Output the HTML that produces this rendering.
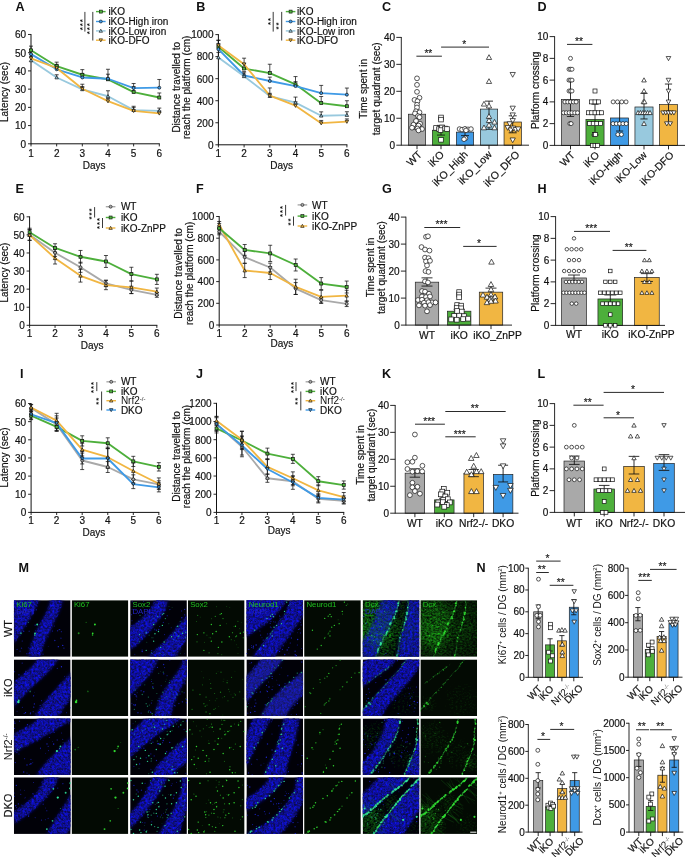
<!DOCTYPE html>
<html><head><meta charset="utf-8"><title>Figure</title>
<style>html,body{margin:0;padding:0;background:#fff;}body{width:685px;height:857px;overflow:hidden;font-family:"Liberation Sans",sans-serif;}svg{display:block;will-change:transform;opacity:0.999;}</style></head>
<body>
<svg width="685" height="857" viewBox="0 0 685 857" font-family="'Liberation Sans', sans-serif">
<rect width="685" height="857" fill="#fff"/>
<defs><filter id="sp0" x="-10%" y="-10%" width="120%" height="120%" color-interpolation-filters="sRGB"><feGaussianBlur in="SourceGraphic" stdDeviation="2.3" result="b"/><feTurbulence type="fractalNoise" baseFrequency="0.44" numOctaves="2" seed="11" result="t"/><feColorMatrix in="t" type="matrix" values="0 0 0 0 0.055  0 0 0 0 0.06  0 1.0 0 0 0.16  1 0 0 0 0" result="n"/><feComposite in="b" in2="n" operator="arithmetic" k1="1" k2="0" k3="0" k4="0" result="p"/><feColorMatrix in="p" type="matrix" values="1 0 0 0 0  0 1 0 0 0  0 0 1 0 0  0 0 0 4.2 -1.1"/></filter><filter id="gn0" x="-40%" y="-40%" width="180%" height="180%" color-interpolation-filters="sRGB"><feGaussianBlur in="SourceGraphic" stdDeviation="4.5" result="b"/><feTurbulence type="fractalNoise" baseFrequency="0.45 0.6" numOctaves="2" seed="14" result="t"/><feColorMatrix in="t" type="matrix" values="0 0 0 0 0.10  0 0.7 0 0 0.28  0 0 0 0 0.08  1 0 0 0 0" result="n"/><feComposite in="b" in2="n" operator="arithmetic" k1="1" k2="0" k3="0" k4="0" result="p"/><feColorMatrix in="p" type="matrix" values="1 0 0 0 0  0 1 0 0 0  0 0 1 0 0  0 0 0 2.0 -0.2"/></filter><filter id="sp1" x="-10%" y="-10%" width="120%" height="120%" color-interpolation-filters="sRGB"><feGaussianBlur in="SourceGraphic" stdDeviation="2.3" result="b"/><feTurbulence type="fractalNoise" baseFrequency="0.44" numOctaves="2" seed="23" result="t"/><feColorMatrix in="t" type="matrix" values="0 0 0 0 0.055  0 0 0 0 0.06  0 1.0 0 0 0.16  1 0 0 0 0" result="n"/><feComposite in="b" in2="n" operator="arithmetic" k1="1" k2="0" k3="0" k4="0" result="p"/><feColorMatrix in="p" type="matrix" values="1 0 0 0 0  0 1 0 0 0  0 0 1 0 0  0 0 0 4.2 -1.1"/></filter><filter id="gn1" x="-40%" y="-40%" width="180%" height="180%" color-interpolation-filters="sRGB"><feGaussianBlur in="SourceGraphic" stdDeviation="4.5" result="b"/><feTurbulence type="fractalNoise" baseFrequency="0.45 0.6" numOctaves="2" seed="26" result="t"/><feColorMatrix in="t" type="matrix" values="0 0 0 0 0.10  0 0.7 0 0 0.28  0 0 0 0 0.08  1 0 0 0 0" result="n"/><feComposite in="b" in2="n" operator="arithmetic" k1="1" k2="0" k3="0" k4="0" result="p"/><feColorMatrix in="p" type="matrix" values="1 0 0 0 0  0 1 0 0 0  0 0 1 0 0  0 0 0 2.0 -0.2"/></filter><filter id="sp2" x="-10%" y="-10%" width="120%" height="120%" color-interpolation-filters="sRGB"><feGaussianBlur in="SourceGraphic" stdDeviation="2.3" result="b"/><feTurbulence type="fractalNoise" baseFrequency="0.44" numOctaves="2" seed="37" result="t"/><feColorMatrix in="t" type="matrix" values="0 0 0 0 0.055  0 0 0 0 0.06  0 1.0 0 0 0.16  1 0 0 0 0" result="n"/><feComposite in="b" in2="n" operator="arithmetic" k1="1" k2="0" k3="0" k4="0" result="p"/><feColorMatrix in="p" type="matrix" values="1 0 0 0 0  0 1 0 0 0  0 0 1 0 0  0 0 0 4.2 -1.1"/></filter><filter id="gn2" x="-40%" y="-40%" width="180%" height="180%" color-interpolation-filters="sRGB"><feGaussianBlur in="SourceGraphic" stdDeviation="4.5" result="b"/><feTurbulence type="fractalNoise" baseFrequency="0.45 0.6" numOctaves="2" seed="40" result="t"/><feColorMatrix in="t" type="matrix" values="0 0 0 0 0.10  0 0.7 0 0 0.28  0 0 0 0 0.08  1 0 0 0 0" result="n"/><feComposite in="b" in2="n" operator="arithmetic" k1="1" k2="0" k3="0" k4="0" result="p"/><feColorMatrix in="p" type="matrix" values="1 0 0 0 0  0 1 0 0 0  0 0 1 0 0  0 0 0 2.0 -0.2"/></filter><filter id="sp3" x="-10%" y="-10%" width="120%" height="120%" color-interpolation-filters="sRGB"><feGaussianBlur in="SourceGraphic" stdDeviation="2.3" result="b"/><feTurbulence type="fractalNoise" baseFrequency="0.44" numOctaves="2" seed="5" result="t"/><feColorMatrix in="t" type="matrix" values="0 0 0 0 0.055  0 0 0 0 0.06  0 1.0 0 0 0.16  1 0 0 0 0" result="n"/><feComposite in="b" in2="n" operator="arithmetic" k1="1" k2="0" k3="0" k4="0" result="p"/><feColorMatrix in="p" type="matrix" values="1 0 0 0 0  0 1 0 0 0  0 0 1 0 0  0 0 0 4.2 -1.1"/></filter><filter id="gn3" x="-40%" y="-40%" width="180%" height="180%" color-interpolation-filters="sRGB"><feGaussianBlur in="SourceGraphic" stdDeviation="4.5" result="b"/><feTurbulence type="fractalNoise" baseFrequency="0.45 0.6" numOctaves="2" seed="8" result="t"/><feColorMatrix in="t" type="matrix" values="0 0 0 0 0.10  0 0.7 0 0 0.28  0 0 0 0 0.08  1 0 0 0 0" result="n"/><feComposite in="b" in2="n" operator="arithmetic" k1="1" k2="0" k3="0" k4="0" result="p"/><feColorMatrix in="p" type="matrix" values="1 0 0 0 0  0 1 0 0 0  0 0 1 0 0  0 0 0 2.0 -0.2"/></filter><filter id="bb" x="-10%" y="-10%" width="120%" height="120%"><feGaussianBlur stdDeviation="1.6"/></filter><filter id="gb" x="-50%" y="-50%" width="200%" height="200%"><feGaussianBlur stdDeviation="0.3"/></filter><clipPath id="c1"><rect x="0" y="0" width="56.7" height="56.6"/></clipPath><clipPath id="c2"><rect x="0" y="0" width="56.7" height="56.6"/></clipPath><clipPath id="c3"><rect x="0" y="0" width="56.7" height="56.6"/></clipPath><clipPath id="c4"><rect x="0" y="0" width="56.7" height="56.6"/></clipPath><clipPath id="c5"><rect x="0" y="0" width="56.7" height="56.6"/></clipPath><clipPath id="c6"><rect x="0" y="0" width="56.7" height="56.6"/></clipPath><clipPath id="c7"><rect x="0" y="0" width="56.7" height="56.6"/></clipPath><clipPath id="c8"><rect x="0" y="0" width="56.7" height="56.6"/></clipPath><clipPath id="c9"><rect x="0" y="0" width="56.7" height="56.6"/></clipPath><clipPath id="c10"><rect x="0" y="0" width="56.7" height="56.6"/></clipPath><clipPath id="c11"><rect x="0" y="0" width="56.7" height="56.6"/></clipPath><clipPath id="c12"><rect x="0" y="0" width="56.7" height="56.6"/></clipPath><clipPath id="c13"><rect x="0" y="0" width="56.7" height="56.6"/></clipPath><clipPath id="c14"><rect x="0" y="0" width="56.7" height="56.6"/></clipPath><clipPath id="c15"><rect x="0" y="0" width="56.7" height="56.6"/></clipPath><clipPath id="c16"><rect x="0" y="0" width="56.7" height="56.6"/></clipPath></defs>
<text x="15.5" y="10.7" font-size="12.6" text-anchor="start" font-weight="bold" fill="#111">A</text>
<line x1="31" y1="34.03" x2="31" y2="144.25" stroke="#111" stroke-width="1"/>
<line x1="31" y1="143.8" x2="159.8" y2="143.8" stroke="#111" stroke-width="1"/>
<line x1="28" y1="143.8" x2="31" y2="143.8" stroke="#111" stroke-width="0.9"/>
<text x="26.1" y="147.65" font-size="10" text-anchor="end" fill="#111" stroke="#111" stroke-width="0.18">0</text>
<line x1="28" y1="125.58" x2="31" y2="125.58" stroke="#111" stroke-width="0.9"/>
<text x="26.1" y="129.43" font-size="10" text-anchor="end" fill="#111" stroke="#111" stroke-width="0.18">10</text>
<line x1="28" y1="107.36" x2="31" y2="107.36" stroke="#111" stroke-width="0.9"/>
<text x="26.1" y="111.21" font-size="10" text-anchor="end" fill="#111" stroke="#111" stroke-width="0.18">20</text>
<line x1="28" y1="89.14" x2="31" y2="89.14" stroke="#111" stroke-width="0.9"/>
<text x="26.1" y="92.99" font-size="10" text-anchor="end" fill="#111" stroke="#111" stroke-width="0.18">30</text>
<line x1="28" y1="70.92" x2="31" y2="70.92" stroke="#111" stroke-width="0.9"/>
<text x="26.1" y="74.77" font-size="10" text-anchor="end" fill="#111" stroke="#111" stroke-width="0.18">40</text>
<line x1="28" y1="52.7" x2="31" y2="52.7" stroke="#111" stroke-width="0.9"/>
<text x="26.1" y="56.55" font-size="10" text-anchor="end" fill="#111" stroke="#111" stroke-width="0.18">50</text>
<line x1="28" y1="34.48" x2="31" y2="34.48" stroke="#111" stroke-width="0.9"/>
<text x="26.1" y="38.33" font-size="10" text-anchor="end" fill="#111" stroke="#111" stroke-width="0.18">60</text>
<line x1="31" y1="143.8" x2="31" y2="146.4" stroke="#111" stroke-width="0.9"/>
<text x="31" y="156.6" font-size="10" text-anchor="middle" fill="#111" stroke="#111" stroke-width="0.18">1</text>
<line x1="56.66" y1="143.8" x2="56.66" y2="146.4" stroke="#111" stroke-width="0.9"/>
<text x="56.66" y="156.6" font-size="10" text-anchor="middle" fill="#111" stroke="#111" stroke-width="0.18">2</text>
<line x1="82.32" y1="143.8" x2="82.32" y2="146.4" stroke="#111" stroke-width="0.9"/>
<text x="82.32" y="156.6" font-size="10" text-anchor="middle" fill="#111" stroke="#111" stroke-width="0.18">3</text>
<line x1="107.98" y1="143.8" x2="107.98" y2="146.4" stroke="#111" stroke-width="0.9"/>
<text x="107.98" y="156.6" font-size="10" text-anchor="middle" fill="#111" stroke="#111" stroke-width="0.18">4</text>
<line x1="133.64" y1="143.8" x2="133.64" y2="146.4" stroke="#111" stroke-width="0.9"/>
<text x="133.64" y="156.6" font-size="10" text-anchor="middle" fill="#111" stroke="#111" stroke-width="0.18">5</text>
<line x1="159.3" y1="143.8" x2="159.3" y2="146.4" stroke="#111" stroke-width="0.9"/>
<text x="159.3" y="156.6" font-size="10" text-anchor="middle" fill="#111" stroke="#111" stroke-width="0.18">6</text>
<text x="94.15" y="168.8" font-size="10" text-anchor="middle" fill="#111" stroke="#111" stroke-width="0.18">Days</text>
<text x="8.2" y="92" font-size="10" text-anchor="middle" transform="rotate(-90 8.2 92)" fill="#111" stroke="#111" stroke-width="0.18">Latency (sec)</text>
<polyline points="31,50.33 56.66,66.18 82.32,74.75 107.98,79.3 133.64,92.06 159.3,97.52" fill="none" stroke="#4DAF3B" stroke-width="1.85" stroke-linejoin="round"/>
<polyline points="31,54.16 56.66,69.28 82.32,77.48 107.98,78.75 133.64,88.05 159.3,87.68" fill="none" stroke="#3F9AE6" stroke-width="1.85" stroke-linejoin="round"/>
<polyline points="31,60.35 56.66,77.48 82.32,89.32 107.98,96.25 133.64,110.09 159.3,110.82" fill="none" stroke="#98C9DE" stroke-width="1.85" stroke-linejoin="round"/>
<polyline points="31,58.35 56.66,68 82.32,88.78 107.98,101.17 133.64,110.82 159.3,113.37" fill="none" stroke="#F1B642" stroke-width="1.85" stroke-linejoin="round"/>
<line x1="31" y1="50.33" x2="31" y2="46.14" stroke="#111" stroke-width="0.75"/>
<line x1="29" y1="46.14" x2="33" y2="46.14" stroke="#111" stroke-width="0.75"/>
<line x1="56.66" y1="66.18" x2="56.66" y2="62.17" stroke="#111" stroke-width="0.75"/>
<line x1="54.66" y1="62.17" x2="58.66" y2="62.17" stroke="#111" stroke-width="0.75"/>
<line x1="82.32" y1="74.75" x2="82.32" y2="69.64" stroke="#111" stroke-width="0.75"/>
<line x1="80.32" y1="69.64" x2="84.32" y2="69.64" stroke="#111" stroke-width="0.75"/>
<line x1="107.98" y1="79.3" x2="107.98" y2="69.28" stroke="#111" stroke-width="0.75"/>
<line x1="105.98" y1="69.28" x2="109.98" y2="69.28" stroke="#111" stroke-width="0.75"/>
<line x1="133.64" y1="92.06" x2="133.64" y2="86.59" stroke="#111" stroke-width="0.75"/>
<line x1="131.64" y1="86.59" x2="135.64" y2="86.59" stroke="#111" stroke-width="0.75"/>
<line x1="159.3" y1="97.52" x2="159.3" y2="92.97" stroke="#111" stroke-width="0.75"/>
<line x1="157.3" y1="92.97" x2="161.3" y2="92.97" stroke="#111" stroke-width="0.75"/>
<line x1="31" y1="54.16" x2="31" y2="49.6" stroke="#111" stroke-width="0.75"/>
<line x1="29" y1="49.6" x2="33" y2="49.6" stroke="#111" stroke-width="0.75"/>
<line x1="56.66" y1="69.28" x2="56.66" y2="65.64" stroke="#111" stroke-width="0.75"/>
<line x1="54.66" y1="65.64" x2="58.66" y2="65.64" stroke="#111" stroke-width="0.75"/>
<line x1="82.32" y1="77.48" x2="82.32" y2="73.84" stroke="#111" stroke-width="0.75"/>
<line x1="80.32" y1="73.84" x2="84.32" y2="73.84" stroke="#111" stroke-width="0.75"/>
<line x1="107.98" y1="78.75" x2="107.98" y2="74.2" stroke="#111" stroke-width="0.75"/>
<line x1="105.98" y1="74.2" x2="109.98" y2="74.2" stroke="#111" stroke-width="0.75"/>
<line x1="133.64" y1="88.05" x2="133.64" y2="83.49" stroke="#111" stroke-width="0.75"/>
<line x1="131.64" y1="83.49" x2="135.64" y2="83.49" stroke="#111" stroke-width="0.75"/>
<line x1="159.3" y1="87.68" x2="159.3" y2="79.48" stroke="#111" stroke-width="0.75"/>
<line x1="157.3" y1="79.48" x2="161.3" y2="79.48" stroke="#111" stroke-width="0.75"/>
<line x1="31" y1="60.35" x2="31" y2="56.71" stroke="#111" stroke-width="0.75"/>
<line x1="29" y1="56.71" x2="33" y2="56.71" stroke="#111" stroke-width="0.75"/>
<line x1="56.66" y1="77.48" x2="56.66" y2="74.75" stroke="#111" stroke-width="0.75"/>
<line x1="54.66" y1="74.75" x2="58.66" y2="74.75" stroke="#111" stroke-width="0.75"/>
<line x1="82.32" y1="89.32" x2="82.32" y2="86.59" stroke="#111" stroke-width="0.75"/>
<line x1="80.32" y1="86.59" x2="84.32" y2="86.59" stroke="#111" stroke-width="0.75"/>
<line x1="107.98" y1="96.25" x2="107.98" y2="90.78" stroke="#111" stroke-width="0.75"/>
<line x1="105.98" y1="90.78" x2="109.98" y2="90.78" stroke="#111" stroke-width="0.75"/>
<line x1="133.64" y1="110.09" x2="133.64" y2="107.36" stroke="#111" stroke-width="0.75"/>
<line x1="131.64" y1="107.36" x2="135.64" y2="107.36" stroke="#111" stroke-width="0.75"/>
<line x1="159.3" y1="110.82" x2="159.3" y2="108.09" stroke="#111" stroke-width="0.75"/>
<line x1="157.3" y1="108.09" x2="161.3" y2="108.09" stroke="#111" stroke-width="0.75"/>
<line x1="31" y1="58.35" x2="31" y2="54.7" stroke="#111" stroke-width="0.75"/>
<line x1="29" y1="54.7" x2="33" y2="54.7" stroke="#111" stroke-width="0.75"/>
<line x1="56.66" y1="68" x2="56.66" y2="64.36" stroke="#111" stroke-width="0.75"/>
<line x1="54.66" y1="64.36" x2="58.66" y2="64.36" stroke="#111" stroke-width="0.75"/>
<line x1="82.32" y1="88.78" x2="82.32" y2="84.22" stroke="#111" stroke-width="0.75"/>
<line x1="80.32" y1="84.22" x2="84.32" y2="84.22" stroke="#111" stroke-width="0.75"/>
<line x1="107.98" y1="101.17" x2="107.98" y2="98.43" stroke="#111" stroke-width="0.75"/>
<line x1="105.98" y1="98.43" x2="109.98" y2="98.43" stroke="#111" stroke-width="0.75"/>
<line x1="133.64" y1="110.82" x2="133.64" y2="106.27" stroke="#111" stroke-width="0.75"/>
<line x1="131.64" y1="106.27" x2="135.64" y2="106.27" stroke="#111" stroke-width="0.75"/>
<line x1="159.3" y1="113.37" x2="159.3" y2="111" stroke="#111" stroke-width="0.75"/>
<line x1="157.3" y1="111" x2="161.3" y2="111" stroke="#111" stroke-width="0.75"/>
<rect x="29.5" y="48.83" width="3" height="3" fill="#4DAF3B" stroke="#111" stroke-width="0.7"/>
<rect x="55.16" y="64.68" width="3" height="3" fill="#4DAF3B" stroke="#111" stroke-width="0.7"/>
<rect x="80.82" y="73.25" width="3" height="3" fill="#4DAF3B" stroke="#111" stroke-width="0.7"/>
<rect x="106.48" y="77.8" width="3" height="3" fill="#4DAF3B" stroke="#111" stroke-width="0.7"/>
<rect x="132.14" y="90.56" width="3" height="3" fill="#4DAF3B" stroke="#111" stroke-width="0.7"/>
<rect x="157.8" y="96.02" width="3" height="3" fill="#4DAF3B" stroke="#111" stroke-width="0.7"/>
<circle cx="31" cy="54.16" r="1.5" fill="#3F9AE6" stroke="#111" stroke-width="0.7"/>
<circle cx="56.66" cy="69.28" r="1.5" fill="#3F9AE6" stroke="#111" stroke-width="0.7"/>
<circle cx="82.32" cy="77.48" r="1.5" fill="#3F9AE6" stroke="#111" stroke-width="0.7"/>
<circle cx="107.98" cy="78.75" r="1.5" fill="#3F9AE6" stroke="#111" stroke-width="0.7"/>
<circle cx="133.64" cy="88.05" r="1.5" fill="#3F9AE6" stroke="#111" stroke-width="0.7"/>
<circle cx="159.3" cy="87.68" r="1.5" fill="#3F9AE6" stroke="#111" stroke-width="0.7"/>
<path d="M31 58.63 L32.73 61.73 L29.27 61.73 Z" fill="#98C9DE" stroke="#111" stroke-width="0.7"/>
<path d="M56.66 75.75 L58.38 78.86 L54.93 78.86 Z" fill="#98C9DE" stroke="#111" stroke-width="0.7"/>
<path d="M82.32 87.6 L84.04 90.7 L80.59 90.7 Z" fill="#98C9DE" stroke="#111" stroke-width="0.7"/>
<path d="M107.98 94.52 L109.7 97.63 L106.26 97.63 Z" fill="#98C9DE" stroke="#111" stroke-width="0.7"/>
<path d="M133.64 108.37 L135.36 111.47 L131.91 111.47 Z" fill="#98C9DE" stroke="#111" stroke-width="0.7"/>
<path d="M159.3 109.1 L161.03 112.2 L157.58 112.2 Z" fill="#98C9DE" stroke="#111" stroke-width="0.7"/>
<path d="M31 60.07 L32.73 56.97 L29.27 56.97 Z" fill="#F1B642" stroke="#111" stroke-width="0.7"/>
<path d="M56.66 69.73 L58.38 66.62 L54.93 66.62 Z" fill="#F1B642" stroke="#111" stroke-width="0.7"/>
<path d="M82.32 90.5 L84.04 87.4 L80.59 87.4 Z" fill="#F1B642" stroke="#111" stroke-width="0.7"/>
<path d="M107.98 102.89 L109.7 99.79 L106.26 99.79 Z" fill="#F1B642" stroke="#111" stroke-width="0.7"/>
<path d="M133.64 112.55 L135.36 109.44 L131.91 109.44 Z" fill="#F1B642" stroke="#111" stroke-width="0.7"/>
<path d="M159.3 115.1 L161.03 111.99 L157.58 111.99 Z" fill="#F1B642" stroke="#111" stroke-width="0.7"/>
<line x1="96" y1="11.6" x2="105.6" y2="11.6" stroke="#4DAF3B" stroke-width="1.4"/>
<rect x="99.3" y="10.1" width="3" height="3" fill="#4DAF3B" stroke="#111" stroke-width="0.6"/>
<text x="108.4" y="15.2" font-size="10" text-anchor="start" fill="#111" stroke="#111" stroke-width="0.18">iKO</text>
<line x1="96" y1="21.5" x2="105.6" y2="21.5" stroke="#3F9AE6" stroke-width="1.4"/>
<circle cx="100.8" cy="21.5" r="1.5" fill="#3F9AE6" stroke="#111" stroke-width="0.6"/>
<text x="108.4" y="25.1" font-size="10" text-anchor="start" fill="#111" stroke="#111" stroke-width="0.18">iKO-High iron</text>
<line x1="96" y1="30.9" x2="105.6" y2="30.9" stroke="#98C9DE" stroke-width="1.4"/>
<path d="M100.8 29.17 L102.52 32.28 L99.08 32.28 Z" fill="#98C9DE" stroke="#111" stroke-width="0.6"/>
<text x="108.4" y="34.5" font-size="10" text-anchor="start" fill="#111" stroke="#111" stroke-width="0.18">iKO-Low iron</text>
<line x1="96" y1="40.2" x2="105.6" y2="40.2" stroke="#F1B642" stroke-width="1.4"/>
<path d="M100.8 41.93 L102.52 38.82 L99.08 38.82 Z" fill="#F1B642" stroke="#111" stroke-width="0.6"/>
<text x="108.4" y="43.8" font-size="10" text-anchor="start" fill="#111" stroke="#111" stroke-width="0.18">iKO-DFO</text>
<line x1="84.9" y1="11.9" x2="84.9" y2="31.6" stroke="#222" stroke-width="0.9"/>
<text x="84.5" y="24.25" font-size="8" text-anchor="middle" transform="rotate(-90 84.5 24.25)" font-weight="bold" fill="#111" letter-spacing="0.9">***</text>
<line x1="92.8" y1="11.9" x2="92.8" y2="40.5" stroke="#222" stroke-width="0.9"/>
<text x="92.4" y="28.15" font-size="8" text-anchor="middle" transform="rotate(-90 92.4 28.15)" font-weight="bold" fill="#111" letter-spacing="0.9">***</text>
<text x="196.3" y="10.7" font-size="12.6" text-anchor="start" font-weight="bold" fill="#111">B</text>
<line x1="218.4" y1="34.15" x2="218.4" y2="145.25" stroke="#111" stroke-width="1"/>
<line x1="218.4" y1="144.8" x2="347.4" y2="144.8" stroke="#111" stroke-width="1"/>
<line x1="215.4" y1="144.8" x2="218.4" y2="144.8" stroke="#111" stroke-width="0.9"/>
<text x="213.5" y="148.65" font-size="10" text-anchor="end" fill="#111" stroke="#111" stroke-width="0.18">0</text>
<line x1="215.4" y1="122.76" x2="218.4" y2="122.76" stroke="#111" stroke-width="0.9"/>
<text x="213.5" y="126.61" font-size="10" text-anchor="end" fill="#111" stroke="#111" stroke-width="0.18">200</text>
<line x1="215.4" y1="100.72" x2="218.4" y2="100.72" stroke="#111" stroke-width="0.9"/>
<text x="213.5" y="104.57" font-size="10" text-anchor="end" fill="#111" stroke="#111" stroke-width="0.18">400</text>
<line x1="215.4" y1="78.68" x2="218.4" y2="78.68" stroke="#111" stroke-width="0.9"/>
<text x="213.5" y="82.53" font-size="10" text-anchor="end" fill="#111" stroke="#111" stroke-width="0.18">600</text>
<line x1="215.4" y1="56.64" x2="218.4" y2="56.64" stroke="#111" stroke-width="0.9"/>
<text x="213.5" y="60.49" font-size="10" text-anchor="end" fill="#111" stroke="#111" stroke-width="0.18">800</text>
<line x1="215.4" y1="34.6" x2="218.4" y2="34.6" stroke="#111" stroke-width="0.9"/>
<text x="213.5" y="38.45" font-size="10" text-anchor="end" fill="#111" stroke="#111" stroke-width="0.18">1000</text>
<line x1="218.4" y1="144.8" x2="218.4" y2="147.4" stroke="#111" stroke-width="0.9"/>
<text x="218.4" y="157.1" font-size="10" text-anchor="middle" fill="#111" stroke="#111" stroke-width="0.18">1</text>
<line x1="244.1" y1="144.8" x2="244.1" y2="147.4" stroke="#111" stroke-width="0.9"/>
<text x="244.1" y="157.1" font-size="10" text-anchor="middle" fill="#111" stroke="#111" stroke-width="0.18">2</text>
<line x1="269.8" y1="144.8" x2="269.8" y2="147.4" stroke="#111" stroke-width="0.9"/>
<text x="269.8" y="157.1" font-size="10" text-anchor="middle" fill="#111" stroke="#111" stroke-width="0.18">3</text>
<line x1="295.5" y1="144.8" x2="295.5" y2="147.4" stroke="#111" stroke-width="0.9"/>
<text x="295.5" y="157.1" font-size="10" text-anchor="middle" fill="#111" stroke="#111" stroke-width="0.18">4</text>
<line x1="321.2" y1="144.8" x2="321.2" y2="147.4" stroke="#111" stroke-width="0.9"/>
<text x="321.2" y="157.1" font-size="10" text-anchor="middle" fill="#111" stroke="#111" stroke-width="0.18">5</text>
<line x1="346.9" y1="144.8" x2="346.9" y2="147.4" stroke="#111" stroke-width="0.9"/>
<text x="346.9" y="157.1" font-size="10" text-anchor="middle" fill="#111" stroke="#111" stroke-width="0.18">6</text>
<text x="281.65" y="168.8" font-size="10" text-anchor="middle" fill="#111" stroke="#111" stroke-width="0.18">Days</text>
<text x="179.7" y="87.3" font-size="10" text-anchor="middle" transform="rotate(-90 179.7 87.3)" fill="#111" stroke="#111" stroke-width="0.18">Distance travelled to</text>
<text x="190" y="87.3" font-size="10" text-anchor="middle" transform="rotate(-90 190 87.3)" fill="#111" stroke="#111" stroke-width="0.18">reach the platform (cm)</text>
<polyline points="218.4,46.72 244.1,68.54 269.8,73.06 295.5,84.3 321.2,103.14 346.9,106.23" fill="none" stroke="#4DAF3B" stroke-width="1.85" stroke-linejoin="round"/>
<polyline points="218.4,49.15 244.1,75.48 269.8,80.99 295.5,86.06 321.2,93.12 346.9,94.66" fill="none" stroke="#3F9AE6" stroke-width="1.85" stroke-linejoin="round"/>
<polyline points="218.4,57.41 244.1,76.26 269.8,96.09 295.5,102.59 321.2,115.71 346.9,115.05" fill="none" stroke="#98C9DE" stroke-width="1.85" stroke-linejoin="round"/>
<polyline points="218.4,45.4 244.1,64.24 269.8,95.65 295.5,105.68 321.2,123.2 346.9,121.66" fill="none" stroke="#F1B642" stroke-width="1.85" stroke-linejoin="round"/>
<line x1="218.4" y1="46.72" x2="218.4" y2="40.11" stroke="#111" stroke-width="0.75"/>
<line x1="216.4" y1="40.11" x2="220.4" y2="40.11" stroke="#111" stroke-width="0.75"/>
<line x1="244.1" y1="68.54" x2="244.1" y2="63.58" stroke="#111" stroke-width="0.75"/>
<line x1="242.1" y1="63.58" x2="246.1" y2="63.58" stroke="#111" stroke-width="0.75"/>
<line x1="269.8" y1="73.06" x2="269.8" y2="64.24" stroke="#111" stroke-width="0.75"/>
<line x1="267.8" y1="64.24" x2="271.8" y2="64.24" stroke="#111" stroke-width="0.75"/>
<line x1="295.5" y1="84.3" x2="295.5" y2="76.59" stroke="#111" stroke-width="0.75"/>
<line x1="293.5" y1="76.59" x2="297.5" y2="76.59" stroke="#111" stroke-width="0.75"/>
<line x1="321.2" y1="103.14" x2="321.2" y2="96.53" stroke="#111" stroke-width="0.75"/>
<line x1="319.2" y1="96.53" x2="323.2" y2="96.53" stroke="#111" stroke-width="0.75"/>
<line x1="346.9" y1="106.23" x2="346.9" y2="100.72" stroke="#111" stroke-width="0.75"/>
<line x1="344.9" y1="100.72" x2="348.9" y2="100.72" stroke="#111" stroke-width="0.75"/>
<line x1="218.4" y1="49.15" x2="218.4" y2="43.64" stroke="#111" stroke-width="0.75"/>
<line x1="216.4" y1="43.64" x2="220.4" y2="43.64" stroke="#111" stroke-width="0.75"/>
<line x1="244.1" y1="75.48" x2="244.1" y2="71.63" stroke="#111" stroke-width="0.75"/>
<line x1="242.1" y1="71.63" x2="246.1" y2="71.63" stroke="#111" stroke-width="0.75"/>
<line x1="269.8" y1="80.99" x2="269.8" y2="77.14" stroke="#111" stroke-width="0.75"/>
<line x1="267.8" y1="77.14" x2="271.8" y2="77.14" stroke="#111" stroke-width="0.75"/>
<line x1="295.5" y1="86.06" x2="295.5" y2="81.66" stroke="#111" stroke-width="0.75"/>
<line x1="293.5" y1="81.66" x2="297.5" y2="81.66" stroke="#111" stroke-width="0.75"/>
<line x1="321.2" y1="93.12" x2="321.2" y2="85.4" stroke="#111" stroke-width="0.75"/>
<line x1="319.2" y1="85.4" x2="323.2" y2="85.4" stroke="#111" stroke-width="0.75"/>
<line x1="346.9" y1="94.66" x2="346.9" y2="88.05" stroke="#111" stroke-width="0.75"/>
<line x1="344.9" y1="88.05" x2="348.9" y2="88.05" stroke="#111" stroke-width="0.75"/>
<line x1="218.4" y1="57.41" x2="218.4" y2="52.45" stroke="#111" stroke-width="0.75"/>
<line x1="216.4" y1="52.45" x2="220.4" y2="52.45" stroke="#111" stroke-width="0.75"/>
<line x1="244.1" y1="76.26" x2="244.1" y2="72.95" stroke="#111" stroke-width="0.75"/>
<line x1="242.1" y1="72.95" x2="246.1" y2="72.95" stroke="#111" stroke-width="0.75"/>
<line x1="269.8" y1="96.09" x2="269.8" y2="93.34" stroke="#111" stroke-width="0.75"/>
<line x1="267.8" y1="93.34" x2="271.8" y2="93.34" stroke="#111" stroke-width="0.75"/>
<line x1="295.5" y1="102.59" x2="295.5" y2="97.08" stroke="#111" stroke-width="0.75"/>
<line x1="293.5" y1="97.08" x2="297.5" y2="97.08" stroke="#111" stroke-width="0.75"/>
<line x1="321.2" y1="115.71" x2="321.2" y2="111.85" stroke="#111" stroke-width="0.75"/>
<line x1="319.2" y1="111.85" x2="323.2" y2="111.85" stroke="#111" stroke-width="0.75"/>
<line x1="346.9" y1="115.05" x2="346.9" y2="111.74" stroke="#111" stroke-width="0.75"/>
<line x1="344.9" y1="111.74" x2="348.9" y2="111.74" stroke="#111" stroke-width="0.75"/>
<line x1="218.4" y1="45.4" x2="218.4" y2="40.44" stroke="#111" stroke-width="0.75"/>
<line x1="216.4" y1="40.44" x2="220.4" y2="40.44" stroke="#111" stroke-width="0.75"/>
<line x1="244.1" y1="64.24" x2="244.1" y2="58.18" stroke="#111" stroke-width="0.75"/>
<line x1="242.1" y1="58.18" x2="246.1" y2="58.18" stroke="#111" stroke-width="0.75"/>
<line x1="269.8" y1="95.65" x2="269.8" y2="87.94" stroke="#111" stroke-width="0.75"/>
<line x1="267.8" y1="87.94" x2="271.8" y2="87.94" stroke="#111" stroke-width="0.75"/>
<line x1="295.5" y1="105.68" x2="295.5" y2="101.82" stroke="#111" stroke-width="0.75"/>
<line x1="293.5" y1="101.82" x2="297.5" y2="101.82" stroke="#111" stroke-width="0.75"/>
<line x1="321.2" y1="123.2" x2="321.2" y2="120.45" stroke="#111" stroke-width="0.75"/>
<line x1="319.2" y1="120.45" x2="323.2" y2="120.45" stroke="#111" stroke-width="0.75"/>
<line x1="346.9" y1="121.66" x2="346.9" y2="118.9" stroke="#111" stroke-width="0.75"/>
<line x1="344.9" y1="118.9" x2="348.9" y2="118.9" stroke="#111" stroke-width="0.75"/>
<rect x="216.9" y="45.22" width="3" height="3" fill="#4DAF3B" stroke="#111" stroke-width="0.7"/>
<rect x="242.6" y="67.04" width="3" height="3" fill="#4DAF3B" stroke="#111" stroke-width="0.7"/>
<rect x="268.3" y="71.56" width="3" height="3" fill="#4DAF3B" stroke="#111" stroke-width="0.7"/>
<rect x="294" y="82.8" width="3" height="3" fill="#4DAF3B" stroke="#111" stroke-width="0.7"/>
<rect x="319.7" y="101.64" width="3" height="3" fill="#4DAF3B" stroke="#111" stroke-width="0.7"/>
<rect x="345.4" y="104.73" width="3" height="3" fill="#4DAF3B" stroke="#111" stroke-width="0.7"/>
<circle cx="218.4" cy="49.15" r="1.5" fill="#3F9AE6" stroke="#111" stroke-width="0.7"/>
<circle cx="244.1" cy="75.48" r="1.5" fill="#3F9AE6" stroke="#111" stroke-width="0.7"/>
<circle cx="269.8" cy="80.99" r="1.5" fill="#3F9AE6" stroke="#111" stroke-width="0.7"/>
<circle cx="295.5" cy="86.06" r="1.5" fill="#3F9AE6" stroke="#111" stroke-width="0.7"/>
<circle cx="321.2" cy="93.12" r="1.5" fill="#3F9AE6" stroke="#111" stroke-width="0.7"/>
<circle cx="346.9" cy="94.66" r="1.5" fill="#3F9AE6" stroke="#111" stroke-width="0.7"/>
<path d="M218.4 55.69 L220.12 58.79 L216.68 58.79 Z" fill="#98C9DE" stroke="#111" stroke-width="0.7"/>
<path d="M244.1 74.53 L245.82 77.64 L242.38 77.64 Z" fill="#98C9DE" stroke="#111" stroke-width="0.7"/>
<path d="M269.8 94.37 L271.53 97.47 L268.07 97.47 Z" fill="#98C9DE" stroke="#111" stroke-width="0.7"/>
<path d="M295.5 100.87 L297.23 103.97 L293.77 103.97 Z" fill="#98C9DE" stroke="#111" stroke-width="0.7"/>
<path d="M321.2 113.98 L322.93 117.09 L319.47 117.09 Z" fill="#98C9DE" stroke="#111" stroke-width="0.7"/>
<path d="M346.9 113.32 L348.62 116.43 L345.17 116.43 Z" fill="#98C9DE" stroke="#111" stroke-width="0.7"/>
<path d="M218.4 47.12 L220.12 44.02 L216.68 44.02 Z" fill="#F1B642" stroke="#111" stroke-width="0.7"/>
<path d="M244.1 65.97 L245.82 62.86 L242.38 62.86 Z" fill="#F1B642" stroke="#111" stroke-width="0.7"/>
<path d="M269.8 97.38 L271.53 94.27 L268.07 94.27 Z" fill="#F1B642" stroke="#111" stroke-width="0.7"/>
<path d="M295.5 107.4 L297.23 104.3 L293.77 104.3 Z" fill="#F1B642" stroke="#111" stroke-width="0.7"/>
<path d="M321.2 124.93 L322.93 121.82 L319.47 121.82 Z" fill="#F1B642" stroke="#111" stroke-width="0.7"/>
<path d="M346.9 123.38 L348.62 120.28 L345.17 120.28 Z" fill="#F1B642" stroke="#111" stroke-width="0.7"/>
<line x1="285.8" y1="11.6" x2="295.4" y2="11.6" stroke="#4DAF3B" stroke-width="1.4"/>
<rect x="289.1" y="10.1" width="3" height="3" fill="#4DAF3B" stroke="#111" stroke-width="0.6"/>
<text x="296.9" y="15.2" font-size="10" text-anchor="start" fill="#111" stroke="#111" stroke-width="0.18">iKO</text>
<line x1="285.8" y1="21.5" x2="295.4" y2="21.5" stroke="#3F9AE6" stroke-width="1.4"/>
<circle cx="290.6" cy="21.5" r="1.5" fill="#3F9AE6" stroke="#111" stroke-width="0.6"/>
<text x="296.9" y="25.1" font-size="10" text-anchor="start" fill="#111" stroke="#111" stroke-width="0.18">iKO-High iron</text>
<line x1="285.8" y1="30.9" x2="295.4" y2="30.9" stroke="#98C9DE" stroke-width="1.4"/>
<path d="M290.6 29.17 L292.33 32.28 L288.88 32.28 Z" fill="#98C9DE" stroke="#111" stroke-width="0.6"/>
<text x="296.9" y="34.5" font-size="10" text-anchor="start" fill="#111" stroke="#111" stroke-width="0.18">iKO-Low iron</text>
<line x1="285.8" y1="40.2" x2="295.4" y2="40.2" stroke="#F1B642" stroke-width="1.4"/>
<path d="M290.6 41.93 L292.33 38.82 L288.88 38.82 Z" fill="#F1B642" stroke="#111" stroke-width="0.6"/>
<text x="296.9" y="43.8" font-size="10" text-anchor="start" fill="#111" stroke="#111" stroke-width="0.18">iKO-DFO</text>
<line x1="273.2" y1="11.9" x2="273.2" y2="31.6" stroke="#222" stroke-width="0.9"/>
<text x="273" y="20.95" font-size="8" text-anchor="middle" transform="rotate(-90 273 20.95)" font-weight="bold" fill="#111" letter-spacing="0.9">**</text>
<line x1="281.7" y1="11.9" x2="281.7" y2="40.5" stroke="#222" stroke-width="0.9"/>
<text x="281.5" y="25.55" font-size="8" text-anchor="middle" transform="rotate(-90 281.5 25.55)" font-weight="bold" fill="#111" letter-spacing="0.9">**</text>
<text x="15.5" y="193" font-size="12.6" text-anchor="start" font-weight="bold" fill="#111">E</text>
<line x1="29.6" y1="216.37" x2="29.6" y2="325.75" stroke="#111" stroke-width="1"/>
<line x1="29.6" y1="325.3" x2="157.35" y2="325.3" stroke="#111" stroke-width="1"/>
<line x1="26.6" y1="325.3" x2="29.6" y2="325.3" stroke="#111" stroke-width="0.9"/>
<text x="24.7" y="329.15" font-size="10" text-anchor="end" fill="#111" stroke="#111" stroke-width="0.18">0</text>
<line x1="26.6" y1="307.22" x2="29.6" y2="307.22" stroke="#111" stroke-width="0.9"/>
<text x="24.7" y="311.07" font-size="10" text-anchor="end" fill="#111" stroke="#111" stroke-width="0.18">10</text>
<line x1="26.6" y1="289.14" x2="29.6" y2="289.14" stroke="#111" stroke-width="0.9"/>
<text x="24.7" y="292.99" font-size="10" text-anchor="end" fill="#111" stroke="#111" stroke-width="0.18">20</text>
<line x1="26.6" y1="271.06" x2="29.6" y2="271.06" stroke="#111" stroke-width="0.9"/>
<text x="24.7" y="274.91" font-size="10" text-anchor="end" fill="#111" stroke="#111" stroke-width="0.18">30</text>
<line x1="26.6" y1="252.98" x2="29.6" y2="252.98" stroke="#111" stroke-width="0.9"/>
<text x="24.7" y="256.83" font-size="10" text-anchor="end" fill="#111" stroke="#111" stroke-width="0.18">40</text>
<line x1="26.6" y1="234.9" x2="29.6" y2="234.9" stroke="#111" stroke-width="0.9"/>
<text x="24.7" y="238.75" font-size="10" text-anchor="end" fill="#111" stroke="#111" stroke-width="0.18">50</text>
<line x1="26.6" y1="216.82" x2="29.6" y2="216.82" stroke="#111" stroke-width="0.9"/>
<text x="24.7" y="220.67" font-size="10" text-anchor="end" fill="#111" stroke="#111" stroke-width="0.18">60</text>
<line x1="29.6" y1="325.3" x2="29.6" y2="327.9" stroke="#111" stroke-width="0.9"/>
<text x="29.6" y="337.1" font-size="10" text-anchor="middle" fill="#111" stroke="#111" stroke-width="0.18">1</text>
<line x1="55.05" y1="325.3" x2="55.05" y2="327.9" stroke="#111" stroke-width="0.9"/>
<text x="55.05" y="337.1" font-size="10" text-anchor="middle" fill="#111" stroke="#111" stroke-width="0.18">2</text>
<line x1="80.5" y1="325.3" x2="80.5" y2="327.9" stroke="#111" stroke-width="0.9"/>
<text x="80.5" y="337.1" font-size="10" text-anchor="middle" fill="#111" stroke="#111" stroke-width="0.18">3</text>
<line x1="105.95" y1="325.3" x2="105.95" y2="327.9" stroke="#111" stroke-width="0.9"/>
<text x="105.95" y="337.1" font-size="10" text-anchor="middle" fill="#111" stroke="#111" stroke-width="0.18">4</text>
<line x1="131.4" y1="325.3" x2="131.4" y2="327.9" stroke="#111" stroke-width="0.9"/>
<text x="131.4" y="337.1" font-size="10" text-anchor="middle" fill="#111" stroke="#111" stroke-width="0.18">5</text>
<line x1="156.85" y1="325.3" x2="156.85" y2="327.9" stroke="#111" stroke-width="0.9"/>
<text x="156.85" y="337.1" font-size="10" text-anchor="middle" fill="#111" stroke="#111" stroke-width="0.18">6</text>
<text x="92.22" y="349" font-size="10" text-anchor="middle" fill="#111" stroke="#111" stroke-width="0.18">Days</text>
<text x="8.2" y="272.6" font-size="10" text-anchor="middle" transform="rotate(-90 8.2 272.6)" fill="#111" stroke="#111" stroke-width="0.18">Latency (sec)</text>
<polyline points="29.6,234.72 55.05,252.8 80.5,267.26 105.95,283.35 131.4,289.86 156.85,294.93" fill="none" stroke="#A9A9A9" stroke-width="1.85" stroke-linejoin="round"/>
<polyline points="29.6,235.08 55.05,258.22 80.5,275.76 105.95,285.16 131.4,287.33 156.85,291.67" fill="none" stroke="#F1B642" stroke-width="1.85" stroke-linejoin="round"/>
<polyline points="29.6,232.19 55.05,247.92 80.5,256.78 105.95,261.48 131.4,274.13 156.85,279.38" fill="none" stroke="#4DAF3B" stroke-width="1.85" stroke-linejoin="round"/>
<line x1="29.6" y1="240.14" x2="29.6" y2="229.3" stroke="#111" stroke-width="0.75"/>
<line x1="27.6" y1="240.14" x2="31.6" y2="240.14" stroke="#111" stroke-width="0.75"/>
<line x1="27.6" y1="229.3" x2="31.6" y2="229.3" stroke="#111" stroke-width="0.75"/>
<line x1="55.05" y1="256.42" x2="55.05" y2="249.18" stroke="#111" stroke-width="0.75"/>
<line x1="53.05" y1="256.42" x2="57.05" y2="256.42" stroke="#111" stroke-width="0.75"/>
<line x1="53.05" y1="249.18" x2="57.05" y2="249.18" stroke="#111" stroke-width="0.75"/>
<line x1="80.5" y1="272.33" x2="80.5" y2="262.2" stroke="#111" stroke-width="0.75"/>
<line x1="78.5" y1="272.33" x2="82.5" y2="272.33" stroke="#111" stroke-width="0.75"/>
<line x1="78.5" y1="262.2" x2="82.5" y2="262.2" stroke="#111" stroke-width="0.75"/>
<line x1="105.95" y1="286.61" x2="105.95" y2="280.1" stroke="#111" stroke-width="0.75"/>
<line x1="103.95" y1="286.61" x2="107.95" y2="286.61" stroke="#111" stroke-width="0.75"/>
<line x1="103.95" y1="280.1" x2="107.95" y2="280.1" stroke="#111" stroke-width="0.75"/>
<line x1="131.4" y1="293.48" x2="131.4" y2="286.25" stroke="#111" stroke-width="0.75"/>
<line x1="129.4" y1="293.48" x2="133.4" y2="293.48" stroke="#111" stroke-width="0.75"/>
<line x1="129.4" y1="286.25" x2="133.4" y2="286.25" stroke="#111" stroke-width="0.75"/>
<line x1="156.85" y1="297.28" x2="156.85" y2="292.58" stroke="#111" stroke-width="0.75"/>
<line x1="154.85" y1="297.28" x2="158.85" y2="297.28" stroke="#111" stroke-width="0.75"/>
<line x1="154.85" y1="292.58" x2="158.85" y2="292.58" stroke="#111" stroke-width="0.75"/>
<line x1="29.6" y1="240.5" x2="29.6" y2="229.66" stroke="#111" stroke-width="0.75"/>
<line x1="27.6" y1="240.5" x2="31.6" y2="240.5" stroke="#111" stroke-width="0.75"/>
<line x1="27.6" y1="229.66" x2="31.6" y2="229.66" stroke="#111" stroke-width="0.75"/>
<line x1="55.05" y1="264.01" x2="55.05" y2="252.44" stroke="#111" stroke-width="0.75"/>
<line x1="53.05" y1="264.01" x2="57.05" y2="264.01" stroke="#111" stroke-width="0.75"/>
<line x1="53.05" y1="252.44" x2="57.05" y2="252.44" stroke="#111" stroke-width="0.75"/>
<line x1="80.5" y1="282.09" x2="80.5" y2="269.43" stroke="#111" stroke-width="0.75"/>
<line x1="78.5" y1="282.09" x2="82.5" y2="282.09" stroke="#111" stroke-width="0.75"/>
<line x1="78.5" y1="269.43" x2="82.5" y2="269.43" stroke="#111" stroke-width="0.75"/>
<line x1="105.95" y1="289.68" x2="105.95" y2="280.64" stroke="#111" stroke-width="0.75"/>
<line x1="103.95" y1="289.68" x2="107.95" y2="289.68" stroke="#111" stroke-width="0.75"/>
<line x1="103.95" y1="280.64" x2="107.95" y2="280.64" stroke="#111" stroke-width="0.75"/>
<line x1="131.4" y1="293.66" x2="131.4" y2="281" stroke="#111" stroke-width="0.75"/>
<line x1="129.4" y1="293.66" x2="133.4" y2="293.66" stroke="#111" stroke-width="0.75"/>
<line x1="129.4" y1="281" x2="133.4" y2="281" stroke="#111" stroke-width="0.75"/>
<line x1="156.85" y1="295.29" x2="156.85" y2="288.06" stroke="#111" stroke-width="0.75"/>
<line x1="154.85" y1="295.29" x2="158.85" y2="295.29" stroke="#111" stroke-width="0.75"/>
<line x1="154.85" y1="288.06" x2="158.85" y2="288.06" stroke="#111" stroke-width="0.75"/>
<line x1="29.6" y1="236.17" x2="29.6" y2="228.21" stroke="#111" stroke-width="0.75"/>
<line x1="27.6" y1="236.17" x2="31.6" y2="236.17" stroke="#111" stroke-width="0.75"/>
<line x1="27.6" y1="228.21" x2="31.6" y2="228.21" stroke="#111" stroke-width="0.75"/>
<line x1="55.05" y1="252.08" x2="55.05" y2="243.76" stroke="#111" stroke-width="0.75"/>
<line x1="53.05" y1="252.08" x2="57.05" y2="252.08" stroke="#111" stroke-width="0.75"/>
<line x1="53.05" y1="243.76" x2="57.05" y2="243.76" stroke="#111" stroke-width="0.75"/>
<line x1="80.5" y1="263.1" x2="80.5" y2="250.45" stroke="#111" stroke-width="0.75"/>
<line x1="78.5" y1="263.1" x2="82.5" y2="263.1" stroke="#111" stroke-width="0.75"/>
<line x1="78.5" y1="250.45" x2="82.5" y2="250.45" stroke="#111" stroke-width="0.75"/>
<line x1="105.95" y1="267.44" x2="105.95" y2="255.51" stroke="#111" stroke-width="0.75"/>
<line x1="103.95" y1="267.44" x2="107.95" y2="267.44" stroke="#111" stroke-width="0.75"/>
<line x1="103.95" y1="255.51" x2="107.95" y2="255.51" stroke="#111" stroke-width="0.75"/>
<line x1="131.4" y1="281" x2="131.4" y2="267.26" stroke="#111" stroke-width="0.75"/>
<line x1="129.4" y1="281" x2="133.4" y2="281" stroke="#111" stroke-width="0.75"/>
<line x1="129.4" y1="267.26" x2="133.4" y2="267.26" stroke="#111" stroke-width="0.75"/>
<line x1="156.85" y1="284.44" x2="156.85" y2="274.31" stroke="#111" stroke-width="0.75"/>
<line x1="154.85" y1="284.44" x2="158.85" y2="284.44" stroke="#111" stroke-width="0.75"/>
<line x1="154.85" y1="274.31" x2="158.85" y2="274.31" stroke="#111" stroke-width="0.75"/>
<circle cx="29.6" cy="234.72" r="1.5" fill="#A9A9A9" stroke="#111" stroke-width="0.7"/>
<circle cx="55.05" cy="252.8" r="1.5" fill="#A9A9A9" stroke="#111" stroke-width="0.7"/>
<circle cx="80.5" cy="267.26" r="1.5" fill="#A9A9A9" stroke="#111" stroke-width="0.7"/>
<circle cx="105.95" cy="283.35" r="1.5" fill="#A9A9A9" stroke="#111" stroke-width="0.7"/>
<circle cx="131.4" cy="289.86" r="1.5" fill="#A9A9A9" stroke="#111" stroke-width="0.7"/>
<circle cx="156.85" cy="294.93" r="1.5" fill="#A9A9A9" stroke="#111" stroke-width="0.7"/>
<path d="M29.6 233.36 L31.33 236.46 L27.88 236.46 Z" fill="#F1B642" stroke="#111" stroke-width="0.7"/>
<path d="M55.05 256.5 L56.77 259.6 L53.32 259.6 Z" fill="#F1B642" stroke="#111" stroke-width="0.7"/>
<path d="M80.5 274.04 L82.22 277.14 L78.78 277.14 Z" fill="#F1B642" stroke="#111" stroke-width="0.7"/>
<path d="M105.95 283.44 L107.67 286.54 L104.22 286.54 Z" fill="#F1B642" stroke="#111" stroke-width="0.7"/>
<path d="M131.4 285.61 L133.12 288.71 L129.68 288.71 Z" fill="#F1B642" stroke="#111" stroke-width="0.7"/>
<path d="M156.85 289.95 L158.57 293.05 L155.12 293.05 Z" fill="#F1B642" stroke="#111" stroke-width="0.7"/>
<rect x="28.1" y="230.69" width="3" height="3" fill="#4DAF3B" stroke="#111" stroke-width="0.7"/>
<rect x="53.55" y="246.42" width="3" height="3" fill="#4DAF3B" stroke="#111" stroke-width="0.7"/>
<rect x="79" y="255.28" width="3" height="3" fill="#4DAF3B" stroke="#111" stroke-width="0.7"/>
<rect x="104.45" y="259.98" width="3" height="3" fill="#4DAF3B" stroke="#111" stroke-width="0.7"/>
<rect x="129.9" y="272.63" width="3" height="3" fill="#4DAF3B" stroke="#111" stroke-width="0.7"/>
<rect x="155.35" y="277.88" width="3" height="3" fill="#4DAF3B" stroke="#111" stroke-width="0.7"/>
<line x1="105.8" y1="206.7" x2="115.4" y2="206.7" stroke="#A9A9A9" stroke-width="1.4"/>
<circle cx="110.6" cy="206.7" r="1.5" fill="#A9A9A9" stroke="#111" stroke-width="0.6"/>
<text x="120.9" y="210.3" font-size="10" text-anchor="start" fill="#111" stroke="#111" stroke-width="0.18">WT</text>
<line x1="105.8" y1="217.5" x2="115.4" y2="217.5" stroke="#4DAF3B" stroke-width="1.4"/>
<rect x="109.1" y="216" width="3" height="3" fill="#4DAF3B" stroke="#111" stroke-width="0.6"/>
<text x="120.9" y="221.1" font-size="10" text-anchor="start" fill="#111" stroke="#111" stroke-width="0.18">iKO</text>
<line x1="105.8" y1="228" x2="115.4" y2="228" stroke="#F1B642" stroke-width="1.4"/>
<path d="M110.6 226.28 L112.32 229.38 L108.88 229.38 Z" fill="#F1B642" stroke="#111" stroke-width="0.6"/>
<text x="120.9" y="231.6" font-size="10" text-anchor="start" fill="#111" stroke="#111" stroke-width="0.18">iKO-ZnPP</text>
<line x1="94.6" y1="207.1" x2="94.6" y2="217.5" stroke="#222" stroke-width="0.9"/>
<text x="94.1" y="213.55" font-size="8" text-anchor="middle" transform="rotate(-90 94.1 213.55)" font-weight="bold" fill="#111" letter-spacing="0.9">***</text>
<line x1="102.5" y1="218" x2="102.5" y2="228" stroke="#222" stroke-width="0.9"/>
<text x="102" y="222.95" font-size="8" text-anchor="middle" transform="rotate(-90 102 222.95)" font-weight="bold" fill="#111" letter-spacing="0.9">***</text>
<text x="196" y="193" font-size="12.6" text-anchor="start" font-weight="bold" fill="#111">F</text>
<line x1="219.2" y1="216.05" x2="219.2" y2="325.45" stroke="#111" stroke-width="1"/>
<line x1="219.2" y1="325" x2="347.2" y2="325" stroke="#111" stroke-width="1"/>
<line x1="216.2" y1="325" x2="219.2" y2="325" stroke="#111" stroke-width="0.9"/>
<text x="214.3" y="328.85" font-size="10" text-anchor="end" fill="#111" stroke="#111" stroke-width="0.18">0</text>
<line x1="216.2" y1="303.3" x2="219.2" y2="303.3" stroke="#111" stroke-width="0.9"/>
<text x="214.3" y="307.15" font-size="10" text-anchor="end" fill="#111" stroke="#111" stroke-width="0.18">200</text>
<line x1="216.2" y1="281.6" x2="219.2" y2="281.6" stroke="#111" stroke-width="0.9"/>
<text x="214.3" y="285.45" font-size="10" text-anchor="end" fill="#111" stroke="#111" stroke-width="0.18">400</text>
<line x1="216.2" y1="259.9" x2="219.2" y2="259.9" stroke="#111" stroke-width="0.9"/>
<text x="214.3" y="263.75" font-size="10" text-anchor="end" fill="#111" stroke="#111" stroke-width="0.18">600</text>
<line x1="216.2" y1="238.2" x2="219.2" y2="238.2" stroke="#111" stroke-width="0.9"/>
<text x="214.3" y="242.05" font-size="10" text-anchor="end" fill="#111" stroke="#111" stroke-width="0.18">800</text>
<line x1="216.2" y1="216.5" x2="219.2" y2="216.5" stroke="#111" stroke-width="0.9"/>
<text x="214.3" y="220.35" font-size="10" text-anchor="end" fill="#111" stroke="#111" stroke-width="0.18">1000</text>
<line x1="219.2" y1="325" x2="219.2" y2="327.6" stroke="#111" stroke-width="0.9"/>
<text x="219.2" y="336.6" font-size="10" text-anchor="middle" fill="#111" stroke="#111" stroke-width="0.18">1</text>
<line x1="244.7" y1="325" x2="244.7" y2="327.6" stroke="#111" stroke-width="0.9"/>
<text x="244.7" y="336.6" font-size="10" text-anchor="middle" fill="#111" stroke="#111" stroke-width="0.18">2</text>
<line x1="270.2" y1="325" x2="270.2" y2="327.6" stroke="#111" stroke-width="0.9"/>
<text x="270.2" y="336.6" font-size="10" text-anchor="middle" fill="#111" stroke="#111" stroke-width="0.18">3</text>
<line x1="295.7" y1="325" x2="295.7" y2="327.6" stroke="#111" stroke-width="0.9"/>
<text x="295.7" y="336.6" font-size="10" text-anchor="middle" fill="#111" stroke="#111" stroke-width="0.18">4</text>
<line x1="321.2" y1="325" x2="321.2" y2="327.6" stroke="#111" stroke-width="0.9"/>
<text x="321.2" y="336.6" font-size="10" text-anchor="middle" fill="#111" stroke="#111" stroke-width="0.18">5</text>
<line x1="346.7" y1="325" x2="346.7" y2="327.6" stroke="#111" stroke-width="0.9"/>
<text x="346.7" y="336.6" font-size="10" text-anchor="middle" fill="#111" stroke="#111" stroke-width="0.18">6</text>
<text x="281.95" y="347.3" font-size="10" text-anchor="middle" fill="#111" stroke="#111" stroke-width="0.18">Days</text>
<text x="181.6" y="273.4" font-size="10" text-anchor="middle" transform="rotate(-90 181.6 273.4)" fill="#111" stroke="#111" stroke-width="0.18">Distance travelled to</text>
<text x="193" y="273.4" font-size="10" text-anchor="middle" transform="rotate(-90 193 273.4)" fill="#111" stroke="#111" stroke-width="0.18">reach the platform (cm)</text>
<polyline points="219.2,231.58 244.7,257.19 270.2,267.5 295.7,288.54 321.2,300.15 346.7,303.84" fill="none" stroke="#A9A9A9" stroke-width="1.85" stroke-linejoin="round"/>
<polyline points="219.2,224.75 244.7,270.53 270.2,273.03 295.7,286.81 321.2,296.9 346.7,295.7" fill="none" stroke="#F1B642" stroke-width="1.85" stroke-linejoin="round"/>
<polyline points="219.2,228.33 244.7,249.92 270.2,253.39 295.7,265 321.2,283.55 346.7,287.02" fill="none" stroke="#4DAF3B" stroke-width="1.85" stroke-linejoin="round"/>
<line x1="219.2" y1="234.84" x2="219.2" y2="228.33" stroke="#111" stroke-width="0.75"/>
<line x1="217.2" y1="234.84" x2="221.2" y2="234.84" stroke="#111" stroke-width="0.75"/>
<line x1="217.2" y1="228.33" x2="221.2" y2="228.33" stroke="#111" stroke-width="0.75"/>
<line x1="244.7" y1="263.15" x2="244.7" y2="251.22" stroke="#111" stroke-width="0.75"/>
<line x1="242.7" y1="263.15" x2="246.7" y2="263.15" stroke="#111" stroke-width="0.75"/>
<line x1="242.7" y1="251.22" x2="246.7" y2="251.22" stroke="#111" stroke-width="0.75"/>
<line x1="270.2" y1="271.83" x2="270.2" y2="263.15" stroke="#111" stroke-width="0.75"/>
<line x1="268.2" y1="271.83" x2="272.2" y2="271.83" stroke="#111" stroke-width="0.75"/>
<line x1="268.2" y1="263.15" x2="272.2" y2="263.15" stroke="#111" stroke-width="0.75"/>
<line x1="295.7" y1="294.51" x2="295.7" y2="282.58" stroke="#111" stroke-width="0.75"/>
<line x1="293.7" y1="294.51" x2="297.7" y2="294.51" stroke="#111" stroke-width="0.75"/>
<line x1="293.7" y1="282.58" x2="297.7" y2="282.58" stroke="#111" stroke-width="0.75"/>
<line x1="321.2" y1="302.87" x2="321.2" y2="297.44" stroke="#111" stroke-width="0.75"/>
<line x1="319.2" y1="302.87" x2="323.2" y2="302.87" stroke="#111" stroke-width="0.75"/>
<line x1="319.2" y1="297.44" x2="323.2" y2="297.44" stroke="#111" stroke-width="0.75"/>
<line x1="346.7" y1="306.56" x2="346.7" y2="301.13" stroke="#111" stroke-width="0.75"/>
<line x1="344.7" y1="306.56" x2="348.7" y2="306.56" stroke="#111" stroke-width="0.75"/>
<line x1="344.7" y1="301.13" x2="348.7" y2="301.13" stroke="#111" stroke-width="0.75"/>
<line x1="219.2" y1="228" x2="219.2" y2="221.49" stroke="#111" stroke-width="0.75"/>
<line x1="217.2" y1="228" x2="221.2" y2="228" stroke="#111" stroke-width="0.75"/>
<line x1="217.2" y1="221.49" x2="221.2" y2="221.49" stroke="#111" stroke-width="0.75"/>
<line x1="244.7" y1="277.59" x2="244.7" y2="263.48" stroke="#111" stroke-width="0.75"/>
<line x1="242.7" y1="277.59" x2="246.7" y2="277.59" stroke="#111" stroke-width="0.75"/>
<line x1="242.7" y1="263.48" x2="246.7" y2="263.48" stroke="#111" stroke-width="0.75"/>
<line x1="270.2" y1="279.54" x2="270.2" y2="266.52" stroke="#111" stroke-width="0.75"/>
<line x1="268.2" y1="279.54" x2="272.2" y2="279.54" stroke="#111" stroke-width="0.75"/>
<line x1="268.2" y1="266.52" x2="272.2" y2="266.52" stroke="#111" stroke-width="0.75"/>
<line x1="295.7" y1="294.4" x2="295.7" y2="279.21" stroke="#111" stroke-width="0.75"/>
<line x1="293.7" y1="294.4" x2="297.7" y2="294.4" stroke="#111" stroke-width="0.75"/>
<line x1="293.7" y1="279.21" x2="297.7" y2="279.21" stroke="#111" stroke-width="0.75"/>
<line x1="321.2" y1="303.41" x2="321.2" y2="290.39" stroke="#111" stroke-width="0.75"/>
<line x1="319.2" y1="303.41" x2="323.2" y2="303.41" stroke="#111" stroke-width="0.75"/>
<line x1="319.2" y1="290.39" x2="323.2" y2="290.39" stroke="#111" stroke-width="0.75"/>
<line x1="346.7" y1="301.13" x2="346.7" y2="290.28" stroke="#111" stroke-width="0.75"/>
<line x1="344.7" y1="301.13" x2="348.7" y2="301.13" stroke="#111" stroke-width="0.75"/>
<line x1="344.7" y1="290.28" x2="348.7" y2="290.28" stroke="#111" stroke-width="0.75"/>
<line x1="219.2" y1="233.21" x2="219.2" y2="223.44" stroke="#111" stroke-width="0.75"/>
<line x1="217.2" y1="233.21" x2="221.2" y2="233.21" stroke="#111" stroke-width="0.75"/>
<line x1="217.2" y1="223.44" x2="221.2" y2="223.44" stroke="#111" stroke-width="0.75"/>
<line x1="244.7" y1="255.34" x2="244.7" y2="244.49" stroke="#111" stroke-width="0.75"/>
<line x1="242.7" y1="255.34" x2="246.7" y2="255.34" stroke="#111" stroke-width="0.75"/>
<line x1="242.7" y1="244.49" x2="246.7" y2="244.49" stroke="#111" stroke-width="0.75"/>
<line x1="270.2" y1="261.53" x2="270.2" y2="245.25" stroke="#111" stroke-width="0.75"/>
<line x1="268.2" y1="261.53" x2="272.2" y2="261.53" stroke="#111" stroke-width="0.75"/>
<line x1="268.2" y1="245.25" x2="272.2" y2="245.25" stroke="#111" stroke-width="0.75"/>
<line x1="295.7" y1="270.97" x2="295.7" y2="259.03" stroke="#111" stroke-width="0.75"/>
<line x1="293.7" y1="270.97" x2="297.7" y2="270.97" stroke="#111" stroke-width="0.75"/>
<line x1="293.7" y1="259.03" x2="297.7" y2="259.03" stroke="#111" stroke-width="0.75"/>
<line x1="321.2" y1="289.52" x2="321.2" y2="277.59" stroke="#111" stroke-width="0.75"/>
<line x1="319.2" y1="289.52" x2="323.2" y2="289.52" stroke="#111" stroke-width="0.75"/>
<line x1="319.2" y1="277.59" x2="323.2" y2="277.59" stroke="#111" stroke-width="0.75"/>
<line x1="346.7" y1="292.99" x2="346.7" y2="281.06" stroke="#111" stroke-width="0.75"/>
<line x1="344.7" y1="292.99" x2="348.7" y2="292.99" stroke="#111" stroke-width="0.75"/>
<line x1="344.7" y1="281.06" x2="348.7" y2="281.06" stroke="#111" stroke-width="0.75"/>
<circle cx="219.2" cy="231.58" r="1.5" fill="#A9A9A9" stroke="#111" stroke-width="0.7"/>
<circle cx="244.7" cy="257.19" r="1.5" fill="#A9A9A9" stroke="#111" stroke-width="0.7"/>
<circle cx="270.2" cy="267.5" r="1.5" fill="#A9A9A9" stroke="#111" stroke-width="0.7"/>
<circle cx="295.7" cy="288.54" r="1.5" fill="#A9A9A9" stroke="#111" stroke-width="0.7"/>
<circle cx="321.2" cy="300.15" r="1.5" fill="#A9A9A9" stroke="#111" stroke-width="0.7"/>
<circle cx="346.7" cy="303.84" r="1.5" fill="#A9A9A9" stroke="#111" stroke-width="0.7"/>
<path d="M219.2 223.02 L220.92 226.13 L217.47 226.13 Z" fill="#F1B642" stroke="#111" stroke-width="0.7"/>
<path d="M244.7 268.81 L246.42 271.91 L242.97 271.91 Z" fill="#F1B642" stroke="#111" stroke-width="0.7"/>
<path d="M270.2 271.3 L271.93 274.41 L268.47 274.41 Z" fill="#F1B642" stroke="#111" stroke-width="0.7"/>
<path d="M295.7 285.08 L297.43 288.19 L293.97 288.19 Z" fill="#F1B642" stroke="#111" stroke-width="0.7"/>
<path d="M321.2 295.17 L322.93 298.28 L319.47 298.28 Z" fill="#F1B642" stroke="#111" stroke-width="0.7"/>
<path d="M346.7 293.98 L348.43 297.08 L344.97 297.08 Z" fill="#F1B642" stroke="#111" stroke-width="0.7"/>
<rect x="217.7" y="226.83" width="3" height="3" fill="#4DAF3B" stroke="#111" stroke-width="0.7"/>
<rect x="243.2" y="248.42" width="3" height="3" fill="#4DAF3B" stroke="#111" stroke-width="0.7"/>
<rect x="268.7" y="251.89" width="3" height="3" fill="#4DAF3B" stroke="#111" stroke-width="0.7"/>
<rect x="294.2" y="263.5" width="3" height="3" fill="#4DAF3B" stroke="#111" stroke-width="0.7"/>
<rect x="319.7" y="282.05" width="3" height="3" fill="#4DAF3B" stroke="#111" stroke-width="0.7"/>
<rect x="345.2" y="285.52" width="3" height="3" fill="#4DAF3B" stroke="#111" stroke-width="0.7"/>
<line x1="297.6" y1="204.9" x2="307.2" y2="204.9" stroke="#A9A9A9" stroke-width="1.4"/>
<circle cx="302.4" cy="204.9" r="1.5" fill="#A9A9A9" stroke="#111" stroke-width="0.6"/>
<text x="312.1" y="208.5" font-size="10" text-anchor="start" fill="#111" stroke="#111" stroke-width="0.18">WT</text>
<line x1="297.6" y1="216.1" x2="307.2" y2="216.1" stroke="#4DAF3B" stroke-width="1.4"/>
<rect x="300.9" y="214.6" width="3" height="3" fill="#4DAF3B" stroke="#111" stroke-width="0.6"/>
<text x="312.1" y="219.7" font-size="10" text-anchor="start" fill="#111" stroke="#111" stroke-width="0.18">iKO</text>
<line x1="297.6" y1="226" x2="307.2" y2="226" stroke="#F1B642" stroke-width="1.4"/>
<path d="M302.4 224.28 L304.12 227.38 L300.67 227.38 Z" fill="#F1B642" stroke="#111" stroke-width="0.6"/>
<text x="312.1" y="229.6" font-size="10" text-anchor="start" fill="#111" stroke="#111" stroke-width="0.18">iKO-ZnPP</text>
<line x1="285.6" y1="204.9" x2="285.6" y2="215.6" stroke="#222" stroke-width="0.9"/>
<text x="285.2" y="210.95" font-size="8" text-anchor="middle" transform="rotate(-90 285.2 210.95)" font-weight="bold" fill="#111" letter-spacing="0.9">***</text>
<line x1="293.5" y1="216.5" x2="293.5" y2="225.7" stroke="#222" stroke-width="0.9"/>
<text x="293.1" y="221.45" font-size="8" text-anchor="middle" transform="rotate(-90 293.1 221.45)" font-weight="bold" fill="#111" letter-spacing="0.9">**</text>
<text x="20" y="378" font-size="12.6" text-anchor="start" font-weight="bold" fill="#111">I</text>
<line x1="31.1" y1="403.05" x2="31.1" y2="512.85" stroke="#111" stroke-width="1"/>
<line x1="31.1" y1="512.4" x2="159.35" y2="512.4" stroke="#111" stroke-width="1"/>
<line x1="28.1" y1="512.4" x2="31.1" y2="512.4" stroke="#111" stroke-width="0.9"/>
<text x="26.2" y="516.25" font-size="10" text-anchor="end" fill="#111" stroke="#111" stroke-width="0.18">0</text>
<line x1="28.1" y1="494.25" x2="31.1" y2="494.25" stroke="#111" stroke-width="0.9"/>
<text x="26.2" y="498.1" font-size="10" text-anchor="end" fill="#111" stroke="#111" stroke-width="0.18">10</text>
<line x1="28.1" y1="476.1" x2="31.1" y2="476.1" stroke="#111" stroke-width="0.9"/>
<text x="26.2" y="479.95" font-size="10" text-anchor="end" fill="#111" stroke="#111" stroke-width="0.18">20</text>
<line x1="28.1" y1="457.95" x2="31.1" y2="457.95" stroke="#111" stroke-width="0.9"/>
<text x="26.2" y="461.8" font-size="10" text-anchor="end" fill="#111" stroke="#111" stroke-width="0.18">30</text>
<line x1="28.1" y1="439.8" x2="31.1" y2="439.8" stroke="#111" stroke-width="0.9"/>
<text x="26.2" y="443.65" font-size="10" text-anchor="end" fill="#111" stroke="#111" stroke-width="0.18">40</text>
<line x1="28.1" y1="421.65" x2="31.1" y2="421.65" stroke="#111" stroke-width="0.9"/>
<text x="26.2" y="425.5" font-size="10" text-anchor="end" fill="#111" stroke="#111" stroke-width="0.18">50</text>
<line x1="28.1" y1="403.5" x2="31.1" y2="403.5" stroke="#111" stroke-width="0.9"/>
<text x="26.2" y="407.35" font-size="10" text-anchor="end" fill="#111" stroke="#111" stroke-width="0.18">60</text>
<line x1="31.1" y1="512.4" x2="31.1" y2="515" stroke="#111" stroke-width="0.9"/>
<text x="31.1" y="524.4" font-size="10" text-anchor="middle" fill="#111" stroke="#111" stroke-width="0.18">1</text>
<line x1="56.65" y1="512.4" x2="56.65" y2="515" stroke="#111" stroke-width="0.9"/>
<text x="56.65" y="524.4" font-size="10" text-anchor="middle" fill="#111" stroke="#111" stroke-width="0.18">2</text>
<line x1="82.2" y1="512.4" x2="82.2" y2="515" stroke="#111" stroke-width="0.9"/>
<text x="82.2" y="524.4" font-size="10" text-anchor="middle" fill="#111" stroke="#111" stroke-width="0.18">3</text>
<line x1="107.75" y1="512.4" x2="107.75" y2="515" stroke="#111" stroke-width="0.9"/>
<text x="107.75" y="524.4" font-size="10" text-anchor="middle" fill="#111" stroke="#111" stroke-width="0.18">4</text>
<line x1="133.3" y1="512.4" x2="133.3" y2="515" stroke="#111" stroke-width="0.9"/>
<text x="133.3" y="524.4" font-size="10" text-anchor="middle" fill="#111" stroke="#111" stroke-width="0.18">5</text>
<line x1="158.85" y1="512.4" x2="158.85" y2="515" stroke="#111" stroke-width="0.9"/>
<text x="158.85" y="524.4" font-size="10" text-anchor="middle" fill="#111" stroke="#111" stroke-width="0.18">6</text>
<text x="93.97" y="536.3" font-size="10" text-anchor="middle" fill="#111" stroke="#111" stroke-width="0.18">Days</text>
<text x="8.2" y="457.4" font-size="10" text-anchor="middle" transform="rotate(-90 8.2 457.4)" fill="#111" stroke="#111" stroke-width="0.18">Latency (sec)</text>
<polyline points="31.1,408.04 56.65,424.37 82.2,460.49 107.75,467.02 133.3,479.37 158.85,484.45" fill="none" stroke="#A9A9A9" stroke-width="1.85" stroke-linejoin="round"/>
<polyline points="31.1,415.66 56.65,426.91 82.2,440.89 107.75,443.25 133.3,461.4 158.85,466.84" fill="none" stroke="#4DAF3B" stroke-width="1.85" stroke-linejoin="round"/>
<polyline points="31.1,407.49 56.65,420.56 82.2,449.6 107.75,457.22 133.3,471.02 158.85,483.72" fill="none" stroke="#F1B642" stroke-width="1.85" stroke-linejoin="round"/>
<polyline points="31.1,414.39 56.65,423.1 82.2,458.49 107.75,458.49 133.3,484.09 158.85,487.35" fill="none" stroke="#3F9AE6" stroke-width="1.85" stroke-linejoin="round"/>
<line x1="31.1" y1="411.67" x2="31.1" y2="404.41" stroke="#111" stroke-width="0.75"/>
<line x1="29.1" y1="411.67" x2="33.1" y2="411.67" stroke="#111" stroke-width="0.75"/>
<line x1="29.1" y1="404.41" x2="33.1" y2="404.41" stroke="#111" stroke-width="0.75"/>
<line x1="56.65" y1="430.72" x2="56.65" y2="418.02" stroke="#111" stroke-width="0.75"/>
<line x1="54.65" y1="430.72" x2="58.65" y2="430.72" stroke="#111" stroke-width="0.75"/>
<line x1="54.65" y1="418.02" x2="58.65" y2="418.02" stroke="#111" stroke-width="0.75"/>
<line x1="82.2" y1="469.57" x2="82.2" y2="451.42" stroke="#111" stroke-width="0.75"/>
<line x1="80.2" y1="469.57" x2="84.2" y2="469.57" stroke="#111" stroke-width="0.75"/>
<line x1="80.2" y1="451.42" x2="84.2" y2="451.42" stroke="#111" stroke-width="0.75"/>
<line x1="107.75" y1="472.47" x2="107.75" y2="461.58" stroke="#111" stroke-width="0.75"/>
<line x1="105.75" y1="472.47" x2="109.75" y2="472.47" stroke="#111" stroke-width="0.75"/>
<line x1="105.75" y1="461.58" x2="109.75" y2="461.58" stroke="#111" stroke-width="0.75"/>
<line x1="133.3" y1="483.9" x2="133.3" y2="474.83" stroke="#111" stroke-width="0.75"/>
<line x1="131.3" y1="483.9" x2="135.3" y2="483.9" stroke="#111" stroke-width="0.75"/>
<line x1="131.3" y1="474.83" x2="135.3" y2="474.83" stroke="#111" stroke-width="0.75"/>
<line x1="158.85" y1="488.08" x2="158.85" y2="480.82" stroke="#111" stroke-width="0.75"/>
<line x1="156.85" y1="488.08" x2="160.85" y2="488.08" stroke="#111" stroke-width="0.75"/>
<line x1="156.85" y1="480.82" x2="160.85" y2="480.82" stroke="#111" stroke-width="0.75"/>
<line x1="31.1" y1="419.65" x2="31.1" y2="411.67" stroke="#111" stroke-width="0.75"/>
<line x1="29.1" y1="419.65" x2="33.1" y2="419.65" stroke="#111" stroke-width="0.75"/>
<line x1="29.1" y1="411.67" x2="33.1" y2="411.67" stroke="#111" stroke-width="0.75"/>
<line x1="56.65" y1="431.45" x2="56.65" y2="422.38" stroke="#111" stroke-width="0.75"/>
<line x1="54.65" y1="431.45" x2="58.65" y2="431.45" stroke="#111" stroke-width="0.75"/>
<line x1="54.65" y1="422.38" x2="58.65" y2="422.38" stroke="#111" stroke-width="0.75"/>
<line x1="82.2" y1="445.97" x2="82.2" y2="435.81" stroke="#111" stroke-width="0.75"/>
<line x1="80.2" y1="445.97" x2="84.2" y2="445.97" stroke="#111" stroke-width="0.75"/>
<line x1="80.2" y1="435.81" x2="84.2" y2="435.81" stroke="#111" stroke-width="0.75"/>
<line x1="107.75" y1="448.69" x2="107.75" y2="437.8" stroke="#111" stroke-width="0.75"/>
<line x1="105.75" y1="448.69" x2="109.75" y2="448.69" stroke="#111" stroke-width="0.75"/>
<line x1="105.75" y1="437.8" x2="109.75" y2="437.8" stroke="#111" stroke-width="0.75"/>
<line x1="133.3" y1="466.48" x2="133.3" y2="456.32" stroke="#111" stroke-width="0.75"/>
<line x1="131.3" y1="466.48" x2="135.3" y2="466.48" stroke="#111" stroke-width="0.75"/>
<line x1="131.3" y1="456.32" x2="135.3" y2="456.32" stroke="#111" stroke-width="0.75"/>
<line x1="158.85" y1="471.02" x2="158.85" y2="462.67" stroke="#111" stroke-width="0.75"/>
<line x1="156.85" y1="471.02" x2="160.85" y2="471.02" stroke="#111" stroke-width="0.75"/>
<line x1="156.85" y1="462.67" x2="160.85" y2="462.67" stroke="#111" stroke-width="0.75"/>
<line x1="31.1" y1="410.22" x2="31.1" y2="404.77" stroke="#111" stroke-width="0.75"/>
<line x1="29.1" y1="410.22" x2="33.1" y2="410.22" stroke="#111" stroke-width="0.75"/>
<line x1="29.1" y1="404.77" x2="33.1" y2="404.77" stroke="#111" stroke-width="0.75"/>
<line x1="56.65" y1="427.82" x2="56.65" y2="413.3" stroke="#111" stroke-width="0.75"/>
<line x1="54.65" y1="427.82" x2="58.65" y2="427.82" stroke="#111" stroke-width="0.75"/>
<line x1="54.65" y1="413.3" x2="58.65" y2="413.3" stroke="#111" stroke-width="0.75"/>
<line x1="82.2" y1="455.95" x2="82.2" y2="443.25" stroke="#111" stroke-width="0.75"/>
<line x1="80.2" y1="455.95" x2="84.2" y2="455.95" stroke="#111" stroke-width="0.75"/>
<line x1="80.2" y1="443.25" x2="84.2" y2="443.25" stroke="#111" stroke-width="0.75"/>
<line x1="107.75" y1="467.21" x2="107.75" y2="447.24" stroke="#111" stroke-width="0.75"/>
<line x1="105.75" y1="467.21" x2="109.75" y2="467.21" stroke="#111" stroke-width="0.75"/>
<line x1="105.75" y1="447.24" x2="109.75" y2="447.24" stroke="#111" stroke-width="0.75"/>
<line x1="133.3" y1="479.19" x2="133.3" y2="462.85" stroke="#111" stroke-width="0.75"/>
<line x1="131.3" y1="479.19" x2="135.3" y2="479.19" stroke="#111" stroke-width="0.75"/>
<line x1="131.3" y1="462.85" x2="135.3" y2="462.85" stroke="#111" stroke-width="0.75"/>
<line x1="158.85" y1="489.53" x2="158.85" y2="477.91" stroke="#111" stroke-width="0.75"/>
<line x1="156.85" y1="489.53" x2="160.85" y2="489.53" stroke="#111" stroke-width="0.75"/>
<line x1="156.85" y1="477.91" x2="160.85" y2="477.91" stroke="#111" stroke-width="0.75"/>
<line x1="31.1" y1="418.93" x2="31.1" y2="409.85" stroke="#111" stroke-width="0.75"/>
<line x1="29.1" y1="418.93" x2="33.1" y2="418.93" stroke="#111" stroke-width="0.75"/>
<line x1="29.1" y1="409.85" x2="33.1" y2="409.85" stroke="#111" stroke-width="0.75"/>
<line x1="56.65" y1="430.36" x2="56.65" y2="415.84" stroke="#111" stroke-width="0.75"/>
<line x1="54.65" y1="430.36" x2="58.65" y2="430.36" stroke="#111" stroke-width="0.75"/>
<line x1="54.65" y1="415.84" x2="58.65" y2="415.84" stroke="#111" stroke-width="0.75"/>
<line x1="82.2" y1="463.94" x2="82.2" y2="453.05" stroke="#111" stroke-width="0.75"/>
<line x1="80.2" y1="463.94" x2="84.2" y2="463.94" stroke="#111" stroke-width="0.75"/>
<line x1="80.2" y1="453.05" x2="84.2" y2="453.05" stroke="#111" stroke-width="0.75"/>
<line x1="107.75" y1="468.48" x2="107.75" y2="448.51" stroke="#111" stroke-width="0.75"/>
<line x1="105.75" y1="468.48" x2="109.75" y2="468.48" stroke="#111" stroke-width="0.75"/>
<line x1="105.75" y1="448.51" x2="109.75" y2="448.51" stroke="#111" stroke-width="0.75"/>
<line x1="133.3" y1="488.62" x2="133.3" y2="479.55" stroke="#111" stroke-width="0.75"/>
<line x1="131.3" y1="488.62" x2="135.3" y2="488.62" stroke="#111" stroke-width="0.75"/>
<line x1="131.3" y1="479.55" x2="135.3" y2="479.55" stroke="#111" stroke-width="0.75"/>
<line x1="158.85" y1="491.89" x2="158.85" y2="482.82" stroke="#111" stroke-width="0.75"/>
<line x1="156.85" y1="491.89" x2="160.85" y2="491.89" stroke="#111" stroke-width="0.75"/>
<line x1="156.85" y1="482.82" x2="160.85" y2="482.82" stroke="#111" stroke-width="0.75"/>
<circle cx="31.1" cy="408.04" r="1.5" fill="#A9A9A9" stroke="#111" stroke-width="0.7"/>
<circle cx="56.65" cy="424.37" r="1.5" fill="#A9A9A9" stroke="#111" stroke-width="0.7"/>
<circle cx="82.2" cy="460.49" r="1.5" fill="#A9A9A9" stroke="#111" stroke-width="0.7"/>
<circle cx="107.75" cy="467.02" r="1.5" fill="#A9A9A9" stroke="#111" stroke-width="0.7"/>
<circle cx="133.3" cy="479.37" r="1.5" fill="#A9A9A9" stroke="#111" stroke-width="0.7"/>
<circle cx="158.85" cy="484.45" r="1.5" fill="#A9A9A9" stroke="#111" stroke-width="0.7"/>
<rect x="29.6" y="414.16" width="3" height="3" fill="#4DAF3B" stroke="#111" stroke-width="0.7"/>
<rect x="55.15" y="425.41" width="3" height="3" fill="#4DAF3B" stroke="#111" stroke-width="0.7"/>
<rect x="80.7" y="439.39" width="3" height="3" fill="#4DAF3B" stroke="#111" stroke-width="0.7"/>
<rect x="106.25" y="441.75" width="3" height="3" fill="#4DAF3B" stroke="#111" stroke-width="0.7"/>
<rect x="131.8" y="459.9" width="3" height="3" fill="#4DAF3B" stroke="#111" stroke-width="0.7"/>
<rect x="157.35" y="465.34" width="3" height="3" fill="#4DAF3B" stroke="#111" stroke-width="0.7"/>
<path d="M31.1 405.77 L32.83 408.87 L29.38 408.87 Z" fill="#F1B642" stroke="#111" stroke-width="0.7"/>
<path d="M56.65 418.84 L58.38 421.94 L54.93 421.94 Z" fill="#F1B642" stroke="#111" stroke-width="0.7"/>
<path d="M82.2 447.88 L83.92 450.98 L80.48 450.98 Z" fill="#F1B642" stroke="#111" stroke-width="0.7"/>
<path d="M107.75 455.5 L109.47 458.6 L106.03 458.6 Z" fill="#F1B642" stroke="#111" stroke-width="0.7"/>
<path d="M133.3 469.29 L135.03 472.4 L131.58 472.4 Z" fill="#F1B642" stroke="#111" stroke-width="0.7"/>
<path d="M158.85 482 L160.57 485.1 L157.12 485.1 Z" fill="#F1B642" stroke="#111" stroke-width="0.7"/>
<path d="M31.1 416.12 L32.83 413.01 L29.38 413.01 Z" fill="#3F9AE6" stroke="#111" stroke-width="0.7"/>
<path d="M56.65 424.83 L58.38 421.72 L54.93 421.72 Z" fill="#3F9AE6" stroke="#111" stroke-width="0.7"/>
<path d="M82.2 460.22 L83.92 457.11 L80.48 457.11 Z" fill="#3F9AE6" stroke="#111" stroke-width="0.7"/>
<path d="M107.75 460.22 L109.47 457.11 L106.03 457.11 Z" fill="#3F9AE6" stroke="#111" stroke-width="0.7"/>
<path d="M133.3 485.81 L135.03 482.71 L131.58 482.71 Z" fill="#3F9AE6" stroke="#111" stroke-width="0.7"/>
<path d="M158.85 489.08 L160.57 485.97 L157.12 485.97 Z" fill="#3F9AE6" stroke="#111" stroke-width="0.7"/>
<line x1="106.4" y1="381.8" x2="116" y2="381.8" stroke="#A9A9A9" stroke-width="1.4"/>
<circle cx="111.2" cy="381.8" r="1.5" fill="#A9A9A9" stroke="#111" stroke-width="0.6"/>
<text x="120.9" y="385.4" font-size="10" text-anchor="start" fill="#111" stroke="#111" stroke-width="0.18">WT</text>
<line x1="106.4" y1="391.4" x2="116" y2="391.4" stroke="#4DAF3B" stroke-width="1.4"/>
<rect x="109.7" y="389.9" width="3" height="3" fill="#4DAF3B" stroke="#111" stroke-width="0.6"/>
<text x="120.9" y="395" font-size="10" text-anchor="start" fill="#111" stroke="#111" stroke-width="0.18">iKO</text>
<line x1="106.4" y1="400.7" x2="116" y2="400.7" stroke="#F1B642" stroke-width="1.4"/>
<path d="M111.2 398.97 L112.92 402.08 L109.48 402.08 Z" fill="#F1B642" stroke="#111" stroke-width="0.6"/>
<text x="120.9" y="404.3" font-size="10" fill="#111">Nrf2<tspan font-size="6" dy="-3.5">-/-</tspan></text>
<line x1="106.4" y1="410" x2="116" y2="410" stroke="#3F9AE6" stroke-width="1.4"/>
<path d="M111.2 411.73 L112.92 408.62 L109.48 408.62 Z" fill="#3F9AE6" stroke="#111" stroke-width="0.6"/>
<text x="120.9" y="413.6" font-size="10" text-anchor="start" fill="#111" stroke="#111" stroke-width="0.18">DKO</text>
<line x1="96.8" y1="382.1" x2="96.8" y2="391.1" stroke="#222" stroke-width="0.9"/>
<text x="96.4" y="387.05" font-size="8" text-anchor="middle" transform="rotate(-90 96.4 387.05)" font-weight="bold" fill="#111" letter-spacing="0.9">***</text>
<line x1="101.6" y1="391.5" x2="101.6" y2="410.4" stroke="#222" stroke-width="0.9"/>
<text x="101.3" y="400.85" font-size="8" text-anchor="middle" transform="rotate(-90 101.3 400.85)" font-weight="bold" fill="#111" letter-spacing="0.9">**</text>
<text x="196" y="378" font-size="12.6" text-anchor="start" font-weight="bold" fill="#111">J</text>
<line x1="216.5" y1="402.87" x2="216.5" y2="512.85" stroke="#111" stroke-width="1"/>
<line x1="216.5" y1="512.4" x2="344.25" y2="512.4" stroke="#111" stroke-width="1"/>
<line x1="213.5" y1="512.4" x2="216.5" y2="512.4" stroke="#111" stroke-width="0.9"/>
<text x="211.6" y="516.25" font-size="10" text-anchor="end" fill="#111" stroke="#111" stroke-width="0.18">0</text>
<line x1="213.5" y1="494.22" x2="216.5" y2="494.22" stroke="#111" stroke-width="0.9"/>
<text x="211.6" y="498.07" font-size="10" text-anchor="end" fill="#111" stroke="#111" stroke-width="0.18">200</text>
<line x1="213.5" y1="476.04" x2="216.5" y2="476.04" stroke="#111" stroke-width="0.9"/>
<text x="211.6" y="479.89" font-size="10" text-anchor="end" fill="#111" stroke="#111" stroke-width="0.18">400</text>
<line x1="213.5" y1="457.86" x2="216.5" y2="457.86" stroke="#111" stroke-width="0.9"/>
<text x="211.6" y="461.71" font-size="10" text-anchor="end" fill="#111" stroke="#111" stroke-width="0.18">600</text>
<line x1="213.5" y1="439.68" x2="216.5" y2="439.68" stroke="#111" stroke-width="0.9"/>
<text x="211.6" y="443.53" font-size="10" text-anchor="end" fill="#111" stroke="#111" stroke-width="0.18">800</text>
<line x1="213.5" y1="421.5" x2="216.5" y2="421.5" stroke="#111" stroke-width="0.9"/>
<text x="211.6" y="425.35" font-size="10" text-anchor="end" fill="#111" stroke="#111" stroke-width="0.18">1000</text>
<line x1="213.5" y1="403.32" x2="216.5" y2="403.32" stroke="#111" stroke-width="0.9"/>
<text x="211.6" y="407.17" font-size="10" text-anchor="end" fill="#111" stroke="#111" stroke-width="0.18">1200</text>
<line x1="216.5" y1="512.4" x2="216.5" y2="515" stroke="#111" stroke-width="0.9"/>
<text x="216.5" y="523.9" font-size="10" text-anchor="middle" fill="#111" stroke="#111" stroke-width="0.18">1</text>
<line x1="241.95" y1="512.4" x2="241.95" y2="515" stroke="#111" stroke-width="0.9"/>
<text x="241.95" y="523.9" font-size="10" text-anchor="middle" fill="#111" stroke="#111" stroke-width="0.18">2</text>
<line x1="267.4" y1="512.4" x2="267.4" y2="515" stroke="#111" stroke-width="0.9"/>
<text x="267.4" y="523.9" font-size="10" text-anchor="middle" fill="#111" stroke="#111" stroke-width="0.18">3</text>
<line x1="292.85" y1="512.4" x2="292.85" y2="515" stroke="#111" stroke-width="0.9"/>
<text x="292.85" y="523.9" font-size="10" text-anchor="middle" fill="#111" stroke="#111" stroke-width="0.18">4</text>
<line x1="318.3" y1="512.4" x2="318.3" y2="515" stroke="#111" stroke-width="0.9"/>
<text x="318.3" y="523.9" font-size="10" text-anchor="middle" fill="#111" stroke="#111" stroke-width="0.18">5</text>
<line x1="343.75" y1="512.4" x2="343.75" y2="515" stroke="#111" stroke-width="0.9"/>
<text x="343.75" y="523.9" font-size="10" text-anchor="middle" fill="#111" stroke="#111" stroke-width="0.18">6</text>
<text x="279.12" y="533.8" font-size="10" text-anchor="middle" fill="#111" stroke="#111" stroke-width="0.18">Days</text>
<text x="179.7" y="456.5" font-size="10" text-anchor="middle" transform="rotate(-90 179.7 456.5)" fill="#111" stroke="#111" stroke-width="0.18">Distance travelled to</text>
<text x="190" y="456.5" font-size="10" text-anchor="middle" transform="rotate(-90 190 456.5)" fill="#111" stroke="#111" stroke-width="0.18">reach the platform (cm)</text>
<polyline points="216.5,424.14 241.95,446.77 267.4,478.22 292.85,481.22 318.3,498.86 343.75,500.86" fill="none" stroke="#A9A9A9" stroke-width="1.85" stroke-linejoin="round"/>
<polyline points="216.5,428.41 241.95,440.5 267.4,453.59 292.85,458.86 318.3,481.22 343.75,485.04" fill="none" stroke="#4DAF3B" stroke-width="1.85" stroke-linejoin="round"/>
<polyline points="216.5,420.86 241.95,439.77 267.4,466.86 292.85,478.22 318.3,490.31 343.75,497.04" fill="none" stroke="#F1B642" stroke-width="1.85" stroke-linejoin="round"/>
<polyline points="216.5,424.14 241.95,445.5 267.4,468.95 292.85,482.49 318.3,497.86 343.75,499.58" fill="none" stroke="#3F9AE6" stroke-width="1.85" stroke-linejoin="round"/>
<line x1="216.5" y1="431.41" x2="216.5" y2="416.86" stroke="#111" stroke-width="0.75"/>
<line x1="214.5" y1="431.41" x2="218.5" y2="431.41" stroke="#111" stroke-width="0.75"/>
<line x1="214.5" y1="416.86" x2="218.5" y2="416.86" stroke="#111" stroke-width="0.75"/>
<line x1="241.95" y1="456.77" x2="241.95" y2="436.77" stroke="#111" stroke-width="0.75"/>
<line x1="239.95" y1="456.77" x2="243.95" y2="456.77" stroke="#111" stroke-width="0.75"/>
<line x1="239.95" y1="436.77" x2="243.95" y2="436.77" stroke="#111" stroke-width="0.75"/>
<line x1="267.4" y1="482.31" x2="267.4" y2="474.13" stroke="#111" stroke-width="0.75"/>
<line x1="265.4" y1="482.31" x2="269.4" y2="482.31" stroke="#111" stroke-width="0.75"/>
<line x1="265.4" y1="474.13" x2="269.4" y2="474.13" stroke="#111" stroke-width="0.75"/>
<line x1="292.85" y1="485.77" x2="292.85" y2="476.68" stroke="#111" stroke-width="0.75"/>
<line x1="290.85" y1="485.77" x2="294.85" y2="485.77" stroke="#111" stroke-width="0.75"/>
<line x1="290.85" y1="476.68" x2="294.85" y2="476.68" stroke="#111" stroke-width="0.75"/>
<line x1="318.3" y1="502.95" x2="318.3" y2="494.77" stroke="#111" stroke-width="0.75"/>
<line x1="316.3" y1="502.95" x2="320.3" y2="502.95" stroke="#111" stroke-width="0.75"/>
<line x1="316.3" y1="494.77" x2="320.3" y2="494.77" stroke="#111" stroke-width="0.75"/>
<line x1="343.75" y1="504.04" x2="343.75" y2="497.67" stroke="#111" stroke-width="0.75"/>
<line x1="341.75" y1="504.04" x2="345.75" y2="504.04" stroke="#111" stroke-width="0.75"/>
<line x1="341.75" y1="497.67" x2="345.75" y2="497.67" stroke="#111" stroke-width="0.75"/>
<line x1="216.5" y1="432.95" x2="216.5" y2="423.86" stroke="#111" stroke-width="0.75"/>
<line x1="214.5" y1="432.95" x2="218.5" y2="432.95" stroke="#111" stroke-width="0.75"/>
<line x1="214.5" y1="423.86" x2="218.5" y2="423.86" stroke="#111" stroke-width="0.75"/>
<line x1="241.95" y1="449.59" x2="241.95" y2="431.41" stroke="#111" stroke-width="0.75"/>
<line x1="239.95" y1="449.59" x2="243.95" y2="449.59" stroke="#111" stroke-width="0.75"/>
<line x1="239.95" y1="431.41" x2="243.95" y2="431.41" stroke="#111" stroke-width="0.75"/>
<line x1="267.4" y1="459.04" x2="267.4" y2="448.13" stroke="#111" stroke-width="0.75"/>
<line x1="265.4" y1="459.04" x2="269.4" y2="459.04" stroke="#111" stroke-width="0.75"/>
<line x1="265.4" y1="448.13" x2="269.4" y2="448.13" stroke="#111" stroke-width="0.75"/>
<line x1="292.85" y1="463.4" x2="292.85" y2="454.31" stroke="#111" stroke-width="0.75"/>
<line x1="290.85" y1="463.4" x2="294.85" y2="463.4" stroke="#111" stroke-width="0.75"/>
<line x1="290.85" y1="454.31" x2="294.85" y2="454.31" stroke="#111" stroke-width="0.75"/>
<line x1="318.3" y1="485.77" x2="318.3" y2="476.68" stroke="#111" stroke-width="0.75"/>
<line x1="316.3" y1="485.77" x2="320.3" y2="485.77" stroke="#111" stroke-width="0.75"/>
<line x1="316.3" y1="476.68" x2="320.3" y2="476.68" stroke="#111" stroke-width="0.75"/>
<line x1="343.75" y1="489.13" x2="343.75" y2="480.95" stroke="#111" stroke-width="0.75"/>
<line x1="341.75" y1="489.13" x2="345.75" y2="489.13" stroke="#111" stroke-width="0.75"/>
<line x1="341.75" y1="480.95" x2="345.75" y2="480.95" stroke="#111" stroke-width="0.75"/>
<line x1="216.5" y1="425.41" x2="216.5" y2="416.32" stroke="#111" stroke-width="0.75"/>
<line x1="214.5" y1="425.41" x2="218.5" y2="425.41" stroke="#111" stroke-width="0.75"/>
<line x1="214.5" y1="416.32" x2="218.5" y2="416.32" stroke="#111" stroke-width="0.75"/>
<line x1="241.95" y1="448.41" x2="241.95" y2="431.14" stroke="#111" stroke-width="0.75"/>
<line x1="239.95" y1="448.41" x2="243.95" y2="448.41" stroke="#111" stroke-width="0.75"/>
<line x1="239.95" y1="431.14" x2="243.95" y2="431.14" stroke="#111" stroke-width="0.75"/>
<line x1="267.4" y1="474.13" x2="267.4" y2="459.59" stroke="#111" stroke-width="0.75"/>
<line x1="265.4" y1="474.13" x2="269.4" y2="474.13" stroke="#111" stroke-width="0.75"/>
<line x1="265.4" y1="459.59" x2="269.4" y2="459.59" stroke="#111" stroke-width="0.75"/>
<line x1="292.85" y1="484.58" x2="292.85" y2="471.86" stroke="#111" stroke-width="0.75"/>
<line x1="290.85" y1="484.58" x2="294.85" y2="484.58" stroke="#111" stroke-width="0.75"/>
<line x1="290.85" y1="471.86" x2="294.85" y2="471.86" stroke="#111" stroke-width="0.75"/>
<line x1="318.3" y1="495.77" x2="318.3" y2="484.86" stroke="#111" stroke-width="0.75"/>
<line x1="316.3" y1="495.77" x2="320.3" y2="495.77" stroke="#111" stroke-width="0.75"/>
<line x1="316.3" y1="484.86" x2="320.3" y2="484.86" stroke="#111" stroke-width="0.75"/>
<line x1="343.75" y1="501.58" x2="343.75" y2="492.49" stroke="#111" stroke-width="0.75"/>
<line x1="341.75" y1="501.58" x2="345.75" y2="501.58" stroke="#111" stroke-width="0.75"/>
<line x1="341.75" y1="492.49" x2="345.75" y2="492.49" stroke="#111" stroke-width="0.75"/>
<line x1="216.5" y1="430.5" x2="216.5" y2="417.77" stroke="#111" stroke-width="0.75"/>
<line x1="214.5" y1="430.5" x2="218.5" y2="430.5" stroke="#111" stroke-width="0.75"/>
<line x1="214.5" y1="417.77" x2="218.5" y2="417.77" stroke="#111" stroke-width="0.75"/>
<line x1="241.95" y1="455.04" x2="241.95" y2="435.95" stroke="#111" stroke-width="0.75"/>
<line x1="239.95" y1="455.04" x2="243.95" y2="455.04" stroke="#111" stroke-width="0.75"/>
<line x1="239.95" y1="435.95" x2="243.95" y2="435.95" stroke="#111" stroke-width="0.75"/>
<line x1="267.4" y1="478.95" x2="267.4" y2="458.95" stroke="#111" stroke-width="0.75"/>
<line x1="265.4" y1="478.95" x2="269.4" y2="478.95" stroke="#111" stroke-width="0.75"/>
<line x1="265.4" y1="458.95" x2="269.4" y2="458.95" stroke="#111" stroke-width="0.75"/>
<line x1="292.85" y1="489.31" x2="292.85" y2="475.68" stroke="#111" stroke-width="0.75"/>
<line x1="290.85" y1="489.31" x2="294.85" y2="489.31" stroke="#111" stroke-width="0.75"/>
<line x1="290.85" y1="475.68" x2="294.85" y2="475.68" stroke="#111" stroke-width="0.75"/>
<line x1="318.3" y1="501.95" x2="318.3" y2="493.77" stroke="#111" stroke-width="0.75"/>
<line x1="316.3" y1="501.95" x2="320.3" y2="501.95" stroke="#111" stroke-width="0.75"/>
<line x1="316.3" y1="493.77" x2="320.3" y2="493.77" stroke="#111" stroke-width="0.75"/>
<line x1="343.75" y1="503.22" x2="343.75" y2="495.95" stroke="#111" stroke-width="0.75"/>
<line x1="341.75" y1="503.22" x2="345.75" y2="503.22" stroke="#111" stroke-width="0.75"/>
<line x1="341.75" y1="495.95" x2="345.75" y2="495.95" stroke="#111" stroke-width="0.75"/>
<circle cx="216.5" cy="424.14" r="1.5" fill="#A9A9A9" stroke="#111" stroke-width="0.7"/>
<circle cx="241.95" cy="446.77" r="1.5" fill="#A9A9A9" stroke="#111" stroke-width="0.7"/>
<circle cx="267.4" cy="478.22" r="1.5" fill="#A9A9A9" stroke="#111" stroke-width="0.7"/>
<circle cx="292.85" cy="481.22" r="1.5" fill="#A9A9A9" stroke="#111" stroke-width="0.7"/>
<circle cx="318.3" cy="498.86" r="1.5" fill="#A9A9A9" stroke="#111" stroke-width="0.7"/>
<circle cx="343.75" cy="500.86" r="1.5" fill="#A9A9A9" stroke="#111" stroke-width="0.7"/>
<rect x="215" y="426.91" width="3" height="3" fill="#4DAF3B" stroke="#111" stroke-width="0.7"/>
<rect x="240.45" y="439" width="3" height="3" fill="#4DAF3B" stroke="#111" stroke-width="0.7"/>
<rect x="265.9" y="452.09" width="3" height="3" fill="#4DAF3B" stroke="#111" stroke-width="0.7"/>
<rect x="291.35" y="457.36" width="3" height="3" fill="#4DAF3B" stroke="#111" stroke-width="0.7"/>
<rect x="316.8" y="479.72" width="3" height="3" fill="#4DAF3B" stroke="#111" stroke-width="0.7"/>
<rect x="342.25" y="483.54" width="3" height="3" fill="#4DAF3B" stroke="#111" stroke-width="0.7"/>
<path d="M216.5 419.14 L218.22 422.24 L214.78 422.24 Z" fill="#F1B642" stroke="#111" stroke-width="0.7"/>
<path d="M241.95 438.05 L243.67 441.15 L240.22 441.15 Z" fill="#F1B642" stroke="#111" stroke-width="0.7"/>
<path d="M267.4 465.13 L269.12 468.24 L265.67 468.24 Z" fill="#F1B642" stroke="#111" stroke-width="0.7"/>
<path d="M292.85 476.5 L294.58 479.6 L291.12 479.6 Z" fill="#F1B642" stroke="#111" stroke-width="0.7"/>
<path d="M318.3 488.59 L320.03 491.69 L316.57 491.69 Z" fill="#F1B642" stroke="#111" stroke-width="0.7"/>
<path d="M343.75 495.31 L345.48 498.42 L342.02 498.42 Z" fill="#F1B642" stroke="#111" stroke-width="0.7"/>
<path d="M216.5 425.86 L218.22 422.76 L214.78 422.76 Z" fill="#3F9AE6" stroke="#111" stroke-width="0.7"/>
<path d="M241.95 447.22 L243.67 444.12 L240.22 444.12 Z" fill="#3F9AE6" stroke="#111" stroke-width="0.7"/>
<path d="M267.4 470.67 L269.12 467.57 L265.67 467.57 Z" fill="#3F9AE6" stroke="#111" stroke-width="0.7"/>
<path d="M292.85 484.22 L294.58 481.11 L291.12 481.11 Z" fill="#3F9AE6" stroke="#111" stroke-width="0.7"/>
<path d="M318.3 499.58 L320.03 496.48 L316.57 496.48 Z" fill="#3F9AE6" stroke="#111" stroke-width="0.7"/>
<path d="M343.75 501.31 L345.48 498.2 L342.02 498.2 Z" fill="#3F9AE6" stroke="#111" stroke-width="0.7"/>
<line x1="305.6" y1="381.8" x2="315.2" y2="381.8" stroke="#A9A9A9" stroke-width="1.4"/>
<circle cx="310.4" cy="381.8" r="1.5" fill="#A9A9A9" stroke="#111" stroke-width="0.6"/>
<text x="320.1" y="385.4" font-size="10" text-anchor="start" fill="#111" stroke="#111" stroke-width="0.18">WT</text>
<line x1="305.6" y1="391.4" x2="315.2" y2="391.4" stroke="#4DAF3B" stroke-width="1.4"/>
<rect x="308.9" y="389.9" width="3" height="3" fill="#4DAF3B" stroke="#111" stroke-width="0.6"/>
<text x="320.1" y="395" font-size="10" text-anchor="start" fill="#111" stroke="#111" stroke-width="0.18">iKO</text>
<line x1="305.6" y1="400.7" x2="315.2" y2="400.7" stroke="#F1B642" stroke-width="1.4"/>
<path d="M310.4 398.97 L312.12 402.08 L308.67 402.08 Z" fill="#F1B642" stroke="#111" stroke-width="0.6"/>
<text x="320.1" y="404.3" font-size="10" fill="#111">Nrf2<tspan font-size="6" dy="-3.5">-/-</tspan></text>
<line x1="305.6" y1="410" x2="315.2" y2="410" stroke="#3F9AE6" stroke-width="1.4"/>
<path d="M310.4 411.73 L312.12 408.62 L308.67 408.62 Z" fill="#3F9AE6" stroke="#111" stroke-width="0.6"/>
<text x="320.1" y="413.6" font-size="10" text-anchor="start" fill="#111" stroke="#111" stroke-width="0.18">DKO</text>
<line x1="296" y1="382.1" x2="296" y2="391.1" stroke="#222" stroke-width="0.9"/>
<text x="295.6" y="387.05" font-size="8" text-anchor="middle" transform="rotate(-90 295.6 387.05)" font-weight="bold" fill="#111" letter-spacing="0.9">***</text>
<line x1="300.8" y1="391.5" x2="300.8" y2="410.4" stroke="#222" stroke-width="0.9"/>
<text x="300.5" y="400.85" font-size="8" text-anchor="middle" transform="rotate(-90 300.5 400.85)" font-weight="bold" fill="#111" letter-spacing="0.9">**</text>
<text x="382" y="10.7" font-size="12.6" text-anchor="start" font-weight="bold" fill="#111">C</text>
<rect x="408.35" y="114.21" width="17.3" height="30.99" fill="#A9A9A9" stroke="#222" stroke-width="0.7"/>
<rect x="432.35" y="130.24" width="17.3" height="14.96" fill="#4DAF3B" stroke="#222" stroke-width="0.7"/>
<rect x="456.35" y="132.13" width="17.3" height="13.07" fill="#3F9AE6" stroke="#222" stroke-width="0.7"/>
<rect x="480.35" y="109.09" width="17.3" height="36.11" fill="#98C9DE" stroke="#222" stroke-width="0.7"/>
<rect x="504.05" y="122.02" width="17.3" height="23.18" fill="#F1B642" stroke="#222" stroke-width="0.7"/>
<line x1="401.3" y1="37" x2="401.3" y2="145.6" stroke="#111" stroke-width="0.9"/>
<line x1="401.3" y1="145.2" x2="529" y2="145.2" stroke="#111" stroke-width="0.9"/>
<line x1="396.3" y1="145.2" x2="401.3" y2="145.2" stroke="#111" stroke-width="0.9"/>
<text x="395.1" y="148.7" font-size="10" text-anchor="end" fill="#111" stroke="#111" stroke-width="0.18">0</text>
<line x1="396.3" y1="118.25" x2="401.3" y2="118.25" stroke="#111" stroke-width="0.9"/>
<text x="395.1" y="121.75" font-size="10" text-anchor="end" fill="#111" stroke="#111" stroke-width="0.18">10</text>
<line x1="396.3" y1="91.3" x2="401.3" y2="91.3" stroke="#111" stroke-width="0.9"/>
<text x="395.1" y="94.8" font-size="10" text-anchor="end" fill="#111" stroke="#111" stroke-width="0.18">20</text>
<line x1="396.3" y1="64.35" x2="401.3" y2="64.35" stroke="#111" stroke-width="0.9"/>
<text x="395.1" y="67.85" font-size="10" text-anchor="end" fill="#111" stroke="#111" stroke-width="0.18">30</text>
<line x1="396.3" y1="37.4" x2="401.3" y2="37.4" stroke="#111" stroke-width="0.9"/>
<text x="395.1" y="40.9" font-size="10" text-anchor="end" fill="#111" stroke="#111" stroke-width="0.18">40</text>
<line x1="417" y1="145.2" x2="417" y2="149.2" stroke="#111" stroke-width="0.9"/>
<line x1="417" y1="129.03" x2="417" y2="99.38" stroke="#111" stroke-width="0.85"/>
<line x1="413" y1="129.03" x2="421" y2="129.03" stroke="#111" stroke-width="0.85"/>
<line x1="413" y1="99.38" x2="421" y2="99.38" stroke="#111" stroke-width="0.85"/>
<line x1="441" y1="145.2" x2="441" y2="149.2" stroke="#111" stroke-width="0.9"/>
<line x1="441" y1="135.09" x2="441" y2="125.39" stroke="#111" stroke-width="0.85"/>
<line x1="437" y1="135.09" x2="445" y2="135.09" stroke="#111" stroke-width="0.85"/>
<line x1="437" y1="125.39" x2="445" y2="125.39" stroke="#111" stroke-width="0.85"/>
<line x1="465" y1="145.2" x2="465" y2="149.2" stroke="#111" stroke-width="0.9"/>
<line x1="465" y1="135.63" x2="465" y2="128.63" stroke="#111" stroke-width="0.85"/>
<line x1="461" y1="135.63" x2="469" y2="135.63" stroke="#111" stroke-width="0.85"/>
<line x1="461" y1="128.63" x2="469" y2="128.63" stroke="#111" stroke-width="0.85"/>
<line x1="489" y1="145.2" x2="489" y2="149.2" stroke="#111" stroke-width="0.9"/>
<line x1="489" y1="129.3" x2="489" y2="101.14" stroke="#111" stroke-width="0.85"/>
<line x1="485" y1="129.3" x2="493" y2="129.3" stroke="#111" stroke-width="0.85"/>
<line x1="485" y1="101.14" x2="493" y2="101.14" stroke="#111" stroke-width="0.85"/>
<line x1="512.7" y1="145.2" x2="512.7" y2="149.2" stroke="#111" stroke-width="0.9"/>
<line x1="512.7" y1="132.8" x2="512.7" y2="115.82" stroke="#111" stroke-width="0.85"/>
<line x1="508.7" y1="132.8" x2="516.7" y2="132.8" stroke="#111" stroke-width="0.85"/>
<line x1="508.7" y1="115.82" x2="516.7" y2="115.82" stroke="#111" stroke-width="0.85"/>
<circle cx="417" cy="78.36" r="2.4" fill="#fff" stroke="#111" stroke-width="0.7"/>
<circle cx="417" cy="84.83" r="2.4" fill="#fff" stroke="#111" stroke-width="0.7"/>
<circle cx="417" cy="91.84" r="2.4" fill="#fff" stroke="#111" stroke-width="0.7"/>
<circle cx="419.5" cy="97.77" r="2.4" fill="#fff" stroke="#111" stroke-width="0.7"/>
<circle cx="414.5" cy="99.92" r="2.4" fill="#fff" stroke="#111" stroke-width="0.7"/>
<circle cx="417.5" cy="101.27" r="2.4" fill="#fff" stroke="#111" stroke-width="0.7"/>
<circle cx="417" cy="104.77" r="2.4" fill="#fff" stroke="#111" stroke-width="0.7"/>
<circle cx="417" cy="107.47" r="2.4" fill="#fff" stroke="#111" stroke-width="0.7"/>
<circle cx="416" cy="111.24" r="2.4" fill="#fff" stroke="#111" stroke-width="0.7"/>
<circle cx="419.5" cy="112.32" r="2.4" fill="#fff" stroke="#111" stroke-width="0.7"/>
<circle cx="415" cy="113.4" r="2.4" fill="#fff" stroke="#111" stroke-width="0.7"/>
<circle cx="418" cy="116.09" r="2.4" fill="#fff" stroke="#111" stroke-width="0.7"/>
<circle cx="419.5" cy="117.17" r="2.4" fill="#fff" stroke="#111" stroke-width="0.7"/>
<circle cx="416" cy="120.94" r="2.4" fill="#fff" stroke="#111" stroke-width="0.7"/>
<circle cx="420" cy="123.64" r="2.4" fill="#fff" stroke="#111" stroke-width="0.7"/>
<circle cx="413.5" cy="124.72" r="2.4" fill="#fff" stroke="#111" stroke-width="0.7"/>
<circle cx="418.5" cy="125.53" r="2.4" fill="#fff" stroke="#111" stroke-width="0.7"/>
<circle cx="412" cy="127.68" r="2.4" fill="#fff" stroke="#111" stroke-width="0.7"/>
<circle cx="422" cy="129.03" r="2.4" fill="#fff" stroke="#111" stroke-width="0.7"/>
<circle cx="417.5" cy="128.49" r="2.4" fill="#fff" stroke="#111" stroke-width="0.7"/>
<circle cx="418.5" cy="130.38" r="2.4" fill="#fff" stroke="#111" stroke-width="0.7"/>
<rect x="438.7" y="115.14" width="4.6" height="4.6" fill="#fff" stroke="#111" stroke-width="0.7"/>
<rect x="438.7" y="117.3" width="4.6" height="4.6" fill="#fff" stroke="#111" stroke-width="0.7"/>
<rect x="433.7" y="125.65" width="4.6" height="4.6" fill="#fff" stroke="#111" stroke-width="0.7"/>
<rect x="436.7" y="126.73" width="4.6" height="4.6" fill="#fff" stroke="#111" stroke-width="0.7"/>
<rect x="439.7" y="125.11" width="4.6" height="4.6" fill="#fff" stroke="#111" stroke-width="0.7"/>
<rect x="442.7" y="126.19" width="4.6" height="4.6" fill="#fff" stroke="#111" stroke-width="0.7"/>
<rect x="444.7" y="126.73" width="4.6" height="4.6" fill="#fff" stroke="#111" stroke-width="0.7"/>
<rect x="438.2" y="127.81" width="4.6" height="4.6" fill="#fff" stroke="#111" stroke-width="0.7"/>
<rect x="438.7" y="137.51" width="4.6" height="4.6" fill="#fff" stroke="#111" stroke-width="0.7"/>
<circle cx="459.5" cy="129.03" r="2.3" fill="#fff" stroke="#111" stroke-width="0.7"/>
<circle cx="462" cy="129.57" r="2.3" fill="#fff" stroke="#111" stroke-width="0.7"/>
<circle cx="465" cy="128.76" r="2.3" fill="#fff" stroke="#111" stroke-width="0.7"/>
<circle cx="468" cy="129.3" r="2.3" fill="#fff" stroke="#111" stroke-width="0.7"/>
<circle cx="471" cy="129.03" r="2.3" fill="#fff" stroke="#111" stroke-width="0.7"/>
<circle cx="466" cy="130.38" r="2.3" fill="#fff" stroke="#111" stroke-width="0.7"/>
<circle cx="465.5" cy="138.19" r="2.3" fill="#fff" stroke="#111" stroke-width="0.7"/>
<circle cx="464" cy="139.27" r="2.3" fill="#fff" stroke="#111" stroke-width="0.7"/>
<path d="M489 54.7 L491.64 59.46 L486.36 59.46 Z" fill="#fff" stroke="#111" stroke-width="0.7"/>
<path d="M489 78.68 L491.64 83.44 L486.36 83.44 Z" fill="#fff" stroke="#111" stroke-width="0.7"/>
<path d="M484 101.32 L486.64 106.08 L481.36 106.08 Z" fill="#fff" stroke="#111" stroke-width="0.7"/>
<path d="M489 103.21 L491.64 107.97 L486.36 107.97 Z" fill="#fff" stroke="#111" stroke-width="0.7"/>
<path d="M489 113.72 L491.64 118.48 L486.36 118.48 Z" fill="#fff" stroke="#111" stroke-width="0.7"/>
<path d="M489 117.76 L491.64 122.52 L486.36 122.52 Z" fill="#fff" stroke="#111" stroke-width="0.7"/>
<path d="M494.5 119.38 L497.14 124.14 L491.86 124.14 Z" fill="#fff" stroke="#111" stroke-width="0.7"/>
<path d="M489 122.34 L491.64 127.1 L486.36 127.1 Z" fill="#fff" stroke="#111" stroke-width="0.7"/>
<path d="M484 125.04 L486.64 129.8 L481.36 129.8 Z" fill="#fff" stroke="#111" stroke-width="0.7"/>
<path d="M494.5 125.04 L497.14 129.8 L491.86 129.8 Z" fill="#fff" stroke="#111" stroke-width="0.7"/>
<path d="M512.7 77.24 L515.35 72.47 L510.06 72.47 Z" fill="#fff" stroke="#111" stroke-width="0.7"/>
<path d="M512.7 110.92 L515.35 106.16 L510.06 106.16 Z" fill="#fff" stroke="#111" stroke-width="0.7"/>
<path d="M512.7 117.66 L515.35 112.9 L510.06 112.9 Z" fill="#fff" stroke="#111" stroke-width="0.7"/>
<path d="M512.7 123.32 L515.35 118.56 L510.06 118.56 Z" fill="#fff" stroke="#111" stroke-width="0.7"/>
<path d="M509.7 126.55 L512.35 121.79 L507.06 121.79 Z" fill="#fff" stroke="#111" stroke-width="0.7"/>
<path d="M507.7 130.33 L510.35 125.57 L505.06 125.57 Z" fill="#fff" stroke="#111" stroke-width="0.7"/>
<path d="M510.7 132.75 L513.35 127.99 L508.06 127.99 Z" fill="#fff" stroke="#111" stroke-width="0.7"/>
<path d="M513.2 130.87 L515.85 126.11 L510.56 126.11 Z" fill="#fff" stroke="#111" stroke-width="0.7"/>
<path d="M515.7 132.21 L518.35 127.45 L513.06 127.45 Z" fill="#fff" stroke="#111" stroke-width="0.7"/>
<path d="M518.2 131.68 L520.85 126.91 L515.56 126.91 Z" fill="#fff" stroke="#111" stroke-width="0.7"/>
<path d="M512.7 142.72 L515.35 137.96 L510.06 137.96 Z" fill="#fff" stroke="#111" stroke-width="0.7"/>
<text x="367.5" y="88.8" font-size="10" text-anchor="middle" transform="rotate(-90 367.5 88.8)" fill="#111" stroke="#111" stroke-width="0.18">Time spent in</text>
<text x="380" y="88.8" font-size="10" text-anchor="middle" transform="rotate(-90 380 88.8)" fill="#111" stroke="#111" stroke-width="0.18">target quadrant (sec)</text>
<line x1="416.4" y1="56.2" x2="441.9" y2="56.2" stroke="#2a2a2a" stroke-width="1"/>
<text x="428.35" y="56.9" font-size="10.2" text-anchor="middle" fill="#222" stroke="#222" stroke-width="0.18">**</text>
<line x1="441.1" y1="47.1" x2="489" y2="47.1" stroke="#2a2a2a" stroke-width="1"/>
<text x="464.25" y="47.8" font-size="10.2" text-anchor="middle" fill="#222" stroke="#222" stroke-width="0.18">*</text>
<text x="422.5" y="155.2" font-size="10.5" text-anchor="end" transform="rotate(-45 422.5 155.2)" fill="#111" stroke="#111" stroke-width="0.18">WT</text>
<text x="444.9" y="155.2" font-size="10.5" text-anchor="end" transform="rotate(-45 444.9 155.2)" fill="#111" stroke="#111" stroke-width="0.18">iKO</text>
<text x="468.5" y="155.2" font-size="10.5" text-anchor="end" transform="rotate(-45 468.5 155.2)" fill="#111" stroke="#111" stroke-width="0.18">iKO_High</text>
<text x="492.5" y="155.2" font-size="10.5" text-anchor="end" transform="rotate(-45 492.5 155.2)" fill="#111" stroke="#111" stroke-width="0.18">iKO_Low</text>
<text x="520.2" y="155.2" font-size="10.5" text-anchor="end" transform="rotate(-45 520.2 155.2)" fill="#111" stroke="#111" stroke-width="0.18">iKO_DFO</text>
<text x="537.6" y="10.7" font-size="12.6" text-anchor="start" font-weight="bold" fill="#111">D</text>
<rect x="561.45" y="99.38" width="18.1" height="46.02" fill="#A9A9A9" stroke="#222" stroke-width="0.7"/>
<rect x="585.95" y="119.4" width="18.1" height="26" fill="#4DAF3B" stroke="#222" stroke-width="0.7"/>
<rect x="610.55" y="117.98" width="18.1" height="27.42" fill="#3F9AE6" stroke="#222" stroke-width="0.7"/>
<rect x="634.95" y="106.99" width="18.1" height="38.41" fill="#98C9DE" stroke="#222" stroke-width="0.7"/>
<rect x="659.45" y="104.6" width="18.1" height="40.8" fill="#F1B642" stroke="#222" stroke-width="0.7"/>
<line x1="554.6" y1="36.2" x2="554.6" y2="145.8" stroke="#111" stroke-width="0.9"/>
<line x1="554.6" y1="145.4" x2="685" y2="145.4" stroke="#111" stroke-width="0.9"/>
<line x1="549.6" y1="145.4" x2="554.6" y2="145.4" stroke="#111" stroke-width="0.9"/>
<text x="548.4" y="148.9" font-size="10" text-anchor="end" fill="#111" stroke="#111" stroke-width="0.18">0</text>
<line x1="549.6" y1="123.64" x2="554.6" y2="123.64" stroke="#111" stroke-width="0.9"/>
<text x="548.4" y="127.14" font-size="10" text-anchor="end" fill="#111" stroke="#111" stroke-width="0.18">2</text>
<line x1="549.6" y1="101.88" x2="554.6" y2="101.88" stroke="#111" stroke-width="0.9"/>
<text x="548.4" y="105.38" font-size="10" text-anchor="end" fill="#111" stroke="#111" stroke-width="0.18">4</text>
<line x1="549.6" y1="80.12" x2="554.6" y2="80.12" stroke="#111" stroke-width="0.9"/>
<text x="548.4" y="83.62" font-size="10" text-anchor="end" fill="#111" stroke="#111" stroke-width="0.18">6</text>
<line x1="549.6" y1="58.36" x2="554.6" y2="58.36" stroke="#111" stroke-width="0.9"/>
<text x="548.4" y="61.86" font-size="10" text-anchor="end" fill="#111" stroke="#111" stroke-width="0.18">8</text>
<line x1="549.6" y1="36.6" x2="554.6" y2="36.6" stroke="#111" stroke-width="0.9"/>
<text x="548.4" y="40.1" font-size="10" text-anchor="end" fill="#111" stroke="#111" stroke-width="0.18">10</text>
<line x1="570.5" y1="145.4" x2="570.5" y2="149.4" stroke="#111" stroke-width="0.9"/>
<line x1="570.5" y1="116.46" x2="570.5" y2="80.99" stroke="#111" stroke-width="0.85"/>
<line x1="566.9" y1="116.46" x2="574.1" y2="116.46" stroke="#111" stroke-width="0.85"/>
<line x1="566.9" y1="80.99" x2="574.1" y2="80.99" stroke="#111" stroke-width="0.85"/>
<line x1="595" y1="145.4" x2="595" y2="149.4" stroke="#111" stroke-width="0.9"/>
<line x1="595" y1="134.96" x2="595" y2="104.16" stroke="#111" stroke-width="0.85"/>
<line x1="591.4" y1="134.96" x2="598.6" y2="134.96" stroke="#111" stroke-width="0.85"/>
<line x1="591.4" y1="104.16" x2="598.6" y2="104.16" stroke="#111" stroke-width="0.85"/>
<line x1="619.6" y1="145.4" x2="619.6" y2="149.4" stroke="#111" stroke-width="0.9"/>
<line x1="619.6" y1="131.04" x2="619.6" y2="102.42" stroke="#111" stroke-width="0.85"/>
<line x1="616" y1="131.04" x2="623.2" y2="131.04" stroke="#111" stroke-width="0.85"/>
<line x1="616" y1="102.42" x2="623.2" y2="102.42" stroke="#111" stroke-width="0.85"/>
<line x1="644" y1="145.4" x2="644" y2="149.4" stroke="#111" stroke-width="0.9"/>
<line x1="644" y1="118.96" x2="644" y2="93.39" stroke="#111" stroke-width="0.85"/>
<line x1="640.4" y1="118.96" x2="647.6" y2="118.96" stroke="#111" stroke-width="0.85"/>
<line x1="640.4" y1="93.39" x2="647.6" y2="93.39" stroke="#111" stroke-width="0.85"/>
<line x1="668.5" y1="145.4" x2="668.5" y2="149.4" stroke="#111" stroke-width="0.9"/>
<line x1="668.5" y1="122.99" x2="668.5" y2="84.04" stroke="#111" stroke-width="0.85"/>
<line x1="664.9" y1="122.99" x2="672.1" y2="122.99" stroke="#111" stroke-width="0.85"/>
<line x1="664.9" y1="84.04" x2="672.1" y2="84.04" stroke="#111" stroke-width="0.85"/>
<circle cx="570.5" cy="58.36" r="2" fill="#fff" stroke="#111" stroke-width="0.7"/>
<circle cx="569" cy="69.24" r="2" fill="#fff" stroke="#111" stroke-width="0.7"/>
<circle cx="570.5" cy="69.24" r="2" fill="#fff" stroke="#111" stroke-width="0.7"/>
<circle cx="572" cy="69.24" r="2" fill="#fff" stroke="#111" stroke-width="0.7"/>
<circle cx="569" cy="80.12" r="2" fill="#fff" stroke="#111" stroke-width="0.7"/>
<circle cx="570.5" cy="80.12" r="2" fill="#fff" stroke="#111" stroke-width="0.7"/>
<circle cx="572" cy="80.12" r="2" fill="#fff" stroke="#111" stroke-width="0.7"/>
<circle cx="569" cy="91" r="2" fill="#fff" stroke="#111" stroke-width="0.7"/>
<circle cx="570.5" cy="91" r="2" fill="#fff" stroke="#111" stroke-width="0.7"/>
<circle cx="572" cy="91" r="2" fill="#fff" stroke="#111" stroke-width="0.7"/>
<circle cx="564.9" cy="101.88" r="2" fill="#fff" stroke="#111" stroke-width="0.7"/>
<circle cx="567.7" cy="101.88" r="2" fill="#fff" stroke="#111" stroke-width="0.7"/>
<circle cx="570.5" cy="101.88" r="2" fill="#fff" stroke="#111" stroke-width="0.7"/>
<circle cx="573.3" cy="101.88" r="2" fill="#fff" stroke="#111" stroke-width="0.7"/>
<circle cx="576.1" cy="101.88" r="2" fill="#fff" stroke="#111" stroke-width="0.7"/>
<circle cx="563.5" cy="112.76" r="2" fill="#fff" stroke="#111" stroke-width="0.7"/>
<circle cx="566.3" cy="112.76" r="2" fill="#fff" stroke="#111" stroke-width="0.7"/>
<circle cx="569.1" cy="112.76" r="2" fill="#fff" stroke="#111" stroke-width="0.7"/>
<circle cx="571.9" cy="112.76" r="2" fill="#fff" stroke="#111" stroke-width="0.7"/>
<circle cx="574.7" cy="112.76" r="2" fill="#fff" stroke="#111" stroke-width="0.7"/>
<circle cx="577.5" cy="112.76" r="2" fill="#fff" stroke="#111" stroke-width="0.7"/>
<circle cx="569.9" cy="123.64" r="2" fill="#fff" stroke="#111" stroke-width="0.7"/>
<circle cx="571.1" cy="123.64" r="2" fill="#fff" stroke="#111" stroke-width="0.7"/>
<rect x="593" y="89" width="4" height="4" fill="#fff" stroke="#111" stroke-width="0.7"/>
<rect x="589.6" y="99.88" width="4" height="4" fill="#fff" stroke="#111" stroke-width="0.7"/>
<rect x="593" y="99.88" width="4" height="4" fill="#fff" stroke="#111" stroke-width="0.7"/>
<rect x="596.4" y="99.88" width="4" height="4" fill="#fff" stroke="#111" stroke-width="0.7"/>
<rect x="586.4" y="110.76" width="4" height="4" fill="#fff" stroke="#111" stroke-width="0.7"/>
<rect x="589.7" y="110.76" width="4" height="4" fill="#fff" stroke="#111" stroke-width="0.7"/>
<rect x="593" y="110.76" width="4" height="4" fill="#fff" stroke="#111" stroke-width="0.7"/>
<rect x="596.3" y="110.76" width="4" height="4" fill="#fff" stroke="#111" stroke-width="0.7"/>
<rect x="599.6" y="110.76" width="4" height="4" fill="#fff" stroke="#111" stroke-width="0.7"/>
<rect x="587.6" y="121.64" width="4" height="4" fill="#fff" stroke="#111" stroke-width="0.7"/>
<rect x="591.2" y="121.64" width="4" height="4" fill="#fff" stroke="#111" stroke-width="0.7"/>
<rect x="594.8" y="121.64" width="4" height="4" fill="#fff" stroke="#111" stroke-width="0.7"/>
<rect x="598.4" y="121.64" width="4" height="4" fill="#fff" stroke="#111" stroke-width="0.7"/>
<rect x="592.5" y="132.52" width="4" height="4" fill="#fff" stroke="#111" stroke-width="0.7"/>
<rect x="593.5" y="132.52" width="4" height="4" fill="#fff" stroke="#111" stroke-width="0.7"/>
<rect x="590.5" y="143.4" width="4" height="4" fill="#fff" stroke="#111" stroke-width="0.7"/>
<rect x="593" y="143.4" width="4" height="4" fill="#fff" stroke="#111" stroke-width="0.7"/>
<rect x="595.5" y="143.4" width="4" height="4" fill="#fff" stroke="#111" stroke-width="0.7"/>
<circle cx="613.15" cy="101.88" r="2" fill="#fff" stroke="#111" stroke-width="0.7"/>
<circle cx="617.45" cy="101.88" r="2" fill="#fff" stroke="#111" stroke-width="0.7"/>
<circle cx="621.75" cy="101.88" r="2" fill="#fff" stroke="#111" stroke-width="0.7"/>
<circle cx="626.05" cy="101.88" r="2" fill="#fff" stroke="#111" stroke-width="0.7"/>
<circle cx="613" cy="123.64" r="2" fill="#fff" stroke="#111" stroke-width="0.7"/>
<circle cx="616.3" cy="123.64" r="2" fill="#fff" stroke="#111" stroke-width="0.7"/>
<circle cx="619.6" cy="123.64" r="2" fill="#fff" stroke="#111" stroke-width="0.7"/>
<circle cx="622.9" cy="123.64" r="2" fill="#fff" stroke="#111" stroke-width="0.7"/>
<circle cx="626.2" cy="123.64" r="2" fill="#fff" stroke="#111" stroke-width="0.7"/>
<circle cx="617.8" cy="134.52" r="2" fill="#fff" stroke="#111" stroke-width="0.7"/>
<circle cx="621.4" cy="134.52" r="2" fill="#fff" stroke="#111" stroke-width="0.7"/>
<path d="M644 77.82 L646.3 81.96 L641.7 81.96 Z" fill="#fff" stroke="#111" stroke-width="0.7"/>
<path d="M644 88.7 L646.3 92.84 L641.7 92.84 Z" fill="#fff" stroke="#111" stroke-width="0.7"/>
<path d="M643.4 99.58 L645.7 103.72 L641.1 103.72 Z" fill="#fff" stroke="#111" stroke-width="0.7"/>
<path d="M644.6 99.58 L646.9 103.72 L642.3 103.72 Z" fill="#fff" stroke="#111" stroke-width="0.7"/>
<path d="M638 110.46 L640.3 114.6 L635.7 114.6 Z" fill="#fff" stroke="#111" stroke-width="0.7"/>
<path d="M640.4 110.46 L642.7 114.6 L638.1 114.6 Z" fill="#fff" stroke="#111" stroke-width="0.7"/>
<path d="M642.8 110.46 L645.1 114.6 L640.5 114.6 Z" fill="#fff" stroke="#111" stroke-width="0.7"/>
<path d="M645.2 110.46 L647.5 114.6 L642.9 114.6 Z" fill="#fff" stroke="#111" stroke-width="0.7"/>
<path d="M647.6 110.46 L649.9 114.6 L645.3 114.6 Z" fill="#fff" stroke="#111" stroke-width="0.7"/>
<path d="M650 110.46 L652.3 114.6 L647.7 114.6 Z" fill="#fff" stroke="#111" stroke-width="0.7"/>
<path d="M644 121.34 L646.3 125.48 L641.7 125.48 Z" fill="#fff" stroke="#111" stroke-width="0.7"/>
<path d="M668.5 60.66 L670.8 56.52 L666.2 56.52 Z" fill="#fff" stroke="#111" stroke-width="0.7"/>
<path d="M668.5 82.42 L670.8 78.28 L666.2 78.28 Z" fill="#fff" stroke="#111" stroke-width="0.7"/>
<path d="M668.5 93.3 L670.8 89.16 L666.2 89.16 Z" fill="#fff" stroke="#111" stroke-width="0.7"/>
<path d="M668.5 104.18 L670.8 100.04 L666.2 100.04 Z" fill="#fff" stroke="#111" stroke-width="0.7"/>
<path d="M663.1 115.06 L665.4 110.92 L660.8 110.92 Z" fill="#fff" stroke="#111" stroke-width="0.7"/>
<path d="M665.8 115.06 L668.1 110.92 L663.5 110.92 Z" fill="#fff" stroke="#111" stroke-width="0.7"/>
<path d="M668.5 115.06 L670.8 110.92 L666.2 110.92 Z" fill="#fff" stroke="#111" stroke-width="0.7"/>
<path d="M671.2 115.06 L673.5 110.92 L668.9 110.92 Z" fill="#fff" stroke="#111" stroke-width="0.7"/>
<path d="M673.9 115.06 L676.2 110.92 L671.6 110.92 Z" fill="#fff" stroke="#111" stroke-width="0.7"/>
<path d="M666.8 125.94 L669.1 121.8 L664.5 121.8 Z" fill="#fff" stroke="#111" stroke-width="0.7"/>
<path d="M670.2 125.94 L672.5 121.8 L667.9 121.8 Z" fill="#fff" stroke="#111" stroke-width="0.7"/>
<text x="538.7" y="90.4" font-size="10" text-anchor="middle" transform="rotate(-90 538.7 90.4)" fill="#111" stroke="#111" stroke-width="0.18">Platform crossing</text>
<line x1="567" y1="44.4" x2="592.4" y2="44.4" stroke="#2a2a2a" stroke-width="1"/>
<text x="578.9" y="45.1" font-size="10.2" text-anchor="middle" fill="#222" stroke="#222" stroke-width="0.18">**</text>
<text x="575.6" y="155.7" font-size="10.4" text-anchor="end" transform="rotate(-45 575.6 155.7)" fill="#111" stroke="#111" stroke-width="0.18">WT</text>
<text x="599.9" y="155.7" font-size="10.4" text-anchor="end" transform="rotate(-45 599.9 155.7)" fill="#111" stroke="#111" stroke-width="0.18">iKO</text>
<text x="623.1" y="155.7" font-size="10.4" text-anchor="end" transform="rotate(-45 623.1 155.7)" fill="#111" stroke="#111" stroke-width="0.18">iKO-High</text>
<text x="647.5" y="155.7" font-size="10.4" text-anchor="end" transform="rotate(-45 647.5 155.7)" fill="#111" stroke="#111" stroke-width="0.18">iKO-Low</text>
<text x="674.5" y="155.7" font-size="10.4" text-anchor="end" transform="rotate(-45 674.5 155.7)" fill="#111" stroke="#111" stroke-width="0.18">iKO-DFO</text>
<text x="382" y="193" font-size="12.6" text-anchor="start" font-weight="bold" fill="#111">G</text>
<rect x="415.3" y="282.17" width="23.4" height="42.93" fill="#A9A9A9" stroke="#222" stroke-width="0.7"/>
<rect x="447.5" y="311.2" width="23.4" height="13.9" fill="#4DAF3B" stroke="#222" stroke-width="0.7"/>
<rect x="479.3" y="292.16" width="23.4" height="32.94" fill="#F1B642" stroke="#222" stroke-width="0.7"/>
<line x1="405.9" y1="216.7" x2="405.9" y2="325.5" stroke="#111" stroke-width="0.9"/>
<line x1="405.9" y1="325.1" x2="512" y2="325.1" stroke="#111" stroke-width="0.9"/>
<line x1="400.9" y1="325.1" x2="405.9" y2="325.1" stroke="#111" stroke-width="0.9"/>
<text x="399.7" y="328.6" font-size="10" text-anchor="end" fill="#111" stroke="#111" stroke-width="0.18">0</text>
<line x1="400.9" y1="298.1" x2="405.9" y2="298.1" stroke="#111" stroke-width="0.9"/>
<text x="399.7" y="301.6" font-size="10" text-anchor="end" fill="#111" stroke="#111" stroke-width="0.18">10</text>
<line x1="400.9" y1="271.1" x2="405.9" y2="271.1" stroke="#111" stroke-width="0.9"/>
<text x="399.7" y="274.6" font-size="10" text-anchor="end" fill="#111" stroke="#111" stroke-width="0.18">20</text>
<line x1="400.9" y1="244.1" x2="405.9" y2="244.1" stroke="#111" stroke-width="0.9"/>
<text x="399.7" y="247.6" font-size="10" text-anchor="end" fill="#111" stroke="#111" stroke-width="0.18">30</text>
<line x1="400.9" y1="217.1" x2="405.9" y2="217.1" stroke="#111" stroke-width="0.9"/>
<text x="399.7" y="220.6" font-size="10" text-anchor="end" fill="#111" stroke="#111" stroke-width="0.18">40</text>
<line x1="427" y1="325.1" x2="427" y2="329.1" stroke="#111" stroke-width="0.9"/>
<line x1="427" y1="286.09" x2="427" y2="277.85" stroke="#111" stroke-width="0.85"/>
<line x1="421.5" y1="286.09" x2="432.5" y2="286.09" stroke="#111" stroke-width="0.85"/>
<line x1="421.5" y1="277.85" x2="432.5" y2="277.85" stroke="#111" stroke-width="0.85"/>
<line x1="459.2" y1="325.1" x2="459.2" y2="329.1" stroke="#111" stroke-width="0.9"/>
<line x1="459.2" y1="313.09" x2="459.2" y2="309.31" stroke="#111" stroke-width="0.85"/>
<line x1="453.7" y1="313.09" x2="464.7" y2="313.09" stroke="#111" stroke-width="0.85"/>
<line x1="453.7" y1="309.31" x2="464.7" y2="309.31" stroke="#111" stroke-width="0.85"/>
<line x1="491" y1="325.1" x2="491" y2="329.1" stroke="#111" stroke-width="0.9"/>
<line x1="491" y1="296.21" x2="491" y2="288.11" stroke="#111" stroke-width="0.85"/>
<line x1="485.5" y1="296.21" x2="496.5" y2="296.21" stroke="#111" stroke-width="0.85"/>
<line x1="485.5" y1="288.11" x2="496.5" y2="288.11" stroke="#111" stroke-width="0.85"/>
<circle cx="426" cy="236.81" r="2.4" fill="#fff" stroke="#111" stroke-width="0.7"/>
<circle cx="428" cy="236.27" r="2.4" fill="#fff" stroke="#111" stroke-width="0.7"/>
<circle cx="421.5" cy="247.07" r="2.4" fill="#fff" stroke="#111" stroke-width="0.7"/>
<circle cx="425" cy="249.5" r="2.4" fill="#fff" stroke="#111" stroke-width="0.7"/>
<circle cx="429.5" cy="250.58" r="2.4" fill="#fff" stroke="#111" stroke-width="0.7"/>
<circle cx="425" cy="257.6" r="2.4" fill="#fff" stroke="#111" stroke-width="0.7"/>
<circle cx="428.5" cy="258.14" r="2.4" fill="#fff" stroke="#111" stroke-width="0.7"/>
<circle cx="426" cy="261.38" r="2.4" fill="#fff" stroke="#111" stroke-width="0.7"/>
<circle cx="430" cy="260.84" r="2.4" fill="#fff" stroke="#111" stroke-width="0.7"/>
<circle cx="427" cy="265.43" r="2.4" fill="#fff" stroke="#111" stroke-width="0.7"/>
<circle cx="425.5" cy="271.1" r="2.4" fill="#fff" stroke="#111" stroke-width="0.7"/>
<circle cx="428.5" cy="271.91" r="2.4" fill="#fff" stroke="#111" stroke-width="0.7"/>
<circle cx="425" cy="281.36" r="2.4" fill="#fff" stroke="#111" stroke-width="0.7"/>
<circle cx="428" cy="282.44" r="2.4" fill="#fff" stroke="#111" stroke-width="0.7"/>
<circle cx="422" cy="291.08" r="2.4" fill="#fff" stroke="#111" stroke-width="0.7"/>
<circle cx="425" cy="291.62" r="2.4" fill="#fff" stroke="#111" stroke-width="0.7"/>
<circle cx="429" cy="293.78" r="2.4" fill="#fff" stroke="#111" stroke-width="0.7"/>
<circle cx="422" cy="296.48" r="2.4" fill="#fff" stroke="#111" stroke-width="0.7"/>
<circle cx="426" cy="297.02" r="2.4" fill="#fff" stroke="#111" stroke-width="0.7"/>
<circle cx="430" cy="296.48" r="2.4" fill="#fff" stroke="#111" stroke-width="0.7"/>
<circle cx="418" cy="299.99" r="2.4" fill="#fff" stroke="#111" stroke-width="0.7"/>
<circle cx="422" cy="299.72" r="2.4" fill="#fff" stroke="#111" stroke-width="0.7"/>
<circle cx="427" cy="300.26" r="2.4" fill="#fff" stroke="#111" stroke-width="0.7"/>
<circle cx="432" cy="302.42" r="2.4" fill="#fff" stroke="#111" stroke-width="0.7"/>
<circle cx="435.5" cy="302.42" r="2.4" fill="#fff" stroke="#111" stroke-width="0.7"/>
<circle cx="424" cy="302.69" r="2.4" fill="#fff" stroke="#111" stroke-width="0.7"/>
<circle cx="428.5" cy="302.15" r="2.4" fill="#fff" stroke="#111" stroke-width="0.7"/>
<circle cx="419" cy="305.39" r="2.4" fill="#fff" stroke="#111" stroke-width="0.7"/>
<circle cx="425" cy="305.66" r="2.4" fill="#fff" stroke="#111" stroke-width="0.7"/>
<circle cx="430" cy="305.12" r="2.4" fill="#fff" stroke="#111" stroke-width="0.7"/>
<circle cx="427" cy="311.33" r="2.4" fill="#fff" stroke="#111" stroke-width="0.7"/>
<rect x="456.8" y="289.76" width="4.8" height="4.8" fill="#fff" stroke="#111" stroke-width="0.7"/>
<rect x="456.8" y="292.19" width="4.8" height="4.8" fill="#fff" stroke="#111" stroke-width="0.7"/>
<rect x="456.8" y="294.89" width="4.8" height="4.8" fill="#fff" stroke="#111" stroke-width="0.7"/>
<rect x="454.8" y="302.72" width="4.8" height="4.8" fill="#fff" stroke="#111" stroke-width="0.7"/>
<rect x="458.8" y="303.26" width="4.8" height="4.8" fill="#fff" stroke="#111" stroke-width="0.7"/>
<rect x="454.3" y="305.69" width="4.8" height="4.8" fill="#fff" stroke="#111" stroke-width="0.7"/>
<rect x="458.8" y="305.96" width="4.8" height="4.8" fill="#fff" stroke="#111" stroke-width="0.7"/>
<rect x="454.8" y="308.66" width="4.8" height="4.8" fill="#fff" stroke="#111" stroke-width="0.7"/>
<rect x="459.3" y="309.2" width="4.8" height="4.8" fill="#fff" stroke="#111" stroke-width="0.7"/>
<rect x="451.8" y="313.52" width="4.8" height="4.8" fill="#fff" stroke="#111" stroke-width="0.7"/>
<rect x="456.8" y="313.25" width="4.8" height="4.8" fill="#fff" stroke="#111" stroke-width="0.7"/>
<rect x="461.8" y="313.79" width="4.8" height="4.8" fill="#fff" stroke="#111" stroke-width="0.7"/>
<rect x="448.8" y="317.03" width="4.8" height="4.8" fill="#fff" stroke="#111" stroke-width="0.7"/>
<rect x="454.3" y="317.3" width="4.8" height="4.8" fill="#fff" stroke="#111" stroke-width="0.7"/>
<rect x="460.8" y="316.76" width="4.8" height="4.8" fill="#fff" stroke="#111" stroke-width="0.7"/>
<rect x="465.8" y="316.22" width="4.8" height="4.8" fill="#fff" stroke="#111" stroke-width="0.7"/>
<path d="M491.5 259.16 L494.26 264.13 L488.74 264.13 Z" fill="#fff" stroke="#111" stroke-width="0.7"/>
<path d="M491 281.57 L493.76 286.54 L488.24 286.54 Z" fill="#fff" stroke="#111" stroke-width="0.7"/>
<path d="M491 286.7 L493.76 291.67 L488.24 291.67 Z" fill="#fff" stroke="#111" stroke-width="0.7"/>
<path d="M483 292.1 L485.76 297.07 L480.24 297.07 Z" fill="#fff" stroke="#111" stroke-width="0.7"/>
<path d="M491 291.83 L493.76 296.8 L488.24 296.8 Z" fill="#fff" stroke="#111" stroke-width="0.7"/>
<path d="M487 294.26 L489.76 299.23 L484.24 299.23 Z" fill="#fff" stroke="#111" stroke-width="0.7"/>
<path d="M495 293.99 L497.76 298.96 L492.24 298.96 Z" fill="#fff" stroke="#111" stroke-width="0.7"/>
<path d="M491 295.34 L493.76 300.31 L488.24 300.31 Z" fill="#fff" stroke="#111" stroke-width="0.7"/>
<path d="M490 296.42 L492.76 301.39 L487.24 301.39 Z" fill="#fff" stroke="#111" stroke-width="0.7"/>
<path d="M495.5 298.04 L498.26 303.01 L492.74 303.01 Z" fill="#fff" stroke="#111" stroke-width="0.7"/>
<path d="M487 299.66 L489.76 304.63 L484.24 304.63 Z" fill="#fff" stroke="#111" stroke-width="0.7"/>
<path d="M491 298.31 L493.76 303.28 L488.24 303.28 Z" fill="#fff" stroke="#111" stroke-width="0.7"/>
<text x="373.7" y="267.5" font-size="10" text-anchor="middle" transform="rotate(-90 373.7 267.5)" fill="#111" stroke="#111" stroke-width="0.18">Time spent in</text>
<text x="384.8" y="267.5" font-size="10" text-anchor="middle" transform="rotate(-90 384.8 267.5)" fill="#111" stroke="#111" stroke-width="0.18">target quadrant (sec)</text>
<line x1="424.3" y1="227.5" x2="460.2" y2="227.5" stroke="#2a2a2a" stroke-width="1"/>
<text x="441.45" y="228.2" font-size="10.2" text-anchor="middle" fill="#222" stroke="#222" stroke-width="0.18">***</text>
<line x1="463.2" y1="246.4" x2="496.6" y2="246.4" stroke="#2a2a2a" stroke-width="1"/>
<text x="479.1" y="247.1" font-size="10.2" text-anchor="middle" fill="#222" stroke="#222" stroke-width="0.18">*</text>
<text x="427" y="338.7" font-size="10.3" text-anchor="middle" fill="#111" stroke="#111" stroke-width="0.18">WT</text>
<text x="459.2" y="338.7" font-size="10.3" text-anchor="middle" fill="#111" stroke="#111" stroke-width="0.18">iKO</text>
<text x="497.5" y="338.7" font-size="10.3" text-anchor="middle" fill="#111" stroke="#111" stroke-width="0.18">iKO_ZnPP</text>
<text x="537.6" y="193" font-size="12.6" text-anchor="start" font-weight="bold" fill="#111">H</text>
<rect x="561.65" y="277.96" width="24.7" height="47.44" fill="#A9A9A9" stroke="#222" stroke-width="0.7"/>
<rect x="597.95" y="298.96" width="24.7" height="26.44" fill="#4DAF3B" stroke="#222" stroke-width="0.7"/>
<rect x="634.55" y="277.42" width="24.7" height="47.98" fill="#F1B642" stroke="#222" stroke-width="0.7"/>
<line x1="555.6" y1="216.2" x2="555.6" y2="325.8" stroke="#111" stroke-width="0.9"/>
<line x1="555.6" y1="325.4" x2="665" y2="325.4" stroke="#111" stroke-width="0.9"/>
<line x1="550.6" y1="325.4" x2="555.6" y2="325.4" stroke="#111" stroke-width="0.9"/>
<text x="549.4" y="328.9" font-size="10" text-anchor="end" fill="#111" stroke="#111" stroke-width="0.18">0</text>
<line x1="550.6" y1="303.64" x2="555.6" y2="303.64" stroke="#111" stroke-width="0.9"/>
<text x="549.4" y="307.14" font-size="10" text-anchor="end" fill="#111" stroke="#111" stroke-width="0.18">2</text>
<line x1="550.6" y1="281.88" x2="555.6" y2="281.88" stroke="#111" stroke-width="0.9"/>
<text x="549.4" y="285.38" font-size="10" text-anchor="end" fill="#111" stroke="#111" stroke-width="0.18">4</text>
<line x1="550.6" y1="260.12" x2="555.6" y2="260.12" stroke="#111" stroke-width="0.9"/>
<text x="549.4" y="263.62" font-size="10" text-anchor="end" fill="#111" stroke="#111" stroke-width="0.18">6</text>
<line x1="550.6" y1="238.36" x2="555.6" y2="238.36" stroke="#111" stroke-width="0.9"/>
<text x="549.4" y="241.86" font-size="10" text-anchor="end" fill="#111" stroke="#111" stroke-width="0.18">8</text>
<line x1="550.6" y1="216.6" x2="555.6" y2="216.6" stroke="#111" stroke-width="0.9"/>
<text x="549.4" y="220.1" font-size="10" text-anchor="end" fill="#111" stroke="#111" stroke-width="0.18">10</text>
<line x1="574" y1="325.4" x2="574" y2="329.4" stroke="#111" stroke-width="0.9"/>
<line x1="574" y1="281.01" x2="574" y2="275.03" stroke="#111" stroke-width="0.85"/>
<line x1="568" y1="281.01" x2="580" y2="281.01" stroke="#111" stroke-width="0.85"/>
<line x1="568" y1="275.03" x2="580" y2="275.03" stroke="#111" stroke-width="0.85"/>
<line x1="610.3" y1="325.4" x2="610.3" y2="329.4" stroke="#111" stroke-width="0.9"/>
<line x1="610.3" y1="302.77" x2="610.3" y2="294.94" stroke="#111" stroke-width="0.85"/>
<line x1="604.3" y1="302.77" x2="616.3" y2="302.77" stroke="#111" stroke-width="0.85"/>
<line x1="604.3" y1="294.94" x2="616.3" y2="294.94" stroke="#111" stroke-width="0.85"/>
<line x1="646.9" y1="325.4" x2="646.9" y2="329.4" stroke="#111" stroke-width="0.9"/>
<line x1="646.9" y1="281.44" x2="646.9" y2="273.61" stroke="#111" stroke-width="0.85"/>
<line x1="640.9" y1="281.44" x2="652.9" y2="281.44" stroke="#111" stroke-width="0.85"/>
<line x1="640.9" y1="273.61" x2="652.9" y2="273.61" stroke="#111" stroke-width="0.85"/>
<circle cx="574" cy="238.36" r="1.75" fill="#fff" stroke="#111" stroke-width="0.7"/>
<circle cx="566.8" cy="249.24" r="1.75" fill="#fff" stroke="#111" stroke-width="0.7"/>
<circle cx="571.6" cy="249.24" r="1.75" fill="#fff" stroke="#111" stroke-width="0.7"/>
<circle cx="576.4" cy="249.24" r="1.75" fill="#fff" stroke="#111" stroke-width="0.7"/>
<circle cx="581.2" cy="249.24" r="1.75" fill="#fff" stroke="#111" stroke-width="0.7"/>
<circle cx="569" cy="260.12" r="1.75" fill="#fff" stroke="#111" stroke-width="0.7"/>
<circle cx="574" cy="260.12" r="1.75" fill="#fff" stroke="#111" stroke-width="0.7"/>
<circle cx="579" cy="260.12" r="1.75" fill="#fff" stroke="#111" stroke-width="0.7"/>
<circle cx="564.2" cy="271" r="1.75" fill="#fff" stroke="#111" stroke-width="0.7"/>
<circle cx="569.1" cy="271" r="1.75" fill="#fff" stroke="#111" stroke-width="0.7"/>
<circle cx="574" cy="271" r="1.75" fill="#fff" stroke="#111" stroke-width="0.7"/>
<circle cx="578.9" cy="271" r="1.75" fill="#fff" stroke="#111" stroke-width="0.7"/>
<circle cx="583.8" cy="271" r="1.75" fill="#fff" stroke="#111" stroke-width="0.7"/>
<circle cx="566" cy="281.88" r="1.75" fill="#fff" stroke="#111" stroke-width="0.7"/>
<circle cx="569.2" cy="281.88" r="1.75" fill="#fff" stroke="#111" stroke-width="0.7"/>
<circle cx="572.4" cy="281.88" r="1.75" fill="#fff" stroke="#111" stroke-width="0.7"/>
<circle cx="575.6" cy="281.88" r="1.75" fill="#fff" stroke="#111" stroke-width="0.7"/>
<circle cx="578.8" cy="281.88" r="1.75" fill="#fff" stroke="#111" stroke-width="0.7"/>
<circle cx="582" cy="281.88" r="1.75" fill="#fff" stroke="#111" stroke-width="0.7"/>
<circle cx="563.5" cy="292.76" r="1.75" fill="#fff" stroke="#111" stroke-width="0.7"/>
<circle cx="566.5" cy="292.76" r="1.75" fill="#fff" stroke="#111" stroke-width="0.7"/>
<circle cx="569.5" cy="292.76" r="1.75" fill="#fff" stroke="#111" stroke-width="0.7"/>
<circle cx="572.5" cy="292.76" r="1.75" fill="#fff" stroke="#111" stroke-width="0.7"/>
<circle cx="575.5" cy="292.76" r="1.75" fill="#fff" stroke="#111" stroke-width="0.7"/>
<circle cx="578.5" cy="292.76" r="1.75" fill="#fff" stroke="#111" stroke-width="0.7"/>
<circle cx="581.5" cy="292.76" r="1.75" fill="#fff" stroke="#111" stroke-width="0.7"/>
<circle cx="584.5" cy="292.76" r="1.75" fill="#fff" stroke="#111" stroke-width="0.7"/>
<circle cx="571.8" cy="303.64" r="1.75" fill="#fff" stroke="#111" stroke-width="0.7"/>
<circle cx="576.2" cy="303.64" r="1.75" fill="#fff" stroke="#111" stroke-width="0.7"/>
<rect x="608.55" y="269.25" width="3.5" height="3.5" fill="#fff" stroke="#111" stroke-width="0.7"/>
<rect x="603.65" y="280.13" width="3.5" height="3.5" fill="#fff" stroke="#111" stroke-width="0.7"/>
<rect x="608.55" y="280.13" width="3.5" height="3.5" fill="#fff" stroke="#111" stroke-width="0.7"/>
<rect x="613.45" y="280.13" width="3.5" height="3.5" fill="#fff" stroke="#111" stroke-width="0.7"/>
<rect x="598.55" y="291.01" width="3.5" height="3.5" fill="#fff" stroke="#111" stroke-width="0.7"/>
<rect x="602.55" y="291.01" width="3.5" height="3.5" fill="#fff" stroke="#111" stroke-width="0.7"/>
<rect x="606.55" y="291.01" width="3.5" height="3.5" fill="#fff" stroke="#111" stroke-width="0.7"/>
<rect x="610.55" y="291.01" width="3.5" height="3.5" fill="#fff" stroke="#111" stroke-width="0.7"/>
<rect x="614.55" y="291.01" width="3.5" height="3.5" fill="#fff" stroke="#111" stroke-width="0.7"/>
<rect x="618.55" y="291.01" width="3.5" height="3.5" fill="#fff" stroke="#111" stroke-width="0.7"/>
<rect x="600.75" y="301.89" width="3.5" height="3.5" fill="#fff" stroke="#111" stroke-width="0.7"/>
<rect x="604.65" y="301.89" width="3.5" height="3.5" fill="#fff" stroke="#111" stroke-width="0.7"/>
<rect x="608.55" y="301.89" width="3.5" height="3.5" fill="#fff" stroke="#111" stroke-width="0.7"/>
<rect x="612.45" y="301.89" width="3.5" height="3.5" fill="#fff" stroke="#111" stroke-width="0.7"/>
<rect x="616.35" y="301.89" width="3.5" height="3.5" fill="#fff" stroke="#111" stroke-width="0.7"/>
<rect x="608.55" y="312.77" width="3.5" height="3.5" fill="#fff" stroke="#111" stroke-width="0.7"/>
<rect x="603.65" y="323.65" width="3.5" height="3.5" fill="#fff" stroke="#111" stroke-width="0.7"/>
<rect x="608.55" y="323.65" width="3.5" height="3.5" fill="#fff" stroke="#111" stroke-width="0.7"/>
<rect x="613.45" y="323.65" width="3.5" height="3.5" fill="#fff" stroke="#111" stroke-width="0.7"/>
<path d="M644.5 258.11 L646.51 261.73 L642.49 261.73 Z" fill="#fff" stroke="#111" stroke-width="0.7"/>
<path d="M649.3 258.11 L651.31 261.73 L647.29 261.73 Z" fill="#fff" stroke="#111" stroke-width="0.7"/>
<path d="M641.9 268.99 L643.91 272.61 L639.89 272.61 Z" fill="#fff" stroke="#111" stroke-width="0.7"/>
<path d="M646.9 268.99 L648.91 272.61 L644.89 272.61 Z" fill="#fff" stroke="#111" stroke-width="0.7"/>
<path d="M651.9 268.99 L653.91 272.61 L649.89 272.61 Z" fill="#fff" stroke="#111" stroke-width="0.7"/>
<path d="M644.5 279.87 L646.51 283.49 L642.49 283.49 Z" fill="#fff" stroke="#111" stroke-width="0.7"/>
<path d="M649.3 279.87 L651.31 283.49 L647.29 283.49 Z" fill="#fff" stroke="#111" stroke-width="0.7"/>
<path d="M641.9 290.75 L643.91 294.37 L639.89 294.37 Z" fill="#fff" stroke="#111" stroke-width="0.7"/>
<path d="M646.9 290.75 L648.91 294.37 L644.89 294.37 Z" fill="#fff" stroke="#111" stroke-width="0.7"/>
<path d="M651.9 290.75 L653.91 294.37 L649.89 294.37 Z" fill="#fff" stroke="#111" stroke-width="0.7"/>
<text x="538.7" y="273" font-size="10" text-anchor="middle" transform="rotate(-90 538.7 273)" fill="#111" stroke="#111" stroke-width="0.18">Platform crossing</text>
<line x1="574" y1="231.4" x2="610" y2="231.4" stroke="#2a2a2a" stroke-width="1"/>
<text x="591.2" y="232.1" font-size="10.2" text-anchor="middle" fill="#222" stroke="#222" stroke-width="0.18">***</text>
<line x1="612.6" y1="250.4" x2="646.4" y2="250.4" stroke="#2a2a2a" stroke-width="1"/>
<text x="628.7" y="251.1" font-size="10.2" text-anchor="middle" fill="#222" stroke="#222" stroke-width="0.18">**</text>
<text x="574" y="338.2" font-size="10.3" text-anchor="middle" fill="#111" stroke="#111" stroke-width="0.18">WT</text>
<text x="610.3" y="338.2" font-size="10.3" text-anchor="middle" fill="#111" stroke="#111" stroke-width="0.18">iKO</text>
<text x="651.5" y="338.2" font-size="10.3" text-anchor="middle" fill="#111" stroke="#111" stroke-width="0.18">iKO-ZnPP</text>
<text x="382" y="378" font-size="12.6" text-anchor="start" font-weight="bold" fill="#111">K</text>
<rect x="405.15" y="473.15" width="19.5" height="40.05" fill="#A9A9A9" stroke="#222" stroke-width="0.7"/>
<rect x="434.55" y="499.91" width="19.5" height="13.29" fill="#4DAF3B" stroke="#222" stroke-width="0.7"/>
<rect x="463.95" y="473.31" width="19.5" height="39.89" fill="#F1B642" stroke="#222" stroke-width="0.7"/>
<rect x="493.35" y="474.39" width="19.5" height="38.81" fill="#3F9AE6" stroke="#222" stroke-width="0.7"/>
<line x1="395.2" y1="405" x2="395.2" y2="513.6" stroke="#111" stroke-width="0.9"/>
<line x1="395.2" y1="513.2" x2="518.5" y2="513.2" stroke="#111" stroke-width="0.9"/>
<line x1="390.2" y1="513.2" x2="395.2" y2="513.2" stroke="#111" stroke-width="0.9"/>
<text x="389" y="516.7" font-size="10" text-anchor="end" fill="#111" stroke="#111" stroke-width="0.18">0</text>
<line x1="390.2" y1="486.25" x2="395.2" y2="486.25" stroke="#111" stroke-width="0.9"/>
<text x="389" y="489.75" font-size="10" text-anchor="end" fill="#111" stroke="#111" stroke-width="0.18">10</text>
<line x1="390.2" y1="459.3" x2="395.2" y2="459.3" stroke="#111" stroke-width="0.9"/>
<text x="389" y="462.8" font-size="10" text-anchor="end" fill="#111" stroke="#111" stroke-width="0.18">20</text>
<line x1="390.2" y1="432.35" x2="395.2" y2="432.35" stroke="#111" stroke-width="0.9"/>
<text x="389" y="435.85" font-size="10" text-anchor="end" fill="#111" stroke="#111" stroke-width="0.18">30</text>
<line x1="390.2" y1="405.4" x2="395.2" y2="405.4" stroke="#111" stroke-width="0.9"/>
<text x="389" y="408.9" font-size="10" text-anchor="end" fill="#111" stroke="#111" stroke-width="0.18">40</text>
<line x1="414.9" y1="513.2" x2="414.9" y2="517.2" stroke="#111" stroke-width="0.9"/>
<line x1="414.9" y1="477.19" x2="414.9" y2="468.84" stroke="#111" stroke-width="0.85"/>
<line x1="409.7" y1="477.19" x2="420.1" y2="477.19" stroke="#111" stroke-width="0.85"/>
<line x1="409.7" y1="468.84" x2="420.1" y2="468.84" stroke="#111" stroke-width="0.85"/>
<line x1="444.3" y1="513.2" x2="444.3" y2="517.2" stroke="#111" stroke-width="0.9"/>
<line x1="444.3" y1="501.53" x2="444.3" y2="498.3" stroke="#111" stroke-width="0.85"/>
<line x1="439.1" y1="501.53" x2="449.5" y2="501.53" stroke="#111" stroke-width="0.85"/>
<line x1="439.1" y1="498.3" x2="449.5" y2="498.3" stroke="#111" stroke-width="0.85"/>
<line x1="473.7" y1="513.2" x2="473.7" y2="517.2" stroke="#111" stroke-width="0.9"/>
<line x1="473.7" y1="476.68" x2="473.7" y2="469.54" stroke="#111" stroke-width="0.85"/>
<line x1="468.5" y1="476.68" x2="478.9" y2="476.68" stroke="#111" stroke-width="0.85"/>
<line x1="468.5" y1="469.54" x2="478.9" y2="469.54" stroke="#111" stroke-width="0.85"/>
<line x1="503.1" y1="513.2" x2="503.1" y2="517.2" stroke="#111" stroke-width="0.9"/>
<line x1="503.1" y1="481.94" x2="503.1" y2="465.23" stroke="#111" stroke-width="0.85"/>
<line x1="498.1" y1="481.94" x2="508.1" y2="481.94" stroke="#111" stroke-width="0.85"/>
<line x1="498.1" y1="465.23" x2="508.1" y2="465.23" stroke="#111" stroke-width="0.85"/>
<circle cx="414.9" cy="434.51" r="2.4" fill="#fff" stroke="#111" stroke-width="0.7"/>
<circle cx="414.9" cy="457.68" r="2.4" fill="#fff" stroke="#111" stroke-width="0.7"/>
<circle cx="407.4" cy="462.26" r="2.4" fill="#fff" stroke="#111" stroke-width="0.7"/>
<circle cx="412.4" cy="461.73" r="2.4" fill="#fff" stroke="#111" stroke-width="0.7"/>
<circle cx="422.4" cy="465.77" r="2.4" fill="#fff" stroke="#111" stroke-width="0.7"/>
<circle cx="407.4" cy="469" r="2.4" fill="#fff" stroke="#111" stroke-width="0.7"/>
<circle cx="412.4" cy="471.7" r="2.4" fill="#fff" stroke="#111" stroke-width="0.7"/>
<circle cx="417.4" cy="471.16" r="2.4" fill="#fff" stroke="#111" stroke-width="0.7"/>
<circle cx="422.2" cy="471.43" r="2.4" fill="#fff" stroke="#111" stroke-width="0.7"/>
<circle cx="412.4" cy="482.75" r="2.4" fill="#fff" stroke="#111" stroke-width="0.7"/>
<circle cx="412.4" cy="487.33" r="2.4" fill="#fff" stroke="#111" stroke-width="0.7"/>
<circle cx="417.4" cy="486.79" r="2.4" fill="#fff" stroke="#111" stroke-width="0.7"/>
<circle cx="414.9" cy="491.1" r="2.4" fill="#fff" stroke="#111" stroke-width="0.7"/>
<circle cx="409.9" cy="495.14" r="2.4" fill="#fff" stroke="#111" stroke-width="0.7"/>
<circle cx="419.9" cy="493.66" r="2.4" fill="#fff" stroke="#111" stroke-width="0.7"/>
<rect x="441.4" y="486.55" width="4.8" height="4.8" fill="#fff" stroke="#111" stroke-width="0.7"/>
<rect x="439.9" y="489.24" width="4.8" height="4.8" fill="#fff" stroke="#111" stroke-width="0.7"/>
<rect x="444.9" y="490.32" width="4.8" height="4.8" fill="#fff" stroke="#111" stroke-width="0.7"/>
<rect x="438.4" y="491.94" width="4.8" height="4.8" fill="#fff" stroke="#111" stroke-width="0.7"/>
<rect x="442.9" y="494.09" width="4.8" height="4.8" fill="#fff" stroke="#111" stroke-width="0.7"/>
<rect x="440.9" y="497.33" width="4.8" height="4.8" fill="#fff" stroke="#111" stroke-width="0.7"/>
<rect x="445.4" y="496.79" width="4.8" height="4.8" fill="#fff" stroke="#111" stroke-width="0.7"/>
<rect x="435.9" y="500.02" width="4.8" height="4.8" fill="#fff" stroke="#111" stroke-width="0.7"/>
<rect x="440.4" y="499.75" width="4.8" height="4.8" fill="#fff" stroke="#111" stroke-width="0.7"/>
<rect x="447.4" y="500.02" width="4.8" height="4.8" fill="#fff" stroke="#111" stroke-width="0.7"/>
<rect x="434.9" y="502.18" width="4.8" height="4.8" fill="#fff" stroke="#111" stroke-width="0.7"/>
<rect x="444.4" y="502.72" width="4.8" height="4.8" fill="#fff" stroke="#111" stroke-width="0.7"/>
<rect x="441.9" y="504.33" width="4.8" height="4.8" fill="#fff" stroke="#111" stroke-width="0.7"/>
<path d="M476.4 452.5 L479.16 457.47 L473.64 457.47 Z" fill="#fff" stroke="#111" stroke-width="0.7"/>
<path d="M471.2 455.46 L473.96 460.43 L468.44 460.43 Z" fill="#fff" stroke="#111" stroke-width="0.7"/>
<path d="M473.7 463.28 L476.46 468.25 L470.94 468.25 Z" fill="#fff" stroke="#111" stroke-width="0.7"/>
<path d="M466.7 469.21 L469.46 474.17 L463.94 474.17 Z" fill="#fff" stroke="#111" stroke-width="0.7"/>
<path d="M476.5 468.67 L479.26 473.64 L473.74 473.64 Z" fill="#fff" stroke="#111" stroke-width="0.7"/>
<path d="M481.2 468.67 L483.96 473.64 L478.44 473.64 Z" fill="#fff" stroke="#111" stroke-width="0.7"/>
<path d="M471.4 471.63 L474.16 476.6 L468.64 476.6 Z" fill="#fff" stroke="#111" stroke-width="0.7"/>
<path d="M471.4 488.61 L474.16 493.58 L468.64 493.58 Z" fill="#fff" stroke="#111" stroke-width="0.7"/>
<path d="M476.5 488.61 L479.26 493.58 L473.74 493.58 Z" fill="#fff" stroke="#111" stroke-width="0.7"/>
<path d="M503.1 443.73 L505.86 438.77 L500.34 438.77 Z" fill="#fff" stroke="#111" stroke-width="0.7"/>
<path d="M503.1 448.85 L505.86 443.89 L500.34 443.89 Z" fill="#fff" stroke="#111" stroke-width="0.7"/>
<path d="M503.1 468.8 L505.86 463.83 L500.34 463.83 Z" fill="#fff" stroke="#111" stroke-width="0.7"/>
<path d="M510.4 488.47 L513.16 483.5 L507.64 483.5 Z" fill="#fff" stroke="#111" stroke-width="0.7"/>
<path d="M495.8 490.36 L498.56 485.39 L493.04 485.39 Z" fill="#fff" stroke="#111" stroke-width="0.7"/>
<path d="M510.4 493.32 L513.16 488.35 L507.64 488.35 Z" fill="#fff" stroke="#111" stroke-width="0.7"/>
<path d="M503.1 498.44 L505.86 493.47 L500.34 493.47 Z" fill="#fff" stroke="#111" stroke-width="0.7"/>
<text x="363.6" y="455" font-size="10" text-anchor="middle" transform="rotate(-90 363.6 455)" fill="#111" stroke="#111" stroke-width="0.18">Time spent in</text>
<text x="374.7" y="455" font-size="10" text-anchor="middle" transform="rotate(-90 374.7 455)" fill="#111" stroke="#111" stroke-width="0.18">target quadrant (sec)</text>
<line x1="415" y1="424.2" x2="444.9" y2="424.2" stroke="#2a2a2a" stroke-width="1"/>
<text x="429.15" y="424.9" font-size="10.2" text-anchor="middle" fill="#222" stroke="#222" stroke-width="0.18">***</text>
<line x1="445.3" y1="411.5" x2="505.7" y2="411.5" stroke="#2a2a2a" stroke-width="1"/>
<text x="474.7" y="412.2" font-size="10.2" text-anchor="middle" fill="#222" stroke="#222" stroke-width="0.18">**</text>
<line x1="445.3" y1="436.8" x2="475.7" y2="436.8" stroke="#2a2a2a" stroke-width="1"/>
<text x="459.7" y="437.5" font-size="10.2" text-anchor="middle" fill="#222" stroke="#222" stroke-width="0.18">***</text>
<text x="414.9" y="526.8" font-size="10.3" text-anchor="middle" fill="#111" stroke="#111" stroke-width="0.18">WT</text>
<text x="444.3" y="526.8" font-size="10.3" text-anchor="middle" fill="#111" stroke="#111" stroke-width="0.18">iKO</text>
<text x="473.7" y="526.8" font-size="10.3" text-anchor="middle" fill="#111" stroke="#111" stroke-width="0.18">Nrf2-/-</text>
<text x="503.1" y="526.8" font-size="10.3" text-anchor="middle" fill="#111" stroke="#111" stroke-width="0.18">DKO</text>
<text x="537.6" y="378" font-size="12.6" text-anchor="start" font-weight="bold" fill="#111">L</text>
<rect x="564" y="461.05" width="20.6" height="51.35" fill="#A9A9A9" stroke="#222" stroke-width="0.7"/>
<rect x="593.9" y="489.01" width="20.6" height="23.39" fill="#4DAF3B" stroke="#222" stroke-width="0.7"/>
<rect x="623.7" y="466.38" width="20.6" height="46.02" fill="#F1B642" stroke="#222" stroke-width="0.7"/>
<rect x="653.7" y="463.44" width="20.6" height="48.96" fill="#3F9AE6" stroke="#222" stroke-width="0.7"/>
<line x1="554.6" y1="403.2" x2="554.6" y2="512.8" stroke="#111" stroke-width="0.9"/>
<line x1="554.6" y1="512.4" x2="685" y2="512.4" stroke="#111" stroke-width="0.9"/>
<line x1="549.6" y1="512.4" x2="554.6" y2="512.4" stroke="#111" stroke-width="0.9"/>
<text x="548.4" y="515.9" font-size="10" text-anchor="end" fill="#111" stroke="#111" stroke-width="0.18">0</text>
<line x1="549.6" y1="490.64" x2="554.6" y2="490.64" stroke="#111" stroke-width="0.9"/>
<text x="548.4" y="494.14" font-size="10" text-anchor="end" fill="#111" stroke="#111" stroke-width="0.18">2</text>
<line x1="549.6" y1="468.88" x2="554.6" y2="468.88" stroke="#111" stroke-width="0.9"/>
<text x="548.4" y="472.38" font-size="10" text-anchor="end" fill="#111" stroke="#111" stroke-width="0.18">4</text>
<line x1="549.6" y1="447.12" x2="554.6" y2="447.12" stroke="#111" stroke-width="0.9"/>
<text x="548.4" y="450.62" font-size="10" text-anchor="end" fill="#111" stroke="#111" stroke-width="0.18">6</text>
<line x1="549.6" y1="425.36" x2="554.6" y2="425.36" stroke="#111" stroke-width="0.9"/>
<text x="548.4" y="428.86" font-size="10" text-anchor="end" fill="#111" stroke="#111" stroke-width="0.18">8</text>
<line x1="549.6" y1="403.6" x2="554.6" y2="403.6" stroke="#111" stroke-width="0.9"/>
<text x="548.4" y="407.1" font-size="10" text-anchor="end" fill="#111" stroke="#111" stroke-width="0.18">10</text>
<line x1="574.3" y1="512.4" x2="574.3" y2="516.4" stroke="#111" stroke-width="0.9"/>
<line x1="574.3" y1="464.42" x2="574.3" y2="456.04" stroke="#111" stroke-width="0.85"/>
<line x1="569" y1="464.42" x2="579.6" y2="464.42" stroke="#111" stroke-width="0.85"/>
<line x1="569" y1="456.04" x2="579.6" y2="456.04" stroke="#111" stroke-width="0.85"/>
<line x1="604.2" y1="512.4" x2="604.2" y2="516.4" stroke="#111" stroke-width="0.9"/>
<line x1="604.2" y1="492.38" x2="604.2" y2="485.42" stroke="#111" stroke-width="0.85"/>
<line x1="598.9" y1="492.38" x2="609.5" y2="492.38" stroke="#111" stroke-width="0.85"/>
<line x1="598.9" y1="485.42" x2="609.5" y2="485.42" stroke="#111" stroke-width="0.85"/>
<line x1="634" y1="512.4" x2="634" y2="516.4" stroke="#111" stroke-width="0.9"/>
<line x1="634" y1="473.99" x2="634" y2="456.37" stroke="#111" stroke-width="0.85"/>
<line x1="628.7" y1="473.99" x2="639.3" y2="473.99" stroke="#111" stroke-width="0.85"/>
<line x1="628.7" y1="456.37" x2="639.3" y2="456.37" stroke="#111" stroke-width="0.85"/>
<line x1="664" y1="512.4" x2="664" y2="516.4" stroke="#111" stroke-width="0.9"/>
<line x1="664" y1="470.4" x2="664" y2="454.63" stroke="#111" stroke-width="0.85"/>
<line x1="658.7" y1="470.4" x2="669.3" y2="470.4" stroke="#111" stroke-width="0.85"/>
<line x1="658.7" y1="454.63" x2="669.3" y2="454.63" stroke="#111" stroke-width="0.85"/>
<circle cx="574.3" cy="425.36" r="1.9" fill="#fff" stroke="#111" stroke-width="0.7"/>
<circle cx="566.35" cy="447.12" r="1.9" fill="#fff" stroke="#111" stroke-width="0.7"/>
<circle cx="571.65" cy="447.12" r="1.9" fill="#fff" stroke="#111" stroke-width="0.7"/>
<circle cx="576.95" cy="447.12" r="1.9" fill="#fff" stroke="#111" stroke-width="0.7"/>
<circle cx="582.25" cy="447.12" r="1.9" fill="#fff" stroke="#111" stroke-width="0.7"/>
<circle cx="571.6" cy="458" r="1.9" fill="#fff" stroke="#111" stroke-width="0.7"/>
<circle cx="577" cy="458" r="1.9" fill="#fff" stroke="#111" stroke-width="0.7"/>
<circle cx="566.35" cy="468.88" r="1.9" fill="#fff" stroke="#111" stroke-width="0.7"/>
<circle cx="571.65" cy="468.88" r="1.9" fill="#fff" stroke="#111" stroke-width="0.7"/>
<circle cx="576.95" cy="468.88" r="1.9" fill="#fff" stroke="#111" stroke-width="0.7"/>
<circle cx="582.25" cy="468.88" r="1.9" fill="#fff" stroke="#111" stroke-width="0.7"/>
<circle cx="569" cy="479.76" r="1.9" fill="#fff" stroke="#111" stroke-width="0.7"/>
<circle cx="574.3" cy="479.76" r="1.9" fill="#fff" stroke="#111" stroke-width="0.7"/>
<circle cx="579.6" cy="479.76" r="1.9" fill="#fff" stroke="#111" stroke-width="0.7"/>
<rect x="602.3" y="466.98" width="3.8" height="3.8" fill="#fff" stroke="#111" stroke-width="0.7"/>
<rect x="594.1" y="477.86" width="3.8" height="3.8" fill="#fff" stroke="#111" stroke-width="0.7"/>
<rect x="598.2" y="477.86" width="3.8" height="3.8" fill="#fff" stroke="#111" stroke-width="0.7"/>
<rect x="602.3" y="477.86" width="3.8" height="3.8" fill="#fff" stroke="#111" stroke-width="0.7"/>
<rect x="606.4" y="477.86" width="3.8" height="3.8" fill="#fff" stroke="#111" stroke-width="0.7"/>
<rect x="610.5" y="477.86" width="3.8" height="3.8" fill="#fff" stroke="#111" stroke-width="0.7"/>
<rect x="596.75" y="488.74" width="3.8" height="3.8" fill="#fff" stroke="#111" stroke-width="0.7"/>
<rect x="600.45" y="488.74" width="3.8" height="3.8" fill="#fff" stroke="#111" stroke-width="0.7"/>
<rect x="604.15" y="488.74" width="3.8" height="3.8" fill="#fff" stroke="#111" stroke-width="0.7"/>
<rect x="607.85" y="488.74" width="3.8" height="3.8" fill="#fff" stroke="#111" stroke-width="0.7"/>
<rect x="602.3" y="499.62" width="3.8" height="3.8" fill="#fff" stroke="#111" stroke-width="0.7"/>
<rect x="600.5" y="510.5" width="3.8" height="3.8" fill="#fff" stroke="#111" stroke-width="0.7"/>
<rect x="604.1" y="510.5" width="3.8" height="3.8" fill="#fff" stroke="#111" stroke-width="0.7"/>
<path d="M634 423.17 L636.18 427.11 L631.82 427.11 Z" fill="#fff" stroke="#111" stroke-width="0.7"/>
<path d="M630.6 434.05 L632.78 437.99 L628.42 437.99 Z" fill="#fff" stroke="#111" stroke-width="0.7"/>
<path d="M637.4 434.05 L639.58 437.99 L635.22 437.99 Z" fill="#fff" stroke="#111" stroke-width="0.7"/>
<path d="M634 455.81 L636.18 459.75 L631.82 459.75 Z" fill="#fff" stroke="#111" stroke-width="0.7"/>
<path d="M630.6 477.57 L632.78 481.51 L628.42 481.51 Z" fill="#fff" stroke="#111" stroke-width="0.7"/>
<path d="M637.4 477.57 L639.58 481.51 L635.22 481.51 Z" fill="#fff" stroke="#111" stroke-width="0.7"/>
<path d="M627.5 488.45 L629.68 492.39 L625.32 492.39 Z" fill="#fff" stroke="#111" stroke-width="0.7"/>
<path d="M634 488.45 L636.18 492.39 L631.82 492.39 Z" fill="#fff" stroke="#111" stroke-width="0.7"/>
<path d="M640.5 488.45 L642.68 492.39 L638.32 492.39 Z" fill="#fff" stroke="#111" stroke-width="0.7"/>
<path d="M664 427.54 L666.18 423.61 L661.82 423.61 Z" fill="#fff" stroke="#111" stroke-width="0.7"/>
<path d="M657.25 460.19 L659.43 456.25 L655.07 456.25 Z" fill="#fff" stroke="#111" stroke-width="0.7"/>
<path d="M661.75 460.19 L663.93 456.25 L659.57 456.25 Z" fill="#fff" stroke="#111" stroke-width="0.7"/>
<path d="M666.25 460.19 L668.43 456.25 L664.07 456.25 Z" fill="#fff" stroke="#111" stroke-width="0.7"/>
<path d="M670.75 460.19 L672.93 456.25 L668.57 456.25 Z" fill="#fff" stroke="#111" stroke-width="0.7"/>
<path d="M664 471.06 L666.18 467.13 L661.82 467.13 Z" fill="#fff" stroke="#111" stroke-width="0.7"/>
<path d="M664 481.94 L666.18 478.01 L661.82 478.01 Z" fill="#fff" stroke="#111" stroke-width="0.7"/>
<path d="M664 492.82 L666.18 488.89 L661.82 488.89 Z" fill="#fff" stroke="#111" stroke-width="0.7"/>
<text x="538.7" y="458" font-size="10" text-anchor="middle" transform="rotate(-90 538.7 458)" fill="#111" stroke="#111" stroke-width="0.18">Platform crossing</text>
<line x1="573.4" y1="405.2" x2="603.6" y2="405.2" stroke="#2a2a2a" stroke-width="1"/>
<text x="587.7" y="405.9" font-size="10.2" text-anchor="middle" fill="#222" stroke="#222" stroke-width="0.18">**</text>
<line x1="603.6" y1="392.4" x2="664" y2="392.4" stroke="#2a2a2a" stroke-width="1"/>
<text x="633" y="393.1" font-size="10.2" text-anchor="middle" fill="#222" stroke="#222" stroke-width="0.18">*</text>
<line x1="603.6" y1="417.8" x2="634" y2="417.8" stroke="#2a2a2a" stroke-width="1"/>
<text x="618" y="418.5" font-size="10.2" text-anchor="middle" fill="#222" stroke="#222" stroke-width="0.18">*</text>
<text x="574.3" y="526.8" font-size="10.3" text-anchor="middle" fill="#111" stroke="#111" stroke-width="0.18">WT</text>
<text x="604.2" y="526.8" font-size="10.3" text-anchor="middle" fill="#111" stroke="#111" stroke-width="0.18">iKO</text>
<text x="634" y="526.8" font-size="10.3" text-anchor="middle" fill="#111" stroke="#111" stroke-width="0.18">Nrf2-/-</text>
<text x="664" y="526.8" font-size="10.3" text-anchor="middle" fill="#111" stroke="#111" stroke-width="0.18">DKO</text>
<text x="18.4" y="572" font-size="12.6" text-anchor="start" font-weight="bold" fill="#111">M</text>
<g transform="translate(13.9 600.2)" clip-path="url(#c1)">
<rect x="0" y="0" width="56.7" height="56.6" fill="#010108"/>
<g fill="#2028d8"><circle cx="7.62" cy="47.96" r="0.68" opacity="0.63"/><circle cx="28.09" cy="25.44" r="0.65" opacity="0.89"/><circle cx="5.32" cy="1.6" r="0.7" opacity="0.72"/><circle cx="43.22" cy="0.12" r="0.58" opacity="0.86"/><circle cx="12.97" cy="53.5" r="0.72" opacity="0.52"/><circle cx="1.44" cy="30.64" r="0.73" opacity="0.69"/><circle cx="12.28" cy="23.89" r="0.46" opacity="0.61"/><circle cx="24.83" cy="28.06" r="0.52" opacity="0.62"/><circle cx="12.4" cy="26.01" r="0.54" opacity="0.51"/><circle cx="47.49" cy="31.5" r="0.64" opacity="0.59"/><circle cx="56.28" cy="48.67" r="0.49" opacity="0.67"/><circle cx="40.91" cy="40.25" r="0.73" opacity="0.71"/><circle cx="47.06" cy="37.94" r="0.54" opacity="0.79"/><circle cx="50.04" cy="47.89" r="0.6" opacity="0.79"/><circle cx="1.96" cy="13.74" r="0.69" opacity="0.71"/><circle cx="9.81" cy="31.06" r="0.66" opacity="0.84"/><circle cx="21.25" cy="24.85" r="0.6" opacity="0.89"/><circle cx="29.54" cy="22.26" r="0.6" opacity="0.51"/><circle cx="2.47" cy="39.81" r="0.74" opacity="0.8"/><circle cx="22.32" cy="9.64" r="0.6" opacity="0.99"/><circle cx="43.69" cy="30.54" r="0.71" opacity="0.62"/><circle cx="29.13" cy="53.91" r="0.62" opacity="0.73"/><circle cx="15.27" cy="31.02" r="0.74" opacity="0.5"/><circle cx="44.43" cy="46.44" r="0.72" opacity="0.87"/><circle cx="45.88" cy="29.36" r="0.62" opacity="0.71"/><circle cx="3.18" cy="49.24" r="0.62" opacity="0.6"/><circle cx="28.62" cy="27.45" r="0.56" opacity="0.67"/><circle cx="30.53" cy="35.29" r="0.63" opacity="0.73"/><circle cx="1.59" cy="13" r="0.5" opacity="0.79"/><circle cx="48.82" cy="45.19" r="0.69" opacity="0.91"/><circle cx="14.48" cy="47.64" r="0.65" opacity="0.54"/><circle cx="0.95" cy="0.82" r="0.68" opacity="0.62"/><circle cx="6.21" cy="35.36" r="0.55" opacity="0.53"/><circle cx="9.05" cy="29.85" r="0.5" opacity="0.64"/><circle cx="40.35" cy="25.74" r="0.55" opacity="0.74"/><circle cx="1.34" cy="21.88" r="0.58" opacity="0.59"/><circle cx="6.17" cy="50.93" r="0.6" opacity="0.6"/><circle cx="34.34" cy="46.24" r="0.46" opacity="0.51"/><circle cx="8.3" cy="40.69" r="0.5" opacity="0.85"/><circle cx="38.45" cy="30.83" r="0.52" opacity="0.99"/><circle cx="45.24" cy="29.24" r="0.52" opacity="0.82"/><circle cx="22.39" cy="32.59" r="0.55" opacity="0.82"/><circle cx="3.33" cy="16.9" r="0.74" opacity="0.94"/><circle cx="17.37" cy="48.59" r="0.54" opacity="0.97"/></g>
<path d="M-0.79 -1.08L25.49 -1.08L20.23 11.19L14.98 19.94L8.85 29.58L3.59 38.34L-0.79 44.47Z M36.87 -1.08L49.14 -1.08L46.51 8.56L41.25 19.94L36.87 29.58L32.5 38.34L28.99 47.1L26.36 57.61L14.54 57.61L15.85 48.85L18.92 39.21L22.86 29.58L28.12 19.94L33.37 10.31Z" fill="#0a0c6a" stroke="#0a0c6a" stroke-width="0.8" filter="url(#bb)" opacity="0.8"/>
<path d="M-0.79 -1.08L25.49 -1.08L20.23 11.19L14.98 19.94L8.85 29.58L3.59 38.34L-0.79 44.47Z M36.87 -1.08L49.14 -1.08L46.51 8.56L41.25 19.94L36.87 29.58L32.5 38.34L28.99 47.1L26.36 57.61L14.54 57.61L15.85 48.85L18.92 39.21L22.86 29.58L28.12 19.94L33.37 10.31Z" fill="#fff" stroke="#fff" stroke-width="1.3" stroke-linejoin="round" filter="url(#sp1)"/>
<g fill="#30e09a" filter="url(#gb)"><circle cx="23.3" cy="24.32" r="0.96" opacity="1"/><circle cx="21.11" cy="33.08" r="0.87" opacity="1"/><circle cx="20.93" cy="34.83" r="0.77" opacity="0.9"/><circle cx="7.09" cy="33.08" r="0.96" opacity="0.6"/><circle cx="14.54" cy="22.13" r="0.58" opacity="0.5"/></g>
<text x="2.3" y="7" font-size="7.8" text-anchor="start" fill="#20c020">Ki67</text>
<text x="2.3" y="13.4" font-size="7.8" text-anchor="start" fill="#2323c4">DAPI</text>
</g>
<g transform="translate(71.6 600.2)" clip-path="url(#c1)">
<rect x="0" y="0" width="56.7" height="56.6" fill="#030a03"/>
<g fill="#30dd30" filter="url(#gb)"><circle cx="23.3" cy="24.32" r="0.96" opacity="1"/><circle cx="21.11" cy="33.08" r="0.87" opacity="1"/><circle cx="20.93" cy="34.83" r="0.77" opacity="0.9"/><circle cx="7.09" cy="33.08" r="0.96" opacity="0.6"/><circle cx="14.54" cy="22.13" r="0.58" opacity="0.5"/></g>
<text x="2.3" y="7" font-size="7.8" text-anchor="start" fill="#20c020">Ki67</text>
</g>
<g transform="translate(130.17 600.2)" clip-path="url(#c2)">
<rect x="0" y="0" width="56.7" height="56.6" fill="#010108"/>
<g fill="#2028d8"><circle cx="54.21" cy="53.65" r="0.47" opacity="0.54"/><circle cx="47.37" cy="41.66" r="0.65" opacity="0.65"/><circle cx="34.36" cy="34.34" r="0.62" opacity="0.58"/><circle cx="24.42" cy="22.27" r="0.67" opacity="1"/><circle cx="53.83" cy="30.8" r="0.58" opacity="0.63"/><circle cx="2.04" cy="1.55" r="0.59" opacity="0.66"/><circle cx="21.55" cy="50.48" r="0.61" opacity="0.78"/><circle cx="13.39" cy="1.35" r="0.55" opacity="0.57"/><circle cx="28.93" cy="56.53" r="0.65" opacity="0.59"/><circle cx="50.67" cy="45.1" r="0.67" opacity="0.95"/><circle cx="43.26" cy="44.7" r="0.56" opacity="0.99"/><circle cx="54.54" cy="9.12" r="0.68" opacity="0.86"/><circle cx="26.16" cy="30.02" r="0.6" opacity="0.96"/><circle cx="28.4" cy="47.06" r="0.56" opacity="0.94"/><circle cx="51.01" cy="26.09" r="0.62" opacity="0.96"/><circle cx="41.04" cy="27.54" r="0.52" opacity="0.66"/><circle cx="39.67" cy="9.4" r="0.72" opacity="0.63"/><circle cx="51.68" cy="17.52" r="0.74" opacity="0.85"/><circle cx="28.59" cy="29.3" r="0.65" opacity="0.79"/><circle cx="17.68" cy="11.76" r="0.6" opacity="0.97"/><circle cx="35.34" cy="4.27" r="0.7" opacity="0.86"/><circle cx="51.46" cy="10.83" r="0.67" opacity="0.53"/><circle cx="37.02" cy="15.46" r="0.52" opacity="0.94"/><circle cx="6.03" cy="29.57" r="0.71" opacity="0.62"/><circle cx="11.93" cy="49.84" r="0.58" opacity="0.86"/><circle cx="1.81" cy="20.51" r="0.5" opacity="0.84"/><circle cx="4.7" cy="54.03" r="0.46" opacity="0.86"/><circle cx="1.2" cy="14.47" r="0.69" opacity="0.58"/><circle cx="10.42" cy="39.14" r="0.57" opacity="0.52"/><circle cx="56.13" cy="8.57" r="0.46" opacity="0.67"/><circle cx="34.88" cy="42.02" r="0.48" opacity="0.67"/><circle cx="1.75" cy="25.39" r="0.68" opacity="0.87"/><circle cx="51.14" cy="42.77" r="0.71" opacity="0.85"/><circle cx="26.81" cy="12.76" r="0.65" opacity="0.66"/><circle cx="5.79" cy="25.35" r="0.71" opacity="0.56"/><circle cx="33.17" cy="22.24" r="0.6" opacity="0.57"/><circle cx="54.42" cy="14.66" r="0.63" opacity="0.71"/><circle cx="1.02" cy="31.58" r="0.49" opacity="0.53"/><circle cx="1.9" cy="9.12" r="0.48" opacity="0.82"/><circle cx="28.82" cy="55.66" r="0.73" opacity="1"/><circle cx="13.18" cy="25.17" r="0.53" opacity="0.8"/><circle cx="35.39" cy="45.29" r="0.66" opacity="0.63"/><circle cx="23.99" cy="29.78" r="0.45" opacity="0.52"/><circle cx="23.17" cy="6.29" r="0.67" opacity="0.62"/><circle cx="5.66" cy="10.29" r="0.52" opacity="0.61"/><circle cx="29.53" cy="26.29" r="0.54" opacity="0.82"/><circle cx="12.05" cy="51.31" r="0.74" opacity="0.86"/><circle cx="24.59" cy="28.95" r="0.62" opacity="0.53"/></g>
<path d="M26.1 -1.08L19.97 9.43L11.21 18.19L4.2 24.32L-1.05 28.26L-1.05 50.16L5.08 46.22L12.96 38.34L20.85 29.58L28.73 19.94L34.86 10.31L38.36 -1.08Z M57.63 14.25L49.75 23.45L41.87 33.08L33.11 42.72L24.35 50.6L17.34 57.61L45.37 57.61L51.5 46.22L57.63 37.46Z" fill="#0a0c6a" stroke="#0a0c6a" stroke-width="0.8" filter="url(#bb)" opacity="0.8"/>
<path d="M26.1 -1.08L19.97 9.43L11.21 18.19L4.2 24.32L-1.05 28.26L-1.05 50.16L5.08 46.22L12.96 38.34L20.85 29.58L28.73 19.94L34.86 10.31L38.36 -1.08Z M57.63 14.25L49.75 23.45L41.87 33.08L33.11 42.72L24.35 50.6L17.34 57.61L45.37 57.61L51.5 46.22L57.63 37.46Z" fill="#fff" stroke="#fff" stroke-width="1.3" stroke-linejoin="round" filter="url(#sp2)"/>
<g fill="#30e09a" filter="url(#gb)"><circle cx="33.55" cy="13.37" r="0.67" opacity="0.95"/><circle cx="23.47" cy="24.32" r="0.67" opacity="0.95"/><circle cx="32.23" cy="25.2" r="0.67" opacity="0.95"/><circle cx="28.29" cy="31.33" r="0.67" opacity="0.95"/><circle cx="24.79" cy="33.52" r="0.67" opacity="0.95"/><circle cx="9.46" cy="34.4" r="0.67" opacity="0.95"/><circle cx="16.03" cy="32.64" r="0.67" opacity="0.95"/><circle cx="47.56" cy="26.08" r="0.67" opacity="0.95"/><circle cx="52.38" cy="33.08" r="0.67" opacity="0.95"/><circle cx="30.48" cy="47.1" r="0.67" opacity="0.95"/><circle cx="33.98" cy="41.84" r="0.67" opacity="0.95"/><circle cx="16.03" cy="50.16" r="0.67" opacity="0.95"/><circle cx="41.43" cy="36.59" r="0.67" opacity="0.95"/><circle cx="23.47" cy="40.97" r="0.67" opacity="0.95"/><circle cx="38.83" cy="6.32" r="0.46" opacity="0.41"/><circle cx="43.42" cy="39.43" r="0.64" opacity="0.34"/><circle cx="28.54" cy="6.57" r="0.45" opacity="0.55"/><circle cx="9.84" cy="15.16" r="0.57" opacity="0.57"/><circle cx="19.01" cy="34.99" r="0.62" opacity="0.3"/><circle cx="46.7" cy="40.52" r="0.48" opacity="0.38"/><circle cx="53.86" cy="22.15" r="0.41" opacity="0.35"/><circle cx="48.67" cy="35.72" r="0.62" opacity="0.66"/><circle cx="33.95" cy="54.49" r="0.49" opacity="0.58"/><circle cx="47.81" cy="36.48" r="0.63" opacity="0.59"/><circle cx="41.91" cy="7.38" r="0.45" opacity="0.44"/><circle cx="12.36" cy="16.88" r="0.41" opacity="0.44"/><circle cx="38.65" cy="23.59" r="0.49" opacity="0.4"/><circle cx="21.21" cy="52.64" r="0.57" opacity="0.6"/><circle cx="16.68" cy="42.09" r="0.43" opacity="0.49"/><circle cx="55.39" cy="37.57" r="0.55" opacity="0.64"/><circle cx="48.45" cy="44.48" r="0.45" opacity="0.32"/><circle cx="23.5" cy="18.66" r="0.45" opacity="0.77"/><circle cx="50.03" cy="21.04" r="0.57" opacity="0.5"/><circle cx="51.84" cy="28.36" r="0.46" opacity="0.42"/><circle cx="35.14" cy="18.4" r="0.55" opacity="0.75"/><circle cx="27.47" cy="16.2" r="0.67" opacity="0.55"/><circle cx="12.88" cy="7.45" r="0.42" opacity="0.61"/><circle cx="46.05" cy="26.5" r="0.4" opacity="0.49"/><circle cx="55.7" cy="31.93" r="0.67" opacity="0.73"/><circle cx="9.13" cy="41.67" r="0.58" opacity="0.57"/><circle cx="21.2" cy="37.62" r="0.42" opacity="0.52"/><circle cx="30.04" cy="53.51" r="0.64" opacity="0.43"/><circle cx="32.26" cy="14.13" r="0.65" opacity="0.74"/><circle cx="22.7" cy="37.51" r="0.56" opacity="0.38"/><circle cx="44.65" cy="32.46" r="0.61" opacity="0.57"/><circle cx="8.61" cy="21.52" r="0.39" opacity="0.76"/><circle cx="50.15" cy="47.3" r="0.47" opacity="0.33"/><circle cx="50.11" cy="53.16" r="0.41" opacity="0.54"/></g>
<text x="2.3" y="7" font-size="7.8" text-anchor="start" fill="#20c020">Sox2</text>
<text x="2.3" y="13.4" font-size="7.8" text-anchor="start" fill="#2323c4">DAPI</text>
</g>
<g transform="translate(187.87 600.2)" clip-path="url(#c2)">
<rect x="0" y="0" width="56.7" height="56.6" fill="#030a03"/>
<g fill="#30dd30" filter="url(#gb)"><circle cx="33.55" cy="13.37" r="0.67" opacity="0.95"/><circle cx="23.47" cy="24.32" r="0.67" opacity="0.95"/><circle cx="32.23" cy="25.2" r="0.67" opacity="0.95"/><circle cx="28.29" cy="31.33" r="0.67" opacity="0.95"/><circle cx="24.79" cy="33.52" r="0.67" opacity="0.95"/><circle cx="9.46" cy="34.4" r="0.67" opacity="0.95"/><circle cx="16.03" cy="32.64" r="0.67" opacity="0.95"/><circle cx="47.56" cy="26.08" r="0.67" opacity="0.95"/><circle cx="52.38" cy="33.08" r="0.67" opacity="0.95"/><circle cx="30.48" cy="47.1" r="0.67" opacity="0.95"/><circle cx="33.98" cy="41.84" r="0.67" opacity="0.95"/><circle cx="16.03" cy="50.16" r="0.67" opacity="0.95"/><circle cx="41.43" cy="36.59" r="0.67" opacity="0.95"/><circle cx="23.47" cy="40.97" r="0.67" opacity="0.95"/><circle cx="38.83" cy="6.32" r="0.46" opacity="0.41"/><circle cx="43.42" cy="39.43" r="0.64" opacity="0.34"/><circle cx="28.54" cy="6.57" r="0.45" opacity="0.55"/><circle cx="9.84" cy="15.16" r="0.57" opacity="0.57"/><circle cx="19.01" cy="34.99" r="0.62" opacity="0.3"/><circle cx="46.7" cy="40.52" r="0.48" opacity="0.38"/><circle cx="53.86" cy="22.15" r="0.41" opacity="0.35"/><circle cx="48.67" cy="35.72" r="0.62" opacity="0.66"/><circle cx="33.95" cy="54.49" r="0.49" opacity="0.58"/><circle cx="47.81" cy="36.48" r="0.63" opacity="0.59"/><circle cx="41.91" cy="7.38" r="0.45" opacity="0.44"/><circle cx="12.36" cy="16.88" r="0.41" opacity="0.44"/><circle cx="38.65" cy="23.59" r="0.49" opacity="0.4"/><circle cx="21.21" cy="52.64" r="0.57" opacity="0.6"/><circle cx="16.68" cy="42.09" r="0.43" opacity="0.49"/><circle cx="55.39" cy="37.57" r="0.55" opacity="0.64"/><circle cx="48.45" cy="44.48" r="0.45" opacity="0.32"/><circle cx="23.5" cy="18.66" r="0.45" opacity="0.77"/><circle cx="50.03" cy="21.04" r="0.57" opacity="0.5"/><circle cx="51.84" cy="28.36" r="0.46" opacity="0.42"/><circle cx="35.14" cy="18.4" r="0.55" opacity="0.75"/><circle cx="27.47" cy="16.2" r="0.67" opacity="0.55"/><circle cx="12.88" cy="7.45" r="0.42" opacity="0.61"/><circle cx="46.05" cy="26.5" r="0.4" opacity="0.49"/><circle cx="55.7" cy="31.93" r="0.67" opacity="0.73"/><circle cx="9.13" cy="41.67" r="0.58" opacity="0.57"/><circle cx="21.2" cy="37.62" r="0.42" opacity="0.52"/><circle cx="30.04" cy="53.51" r="0.64" opacity="0.43"/><circle cx="32.26" cy="14.13" r="0.65" opacity="0.74"/><circle cx="22.7" cy="37.51" r="0.56" opacity="0.38"/><circle cx="44.65" cy="32.46" r="0.61" opacity="0.57"/><circle cx="8.61" cy="21.52" r="0.39" opacity="0.76"/><circle cx="50.15" cy="47.3" r="0.47" opacity="0.33"/><circle cx="50.11" cy="53.16" r="0.41" opacity="0.54"/></g>
<text x="2.3" y="7" font-size="7.8" text-anchor="start" fill="#20c020">Sox2</text>
</g>
<g transform="translate(246.43 600.2)" clip-path="url(#c3)">
<rect x="0" y="0" width="56.7" height="56.6" fill="#010108"/>
<g fill="#2028d8"><circle cx="13.49" cy="30.8" r="0.56" opacity="0.8"/><circle cx="35.48" cy="3.71" r="0.45" opacity="0.92"/><circle cx="14.71" cy="13.26" r="0.75" opacity="0.74"/><circle cx="47.43" cy="26.96" r="0.64" opacity="0.58"/><circle cx="36" cy="49.13" r="0.61" opacity="0.87"/><circle cx="38.07" cy="3.62" r="0.68" opacity="0.8"/><circle cx="17.08" cy="1.76" r="0.71" opacity="0.74"/><circle cx="40.76" cy="49.74" r="0.66" opacity="0.96"/><circle cx="22.39" cy="45.33" r="0.58" opacity="0.97"/><circle cx="49.83" cy="5.52" r="0.49" opacity="0.61"/><circle cx="54.74" cy="24.69" r="0.64" opacity="0.65"/><circle cx="28.76" cy="21.84" r="0.56" opacity="0.79"/><circle cx="33.13" cy="51.18" r="0.65" opacity="0.96"/><circle cx="48.56" cy="56.09" r="0.65" opacity="0.58"/><circle cx="48.8" cy="54.6" r="0.72" opacity="0.78"/><circle cx="40.47" cy="11.95" r="0.7" opacity="0.79"/><circle cx="16.16" cy="3.59" r="0.71" opacity="0.99"/><circle cx="5.02" cy="45.31" r="0.57" opacity="0.58"/><circle cx="16.66" cy="43.51" r="0.71" opacity="0.52"/><circle cx="34.84" cy="2.54" r="0.67" opacity="0.67"/><circle cx="49.95" cy="55.5" r="0.6" opacity="1"/><circle cx="17.56" cy="4.36" r="0.63" opacity="0.52"/><circle cx="11.19" cy="23.09" r="0.63" opacity="0.58"/><circle cx="2.41" cy="49.12" r="0.54" opacity="0.98"/><circle cx="50.84" cy="21.38" r="0.59" opacity="0.76"/><circle cx="36.51" cy="33.71" r="0.62" opacity="0.81"/><circle cx="53.33" cy="28.7" r="0.58" opacity="0.86"/><circle cx="13.47" cy="17.04" r="0.74" opacity="0.76"/><circle cx="31.1" cy="0.65" r="0.57" opacity="0.79"/><circle cx="1.14" cy="34.85" r="0.64" opacity="0.53"/><circle cx="35.57" cy="26.39" r="0.65" opacity="0.68"/><circle cx="40.08" cy="41.77" r="0.46" opacity="0.53"/><circle cx="38.33" cy="54.52" r="0.53" opacity="0.73"/><circle cx="33.6" cy="18.11" r="0.56" opacity="0.66"/><circle cx="20.93" cy="33.71" r="0.54" opacity="0.69"/><circle cx="43.79" cy="1.52" r="0.62" opacity="0.87"/><circle cx="17.58" cy="12.6" r="0.69" opacity="0.62"/><circle cx="10.63" cy="24.63" r="0.66" opacity="0.55"/><circle cx="18.26" cy="18.89" r="0.7" opacity="0.72"/><circle cx="48.51" cy="9.58" r="0.55" opacity="0.83"/><circle cx="50.17" cy="25.53" r="0.52" opacity="0.56"/><circle cx="30.03" cy="10.8" r="0.69" opacity="0.92"/><circle cx="10.41" cy="15.77" r="0.69" opacity="0.82"/><circle cx="45.71" cy="19.54" r="0.49" opacity="0.65"/><circle cx="45.01" cy="15.35" r="0.55" opacity="0.71"/><circle cx="23.8" cy="23.18" r="0.73" opacity="0.58"/><circle cx="0.26" cy="53.39" r="0.71" opacity="0.99"/><circle cx="24.63" cy="53.78" r="0.73" opacity="0.61"/><circle cx="42.27" cy="47.36" r="0.65" opacity="0.76"/><circle cx="16.39" cy="19.3" r="0.52" opacity="0.53"/><circle cx="33.38" cy="16.24" r="0.69" opacity="0.52"/><circle cx="51.23" cy="39.26" r="0.73" opacity="0.95"/><circle cx="51.01" cy="32.66" r="0.45" opacity="0.87"/><circle cx="9.74" cy="16.97" r="0.65" opacity="0.76"/><circle cx="23.46" cy="53.15" r="0.63" opacity="0.67"/><circle cx="14.32" cy="48.77" r="0.59" opacity="0.89"/><circle cx="19.95" cy="11.17" r="0.61" opacity="0.91"/><circle cx="9.71" cy="44.81" r="0.73" opacity="0.9"/><circle cx="46.69" cy="0.42" r="0.64" opacity="0.93"/><circle cx="2.83" cy="15.36" r="0.53" opacity="0.76"/><circle cx="23.98" cy="26.77" r="0.68" opacity="0.5"/><circle cx="3.11" cy="7.18" r="0.49" opacity="0.53"/><circle cx="55.27" cy="48.36" r="0.48" opacity="0.75"/><circle cx="17.91" cy="17.81" r="0.56" opacity="0.82"/><circle cx="33.26" cy="20.42" r="0.51" opacity="0.66"/><circle cx="7.02" cy="31.44" r="0.66" opacity="0.69"/><circle cx="4.53" cy="10.11" r="0.56" opacity="0.8"/><circle cx="44.37" cy="21.52" r="0.69" opacity="0.81"/><circle cx="24.47" cy="21.08" r="0.6" opacity="0.85"/><circle cx="23.84" cy="39.29" r="0.59" opacity="0.62"/><circle cx="30.38" cy="39.35" r="0.47" opacity="0.71"/><circle cx="24.15" cy="49.79" r="0.73" opacity="0.69"/><circle cx="50.91" cy="44.77" r="0.53" opacity="0.73"/><circle cx="6.98" cy="46.03" r="0.65" opacity="0.94"/><circle cx="44.93" cy="37.78" r="0.67" opacity="0.78"/><circle cx="5.85" cy="33.27" r="0.45" opacity="0.57"/><circle cx="43.9" cy="2.51" r="0.48" opacity="0.55"/><circle cx="49.92" cy="10.14" r="0.46" opacity="0.92"/><circle cx="6.88" cy="47.77" r="0.65" opacity="0.92"/><circle cx="54" cy="32.78" r="0.69" opacity="0.52"/><circle cx="43.51" cy="28.94" r="0.66" opacity="0.55"/><circle cx="42.47" cy="52.9" r="0.47" opacity="0.66"/><circle cx="31.98" cy="46.87" r="0.52" opacity="0.59"/><circle cx="14.17" cy="34.86" r="0.68" opacity="0.7"/><circle cx="20.84" cy="22.45" r="0.56" opacity="0.71"/><circle cx="4.72" cy="28.32" r="0.74" opacity="0.71"/><circle cx="42.38" cy="9.09" r="0.66" opacity="0.88"/><circle cx="38.21" cy="29.27" r="0.6" opacity="0.82"/><circle cx="50.88" cy="8.45" r="0.48" opacity="0.87"/><circle cx="51.97" cy="29.28" r="0.58" opacity="0.86"/><circle cx="10.55" cy="15.13" r="0.51" opacity="0.79"/><circle cx="17.85" cy="13.15" r="0.66" opacity="0.98"/><circle cx="16.78" cy="39.92" r="0.57" opacity="0.93"/><circle cx="33.15" cy="15.12" r="0.52" opacity="0.51"/><circle cx="27.19" cy="21.66" r="0.5" opacity="0.68"/><circle cx="18.26" cy="43.82" r="0.49" opacity="1"/><circle cx="27.19" cy="33.9" r="0.59" opacity="0.92"/><circle cx="46.59" cy="31.53" r="0.59" opacity="0.86"/><circle cx="48.57" cy="22.65" r="0.67" opacity="0.98"/><circle cx="26.5" cy="13" r="0.52" opacity="0.86"/><circle cx="38.29" cy="54.26" r="0.71" opacity="0.62"/><circle cx="10.75" cy="14.64" r="0.51" opacity="0.85"/><circle cx="48.68" cy="50.93" r="0.53" opacity="0.93"/><circle cx="17.77" cy="23.96" r="0.67" opacity="0.54"/><circle cx="5.25" cy="47.2" r="0.54" opacity="0.68"/><circle cx="32.9" cy="38.23" r="0.45" opacity="0.67"/><circle cx="24.73" cy="27.5" r="0.51" opacity="0.79"/><circle cx="54.17" cy="22.13" r="0.61" opacity="0.56"/><circle cx="15.58" cy="37.66" r="0.48" opacity="0.94"/><circle cx="51.53" cy="5.48" r="0.73" opacity="0.69"/><circle cx="43.8" cy="42.86" r="0.54" opacity="0.84"/><circle cx="37.09" cy="45.62" r="0.53" opacity="0.88"/></g>
<path d="M-1.31 -1.08L40.73 -1.08L34.6 8.56L27.59 16.44L19.71 23.45L10.95 29.58L3.94 33.96L-1.31 37.02Z M5.69 57.61L11.82 48.85L17.96 40.97L24.96 32.21L31.97 22.57L38.98 12.94L45.11 -1.08L57.37 -1.08L57.37 14.69L50.36 25.2L43.36 34.83L36.35 44.47L30.22 53.23L27.59 57.61Z" fill="#0a0c6a" stroke="#0a0c6a" stroke-width="0.8" filter="url(#bb)" opacity="0.8"/>
<path d="M-1.31 -1.08L40.73 -1.08L34.6 8.56L27.59 16.44L19.71 23.45L10.95 29.58L3.94 33.96L-1.31 37.02Z M5.69 57.61L11.82 48.85L17.96 40.97L24.96 32.21L31.97 22.57L38.98 12.94L45.11 -1.08L57.37 -1.08L57.37 14.69L50.36 25.2L43.36 34.83L36.35 44.47L30.22 53.23L27.59 57.61Z" fill="#fff" stroke="#fff" stroke-width="1.3" stroke-linejoin="round" filter="url(#sp3)"/>
<g fill="#30e09a" filter="url(#gb)"><circle cx="25.84" cy="14.25" r="0.67" opacity="0.9"/><circle cx="24.09" cy="16" r="0.67" opacity="0.9"/><circle cx="27.15" cy="16.44" r="0.67" opacity="0.9"/><circle cx="20.58" cy="18.19" r="0.67" opacity="0.9"/><circle cx="35.04" cy="23.45" r="0.67" opacity="0.9"/><circle cx="30.22" cy="25.2" r="0.67" opacity="0.9"/><circle cx="27.59" cy="26.95" r="0.67" opacity="0.9"/><circle cx="25.84" cy="35.71" r="0.67" opacity="0.9"/><circle cx="8.32" cy="30.02" r="0.67" opacity="0.9"/><circle cx="13.14" cy="48.85" r="0.67" opacity="0.9"/><circle cx="17.08" cy="45.34" r="0.67" opacity="0.9"/><circle cx="38.1" cy="11.19" r="0.67" opacity="0.9"/><circle cx="40.29" cy="1.99" r="0.67" opacity="0.9"/><circle cx="43.59" cy="3.89" r="0.53" opacity="0.49"/><circle cx="24.6" cy="32.8" r="0.64" opacity="0.38"/><circle cx="25.85" cy="31.02" r="0.6" opacity="0.7"/><circle cx="20.46" cy="37.73" r="0.53" opacity="0.39"/><circle cx="34.01" cy="19.51" r="0.57" opacity="0.33"/><circle cx="20.93" cy="37.36" r="0.81" opacity="0.33"/><circle cx="38.33" cy="13.74" r="0.53" opacity="0.67"/><circle cx="24.02" cy="33.82" r="0.79" opacity="0.38"/><circle cx="42.23" cy="5.1" r="0.66" opacity="0.59"/><circle cx="20.38" cy="38.29" r="0.64" opacity="0.44"/></g>
<text x="2.3" y="7" font-size="7.8" text-anchor="start" fill="#20c020">Neurod1</text>
<text x="2.3" y="13.4" font-size="7.8" text-anchor="start" fill="#2323c4">DAPI</text>
</g>
<g transform="translate(304.13 600.2)" clip-path="url(#c3)">
<rect x="0" y="0" width="56.7" height="56.6" fill="#030a03"/>
<g fill="#30dd30" filter="url(#gb)"><circle cx="25.84" cy="14.25" r="0.67" opacity="0.9"/><circle cx="24.09" cy="16" r="0.67" opacity="0.9"/><circle cx="27.15" cy="16.44" r="0.67" opacity="0.9"/><circle cx="20.58" cy="18.19" r="0.67" opacity="0.9"/><circle cx="35.04" cy="23.45" r="0.67" opacity="0.9"/><circle cx="30.22" cy="25.2" r="0.67" opacity="0.9"/><circle cx="27.59" cy="26.95" r="0.67" opacity="0.9"/><circle cx="25.84" cy="35.71" r="0.67" opacity="0.9"/><circle cx="8.32" cy="30.02" r="0.67" opacity="0.9"/><circle cx="13.14" cy="48.85" r="0.67" opacity="0.9"/><circle cx="17.08" cy="45.34" r="0.67" opacity="0.9"/><circle cx="38.1" cy="11.19" r="0.67" opacity="0.9"/><circle cx="40.29" cy="1.99" r="0.67" opacity="0.9"/><circle cx="43.59" cy="3.89" r="0.53" opacity="0.49"/><circle cx="24.6" cy="32.8" r="0.64" opacity="0.38"/><circle cx="25.85" cy="31.02" r="0.6" opacity="0.7"/><circle cx="20.46" cy="37.73" r="0.53" opacity="0.39"/><circle cx="34.01" cy="19.51" r="0.57" opacity="0.33"/><circle cx="20.93" cy="37.36" r="0.81" opacity="0.33"/><circle cx="38.33" cy="13.74" r="0.53" opacity="0.67"/><circle cx="24.02" cy="33.82" r="0.79" opacity="0.38"/><circle cx="42.23" cy="5.1" r="0.66" opacity="0.59"/><circle cx="20.38" cy="38.29" r="0.64" opacity="0.44"/></g>
<text x="2.3" y="7" font-size="7.8" text-anchor="start" fill="#20c020">Neurod1</text>
</g>
<g transform="translate(362.7 600.2)" clip-path="url(#c4)">
<rect x="0" y="0" width="56.7" height="56.6" fill="#010108"/>
<g fill="#2028d8"><circle cx="13.38" cy="5.84" r="0.57" opacity="0.58"/><circle cx="3.77" cy="22.73" r="0.73" opacity="0.9"/><circle cx="43.38" cy="12.56" r="0.61" opacity="0.64"/><circle cx="9.79" cy="6.01" r="0.51" opacity="0.96"/><circle cx="47" cy="45.66" r="0.69" opacity="0.6"/><circle cx="17.57" cy="35.49" r="0.67" opacity="0.93"/><circle cx="49.9" cy="4.91" r="0.63" opacity="0.84"/><circle cx="28.69" cy="10.06" r="0.59" opacity="0.54"/><circle cx="52.99" cy="48.99" r="0.61" opacity="0.65"/><circle cx="51.53" cy="32.4" r="0.71" opacity="0.92"/><circle cx="28.82" cy="23.43" r="0.63" opacity="0.72"/><circle cx="9.15" cy="17.27" r="0.69" opacity="0.52"/><circle cx="2.63" cy="35.45" r="0.53" opacity="0.77"/><circle cx="26.72" cy="19.4" r="0.75" opacity="0.6"/><circle cx="23.41" cy="11.47" r="0.64" opacity="0.64"/><circle cx="20.18" cy="42.28" r="0.55" opacity="0.78"/><circle cx="51.27" cy="5.72" r="0.47" opacity="0.61"/><circle cx="43.38" cy="34.83" r="0.52" opacity="0.67"/><circle cx="10.07" cy="25.98" r="0.46" opacity="0.85"/><circle cx="50.8" cy="54.04" r="0.67" opacity="0.98"/><circle cx="1.03" cy="16.36" r="0.74" opacity="0.89"/><circle cx="23.27" cy="53.39" r="0.64" opacity="0.91"/><circle cx="16.64" cy="10.83" r="0.58" opacity="0.57"/><circle cx="21.64" cy="54.44" r="0.55" opacity="0.5"/><circle cx="2.54" cy="9.6" r="0.69" opacity="0.68"/><circle cx="16.46" cy="5.5" r="0.74" opacity="0.71"/><circle cx="11.79" cy="3.36" r="0.47" opacity="0.58"/><circle cx="38.38" cy="8.47" r="0.46" opacity="0.75"/><circle cx="14.12" cy="56.47" r="0.49" opacity="0.76"/><circle cx="43.87" cy="23.17" r="0.75" opacity="0.74"/><circle cx="13.71" cy="23.24" r="0.46" opacity="0.71"/><circle cx="14.09" cy="50.33" r="0.7" opacity="0.75"/><circle cx="1.79" cy="14.4" r="0.52" opacity="0.6"/><circle cx="13.12" cy="49.23" r="0.49" opacity="0.53"/><circle cx="52.62" cy="32" r="0.75" opacity="0.7"/><circle cx="51.08" cy="37.01" r="0.69" opacity="0.87"/><circle cx="28.03" cy="5.26" r="0.51" opacity="0.94"/><circle cx="51.02" cy="52.33" r="0.55" opacity="0.83"/><circle cx="45.33" cy="36.37" r="0.69" opacity="0.76"/><circle cx="37.12" cy="38.83" r="0.53" opacity="0.96"/></g>
<g filter="url(#gn0)"><rect x="-8" y="-8" width="72.7" height="72.6" fill="#fff" opacity="0.3"/><circle cx="10.69" cy="22.57" r="21.02" fill="#fff" opacity="0.36"/><circle cx="15.07" cy="39.21" r="14.01" fill="#fff" opacity="0.3"/><circle cx="43.09" cy="28.7" r="12.26" fill="#fff" opacity="0.12"/></g>
<path d="M19.44 -1.08L14.19 12.94L8.93 24.32L3.68 34.83L-1.58 41.84L-1.58 57.61L13.31 57.61L15.94 48.85L20.32 39.21L25.58 29.58L29.96 19.94L34.33 10.31L36.96 -1.08Z M45.72 -1.08L44.85 10.31L42.22 21.7L38.71 33.08L36.09 43.59L34.33 57.61L57.11 57.61L57.11 -1.08Z" fill="#0a0c6a" stroke="#0a0c6a" stroke-width="0.8" filter="url(#bb)" opacity="0.8"/>
<path d="M19.44 -1.08L14.19 12.94L8.93 24.32L3.68 34.83L-1.58 41.84L-1.58 57.61L13.31 57.61L15.94 48.85L20.32 39.21L25.58 29.58L29.96 19.94L34.33 10.31L36.96 -1.08Z M45.72 -1.08L44.85 10.31L42.22 21.7L38.71 33.08L36.09 43.59L34.33 57.61L57.11 57.61L57.11 -1.08Z" fill="#fff" stroke="#fff" stroke-width="1.3" stroke-linejoin="round" filter="url(#sp0)"/>
<g opacity="0.4"><g filter="url(#gn0)"><rect x="-8" y="-8" width="72.7" height="72.6" fill="#fff" opacity="0.3"/><circle cx="10.69" cy="22.57" r="21.02" fill="#fff" opacity="0.36"/><circle cx="15.07" cy="39.21" r="14.01" fill="#fff" opacity="0.3"/><circle cx="43.09" cy="28.7" r="12.26" fill="#fff" opacity="0.12"/></g></g>
<g opacity="0.7"><line x1="26.99" y1="24.71" x2="9.26" y2="14.32" stroke="#2fd02f" stroke-width="0.4" opacity="0.3"/><line x1="30.47" y1="17.06" x2="12.18" y2="14.1" stroke="#2fd02f" stroke-width="0.4" opacity="0.16"/><line x1="28.45" y1="21.51" x2="12.54" y2="13.19" stroke="#2fd02f" stroke-width="0.4" opacity="0.19"/><line x1="26.15" y1="26.57" x2="4.29" y2="24.47" stroke="#2fd02f" stroke-width="0.4" opacity="0.16"/><line x1="27.43" y1="23.74" x2="17.3" y2="19.44" stroke="#2fd02f" stroke-width="0.4" opacity="0.31"/><line x1="31.96" y1="13.79" x2="21.14" y2="10.09" stroke="#2fd02f" stroke-width="0.4" opacity="0.24"/><line x1="30.63" y1="16.71" x2="6.79" y2="11" stroke="#2fd02f" stroke-width="0.4" opacity="0.24"/><line x1="21.16" y1="37.54" x2="8.56" y2="29.13" stroke="#2fd02f" stroke-width="0.4" opacity="0.17"/><line x1="34" y1="9.3" x2="7.2" y2="-1.52" stroke="#2fd02f" stroke-width="0.4" opacity="0.24"/><line x1="22.95" y1="33.61" x2="3.8" y2="21.79" stroke="#2fd02f" stroke-width="0.4" opacity="0.34"/><line x1="17.7" y1="45.15" x2="6.93" y2="43.57" stroke="#2fd02f" stroke-width="0.4" opacity="0.19"/><line x1="32.12" y1="13.42" x2="13.55" y2="3.87" stroke="#2fd02f" stroke-width="0.4" opacity="0.2"/><line x1="22.08" y1="35.51" x2="10.44" y2="28.49" stroke="#2fd02f" stroke-width="0.4" opacity="0.3"/><line x1="21.23" y1="37.38" x2="-4.25" y2="35.17" stroke="#2fd02f" stroke-width="0.4" opacity="0.39"/><line x1="32.44" y1="12.72" x2="16.2" y2="12.33" stroke="#2fd02f" stroke-width="0.4" opacity="0.32"/><line x1="17.55" y1="45.48" x2="-5.16" y2="38.85" stroke="#2fd02f" stroke-width="0.4" opacity="0.17"/><line x1="22.24" y1="35.17" x2="11.06" y2="29.84" stroke="#2fd02f" stroke-width="0.4" opacity="0.34"/><line x1="19.44" y1="41.33" x2="7.84" y2="36.06" stroke="#2fd02f" stroke-width="0.4" opacity="0.4"/><line x1="20.62" y1="38.72" x2="2.8" y2="34.18" stroke="#2fd02f" stroke-width="0.4" opacity="0.24"/><line x1="25.47" y1="28.06" x2="0.12" y2="21.71" stroke="#2fd02f" stroke-width="0.4" opacity="0.36"/><line x1="32.49" y1="12.62" x2="15.21" y2="-1.32" stroke="#2fd02f" stroke-width="0.4" opacity="0.36"/><line x1="21.94" y1="35.82" x2="-0.91" y2="28.46" stroke="#2fd02f" stroke-width="0.4" opacity="0.39"/><line x1="29.6" y1="18.97" x2="12.44" y2="7.92" stroke="#2fd02f" stroke-width="0.4" opacity="0.27"/><line x1="26.7" y1="25.34" x2="13.28" y2="17.69" stroke="#2fd02f" stroke-width="0.4" opacity="0.36"/><line x1="19.78" y1="40.57" x2="-6.88" y2="38.78" stroke="#2fd02f" stroke-width="0.4" opacity="0.21"/><line x1="26.19" y1="26.47" x2="10.33" y2="19.12" stroke="#2fd02f" stroke-width="0.4" opacity="0.16"/><line x1="19.43" y1="41.35" x2="5.14" y2="39.43" stroke="#2fd02f" stroke-width="0.4" opacity="0.35"/><line x1="28.37" y1="21.67" x2="9.36" y2="8.02" stroke="#2fd02f" stroke-width="0.4" opacity="0.22"/><line x1="34.16" y1="8.95" x2="24.68" y2="1.44" stroke="#2fd02f" stroke-width="0.4" opacity="0.33"/><line x1="25.78" y1="27.39" x2="5.83" y2="15.51" stroke="#2fd02f" stroke-width="0.4" opacity="0.31"/><line x1="25.74" y1="27.47" x2="15.39" y2="20.97" stroke="#2fd02f" stroke-width="0.4" opacity="0.21"/><line x1="22.22" y1="35.22" x2="1.52" y2="30.57" stroke="#2fd02f" stroke-width="0.4" opacity="0.27"/><line x1="25.03" y1="29.02" x2="1.92" y2="21.76" stroke="#2fd02f" stroke-width="0.4" opacity="0.23"/><line x1="22.02" y1="35.64" x2="7.18" y2="32.7" stroke="#2fd02f" stroke-width="0.4" opacity="0.18"/><line x1="43.16" y1="13.49" x2="50.81" y2="13.05" stroke="#2fd02f" stroke-width="0.4" opacity="0.26"/><line x1="43.22" y1="13.16" x2="50.57" y2="13.24" stroke="#2fd02f" stroke-width="0.4" opacity="0.26"/><line x1="36.29" y1="47.82" x2="42.25" y2="49.2" stroke="#2fd02f" stroke-width="0.4" opacity="0.17"/><line x1="43.15" y1="13.56" x2="48.62" y2="13.66" stroke="#2fd02f" stroke-width="0.4" opacity="0.15"/><line x1="40.17" y1="28.45" x2="50.51" y2="28.98" stroke="#2fd02f" stroke-width="0.4" opacity="0.23"/><line x1="38.74" y1="35.6" x2="48.43" y2="35.09" stroke="#2fd02f" stroke-width="0.4" opacity="0.22"/><line x1="37.2" y1="43.27" x2="44.21" y2="45.15" stroke="#2fd02f" stroke-width="0.4" opacity="0.22"/><line x1="43.23" y1="13.13" x2="53.32" y2="12.07" stroke="#2fd02f" stroke-width="0.4" opacity="0.22"/><line x1="37.64" y1="41.06" x2="42.43" y2="41.73" stroke="#2fd02f" stroke-width="0.4" opacity="0.24"/><line x1="44.38" y1="7.4" x2="52.2" y2="7.12" stroke="#2fd02f" stroke-width="0.4" opacity="0.2"/><line x1="36.14" y1="48.58" x2="45.19" y2="48.06" stroke="#2fd02f" stroke-width="0.4" opacity="0.24"/><line x1="37.92" y1="39.68" x2="45.5" y2="39.82" stroke="#2fd02f" stroke-width="0.4" opacity="0.22"/></g>
<g stroke="#38e048" stroke-linecap="round" filter="url(#gb)"><line x1="36.33" y1="0.89" x2="36.18" y2="1.99" stroke-width="1.38" opacity="0.41"/><line x1="36.18" y1="1.99" x2="36.27" y2="4.12" stroke-width="1.22" opacity="0.26"/><line x1="35.86" y1="5.61" x2="34.74" y2="6.93" stroke-width="0.98" opacity="0.38"/><line x1="34.74" y1="6.93" x2="34.42" y2="9" stroke-width="1.25" opacity="0.41"/><line x1="33.79" y1="10.63" x2="33.24" y2="11.7" stroke-width="1.14" opacity="0.54"/><line x1="33.02" y1="13.71" x2="32.16" y2="15.19" stroke-width="1.03" opacity="0.32"/><line x1="32.16" y1="15.19" x2="31.51" y2="16.84" stroke-width="0.88" opacity="0.27"/><line x1="31.51" y1="16.84" x2="30.25" y2="18.12" stroke-width="1.16" opacity="0.25"/><line x1="30.25" y1="18.12" x2="29.43" y2="20.02" stroke-width="0.87" opacity="0.49"/><line x1="29" y1="21.27" x2="28.25" y2="23.64" stroke-width="1.03" opacity="0.26"/><line x1="28.25" y1="23.64" x2="27.36" y2="25.2" stroke-width="1.22" opacity="0.39"/><line x1="25.74" y1="29.16" x2="24.5" y2="31.18" stroke-width="1.19" opacity="0.22"/><line x1="24.5" y1="31.18" x2="23.69" y2="33.15" stroke-width="1.09" opacity="0.52"/><line x1="23.69" y1="33.15" x2="23.11" y2="33.88" stroke-width="0.81" opacity="0.41"/><line x1="23.11" y1="33.88" x2="22.14" y2="35.55" stroke-width="1" opacity="0.34"/><line x1="22.14" y1="35.55" x2="20.84" y2="37.49" stroke-width="0.67" opacity="0.25"/><line x1="20.84" y1="37.49" x2="20.12" y2="39.28" stroke-width="1.25" opacity="0.36"/><line x1="20.12" y1="39.28" x2="20.12" y2="41.13" stroke-width="0.97" opacity="0.42"/><line x1="20.12" y1="41.13" x2="18.91" y2="42.8" stroke-width="0.7" opacity="0.42"/><line x1="18.91" y1="42.8" x2="17.77" y2="44.27" stroke-width="1.2" opacity="0.36"/><line x1="16.68" y1="47.34" x2="15.81" y2="48.78" stroke-width="1.18" opacity="0.5"/><line x1="14.43" y1="54.16" x2="13.34" y2="55.83" stroke-width="1.11" opacity="0.22"/><line x1="13.34" y1="55.83" x2="13.31" y2="57.61" stroke-width="1.14" opacity="0.51"/><line x1="45.22" y1="0.9" x2="45.18" y2="2.23" stroke-width="0.91" opacity="0.32"/><line x1="45.18" y1="2.23" x2="45.81" y2="3.69" stroke-width="0.68" opacity="0.37"/><line x1="45.81" y1="3.69" x2="45.74" y2="5.68" stroke-width="0.67" opacity="0.45"/><line x1="45.15" y1="7.2" x2="45.07" y2="8.53" stroke-width="0.88" opacity="0.33"/><line x1="45.07" y1="8.53" x2="45.39" y2="10.2" stroke-width="0.89" opacity="0.42"/><line x1="45.39" y1="10.2" x2="45" y2="12.32" stroke-width="0.84" opacity="0.19"/><line x1="45" y1="12.32" x2="43.58" y2="13.3" stroke-width="0.81" opacity="0.39"/><line x1="43.69" y1="15.54" x2="42.99" y2="16.94" stroke-width="1.14" opacity="0.14"/><line x1="42.99" y1="16.94" x2="42.82" y2="18.76" stroke-width="0.97" opacity="0.37"/><line x1="42.82" y1="18.76" x2="43.06" y2="20.36" stroke-width="0.86" opacity="0.44"/><line x1="43.06" y1="20.36" x2="41.88" y2="21.98" stroke-width="0.98" opacity="0.35"/><line x1="41.88" y1="21.98" x2="41.65" y2="23.69" stroke-width="0.84" opacity="0.15"/><line x1="41.65" y1="23.69" x2="41.18" y2="25.4" stroke-width="0.72" opacity="0.39"/><line x1="41.18" y1="25.4" x2="41.25" y2="26.93" stroke-width="1.03" opacity="0.27"/><line x1="41.25" y1="26.93" x2="40.57" y2="28.55" stroke-width="0.78" opacity="0.24"/><line x1="40.57" y1="28.55" x2="39.82" y2="29.47" stroke-width="0.95" opacity="0.36"/><line x1="39.82" y1="29.47" x2="39.75" y2="31.42" stroke-width="0.8" opacity="0.37"/><line x1="39.75" y1="31.42" x2="38.18" y2="33.01" stroke-width="0.92" opacity="0.14"/><line x1="38.18" y1="34.5" x2="38.34" y2="36.16" stroke-width="0.68" opacity="0.27"/><line x1="37.84" y1="38.39" x2="36.61" y2="39.93" stroke-width="0.75" opacity="0.16"/><line x1="36.61" y1="39.93" x2="36.47" y2="41.42" stroke-width="1.13" opacity="0.38"/><line x1="36.38" y1="43.76" x2="36.4" y2="45.71" stroke-width="0.59" opacity="0.29"/><line x1="36.4" y1="45.71" x2="35.96" y2="47.64" stroke-width="1.03" opacity="0.18"/><line x1="35.96" y1="47.64" x2="35.9" y2="49.01" stroke-width="0.71" opacity="0.37"/><line x1="35.9" y1="49.01" x2="35.25" y2="50.63" stroke-width="0.91" opacity="0.14"/><line x1="35.25" y1="50.63" x2="35.34" y2="52.82" stroke-width="0.81" opacity="0.37"/><line x1="35.34" y1="52.82" x2="35.14" y2="54.48" stroke-width="0.61" opacity="0.32"/><line x1="35.14" y1="54.48" x2="34.03" y2="55.77" stroke-width="1.12" opacity="0.33"/><line x1="34.03" y1="55.77" x2="34.33" y2="57.61" stroke-width="1.02" opacity="0.19"/></g>
<g fill="#30e09a" filter="url(#gb)"><circle cx="15.44" cy="48.7" r="0.79" opacity="0.77"/><circle cx="31.45" cy="16.45" r="0.79" opacity="0.94"/><circle cx="23.85" cy="32.23" r="0.98" opacity="0.99"/><circle cx="15.21" cy="52.6" r="0.81" opacity="0.69"/><circle cx="27.93" cy="22.68" r="1.05" opacity="0.71"/><circle cx="17.76" cy="44.56" r="1.04" opacity="1"/><circle cx="24.74" cy="31.2" r="0.72" opacity="0.99"/><circle cx="23.75" cy="33.44" r="0.61" opacity="0.83"/><circle cx="26.5" cy="28.22" r="1.04" opacity="0.63"/><circle cx="34.43" cy="10.7" r="0.69" opacity="0.65"/><circle cx="14.92" cy="51.08" r="0.88" opacity="0.77"/><circle cx="23.58" cy="33.99" r="0.68" opacity="0.89"/><circle cx="32.73" cy="13.75" r="0.72" opacity="0.73"/><circle cx="18.01" cy="42.75" r="1.06" opacity="1"/><circle cx="35.46" cy="3.09" r="1.03" opacity="0.95"/><circle cx="15.31" cy="49.72" r="0.98" opacity="0.88"/><circle cx="23.46" cy="35.11" r="0.58" opacity="0.93"/><circle cx="31.55" cy="17.68" r="0.64" opacity="0.65"/><circle cx="35.52" cy="5.19" r="0.87" opacity="0.89"/><circle cx="34.03" cy="11.08" r="0.81" opacity="0.96"/><circle cx="15.56" cy="48.15" r="0.71" opacity="0.6"/><circle cx="18.39" cy="43.56" r="0.94" opacity="0.82"/><circle cx="27.15" cy="23.75" r="1" opacity="0.96"/><circle cx="25.23" cy="31.31" r="0.65" opacity="0.65"/><circle cx="31.69" cy="17.97" r="0.99" opacity="0.96"/><circle cx="33.25" cy="11.2" r="0.95" opacity="0.95"/><circle cx="42.04" cy="22.36" r="0.93" opacity="0.93"/><circle cx="35" cy="56.79" r="0.49" opacity="0.87"/><circle cx="43.61" cy="19.07" r="0.9" opacity="0.91"/><circle cx="44.27" cy="14.16" r="0.9" opacity="0.93"/><circle cx="44.91" cy="12.12" r="0.63" opacity="0.9"/><circle cx="43.59" cy="12" r="0.64" opacity="0.93"/><circle cx="34.23" cy="55.86" r="0.67" opacity="0.99"/><circle cx="40.25" cy="29.74" r="0.95" opacity="0.59"/><circle cx="34.24" cy="54.76" r="0.69" opacity="0.86"/><circle cx="43.35" cy="17.53" r="0.67" opacity="0.79"/><circle cx="44.31" cy="13.28" r="0.93" opacity="0.77"/><circle cx="37.12" cy="41.24" r="0.66" opacity="0.53"/><circle cx="37.28" cy="37.46" r="0.89" opacity="0.86"/><circle cx="43.06" cy="16.59" r="0.68" opacity="0.65"/><circle cx="45.01" cy="7.23" r="0.81" opacity="0.95"/><circle cx="37.94" cy="35" r="0.48" opacity="0.64"/><circle cx="41.56" cy="24.5" r="0.71" opacity="0.72"/><circle cx="44.49" cy="12.3" r="0.87" opacity="0.58"/><circle cx="2.33" cy="26.62" r="0.66" opacity="0.4"/><circle cx="20.96" cy="34.87" r="0.68" opacity="0.37"/><circle cx="5.23" cy="9.41" r="0.55" opacity="0.44"/><circle cx="21.76" cy="11.11" r="0.6" opacity="0.49"/><circle cx="5.11" cy="32.95" r="0.62" opacity="0.37"/><circle cx="16.84" cy="8.75" r="0.7" opacity="0.53"/><circle cx="2.88" cy="23.45" r="0.53" opacity="0.59"/><circle cx="13.33" cy="10.32" r="0.55" opacity="0.55"/><circle cx="11.77" cy="36.64" r="0.67" opacity="0.6"/><circle cx="15.3" cy="41.84" r="0.74" opacity="0.48"/><circle cx="18.45" cy="26.24" r="0.72" opacity="0.46"/><circle cx="22.96" cy="34.61" r="0.62" opacity="0.38"/><circle cx="6.46" cy="30.9" r="0.7" opacity="0.46"/><circle cx="16.1" cy="18.18" r="0.5" opacity="0.39"/><circle cx="7.08" cy="19.76" r="0.64" opacity="0.34"/><circle cx="6.05" cy="32.87" r="0.69" opacity="0.32"/><circle cx="10.53" cy="27.57" r="0.6" opacity="0.36"/><circle cx="10.85" cy="40.26" r="0.65" opacity="0.51"/><circle cx="21.94" cy="35.38" r="0.59" opacity="0.3"/><circle cx="9.11" cy="34.96" r="0.73" opacity="0.59"/></g>
<text x="2.3" y="7" font-size="7.8" text-anchor="start" fill="#20c020">Dcx</text>
<text x="2.3" y="13.4" font-size="7.8" text-anchor="start" fill="#2323c4">DAPI</text>
</g>
<g transform="translate(420.4 600.2)" clip-path="url(#c4)">
<rect x="0" y="0" width="56.7" height="56.6" fill="#030a03"/>
<g filter="url(#gn0)"><rect x="-8" y="-8" width="72.7" height="72.6" fill="#fff" opacity="0.3"/><circle cx="10.69" cy="22.57" r="21.02" fill="#fff" opacity="0.36"/><circle cx="15.07" cy="39.21" r="14.01" fill="#fff" opacity="0.3"/><circle cx="43.09" cy="28.7" r="12.26" fill="#fff" opacity="0.12"/></g>
<line x1="26.99" y1="24.71" x2="9.26" y2="14.32" stroke="#2fd02f" stroke-width="0.4" opacity="0.3"/><line x1="30.47" y1="17.06" x2="12.18" y2="14.1" stroke="#2fd02f" stroke-width="0.4" opacity="0.16"/><line x1="28.45" y1="21.51" x2="12.54" y2="13.19" stroke="#2fd02f" stroke-width="0.4" opacity="0.19"/><line x1="26.15" y1="26.57" x2="4.29" y2="24.47" stroke="#2fd02f" stroke-width="0.4" opacity="0.16"/><line x1="27.43" y1="23.74" x2="17.3" y2="19.44" stroke="#2fd02f" stroke-width="0.4" opacity="0.31"/><line x1="31.96" y1="13.79" x2="21.14" y2="10.09" stroke="#2fd02f" stroke-width="0.4" opacity="0.24"/><line x1="30.63" y1="16.71" x2="6.79" y2="11" stroke="#2fd02f" stroke-width="0.4" opacity="0.24"/><line x1="21.16" y1="37.54" x2="8.56" y2="29.13" stroke="#2fd02f" stroke-width="0.4" opacity="0.17"/><line x1="34" y1="9.3" x2="7.2" y2="-1.52" stroke="#2fd02f" stroke-width="0.4" opacity="0.24"/><line x1="22.95" y1="33.61" x2="3.8" y2="21.79" stroke="#2fd02f" stroke-width="0.4" opacity="0.34"/><line x1="17.7" y1="45.15" x2="6.93" y2="43.57" stroke="#2fd02f" stroke-width="0.4" opacity="0.19"/><line x1="32.12" y1="13.42" x2="13.55" y2="3.87" stroke="#2fd02f" stroke-width="0.4" opacity="0.2"/><line x1="22.08" y1="35.51" x2="10.44" y2="28.49" stroke="#2fd02f" stroke-width="0.4" opacity="0.3"/><line x1="21.23" y1="37.38" x2="-4.25" y2="35.17" stroke="#2fd02f" stroke-width="0.4" opacity="0.39"/><line x1="32.44" y1="12.72" x2="16.2" y2="12.33" stroke="#2fd02f" stroke-width="0.4" opacity="0.32"/><line x1="17.55" y1="45.48" x2="-5.16" y2="38.85" stroke="#2fd02f" stroke-width="0.4" opacity="0.17"/><line x1="22.24" y1="35.17" x2="11.06" y2="29.84" stroke="#2fd02f" stroke-width="0.4" opacity="0.34"/><line x1="19.44" y1="41.33" x2="7.84" y2="36.06" stroke="#2fd02f" stroke-width="0.4" opacity="0.4"/><line x1="20.62" y1="38.72" x2="2.8" y2="34.18" stroke="#2fd02f" stroke-width="0.4" opacity="0.24"/><line x1="25.47" y1="28.06" x2="0.12" y2="21.71" stroke="#2fd02f" stroke-width="0.4" opacity="0.36"/><line x1="32.49" y1="12.62" x2="15.21" y2="-1.32" stroke="#2fd02f" stroke-width="0.4" opacity="0.36"/><line x1="21.94" y1="35.82" x2="-0.91" y2="28.46" stroke="#2fd02f" stroke-width="0.4" opacity="0.39"/><line x1="29.6" y1="18.97" x2="12.44" y2="7.92" stroke="#2fd02f" stroke-width="0.4" opacity="0.27"/><line x1="26.7" y1="25.34" x2="13.28" y2="17.69" stroke="#2fd02f" stroke-width="0.4" opacity="0.36"/><line x1="19.78" y1="40.57" x2="-6.88" y2="38.78" stroke="#2fd02f" stroke-width="0.4" opacity="0.21"/><line x1="26.19" y1="26.47" x2="10.33" y2="19.12" stroke="#2fd02f" stroke-width="0.4" opacity="0.16"/><line x1="19.43" y1="41.35" x2="5.14" y2="39.43" stroke="#2fd02f" stroke-width="0.4" opacity="0.35"/><line x1="28.37" y1="21.67" x2="9.36" y2="8.02" stroke="#2fd02f" stroke-width="0.4" opacity="0.22"/><line x1="34.16" y1="8.95" x2="24.68" y2="1.44" stroke="#2fd02f" stroke-width="0.4" opacity="0.33"/><line x1="25.78" y1="27.39" x2="5.83" y2="15.51" stroke="#2fd02f" stroke-width="0.4" opacity="0.31"/><line x1="25.74" y1="27.47" x2="15.39" y2="20.97" stroke="#2fd02f" stroke-width="0.4" opacity="0.21"/><line x1="22.22" y1="35.22" x2="1.52" y2="30.57" stroke="#2fd02f" stroke-width="0.4" opacity="0.27"/><line x1="25.03" y1="29.02" x2="1.92" y2="21.76" stroke="#2fd02f" stroke-width="0.4" opacity="0.23"/><line x1="22.02" y1="35.64" x2="7.18" y2="32.7" stroke="#2fd02f" stroke-width="0.4" opacity="0.18"/><line x1="43.16" y1="13.49" x2="50.81" y2="13.05" stroke="#2fd02f" stroke-width="0.4" opacity="0.26"/><line x1="43.22" y1="13.16" x2="50.57" y2="13.24" stroke="#2fd02f" stroke-width="0.4" opacity="0.26"/><line x1="36.29" y1="47.82" x2="42.25" y2="49.2" stroke="#2fd02f" stroke-width="0.4" opacity="0.17"/><line x1="43.15" y1="13.56" x2="48.62" y2="13.66" stroke="#2fd02f" stroke-width="0.4" opacity="0.15"/><line x1="40.17" y1="28.45" x2="50.51" y2="28.98" stroke="#2fd02f" stroke-width="0.4" opacity="0.23"/><line x1="38.74" y1="35.6" x2="48.43" y2="35.09" stroke="#2fd02f" stroke-width="0.4" opacity="0.22"/><line x1="37.2" y1="43.27" x2="44.21" y2="45.15" stroke="#2fd02f" stroke-width="0.4" opacity="0.22"/><line x1="43.23" y1="13.13" x2="53.32" y2="12.07" stroke="#2fd02f" stroke-width="0.4" opacity="0.22"/><line x1="37.64" y1="41.06" x2="42.43" y2="41.73" stroke="#2fd02f" stroke-width="0.4" opacity="0.24"/><line x1="44.38" y1="7.4" x2="52.2" y2="7.12" stroke="#2fd02f" stroke-width="0.4" opacity="0.2"/><line x1="36.14" y1="48.58" x2="45.19" y2="48.06" stroke="#2fd02f" stroke-width="0.4" opacity="0.24"/><line x1="37.92" y1="39.68" x2="45.5" y2="39.82" stroke="#2fd02f" stroke-width="0.4" opacity="0.22"/>
<g stroke="#38e048" stroke-linecap="round" filter="url(#gb)"><line x1="36.33" y1="0.89" x2="36.18" y2="1.99" stroke-width="1.38" opacity="0.41"/><line x1="36.18" y1="1.99" x2="36.27" y2="4.12" stroke-width="1.22" opacity="0.26"/><line x1="35.86" y1="5.61" x2="34.74" y2="6.93" stroke-width="0.98" opacity="0.38"/><line x1="34.74" y1="6.93" x2="34.42" y2="9" stroke-width="1.25" opacity="0.41"/><line x1="33.79" y1="10.63" x2="33.24" y2="11.7" stroke-width="1.14" opacity="0.54"/><line x1="33.02" y1="13.71" x2="32.16" y2="15.19" stroke-width="1.03" opacity="0.32"/><line x1="32.16" y1="15.19" x2="31.51" y2="16.84" stroke-width="0.88" opacity="0.27"/><line x1="31.51" y1="16.84" x2="30.25" y2="18.12" stroke-width="1.16" opacity="0.25"/><line x1="30.25" y1="18.12" x2="29.43" y2="20.02" stroke-width="0.87" opacity="0.49"/><line x1="29" y1="21.27" x2="28.25" y2="23.64" stroke-width="1.03" opacity="0.26"/><line x1="28.25" y1="23.64" x2="27.36" y2="25.2" stroke-width="1.22" opacity="0.39"/><line x1="25.74" y1="29.16" x2="24.5" y2="31.18" stroke-width="1.19" opacity="0.22"/><line x1="24.5" y1="31.18" x2="23.69" y2="33.15" stroke-width="1.09" opacity="0.52"/><line x1="23.69" y1="33.15" x2="23.11" y2="33.88" stroke-width="0.81" opacity="0.41"/><line x1="23.11" y1="33.88" x2="22.14" y2="35.55" stroke-width="1" opacity="0.34"/><line x1="22.14" y1="35.55" x2="20.84" y2="37.49" stroke-width="0.67" opacity="0.25"/><line x1="20.84" y1="37.49" x2="20.12" y2="39.28" stroke-width="1.25" opacity="0.36"/><line x1="20.12" y1="39.28" x2="20.12" y2="41.13" stroke-width="0.97" opacity="0.42"/><line x1="20.12" y1="41.13" x2="18.91" y2="42.8" stroke-width="0.7" opacity="0.42"/><line x1="18.91" y1="42.8" x2="17.77" y2="44.27" stroke-width="1.2" opacity="0.36"/><line x1="16.68" y1="47.34" x2="15.81" y2="48.78" stroke-width="1.18" opacity="0.5"/><line x1="14.43" y1="54.16" x2="13.34" y2="55.83" stroke-width="1.11" opacity="0.22"/><line x1="13.34" y1="55.83" x2="13.31" y2="57.61" stroke-width="1.14" opacity="0.51"/><line x1="45.22" y1="0.9" x2="45.18" y2="2.23" stroke-width="0.91" opacity="0.32"/><line x1="45.18" y1="2.23" x2="45.81" y2="3.69" stroke-width="0.68" opacity="0.37"/><line x1="45.81" y1="3.69" x2="45.74" y2="5.68" stroke-width="0.67" opacity="0.45"/><line x1="45.15" y1="7.2" x2="45.07" y2="8.53" stroke-width="0.88" opacity="0.33"/><line x1="45.07" y1="8.53" x2="45.39" y2="10.2" stroke-width="0.89" opacity="0.42"/><line x1="45.39" y1="10.2" x2="45" y2="12.32" stroke-width="0.84" opacity="0.19"/><line x1="45" y1="12.32" x2="43.58" y2="13.3" stroke-width="0.81" opacity="0.39"/><line x1="43.69" y1="15.54" x2="42.99" y2="16.94" stroke-width="1.14" opacity="0.14"/><line x1="42.99" y1="16.94" x2="42.82" y2="18.76" stroke-width="0.97" opacity="0.37"/><line x1="42.82" y1="18.76" x2="43.06" y2="20.36" stroke-width="0.86" opacity="0.44"/><line x1="43.06" y1="20.36" x2="41.88" y2="21.98" stroke-width="0.98" opacity="0.35"/><line x1="41.88" y1="21.98" x2="41.65" y2="23.69" stroke-width="0.84" opacity="0.15"/><line x1="41.65" y1="23.69" x2="41.18" y2="25.4" stroke-width="0.72" opacity="0.39"/><line x1="41.18" y1="25.4" x2="41.25" y2="26.93" stroke-width="1.03" opacity="0.27"/><line x1="41.25" y1="26.93" x2="40.57" y2="28.55" stroke-width="0.78" opacity="0.24"/><line x1="40.57" y1="28.55" x2="39.82" y2="29.47" stroke-width="0.95" opacity="0.36"/><line x1="39.82" y1="29.47" x2="39.75" y2="31.42" stroke-width="0.8" opacity="0.37"/><line x1="39.75" y1="31.42" x2="38.18" y2="33.01" stroke-width="0.92" opacity="0.14"/><line x1="38.18" y1="34.5" x2="38.34" y2="36.16" stroke-width="0.68" opacity="0.27"/><line x1="37.84" y1="38.39" x2="36.61" y2="39.93" stroke-width="0.75" opacity="0.16"/><line x1="36.61" y1="39.93" x2="36.47" y2="41.42" stroke-width="1.13" opacity="0.38"/><line x1="36.38" y1="43.76" x2="36.4" y2="45.71" stroke-width="0.59" opacity="0.29"/><line x1="36.4" y1="45.71" x2="35.96" y2="47.64" stroke-width="1.03" opacity="0.18"/><line x1="35.96" y1="47.64" x2="35.9" y2="49.01" stroke-width="0.71" opacity="0.37"/><line x1="35.9" y1="49.01" x2="35.25" y2="50.63" stroke-width="0.91" opacity="0.14"/><line x1="35.25" y1="50.63" x2="35.34" y2="52.82" stroke-width="0.81" opacity="0.37"/><line x1="35.34" y1="52.82" x2="35.14" y2="54.48" stroke-width="0.61" opacity="0.32"/><line x1="35.14" y1="54.48" x2="34.03" y2="55.77" stroke-width="1.12" opacity="0.33"/><line x1="34.03" y1="55.77" x2="34.33" y2="57.61" stroke-width="1.02" opacity="0.19"/></g>
<g fill="#30dd30" filter="url(#gb)"><circle cx="15.44" cy="48.7" r="0.79" opacity="0.77"/><circle cx="31.45" cy="16.45" r="0.79" opacity="0.94"/><circle cx="23.85" cy="32.23" r="0.98" opacity="0.99"/><circle cx="15.21" cy="52.6" r="0.81" opacity="0.69"/><circle cx="27.93" cy="22.68" r="1.05" opacity="0.71"/><circle cx="17.76" cy="44.56" r="1.04" opacity="1"/><circle cx="24.74" cy="31.2" r="0.72" opacity="0.99"/><circle cx="23.75" cy="33.44" r="0.61" opacity="0.83"/><circle cx="26.5" cy="28.22" r="1.04" opacity="0.63"/><circle cx="34.43" cy="10.7" r="0.69" opacity="0.65"/><circle cx="14.92" cy="51.08" r="0.88" opacity="0.77"/><circle cx="23.58" cy="33.99" r="0.68" opacity="0.89"/><circle cx="32.73" cy="13.75" r="0.72" opacity="0.73"/><circle cx="18.01" cy="42.75" r="1.06" opacity="1"/><circle cx="35.46" cy="3.09" r="1.03" opacity="0.95"/><circle cx="15.31" cy="49.72" r="0.98" opacity="0.88"/><circle cx="23.46" cy="35.11" r="0.58" opacity="0.93"/><circle cx="31.55" cy="17.68" r="0.64" opacity="0.65"/><circle cx="35.52" cy="5.19" r="0.87" opacity="0.89"/><circle cx="34.03" cy="11.08" r="0.81" opacity="0.96"/><circle cx="15.56" cy="48.15" r="0.71" opacity="0.6"/><circle cx="18.39" cy="43.56" r="0.94" opacity="0.82"/><circle cx="27.15" cy="23.75" r="1" opacity="0.96"/><circle cx="25.23" cy="31.31" r="0.65" opacity="0.65"/><circle cx="31.69" cy="17.97" r="0.99" opacity="0.96"/><circle cx="33.25" cy="11.2" r="0.95" opacity="0.95"/><circle cx="42.04" cy="22.36" r="0.93" opacity="0.93"/><circle cx="35" cy="56.79" r="0.49" opacity="0.87"/><circle cx="43.61" cy="19.07" r="0.9" opacity="0.91"/><circle cx="44.27" cy="14.16" r="0.9" opacity="0.93"/><circle cx="44.91" cy="12.12" r="0.63" opacity="0.9"/><circle cx="43.59" cy="12" r="0.64" opacity="0.93"/><circle cx="34.23" cy="55.86" r="0.67" opacity="0.99"/><circle cx="40.25" cy="29.74" r="0.95" opacity="0.59"/><circle cx="34.24" cy="54.76" r="0.69" opacity="0.86"/><circle cx="43.35" cy="17.53" r="0.67" opacity="0.79"/><circle cx="44.31" cy="13.28" r="0.93" opacity="0.77"/><circle cx="37.12" cy="41.24" r="0.66" opacity="0.53"/><circle cx="37.28" cy="37.46" r="0.89" opacity="0.86"/><circle cx="43.06" cy="16.59" r="0.68" opacity="0.65"/><circle cx="45.01" cy="7.23" r="0.81" opacity="0.95"/><circle cx="37.94" cy="35" r="0.48" opacity="0.64"/><circle cx="41.56" cy="24.5" r="0.71" opacity="0.72"/><circle cx="44.49" cy="12.3" r="0.87" opacity="0.58"/><circle cx="2.33" cy="26.62" r="0.66" opacity="0.4"/><circle cx="20.96" cy="34.87" r="0.68" opacity="0.37"/><circle cx="5.23" cy="9.41" r="0.55" opacity="0.44"/><circle cx="21.76" cy="11.11" r="0.6" opacity="0.49"/><circle cx="5.11" cy="32.95" r="0.62" opacity="0.37"/><circle cx="16.84" cy="8.75" r="0.7" opacity="0.53"/><circle cx="2.88" cy="23.45" r="0.53" opacity="0.59"/><circle cx="13.33" cy="10.32" r="0.55" opacity="0.55"/><circle cx="11.77" cy="36.64" r="0.67" opacity="0.6"/><circle cx="15.3" cy="41.84" r="0.74" opacity="0.48"/><circle cx="18.45" cy="26.24" r="0.72" opacity="0.46"/><circle cx="22.96" cy="34.61" r="0.62" opacity="0.38"/><circle cx="6.46" cy="30.9" r="0.7" opacity="0.46"/><circle cx="16.1" cy="18.18" r="0.5" opacity="0.39"/><circle cx="7.08" cy="19.76" r="0.64" opacity="0.34"/><circle cx="6.05" cy="32.87" r="0.69" opacity="0.32"/><circle cx="10.53" cy="27.57" r="0.6" opacity="0.36"/><circle cx="10.85" cy="40.26" r="0.65" opacity="0.51"/><circle cx="21.94" cy="35.38" r="0.59" opacity="0.3"/><circle cx="9.11" cy="34.96" r="0.73" opacity="0.59"/></g>
<text x="2.3" y="7" font-size="7.8" text-anchor="start" fill="#20c020">Dcx</text>
</g>
<g transform="translate(13.9 659.4)" clip-path="url(#c5)">
<rect x="0" y="0" width="56.7" height="56.6" fill="#010108"/>
<g fill="#2028d8"><circle cx="35.32" cy="41.99" r="0.69" opacity="0.97"/><circle cx="41.95" cy="52.2" r="0.46" opacity="0.73"/><circle cx="53.49" cy="36.73" r="0.72" opacity="0.56"/><circle cx="26.6" cy="13.96" r="0.61" opacity="0.79"/><circle cx="0.74" cy="12.27" r="0.53" opacity="0.96"/><circle cx="43.42" cy="9.03" r="0.69" opacity="0.57"/><circle cx="35.01" cy="7.17" r="0.45" opacity="0.94"/><circle cx="11.88" cy="12.2" r="0.74" opacity="0.94"/><circle cx="16.4" cy="54.42" r="0.61" opacity="0.84"/><circle cx="11.61" cy="53.26" r="0.66" opacity="0.98"/><circle cx="50.68" cy="16.91" r="0.56" opacity="0.58"/><circle cx="8.26" cy="3.69" r="0.54" opacity="0.8"/><circle cx="0.19" cy="38.37" r="0.55" opacity="0.65"/><circle cx="46.41" cy="27.21" r="0.54" opacity="0.74"/><circle cx="39.95" cy="3.23" r="0.74" opacity="0.51"/><circle cx="42.51" cy="47.82" r="0.46" opacity="0.89"/><circle cx="20.76" cy="32.74" r="0.45" opacity="0.52"/><circle cx="10.26" cy="54.06" r="0.51" opacity="0.88"/><circle cx="52.71" cy="53.32" r="0.55" opacity="0.68"/><circle cx="29.75" cy="43.9" r="0.48" opacity="0.87"/><circle cx="45.2" cy="48.66" r="0.46" opacity="0.97"/><circle cx="5.17" cy="19.29" r="0.63" opacity="0.96"/><circle cx="19.28" cy="52.31" r="0.61" opacity="0.66"/><circle cx="17.96" cy="10.05" r="0.47" opacity="0.57"/><circle cx="39.08" cy="56.41" r="0.5" opacity="0.52"/><circle cx="55.95" cy="30.2" r="0.57" opacity="0.62"/><circle cx="33.68" cy="46.77" r="0.59" opacity="0.71"/><circle cx="3.16" cy="51.85" r="0.46" opacity="0.75"/><circle cx="47.54" cy="7.39" r="0.67" opacity="0.97"/><circle cx="35.74" cy="44.6" r="0.48" opacity="0.72"/><circle cx="8.46" cy="47.81" r="0.54" opacity="0.73"/><circle cx="56.66" cy="48.24" r="0.74" opacity="0.73"/><circle cx="27.68" cy="41.29" r="0.59" opacity="0.65"/><circle cx="22.89" cy="8.29" r="0.56" opacity="0.99"/><circle cx="54.42" cy="35.49" r="0.6" opacity="0.67"/><circle cx="5.05" cy="15.41" r="0.68" opacity="0.93"/><circle cx="20.49" cy="44.49" r="0.68" opacity="0.85"/><circle cx="37.65" cy="43" r="0.56" opacity="0.85"/><circle cx="15.92" cy="27.49" r="0.68" opacity="0.85"/><circle cx="16.66" cy="53.52" r="0.64" opacity="0.79"/><circle cx="0.66" cy="30.96" r="0.53" opacity="0.84"/><circle cx="26.25" cy="46.22" r="0.64" opacity="0.9"/><circle cx="19.73" cy="36.45" r="0.67" opacity="0.91"/><circle cx="19.85" cy="47.71" r="0.71" opacity="0.84"/></g>
<path d="M24.61 -1.28L16.73 8.36L8.85 15.36L2.72 20.62L-0.79 23.68L-0.79 48.21L5.34 41.64L12.35 33.76L20.23 25.87L28.99 17.99L37.75 9.23L45.63 -1.28Z M57.9 12.3L50.01 20.62L42.13 29.38L34.25 38.14L27.24 46.89L20.23 57.41L44.76 57.41L50.89 46.89L57.9 38.14Z" fill="#0a0c6a" stroke="#0a0c6a" stroke-width="0.8" filter="url(#bb)" opacity="0.8"/>
<path d="M24.61 -1.28L16.73 8.36L8.85 15.36L2.72 20.62L-0.79 23.68L-0.79 48.21L5.34 41.64L12.35 33.76L20.23 25.87L28.99 17.99L37.75 9.23L45.63 -1.28Z M57.9 12.3L50.01 20.62L42.13 29.38L34.25 38.14L27.24 46.89L20.23 57.41L44.76 57.41L50.89 46.89L57.9 38.14Z" fill="#fff" stroke="#fff" stroke-width="1.3" stroke-linejoin="round" filter="url(#sp1)"/>
<g fill="#30e09a" filter="url(#gb)"><circle cx="4.47" cy="42.52" r="1.25" opacity="1"/><circle cx="4.9" cy="40.94" r="0.87" opacity="1"/><circle cx="16.29" cy="32" r="0.87" opacity="0.4"/></g>
</g>
<g transform="translate(71.6 659.4)" clip-path="url(#c5)">
<rect x="0" y="0" width="56.7" height="56.6" fill="#030a03"/>
<g fill="#30dd30" filter="url(#gb)"><circle cx="4.47" cy="42.52" r="1.25" opacity="1"/><circle cx="4.9" cy="40.94" r="0.87" opacity="1"/><circle cx="16.29" cy="32" r="0.87" opacity="0.4"/></g>
</g>
<g transform="translate(130.17 659.4)" clip-path="url(#c6)">
<rect x="0" y="0" width="56.7" height="56.6" fill="#010108"/>
<g fill="#2028d8"><circle cx="44.98" cy="46.52" r="0.6" opacity="0.63"/><circle cx="0.03" cy="37.52" r="0.59" opacity="0.88"/><circle cx="21.16" cy="43.59" r="0.53" opacity="0.9"/><circle cx="41.38" cy="23.43" r="0.61" opacity="0.84"/><circle cx="10.94" cy="31.33" r="0.69" opacity="0.63"/><circle cx="45.55" cy="38.81" r="0.7" opacity="0.67"/><circle cx="5.28" cy="45.3" r="0.69" opacity="0.72"/><circle cx="5.32" cy="11.16" r="0.64" opacity="0.65"/><circle cx="53.94" cy="33.31" r="0.51" opacity="0.83"/><circle cx="20.43" cy="52.79" r="0.72" opacity="0.76"/><circle cx="36.55" cy="39.5" r="0.69" opacity="0.99"/><circle cx="1.61" cy="20.45" r="0.63" opacity="0.65"/><circle cx="33.41" cy="5.08" r="0.71" opacity="0.76"/><circle cx="6.62" cy="37.51" r="0.54" opacity="0.6"/><circle cx="27.43" cy="7.82" r="0.51" opacity="0.93"/><circle cx="39.59" cy="0.71" r="0.68" opacity="0.51"/><circle cx="18.88" cy="51.19" r="0.64" opacity="0.65"/><circle cx="21.4" cy="22.03" r="0.49" opacity="1"/><circle cx="3.05" cy="23.94" r="0.67" opacity="0.7"/><circle cx="55.62" cy="13.88" r="0.74" opacity="0.95"/><circle cx="38" cy="50.35" r="0.58" opacity="0.92"/><circle cx="45.14" cy="29.24" r="0.59" opacity="0.85"/><circle cx="23.19" cy="4.86" r="0.67" opacity="0.63"/><circle cx="27.65" cy="44.38" r="0.5" opacity="0.51"/><circle cx="7" cy="33.36" r="0.56" opacity="0.63"/><circle cx="25.6" cy="52.5" r="0.53" opacity="0.71"/><circle cx="49.86" cy="34.65" r="0.53" opacity="0.74"/><circle cx="27.13" cy="8.05" r="0.56" opacity="0.65"/><circle cx="45.63" cy="18.3" r="0.65" opacity="0.99"/><circle cx="52.34" cy="21.28" r="0.63" opacity="0.66"/><circle cx="22.58" cy="27.62" r="0.69" opacity="0.97"/><circle cx="16.49" cy="0.35" r="0.58" opacity="0.53"/><circle cx="1.71" cy="43.78" r="0.48" opacity="0.86"/><circle cx="20.53" cy="53.12" r="0.71" opacity="0.53"/><circle cx="10.92" cy="53.62" r="0.63" opacity="0.71"/><circle cx="44.36" cy="46.04" r="0.6" opacity="0.73"/><circle cx="5.68" cy="20.49" r="0.49" opacity="0.81"/><circle cx="34.39" cy="8.17" r="0.64" opacity="0.55"/><circle cx="5.98" cy="36.54" r="0.59" opacity="0.95"/><circle cx="35.68" cy="39.7" r="0.49" opacity="0.92"/><circle cx="4.74" cy="34.99" r="0.72" opacity="0.95"/><circle cx="50.65" cy="25.58" r="0.66" opacity="0.9"/><circle cx="7.77" cy="53.4" r="0.72" opacity="0.72"/><circle cx="44.14" cy="25.3" r="0.53" opacity="0.86"/><circle cx="3.61" cy="45.29" r="0.74" opacity="0.64"/><circle cx="53.28" cy="4.74" r="0.71" opacity="0.64"/><circle cx="54.78" cy="24.38" r="0.73" opacity="0.52"/><circle cx="4.86" cy="46.21" r="0.64" opacity="0.77"/><circle cx="1.85" cy="9.81" r="0.56" opacity="0.53"/><circle cx="56.31" cy="43.31" r="0.73" opacity="0.85"/><circle cx="19.48" cy="4.39" r="0.67" opacity="0.56"/><circle cx="31.02" cy="26.27" r="0.6" opacity="0.54"/><circle cx="4.19" cy="29.45" r="0.46" opacity="0.76"/><circle cx="8.52" cy="15.94" r="0.5" opacity="0.78"/><circle cx="22.02" cy="12.63" r="0.52" opacity="0.78"/><circle cx="51.63" cy="23.72" r="0.5" opacity="0.66"/><circle cx="13.63" cy="32.4" r="0.69" opacity="0.78"/><circle cx="10.67" cy="18.41" r="0.56" opacity="0.72"/><circle cx="22.54" cy="56.46" r="0.62" opacity="0.83"/><circle cx="40.62" cy="36.52" r="0.69" opacity="0.69"/><circle cx="37.79" cy="55.05" r="0.5" opacity="0.81"/><circle cx="21.81" cy="3.46" r="0.46" opacity="0.88"/><circle cx="6.5" cy="40.25" r="0.48" opacity="0.68"/><circle cx="1.82" cy="30.72" r="0.69" opacity="0.61"/><circle cx="32.05" cy="52.2" r="0.54" opacity="0.74"/><circle cx="41.06" cy="48.92" r="0.5" opacity="0.83"/><circle cx="6.81" cy="6.35" r="0.74" opacity="0.53"/><circle cx="52.15" cy="42.46" r="0.65" opacity="0.86"/><circle cx="36.91" cy="16.25" r="0.58" opacity="0.6"/><circle cx="48.72" cy="44.08" r="0.69" opacity="0.61"/><circle cx="33.58" cy="14.43" r="0.69" opacity="0.87"/><circle cx="56.42" cy="40.08" r="0.66" opacity="0.89"/></g>
<path d="M-1.05 -1.28L28.73 -1.28L24.35 8.36L18.22 17.11L11.21 25L5.08 31.13L-1.05 37.26Z M24.35 57.41L26.1 48.65L29.6 39.01L34.86 29.38L41.87 19.74L48.87 10.11L54.13 -1.28L57.63 -1.28L57.63 15.36L52.38 25.87L47.12 36.38L42.74 46.89L40.12 57.41Z" fill="#0a0c6a" stroke="#0a0c6a" stroke-width="0.8" filter="url(#bb)" opacity="0.8"/>
<path d="M-1.05 -1.28L28.73 -1.28L24.35 8.36L18.22 17.11L11.21 25L5.08 31.13L-1.05 37.26Z M24.35 57.41L26.1 48.65L29.6 39.01L34.86 29.38L41.87 19.74L48.87 10.11L54.13 -1.28L57.63 -1.28L57.63 15.36L52.38 25.87L47.12 36.38L42.74 46.89L40.12 57.41Z" fill="#fff" stroke="#fff" stroke-width="1.3" stroke-linejoin="round" filter="url(#sp2)"/>
<g fill="#30e09a" filter="url(#gb)"><circle cx="23.04" cy="28.94" r="0.67" opacity="0.5"/><circle cx="39.24" cy="23.25" r="0.67" opacity="0.5"/><circle cx="12.09" cy="35.07" r="0.67" opacity="0.5"/><circle cx="18.22" cy="37.7" r="0.67" opacity="0.5"/><circle cx="16.03" cy="44.27" r="0.67" opacity="0.5"/><circle cx="17.34" cy="46.89" r="0.67" opacity="0.5"/><circle cx="18.22" cy="52.59" r="0.67" opacity="0.5"/><circle cx="4.2" cy="49.96" r="0.67" opacity="0.5"/><circle cx="5.08" cy="30.69" r="0.67" opacity="0.5"/><circle cx="32.67" cy="32.88" r="0.67" opacity="0.5"/><circle cx="26.1" cy="49.96" r="0.67" opacity="0.5"/><circle cx="22.16" cy="54.34" r="0.67" opacity="0.5"/><circle cx="27.57" cy="49.04" r="0.67" opacity="0.28"/><circle cx="36.63" cy="37.19" r="0.6" opacity="0.44"/><circle cx="15.64" cy="18.34" r="0.58" opacity="0.24"/><circle cx="13.91" cy="11.91" r="0.39" opacity="0.31"/><circle cx="35.25" cy="22.13" r="0.45" opacity="0.38"/><circle cx="40.79" cy="29.83" r="0.58" opacity="0.43"/><circle cx="45.1" cy="37.92" r="0.58" opacity="0.43"/><circle cx="26.68" cy="34.11" r="0.57" opacity="0.43"/><circle cx="47.07" cy="11.73" r="0.43" opacity="0.28"/><circle cx="43.13" cy="35.28" r="0.47" opacity="0.23"/><circle cx="40.07" cy="41.45" r="0.66" opacity="0.33"/><circle cx="30.17" cy="12.16" r="0.4" opacity="0.31"/><circle cx="21.45" cy="20.2" r="0.41" opacity="0.44"/><circle cx="47.55" cy="35.56" r="0.66" opacity="0.45"/><circle cx="39.23" cy="21.1" r="0.4" opacity="0.39"/><circle cx="28.98" cy="39.17" r="0.65" opacity="0.25"/><circle cx="34.82" cy="38.38" r="0.53" opacity="0.22"/><circle cx="22.76" cy="24.12" r="0.58" opacity="0.41"/><circle cx="21.83" cy="41.17" r="0.47" opacity="0.44"/><circle cx="46.41" cy="34.37" r="0.52" opacity="0.28"/><circle cx="21.5" cy="54.24" r="0.5" opacity="0.33"/><circle cx="55.28" cy="39.46" r="0.54" opacity="0.3"/><circle cx="14.61" cy="25.47" r="0.6" opacity="0.36"/><circle cx="43.69" cy="17.98" r="0.54" opacity="0.43"/><circle cx="27.34" cy="41.38" r="0.42" opacity="0.44"/><circle cx="36.01" cy="19.67" r="0.43" opacity="0.34"/><circle cx="33.14" cy="12.76" r="0.67" opacity="0.43"/><circle cx="28.52" cy="13.91" r="0.63" opacity="0.32"/><circle cx="41.48" cy="32.42" r="0.46" opacity="0.41"/><circle cx="54.88" cy="19.88" r="0.54" opacity="0.3"/><circle cx="51.91" cy="32.39" r="0.64" opacity="0.42"/><circle cx="19.11" cy="45.72" r="0.51" opacity="0.43"/><circle cx="30.87" cy="47.17" r="0.47" opacity="0.27"/><circle cx="34.9" cy="55.6" r="0.53" opacity="0.24"/></g>
</g>
<g transform="translate(187.87 659.4)" clip-path="url(#c6)">
<rect x="0" y="0" width="56.7" height="56.6" fill="#030a03"/>
<g fill="#30dd30" filter="url(#gb)"><circle cx="23.04" cy="28.94" r="0.67" opacity="0.5"/><circle cx="39.24" cy="23.25" r="0.67" opacity="0.5"/><circle cx="12.09" cy="35.07" r="0.67" opacity="0.5"/><circle cx="18.22" cy="37.7" r="0.67" opacity="0.5"/><circle cx="16.03" cy="44.27" r="0.67" opacity="0.5"/><circle cx="17.34" cy="46.89" r="0.67" opacity="0.5"/><circle cx="18.22" cy="52.59" r="0.67" opacity="0.5"/><circle cx="4.2" cy="49.96" r="0.67" opacity="0.5"/><circle cx="5.08" cy="30.69" r="0.67" opacity="0.5"/><circle cx="32.67" cy="32.88" r="0.67" opacity="0.5"/><circle cx="26.1" cy="49.96" r="0.67" opacity="0.5"/><circle cx="22.16" cy="54.34" r="0.67" opacity="0.5"/><circle cx="27.57" cy="49.04" r="0.67" opacity="0.28"/><circle cx="36.63" cy="37.19" r="0.6" opacity="0.44"/><circle cx="15.64" cy="18.34" r="0.58" opacity="0.24"/><circle cx="13.91" cy="11.91" r="0.39" opacity="0.31"/><circle cx="35.25" cy="22.13" r="0.45" opacity="0.38"/><circle cx="40.79" cy="29.83" r="0.58" opacity="0.43"/><circle cx="45.1" cy="37.92" r="0.58" opacity="0.43"/><circle cx="26.68" cy="34.11" r="0.57" opacity="0.43"/><circle cx="47.07" cy="11.73" r="0.43" opacity="0.28"/><circle cx="43.13" cy="35.28" r="0.47" opacity="0.23"/><circle cx="40.07" cy="41.45" r="0.66" opacity="0.33"/><circle cx="30.17" cy="12.16" r="0.4" opacity="0.31"/><circle cx="21.45" cy="20.2" r="0.41" opacity="0.44"/><circle cx="47.55" cy="35.56" r="0.66" opacity="0.45"/><circle cx="39.23" cy="21.1" r="0.4" opacity="0.39"/><circle cx="28.98" cy="39.17" r="0.65" opacity="0.25"/><circle cx="34.82" cy="38.38" r="0.53" opacity="0.22"/><circle cx="22.76" cy="24.12" r="0.58" opacity="0.41"/><circle cx="21.83" cy="41.17" r="0.47" opacity="0.44"/><circle cx="46.41" cy="34.37" r="0.52" opacity="0.28"/><circle cx="21.5" cy="54.24" r="0.5" opacity="0.33"/><circle cx="55.28" cy="39.46" r="0.54" opacity="0.3"/><circle cx="14.61" cy="25.47" r="0.6" opacity="0.36"/><circle cx="43.69" cy="17.98" r="0.54" opacity="0.43"/><circle cx="27.34" cy="41.38" r="0.42" opacity="0.44"/><circle cx="36.01" cy="19.67" r="0.43" opacity="0.34"/><circle cx="33.14" cy="12.76" r="0.67" opacity="0.43"/><circle cx="28.52" cy="13.91" r="0.63" opacity="0.32"/><circle cx="41.48" cy="32.42" r="0.46" opacity="0.41"/><circle cx="54.88" cy="19.88" r="0.54" opacity="0.3"/><circle cx="51.91" cy="32.39" r="0.64" opacity="0.42"/><circle cx="19.11" cy="45.72" r="0.51" opacity="0.43"/><circle cx="30.87" cy="47.17" r="0.47" opacity="0.27"/><circle cx="34.9" cy="55.6" r="0.53" opacity="0.24"/></g>
</g>
<g transform="translate(246.43 659.4)" clip-path="url(#c7)">
<rect x="0" y="0" width="56.7" height="56.6" fill="#010108"/>
<g fill="#2028d8"><circle cx="18.36" cy="8.54" r="0.65" opacity="0.54"/><circle cx="30.38" cy="20.7" r="0.47" opacity="0.75"/><circle cx="2.13" cy="24.54" r="0.47" opacity="0.55"/><circle cx="24.07" cy="46.8" r="0.49" opacity="0.61"/><circle cx="35.58" cy="53.64" r="0.62" opacity="0.7"/><circle cx="55.35" cy="2.64" r="0.71" opacity="0.64"/><circle cx="8.18" cy="6.67" r="0.54" opacity="0.91"/><circle cx="10.25" cy="32.92" r="0.64" opacity="0.69"/><circle cx="31.06" cy="3.55" r="0.47" opacity="0.6"/><circle cx="38.58" cy="24.2" r="0.54" opacity="0.79"/><circle cx="25.7" cy="16.97" r="0.69" opacity="0.85"/><circle cx="13.84" cy="32.51" r="0.61" opacity="0.94"/><circle cx="41.36" cy="16.3" r="0.74" opacity="0.56"/><circle cx="23.71" cy="42.85" r="0.5" opacity="0.74"/><circle cx="2.22" cy="37.82" r="0.68" opacity="0.79"/><circle cx="49.64" cy="17.76" r="0.66" opacity="0.8"/><circle cx="32.88" cy="25.82" r="0.7" opacity="0.97"/><circle cx="26.88" cy="37.59" r="0.47" opacity="0.85"/><circle cx="36.69" cy="56.21" r="0.7" opacity="0.64"/><circle cx="21.87" cy="37.85" r="0.46" opacity="0.73"/><circle cx="9.53" cy="6.63" r="0.47" opacity="0.88"/><circle cx="7.33" cy="14.01" r="0.57" opacity="0.94"/><circle cx="4.57" cy="25.42" r="0.61" opacity="0.94"/><circle cx="46.45" cy="48.9" r="0.53" opacity="0.71"/><circle cx="20.34" cy="50.05" r="0.74" opacity="0.58"/><circle cx="9.99" cy="13.13" r="0.52" opacity="0.74"/><circle cx="33.4" cy="14.87" r="0.45" opacity="0.71"/><circle cx="20.94" cy="32.05" r="0.74" opacity="0.85"/><circle cx="29.23" cy="34.96" r="0.65" opacity="0.53"/><circle cx="51" cy="44.15" r="0.71" opacity="0.9"/><circle cx="22.25" cy="22.58" r="0.48" opacity="0.82"/><circle cx="3.53" cy="3.81" r="0.51" opacity="0.58"/><circle cx="19.28" cy="2.98" r="0.45" opacity="0.58"/><circle cx="5.75" cy="20.58" r="0.46" opacity="0.94"/><circle cx="34.82" cy="8.41" r="0.53" opacity="0.67"/><circle cx="20.65" cy="6.95" r="0.7" opacity="1"/><circle cx="26.42" cy="27.39" r="0.48" opacity="0.55"/><circle cx="19.43" cy="14.99" r="0.7" opacity="0.58"/><circle cx="1.31" cy="53.83" r="0.61" opacity="0.57"/><circle cx="30.8" cy="1.53" r="0.61" opacity="0.99"/><circle cx="48.95" cy="39.4" r="0.53" opacity="0.68"/><circle cx="9.47" cy="43.69" r="0.61" opacity="0.89"/><circle cx="18.69" cy="12.62" r="0.69" opacity="0.99"/><circle cx="48.34" cy="45.62" r="0.7" opacity="0.87"/><circle cx="12.86" cy="29.3" r="0.56" opacity="0.51"/><circle cx="1.58" cy="15.82" r="0.53" opacity="0.85"/><circle cx="54.23" cy="25.31" r="0.73" opacity="0.99"/><circle cx="54.15" cy="20.64" r="0.52" opacity="0.61"/><circle cx="11.15" cy="11.57" r="0.64" opacity="0.95"/><circle cx="47.65" cy="27.14" r="0.65" opacity="0.9"/><circle cx="4.81" cy="37.39" r="0.72" opacity="0.89"/><circle cx="42.53" cy="27.06" r="0.5" opacity="0.89"/><circle cx="18.85" cy="45.33" r="0.74" opacity="0.7"/><circle cx="22.76" cy="53.59" r="0.67" opacity="0.59"/><circle cx="7.2" cy="8.56" r="0.72" opacity="0.9"/><circle cx="8.29" cy="46.78" r="0.74" opacity="0.83"/><circle cx="19.87" cy="31.05" r="0.49" opacity="0.51"/><circle cx="55.05" cy="36.77" r="0.61" opacity="0.97"/><circle cx="24.6" cy="49.34" r="0.7" opacity="0.61"/><circle cx="14.28" cy="16.58" r="0.52" opacity="0.79"/><circle cx="14.71" cy="23.72" r="0.49" opacity="0.96"/><circle cx="20.06" cy="25.93" r="0.63" opacity="0.95"/><circle cx="23.85" cy="51.94" r="0.6" opacity="0.77"/><circle cx="29.68" cy="1.06" r="0.58" opacity="0.59"/><circle cx="0.22" cy="45.23" r="0.5" opacity="0.74"/><circle cx="41.12" cy="31.5" r="0.55" opacity="0.76"/><circle cx="31.49" cy="44.39" r="0.48" opacity="0.78"/><circle cx="14.09" cy="15.67" r="0.68" opacity="0.75"/><circle cx="31.85" cy="43.02" r="0.72" opacity="0.72"/><circle cx="34.73" cy="28.61" r="0.6" opacity="0.85"/><circle cx="25.65" cy="30.18" r="0.59" opacity="0.97"/><circle cx="39.65" cy="49.61" r="0.73" opacity="0.63"/><circle cx="31.72" cy="53.39" r="0.7" opacity="0.57"/><circle cx="6.9" cy="25.02" r="0.47" opacity="0.62"/><circle cx="4.15" cy="37.89" r="0.69" opacity="0.95"/><circle cx="8.76" cy="40.53" r="0.65" opacity="0.57"/><circle cx="50.06" cy="54.76" r="0.52" opacity="0.98"/><circle cx="22.58" cy="27.58" r="0.75" opacity="0.92"/><circle cx="9.16" cy="24.42" r="0.6" opacity="0.67"/><circle cx="11.1" cy="18.03" r="0.67" opacity="0.51"/><circle cx="31.41" cy="24.93" r="0.46" opacity="0.67"/><circle cx="35.38" cy="28.99" r="0.47" opacity="0.99"/><circle cx="44.7" cy="55" r="0.48" opacity="0.63"/><circle cx="2.24" cy="44.09" r="0.53" opacity="0.56"/><circle cx="23.94" cy="51.59" r="0.7" opacity="0.63"/><circle cx="8.47" cy="52.03" r="0.62" opacity="0.85"/><circle cx="5.07" cy="3.26" r="0.66" opacity="0.71"/><circle cx="4.11" cy="53.11" r="0.64" opacity="0.9"/><circle cx="4.75" cy="48.46" r="0.47" opacity="0.93"/><circle cx="25.73" cy="19.2" r="0.62" opacity="0.96"/><circle cx="15.19" cy="7.31" r="0.61" opacity="0.62"/><circle cx="6.21" cy="9.14" r="0.47" opacity="0.6"/><circle cx="17.69" cy="17.26" r="0.68" opacity="0.64"/><circle cx="28.36" cy="10.07" r="0.55" opacity="0.51"/><circle cx="14.2" cy="0.87" r="0.67" opacity="0.78"/><circle cx="10.74" cy="26.87" r="0.73" opacity="0.55"/></g>
<path d="M15.33 -1.28L9.2 7.48L3.94 12.74L-1.31 17.11L-1.31 44.27L3.94 38.14L9.2 31.13L16.2 23.25L24.09 15.36L31.09 7.48L37.23 -1.28Z M57.37 11.42L48.61 18.87L39.85 25.87L31.09 33.76L23.21 42.52L17.08 51.27L13.58 57.41L38.98 57.41L44.23 48.65L50.36 41.64L57.37 34.63Z" fill="#0a0c6a" stroke="#0a0c6a" stroke-width="0.8" filter="url(#bb)" opacity="0.8"/>
<path d="M15.33 -1.28L9.2 7.48L3.94 12.74L-1.31 17.11L-1.31 44.27L3.94 38.14L9.2 31.13L16.2 23.25L24.09 15.36L31.09 7.48L37.23 -1.28Z M57.37 11.42L48.61 18.87L39.85 25.87L31.09 33.76L23.21 42.52L17.08 51.27L13.58 57.41L38.98 57.41L44.23 48.65L50.36 41.64L57.37 34.63Z" fill="#fff" stroke="#fff" stroke-width="1.3" stroke-linejoin="round" filter="url(#sp3)" opacity="0.8"/>
<path d="M15.33 -1.28L9.2 7.48L3.94 12.74L-1.31 17.11L-1.31 44.27L3.94 38.14L9.2 31.13L16.2 23.25L24.09 15.36L31.09 7.48L37.23 -1.28Z M57.37 11.42L48.61 18.87L39.85 25.87L31.09 33.76L23.21 42.52L17.08 51.27L13.58 57.41L38.98 57.41L44.23 48.65L50.36 41.64L57.37 34.63Z" fill="#6070c0" filter="url(#bb)" opacity="0.12"/>
<g fill="#30e09a" filter="url(#gb)"><circle cx="31.97" cy="6.17" r="0.63" opacity="0.65"/><circle cx="28.47" cy="8.36" r="0.63" opacity="0.65"/><circle cx="24.52" cy="14.05" r="0.63" opacity="0.65"/><circle cx="15.77" cy="20.18" r="0.63" opacity="0.65"/><circle cx="9.2" cy="28.94" r="0.63" opacity="0.65"/><circle cx="5.69" cy="33.32" r="0.63" opacity="0.65"/><circle cx="50.8" cy="13.61" r="0.63" opacity="0.65"/><circle cx="47.3" cy="17.99" r="0.63" opacity="0.65"/><circle cx="42.92" cy="22.37" r="0.63" opacity="0.65"/><circle cx="21.02" cy="44.27" r="0.63" opacity="0.65"/><circle cx="16.64" cy="53.9" r="0.63" opacity="0.65"/><circle cx="0.88" cy="47.33" r="0.63" opacity="0.65"/><circle cx="16.13" cy="23.18" r="0.69" opacity="0.44"/><circle cx="24.98" cy="14.14" r="0.7" opacity="0.37"/><circle cx="6.51" cy="34.21" r="0.75" opacity="0.54"/><circle cx="23.02" cy="17.11" r="0.86" opacity="0.45"/><circle cx="35.96" cy="0.66" r="0.82" opacity="0.56"/><circle cx="20.53" cy="18.89" r="0.76" opacity="0.42"/><circle cx="25.64" cy="39.24" r="0.86" opacity="0.4"/><circle cx="24.71" cy="41.58" r="0.81" opacity="0.56"/><circle cx="38.39" cy="27.26" r="0.77" opacity="0.56"/><circle cx="55.01" cy="13.09" r="0.84" opacity="0.6"/><circle cx="22.24" cy="43.21" r="0.73" opacity="0.56"/><circle cx="35.89" cy="30.25" r="0.5" opacity="0.54"/><circle cx="42.74" cy="22.92" r="0.69" opacity="0.47"/><circle cx="20.19" cy="45.59" r="0.82" opacity="0.49"/></g>
</g>
<g transform="translate(304.13 659.4)" clip-path="url(#c7)">
<rect x="0" y="0" width="56.7" height="56.6" fill="#030a03"/>
<g fill="#30dd30" filter="url(#gb)"><circle cx="31.97" cy="6.17" r="0.63" opacity="0.65"/><circle cx="28.47" cy="8.36" r="0.63" opacity="0.65"/><circle cx="24.52" cy="14.05" r="0.63" opacity="0.65"/><circle cx="15.77" cy="20.18" r="0.63" opacity="0.65"/><circle cx="9.2" cy="28.94" r="0.63" opacity="0.65"/><circle cx="5.69" cy="33.32" r="0.63" opacity="0.65"/><circle cx="50.8" cy="13.61" r="0.63" opacity="0.65"/><circle cx="47.3" cy="17.99" r="0.63" opacity="0.65"/><circle cx="42.92" cy="22.37" r="0.63" opacity="0.65"/><circle cx="21.02" cy="44.27" r="0.63" opacity="0.65"/><circle cx="16.64" cy="53.9" r="0.63" opacity="0.65"/><circle cx="0.88" cy="47.33" r="0.63" opacity="0.65"/><circle cx="16.13" cy="23.18" r="0.69" opacity="0.44"/><circle cx="24.98" cy="14.14" r="0.7" opacity="0.37"/><circle cx="6.51" cy="34.21" r="0.75" opacity="0.54"/><circle cx="23.02" cy="17.11" r="0.86" opacity="0.45"/><circle cx="35.96" cy="0.66" r="0.82" opacity="0.56"/><circle cx="20.53" cy="18.89" r="0.76" opacity="0.42"/><circle cx="25.64" cy="39.24" r="0.86" opacity="0.4"/><circle cx="24.71" cy="41.58" r="0.81" opacity="0.56"/><circle cx="38.39" cy="27.26" r="0.77" opacity="0.56"/><circle cx="55.01" cy="13.09" r="0.84" opacity="0.6"/><circle cx="22.24" cy="43.21" r="0.73" opacity="0.56"/><circle cx="35.89" cy="30.25" r="0.5" opacity="0.54"/><circle cx="42.74" cy="22.92" r="0.69" opacity="0.47"/><circle cx="20.19" cy="45.59" r="0.82" opacity="0.49"/></g>
</g>
<g transform="translate(362.7 659.4)" clip-path="url(#c8)">
<rect x="0" y="0" width="56.7" height="56.6" fill="#010108"/>
<g fill="#2028d8"><circle cx="12.85" cy="54.47" r="0.49" opacity="0.85"/><circle cx="4.83" cy="14.01" r="0.75" opacity="0.6"/><circle cx="36.39" cy="25.99" r="0.59" opacity="0.75"/><circle cx="10.9" cy="47.01" r="0.48" opacity="0.62"/><circle cx="1.13" cy="15.1" r="0.57" opacity="0.95"/><circle cx="21.49" cy="6.44" r="0.53" opacity="1"/><circle cx="3.58" cy="35.1" r="0.56" opacity="0.83"/><circle cx="19.19" cy="39.13" r="0.6" opacity="0.82"/><circle cx="51.11" cy="32.91" r="0.49" opacity="0.53"/><circle cx="53.64" cy="27.66" r="0.51" opacity="0.97"/><circle cx="32.83" cy="41.26" r="0.71" opacity="0.64"/><circle cx="20.22" cy="49.7" r="0.49" opacity="0.88"/><circle cx="5.53" cy="39.06" r="0.66" opacity="0.97"/><circle cx="47.83" cy="28.5" r="0.51" opacity="0.58"/><circle cx="29.98" cy="28.85" r="0.47" opacity="0.95"/><circle cx="28.77" cy="39.69" r="0.52" opacity="0.62"/><circle cx="0.68" cy="19.43" r="0.53" opacity="0.71"/><circle cx="21.37" cy="47.22" r="0.72" opacity="0.59"/><circle cx="22.47" cy="9.41" r="0.65" opacity="0.99"/><circle cx="11.44" cy="43.38" r="0.54" opacity="0.51"/><circle cx="43.34" cy="19.35" r="0.5" opacity="0.72"/><circle cx="13.14" cy="23.21" r="0.58" opacity="0.71"/><circle cx="33.37" cy="16.34" r="0.48" opacity="0.54"/><circle cx="6.04" cy="29.49" r="0.56" opacity="0.9"/><circle cx="28.63" cy="40.08" r="0.74" opacity="0.53"/><circle cx="0.96" cy="7.95" r="0.57" opacity="0.79"/><circle cx="42.17" cy="19.89" r="0.74" opacity="0.5"/><circle cx="47.38" cy="11.89" r="0.71" opacity="0.52"/><circle cx="54.72" cy="42.98" r="0.75" opacity="0.79"/><circle cx="10.08" cy="54.89" r="0.58" opacity="0.54"/><circle cx="34.33" cy="28.14" r="0.59" opacity="0.58"/><circle cx="6.92" cy="32.87" r="0.59" opacity="0.56"/><circle cx="24.92" cy="41.06" r="0.66" opacity="0.74"/><circle cx="22.33" cy="20.42" r="0.52" opacity="0.6"/><circle cx="25.3" cy="6.12" r="0.67" opacity="0.85"/><circle cx="34.67" cy="1.28" r="0.56" opacity="0.72"/><circle cx="5.29" cy="54.78" r="0.68" opacity="0.75"/><circle cx="39.98" cy="11.36" r="0.52" opacity="0.76"/><circle cx="42.18" cy="36.64" r="0.45" opacity="0.81"/><circle cx="51.53" cy="42.07" r="0.73" opacity="0.99"/><circle cx="12.68" cy="16.78" r="0.61" opacity="0.99"/><circle cx="20.94" cy="53.28" r="0.71" opacity="0.76"/><circle cx="35.44" cy="54.17" r="0.68" opacity="0.65"/><circle cx="47.95" cy="11.08" r="0.56" opacity="0.98"/><circle cx="48.03" cy="17.66" r="0.54" opacity="0.81"/><circle cx="47.78" cy="38.73" r="0.73" opacity="0.86"/><circle cx="46.55" cy="34.24" r="0.56" opacity="0.71"/><circle cx="27.78" cy="29.94" r="0.7" opacity="0.63"/><circle cx="3.89" cy="41.5" r="0.53" opacity="0.71"/><circle cx="6.64" cy="46.94" r="0.53" opacity="0.65"/><circle cx="45.6" cy="28.54" r="0.53" opacity="0.94"/><circle cx="23.35" cy="20.45" r="0.74" opacity="0.9"/><circle cx="42.38" cy="14.14" r="0.69" opacity="0.8"/><circle cx="47.05" cy="20.83" r="0.68" opacity="0.9"/><circle cx="22" cy="37.06" r="0.68" opacity="1"/><circle cx="52.19" cy="44.5" r="0.49" opacity="0.81"/><circle cx="38.84" cy="4.93" r="0.59" opacity="0.93"/><circle cx="51.34" cy="52.37" r="0.48" opacity="0.8"/><circle cx="49.05" cy="36.94" r="0.55" opacity="0.52"/><circle cx="52.15" cy="48.62" r="0.65" opacity="0.68"/><circle cx="46.97" cy="46.12" r="0.67" opacity="0.8"/><circle cx="18.1" cy="16.79" r="0.56" opacity="0.66"/><circle cx="29.49" cy="6.45" r="0.67" opacity="0.67"/><circle cx="9.06" cy="14.43" r="0.57" opacity="0.72"/></g>
<g filter="url(#gn0)"><rect x="-8" y="-8" width="72.7" height="72.6" fill="#fff" opacity="0.12"/><circle cx="7.18" cy="45.14" r="6.13" fill="#fff" opacity="0.3"/><circle cx="41.34" cy="41.64" r="17.52" fill="#fff" opacity="0.1"/></g>
<path d="M-1.58 5.73L4.55 -1.28L34.33 -1.28L28.2 6.6L20.32 12.74L11.56 18.87L4.55 24.12L-1.58 28.5Z M-1.58 52.15L7.18 42.52L14.19 34.63L22.07 25.87L29.96 17.11L37.84 8.36L43.97 -1.28L57.11 -1.28L57.11 7.48L50.1 17.11L43.09 25.87L36.09 33.76L29.08 41.64L22.95 49.52L18.57 57.41L-1.58 57.41Z" fill="#0a0c6a" stroke="#0a0c6a" stroke-width="0.8" filter="url(#bb)" opacity="0.8"/>
<path d="M-1.58 5.73L4.55 -1.28L34.33 -1.28L28.2 6.6L20.32 12.74L11.56 18.87L4.55 24.12L-1.58 28.5Z M-1.58 52.15L7.18 42.52L14.19 34.63L22.07 25.87L29.96 17.11L37.84 8.36L43.97 -1.28L57.11 -1.28L57.11 7.48L50.1 17.11L43.09 25.87L36.09 33.76L29.08 41.64L22.95 49.52L18.57 57.41L-1.58 57.41Z" fill="#fff" stroke="#fff" stroke-width="1.3" stroke-linejoin="round" filter="url(#sp0)"/>
<g opacity="0.4"><g filter="url(#gn0)"><rect x="-8" y="-8" width="72.7" height="72.6" fill="#fff" opacity="0.12"/><circle cx="7.18" cy="45.14" r="6.13" fill="#fff" opacity="0.3"/><circle cx="41.34" cy="41.64" r="17.52" fill="#fff" opacity="0.1"/></g></g>
<g stroke="#38e048" stroke-linecap="round" filter="url(#gb)"><line x1="43.47" y1="-1.18" x2="42.56" y2="0.11" stroke-width="0.93" opacity="0.16"/><line x1="42.74" y1="1.24" x2="41.86" y2="3" stroke-width="0.61" opacity="0.16"/><line x1="41.86" y1="3" x2="40.89" y2="3.7" stroke-width="0.9" opacity="0.36"/><line x1="40.89" y1="3.7" x2="39.85" y2="5.62" stroke-width="0.55" opacity="0.28"/><line x1="39.85" y1="5.62" x2="38.83" y2="6.85" stroke-width="0.63" opacity="0.28"/><line x1="38.83" y1="6.85" x2="38.36" y2="8.53" stroke-width="0.66" opacity="0.23"/><line x1="38.36" y1="8.53" x2="36.96" y2="9.81" stroke-width="0.58" opacity="0.32"/><line x1="36.96" y1="9.81" x2="35.64" y2="11.2" stroke-width="0.7" opacity="0.23"/><line x1="35.64" y1="11.2" x2="34.59" y2="12.18" stroke-width="1.02" opacity="0.36"/><line x1="34.59" y1="12.18" x2="32.94" y2="13.42" stroke-width="0.55" opacity="0.14"/><line x1="32.94" y1="13.42" x2="31.83" y2="14.71" stroke-width="0.49" opacity="0.19"/><line x1="31.83" y1="14.71" x2="31" y2="16.15" stroke-width="0.48" opacity="0.29"/><line x1="31" y1="16.15" x2="30.05" y2="16.97" stroke-width="0.85" opacity="0.31"/><line x1="30.05" y1="16.97" x2="28.85" y2="18.06" stroke-width="0.83" opacity="0.12"/><line x1="28.23" y1="20.01" x2="26.46" y2="20.56" stroke-width="0.91" opacity="0.34"/><line x1="26.46" y1="20.56" x2="25.39" y2="22.27" stroke-width="0.61" opacity="0.13"/><line x1="25.39" y1="22.27" x2="24.26" y2="23.86" stroke-width="0.5" opacity="0.3"/><line x1="24.26" y1="23.86" x2="22.7" y2="24.45" stroke-width="0.87" opacity="0.32"/><line x1="22.7" y1="24.45" x2="22.09" y2="25.37" stroke-width="0.77" opacity="0.25"/><line x1="20.91" y1="27.2" x2="19.6" y2="28.92" stroke-width="0.51" opacity="0.38"/><line x1="18.53" y1="29.48" x2="17.67" y2="30.62" stroke-width="0.49" opacity="0.24"/><line x1="16.41" y1="31.75" x2="14.83" y2="33.58" stroke-width="0.55" opacity="0.33"/><line x1="14.83" y1="33.58" x2="13.95" y2="34.26" stroke-width="0.79" opacity="0.27"/><line x1="13.95" y1="34.26" x2="12.76" y2="35.85" stroke-width="0.87" opacity="0.24"/><line x1="12.76" y1="35.85" x2="11.47" y2="37.47" stroke-width="0.58" opacity="0.15"/><line x1="11.47" y1="37.47" x2="10.93" y2="39.09" stroke-width="0.59" opacity="0.17"/><line x1="10.93" y1="39.09" x2="9.01" y2="39.68" stroke-width="1.03" opacity="0.16"/><line x1="9.01" y1="39.68" x2="8.54" y2="41.58" stroke-width="0.62" opacity="0.21"/><line x1="8.54" y1="41.58" x2="6.9" y2="42.92" stroke-width="0.78" opacity="0.18"/><line x1="6.9" y1="42.92" x2="5.58" y2="43.77" stroke-width="0.58" opacity="0.21"/><line x1="5.58" y1="43.77" x2="4.47" y2="44.55" stroke-width="0.9" opacity="0.31"/><line x1="4.47" y1="44.55" x2="4.13" y2="46.07" stroke-width="0.6" opacity="0.31"/><line x1="4.13" y1="46.07" x2="3.25" y2="47.82" stroke-width="0.6" opacity="0.26"/><line x1="3.25" y1="47.82" x2="1.65" y2="48.57" stroke-width="0.7" opacity="0.36"/><line x1="1.65" y1="48.57" x2="0.48" y2="49.37" stroke-width="1.02" opacity="0.22"/><line x1="-0.57" y1="51.27" x2="-1.58" y2="52.15" stroke-width="0.62" opacity="0.15"/><line x1="29.59" y1="5.06" x2="28.77" y2="5.84" stroke-width="0.54" opacity="0.24"/><line x1="26.97" y1="7.2" x2="26.28" y2="7.91" stroke-width="0.86" opacity="0.24"/><line x1="26.28" y1="7.91" x2="24.61" y2="8.62" stroke-width="0.7" opacity="0.23"/><line x1="22.72" y1="9.78" x2="22.03" y2="10.46" stroke-width="0.83" opacity="0.13"/><line x1="22.03" y1="10.46" x2="20.92" y2="11.66" stroke-width="0.85" opacity="0.17"/><line x1="20.92" y1="11.66" x2="18.97" y2="12.46" stroke-width="0.64" opacity="0.16"/><line x1="18.97" y1="12.46" x2="18.47" y2="14.24" stroke-width="0.61" opacity="0.09"/><line x1="17" y1="15.12" x2="14.74" y2="15.82" stroke-width="0.91" opacity="0.19"/><line x1="14.74" y1="15.82" x2="13.91" y2="16.6" stroke-width="0.69" opacity="0.24"/><line x1="13.91" y1="16.6" x2="13.07" y2="17.89" stroke-width="0.72" opacity="0.2"/><line x1="13.07" y1="17.89" x2="10.86" y2="19.4" stroke-width="0.51" opacity="0.12"/><line x1="10.86" y1="19.4" x2="9.49" y2="20.54" stroke-width="0.87" opacity="0.16"/><line x1="9.49" y1="20.54" x2="8.51" y2="21.14" stroke-width="0.57" opacity="0.11"/><line x1="7.06" y1="22.08" x2="5.55" y2="22.6" stroke-width="0.8" opacity="0.16"/><line x1="5.55" y1="22.6" x2="4.55" y2="24.12" stroke-width="0.75" opacity="0.27"/></g>
<g fill="#30e09a" filter="url(#gb)"><circle cx="24.42" cy="8.99" r="0.66" opacity="0.38"/><circle cx="22.78" cy="10.2" r="0.83" opacity="0.5"/><circle cx="25.86" cy="7.68" r="0.71" opacity="0.49"/><circle cx="18.83" cy="13.51" r="0.56" opacity="0.42"/><circle cx="17.31" cy="14.26" r="0.7" opacity="0.6"/><circle cx="23.13" cy="10.76" r="0.59" opacity="0.47"/><circle cx="12.88" cy="17.44" r="0.72" opacity="0.45"/><circle cx="6.69" cy="22.69" r="0.72" opacity="0.41"/><circle cx="15.69" cy="33.4" r="0.76" opacity="0.58"/><circle cx="6.25" cy="44.3" r="0.73" opacity="0.46"/><circle cx="24.85" cy="23.24" r="0.52" opacity="0.45"/><circle cx="9.88" cy="38.46" r="0.69" opacity="0.69"/><circle cx="21.08" cy="28.09" r="0.58" opacity="0.64"/><circle cx="23.23" cy="25.41" r="0.61" opacity="0.39"/><circle cx="-0.32" cy="50.87" r="0.81" opacity="0.6"/><circle cx="0.03" cy="51.53" r="0.62" opacity="0.63"/><circle cx="43.5" cy="-0.52" r="0.74" opacity="0.59"/><circle cx="18.42" cy="31.05" r="0.52" opacity="0.43"/><circle cx="43.56" cy="0.29" r="0.83" opacity="0.43"/><circle cx="42.04" cy="3.05" r="0.6" opacity="0.49"/><circle cx="39.32" cy="6.74" r="0.67" opacity="0.38"/><circle cx="3.25" cy="46.22" r="0.74" opacity="0.61"/><circle cx="0.87" cy="49.68" r="0.54" opacity="0.5"/><circle cx="40.22" cy="4.47" r="0.85" opacity="0.36"/><circle cx="6.31" cy="43.39" r="0.96" opacity="0.8"/><circle cx="3.68" cy="46.89" r="0.96" opacity="0.8"/><circle cx="7.62" cy="44.71" r="0.96" opacity="0.8"/></g>
</g>
<g transform="translate(420.4 659.4)" clip-path="url(#c8)">
<rect x="0" y="0" width="56.7" height="56.6" fill="#030a03"/>
<g filter="url(#gn0)"><rect x="-8" y="-8" width="72.7" height="72.6" fill="#fff" opacity="0.12"/><circle cx="7.18" cy="45.14" r="6.13" fill="#fff" opacity="0.3"/><circle cx="41.34" cy="41.64" r="17.52" fill="#fff" opacity="0.1"/></g>
<g stroke="#38e048" stroke-linecap="round" filter="url(#gb)"><line x1="43.47" y1="-1.18" x2="42.56" y2="0.11" stroke-width="0.93" opacity="0.16"/><line x1="42.74" y1="1.24" x2="41.86" y2="3" stroke-width="0.61" opacity="0.16"/><line x1="41.86" y1="3" x2="40.89" y2="3.7" stroke-width="0.9" opacity="0.36"/><line x1="40.89" y1="3.7" x2="39.85" y2="5.62" stroke-width="0.55" opacity="0.28"/><line x1="39.85" y1="5.62" x2="38.83" y2="6.85" stroke-width="0.63" opacity="0.28"/><line x1="38.83" y1="6.85" x2="38.36" y2="8.53" stroke-width="0.66" opacity="0.23"/><line x1="38.36" y1="8.53" x2="36.96" y2="9.81" stroke-width="0.58" opacity="0.32"/><line x1="36.96" y1="9.81" x2="35.64" y2="11.2" stroke-width="0.7" opacity="0.23"/><line x1="35.64" y1="11.2" x2="34.59" y2="12.18" stroke-width="1.02" opacity="0.36"/><line x1="34.59" y1="12.18" x2="32.94" y2="13.42" stroke-width="0.55" opacity="0.14"/><line x1="32.94" y1="13.42" x2="31.83" y2="14.71" stroke-width="0.49" opacity="0.19"/><line x1="31.83" y1="14.71" x2="31" y2="16.15" stroke-width="0.48" opacity="0.29"/><line x1="31" y1="16.15" x2="30.05" y2="16.97" stroke-width="0.85" opacity="0.31"/><line x1="30.05" y1="16.97" x2="28.85" y2="18.06" stroke-width="0.83" opacity="0.12"/><line x1="28.23" y1="20.01" x2="26.46" y2="20.56" stroke-width="0.91" opacity="0.34"/><line x1="26.46" y1="20.56" x2="25.39" y2="22.27" stroke-width="0.61" opacity="0.13"/><line x1="25.39" y1="22.27" x2="24.26" y2="23.86" stroke-width="0.5" opacity="0.3"/><line x1="24.26" y1="23.86" x2="22.7" y2="24.45" stroke-width="0.87" opacity="0.32"/><line x1="22.7" y1="24.45" x2="22.09" y2="25.37" stroke-width="0.77" opacity="0.25"/><line x1="20.91" y1="27.2" x2="19.6" y2="28.92" stroke-width="0.51" opacity="0.38"/><line x1="18.53" y1="29.48" x2="17.67" y2="30.62" stroke-width="0.49" opacity="0.24"/><line x1="16.41" y1="31.75" x2="14.83" y2="33.58" stroke-width="0.55" opacity="0.33"/><line x1="14.83" y1="33.58" x2="13.95" y2="34.26" stroke-width="0.79" opacity="0.27"/><line x1="13.95" y1="34.26" x2="12.76" y2="35.85" stroke-width="0.87" opacity="0.24"/><line x1="12.76" y1="35.85" x2="11.47" y2="37.47" stroke-width="0.58" opacity="0.15"/><line x1="11.47" y1="37.47" x2="10.93" y2="39.09" stroke-width="0.59" opacity="0.17"/><line x1="10.93" y1="39.09" x2="9.01" y2="39.68" stroke-width="1.03" opacity="0.16"/><line x1="9.01" y1="39.68" x2="8.54" y2="41.58" stroke-width="0.62" opacity="0.21"/><line x1="8.54" y1="41.58" x2="6.9" y2="42.92" stroke-width="0.78" opacity="0.18"/><line x1="6.9" y1="42.92" x2="5.58" y2="43.77" stroke-width="0.58" opacity="0.21"/><line x1="5.58" y1="43.77" x2="4.47" y2="44.55" stroke-width="0.9" opacity="0.31"/><line x1="4.47" y1="44.55" x2="4.13" y2="46.07" stroke-width="0.6" opacity="0.31"/><line x1="4.13" y1="46.07" x2="3.25" y2="47.82" stroke-width="0.6" opacity="0.26"/><line x1="3.25" y1="47.82" x2="1.65" y2="48.57" stroke-width="0.7" opacity="0.36"/><line x1="1.65" y1="48.57" x2="0.48" y2="49.37" stroke-width="1.02" opacity="0.22"/><line x1="-0.57" y1="51.27" x2="-1.58" y2="52.15" stroke-width="0.62" opacity="0.15"/><line x1="29.59" y1="5.06" x2="28.77" y2="5.84" stroke-width="0.54" opacity="0.24"/><line x1="26.97" y1="7.2" x2="26.28" y2="7.91" stroke-width="0.86" opacity="0.24"/><line x1="26.28" y1="7.91" x2="24.61" y2="8.62" stroke-width="0.7" opacity="0.23"/><line x1="22.72" y1="9.78" x2="22.03" y2="10.46" stroke-width="0.83" opacity="0.13"/><line x1="22.03" y1="10.46" x2="20.92" y2="11.66" stroke-width="0.85" opacity="0.17"/><line x1="20.92" y1="11.66" x2="18.97" y2="12.46" stroke-width="0.64" opacity="0.16"/><line x1="18.97" y1="12.46" x2="18.47" y2="14.24" stroke-width="0.61" opacity="0.09"/><line x1="17" y1="15.12" x2="14.74" y2="15.82" stroke-width="0.91" opacity="0.19"/><line x1="14.74" y1="15.82" x2="13.91" y2="16.6" stroke-width="0.69" opacity="0.24"/><line x1="13.91" y1="16.6" x2="13.07" y2="17.89" stroke-width="0.72" opacity="0.2"/><line x1="13.07" y1="17.89" x2="10.86" y2="19.4" stroke-width="0.51" opacity="0.12"/><line x1="10.86" y1="19.4" x2="9.49" y2="20.54" stroke-width="0.87" opacity="0.16"/><line x1="9.49" y1="20.54" x2="8.51" y2="21.14" stroke-width="0.57" opacity="0.11"/><line x1="7.06" y1="22.08" x2="5.55" y2="22.6" stroke-width="0.8" opacity="0.16"/><line x1="5.55" y1="22.6" x2="4.55" y2="24.12" stroke-width="0.75" opacity="0.27"/></g>
<g fill="#30dd30" filter="url(#gb)"><circle cx="24.42" cy="8.99" r="0.66" opacity="0.38"/><circle cx="22.78" cy="10.2" r="0.83" opacity="0.5"/><circle cx="25.86" cy="7.68" r="0.71" opacity="0.49"/><circle cx="18.83" cy="13.51" r="0.56" opacity="0.42"/><circle cx="17.31" cy="14.26" r="0.7" opacity="0.6"/><circle cx="23.13" cy="10.76" r="0.59" opacity="0.47"/><circle cx="12.88" cy="17.44" r="0.72" opacity="0.45"/><circle cx="6.69" cy="22.69" r="0.72" opacity="0.41"/><circle cx="15.69" cy="33.4" r="0.76" opacity="0.58"/><circle cx="6.25" cy="44.3" r="0.73" opacity="0.46"/><circle cx="24.85" cy="23.24" r="0.52" opacity="0.45"/><circle cx="9.88" cy="38.46" r="0.69" opacity="0.69"/><circle cx="21.08" cy="28.09" r="0.58" opacity="0.64"/><circle cx="23.23" cy="25.41" r="0.61" opacity="0.39"/><circle cx="-0.32" cy="50.87" r="0.81" opacity="0.6"/><circle cx="0.03" cy="51.53" r="0.62" opacity="0.63"/><circle cx="43.5" cy="-0.52" r="0.74" opacity="0.59"/><circle cx="18.42" cy="31.05" r="0.52" opacity="0.43"/><circle cx="43.56" cy="0.29" r="0.83" opacity="0.43"/><circle cx="42.04" cy="3.05" r="0.6" opacity="0.49"/><circle cx="39.32" cy="6.74" r="0.67" opacity="0.38"/><circle cx="3.25" cy="46.22" r="0.74" opacity="0.61"/><circle cx="0.87" cy="49.68" r="0.54" opacity="0.5"/><circle cx="40.22" cy="4.47" r="0.85" opacity="0.36"/><circle cx="6.31" cy="43.39" r="0.96" opacity="0.8"/><circle cx="3.68" cy="46.89" r="0.96" opacity="0.8"/><circle cx="7.62" cy="44.71" r="0.96" opacity="0.8"/></g>
</g>
<g transform="translate(13.9 718.4)" clip-path="url(#c9)">
<rect x="0" y="0" width="56.7" height="56.6" fill="#010108"/>
<g fill="#2028d8"><circle cx="26.25" cy="21.13" r="0.49" opacity="0.93"/><circle cx="0.36" cy="28.46" r="0.72" opacity="0.54"/><circle cx="31.43" cy="34.9" r="0.46" opacity="0.69"/><circle cx="39.89" cy="25.58" r="0.67" opacity="0.58"/><circle cx="13.5" cy="6.28" r="0.6" opacity="0.96"/><circle cx="33.48" cy="43.82" r="0.57" opacity="0.87"/><circle cx="5.76" cy="16.48" r="0.65" opacity="0.86"/><circle cx="23.91" cy="4.96" r="0.53" opacity="0.6"/><circle cx="15.94" cy="45.82" r="0.51" opacity="0.94"/><circle cx="49.86" cy="3.1" r="0.56" opacity="0.75"/><circle cx="1.33" cy="24.04" r="0.72" opacity="0.56"/><circle cx="33.84" cy="6.86" r="0.62" opacity="0.95"/><circle cx="11.51" cy="0.47" r="0.48" opacity="0.77"/><circle cx="0.99" cy="4.8" r="0.6" opacity="0.96"/><circle cx="23.82" cy="22.53" r="0.64" opacity="0.55"/><circle cx="32.87" cy="9.77" r="0.63" opacity="0.98"/><circle cx="3.07" cy="31.42" r="0.63" opacity="0.57"/><circle cx="15.21" cy="56.31" r="0.75" opacity="0.56"/><circle cx="40" cy="53.82" r="0.52" opacity="0.81"/><circle cx="2.44" cy="20.71" r="0.65" opacity="0.8"/><circle cx="43.92" cy="4.91" r="0.55" opacity="0.93"/><circle cx="33.12" cy="25.54" r="0.57" opacity="0.99"/><circle cx="32.57" cy="1.04" r="0.69" opacity="0.66"/><circle cx="24.58" cy="12.08" r="0.58" opacity="0.66"/><circle cx="5.04" cy="35.63" r="0.48" opacity="0.89"/><circle cx="1.44" cy="44.19" r="0.69" opacity="0.75"/><circle cx="40.23" cy="14.05" r="0.67" opacity="0.71"/><circle cx="13.1" cy="54.57" r="0.57" opacity="0.69"/><circle cx="48.76" cy="20.91" r="0.65" opacity="0.59"/><circle cx="47.81" cy="14.65" r="0.47" opacity="0.99"/><circle cx="9.8" cy="53.57" r="0.75" opacity="0.8"/><circle cx="0.67" cy="3.45" r="0.51" opacity="0.69"/><circle cx="34.67" cy="54.7" r="0.56" opacity="0.57"/><circle cx="31.86" cy="7.77" r="0.48" opacity="0.78"/><circle cx="39.46" cy="3.71" r="0.59" opacity="0.85"/><circle cx="43.33" cy="21.68" r="0.72" opacity="0.58"/><circle cx="40.57" cy="43.68" r="0.71" opacity="0.75"/><circle cx="5.63" cy="2.74" r="0.61" opacity="0.59"/><circle cx="35.7" cy="4.77" r="0.68" opacity="0.61"/><circle cx="0.74" cy="9.95" r="0.59" opacity="0.78"/><circle cx="22.02" cy="9.79" r="0.59" opacity="0.97"/><circle cx="30.36" cy="53.28" r="0.46" opacity="1"/><circle cx="50.41" cy="30.81" r="0.61" opacity="0.77"/><circle cx="51.57" cy="3.71" r="0.64" opacity="0.77"/><circle cx="17.03" cy="41.03" r="0.67" opacity="0.55"/><circle cx="39.66" cy="25.67" r="0.6" opacity="0.82"/><circle cx="3" cy="34.13" r="0.56" opacity="0.94"/><circle cx="13.1" cy="46.59" r="0.67" opacity="0.81"/><circle cx="49.66" cy="2.04" r="0.63" opacity="0.81"/><circle cx="38.45" cy="23.02" r="0.47" opacity="0.59"/><circle cx="34.48" cy="10.26" r="0.47" opacity="0.68"/><circle cx="26.66" cy="30.31" r="0.46" opacity="0.89"/><circle cx="18.93" cy="44.31" r="0.45" opacity="0.98"/><circle cx="33.47" cy="55.26" r="0.75" opacity="0.92"/><circle cx="6.02" cy="19.74" r="0.52" opacity="0.89"/><circle cx="10.9" cy="12.52" r="0.48" opacity="0.56"/><circle cx="53.19" cy="55.25" r="0.56" opacity="0.87"/><circle cx="26.51" cy="29.55" r="0.56" opacity="0.82"/><circle cx="13.39" cy="14.51" r="0.61" opacity="0.6"/><circle cx="24.91" cy="53.42" r="0.46" opacity="0.55"/><circle cx="45.36" cy="3.27" r="0.53" opacity="0.93"/><circle cx="34.32" cy="12.49" r="0.47" opacity="0.64"/><circle cx="17.02" cy="45.3" r="0.74" opacity="0.89"/><circle cx="51.13" cy="52.68" r="0.71" opacity="0.96"/><circle cx="54.86" cy="5.34" r="0.55" opacity="0.62"/><circle cx="34.26" cy="27.83" r="0.55" opacity="0.92"/><circle cx="22.63" cy="11.83" r="0.53" opacity="0.73"/><circle cx="34.61" cy="32.17" r="0.58" opacity="0.59"/><circle cx="22.8" cy="18.4" r="0.5" opacity="0.77"/><circle cx="10.69" cy="40.28" r="0.65" opacity="0.57"/><circle cx="35.46" cy="19.12" r="0.58" opacity="0.8"/><circle cx="43.18" cy="50.01" r="0.67" opacity="0.61"/></g>
<path d="M26.36 -1.28L17.61 5.73L8.85 10.98L-0.79 15.8L-0.79 35.07L10.6 28.5L20.23 23.25L29.87 17.99L39.5 12.74L49.14 6.6L57.9 1.79L57.9 -1.28Z M57.9 18.43L50.01 25.87L42.13 33.76L35.12 40.76L28.12 48.65L21.98 57.41L57.9 57.41Z" fill="#0a0c6a" stroke="#0a0c6a" stroke-width="0.8" filter="url(#bb)" opacity="0.8"/>
<path d="M26.36 -1.28L17.61 5.73L8.85 10.98L-0.79 15.8L-0.79 35.07L10.6 28.5L20.23 23.25L29.87 17.99L39.5 12.74L49.14 6.6L57.9 1.79L57.9 -1.28Z M57.9 18.43L50.01 25.87L42.13 33.76L35.12 40.76L28.12 48.65L21.98 57.41L57.9 57.41Z" fill="#fff" stroke="#fff" stroke-width="1.3" stroke-linejoin="round" filter="url(#sp1)"/>
<g fill="#30e09a" filter="url(#gb)"><circle cx="43.01" cy="32.71" r="1.16" opacity="1"/><circle cx="46.51" cy="28.06" r="0.87" opacity="0.9"/><circle cx="45.63" cy="29.82" r="0.58" opacity="0.7"/><circle cx="3.59" cy="31.13" r="0.87" opacity="0.45"/><circle cx="6.66" cy="28.94" r="0.67" opacity="0.4"/><circle cx="49.14" cy="24.12" r="0.48" opacity="0.4"/></g>
</g>
<g transform="translate(71.6 718.4)" clip-path="url(#c9)">
<rect x="0" y="0" width="56.7" height="56.6" fill="#030a03"/>
<g fill="#30dd30" filter="url(#gb)"><circle cx="43.01" cy="32.71" r="1.16" opacity="1"/><circle cx="46.51" cy="28.06" r="0.87" opacity="0.9"/><circle cx="45.63" cy="29.82" r="0.58" opacity="0.7"/><circle cx="3.59" cy="31.13" r="0.87" opacity="0.45"/><circle cx="6.66" cy="28.94" r="0.67" opacity="0.4"/><circle cx="49.14" cy="24.12" r="0.48" opacity="0.4"/></g>
</g>
<g transform="translate(130.17 718.4)" clip-path="url(#c10)">
<rect x="0" y="0" width="56.7" height="56.6" fill="#010108"/>
<g fill="#2028d8"><circle cx="32.4" cy="24.28" r="0.62" opacity="0.6"/><circle cx="46.12" cy="46.62" r="0.65" opacity="0.58"/><circle cx="29.52" cy="18.55" r="0.52" opacity="0.98"/><circle cx="56.5" cy="2.52" r="0.71" opacity="0.8"/><circle cx="21.64" cy="16.05" r="0.65" opacity="0.73"/><circle cx="38.89" cy="37.46" r="0.49" opacity="0.88"/><circle cx="55.7" cy="54.87" r="0.63" opacity="0.52"/><circle cx="0.23" cy="7.58" r="0.73" opacity="0.65"/><circle cx="20.76" cy="50.84" r="0.54" opacity="0.77"/><circle cx="24.72" cy="3.68" r="0.63" opacity="0.92"/><circle cx="8.87" cy="12.7" r="0.57" opacity="0.52"/><circle cx="28.16" cy="46.3" r="0.65" opacity="0.77"/><circle cx="48.49" cy="8.47" r="0.62" opacity="0.69"/><circle cx="34.09" cy="6.39" r="0.68" opacity="0.55"/><circle cx="9.43" cy="45.7" r="0.73" opacity="0.72"/><circle cx="23.48" cy="13.89" r="0.53" opacity="0.81"/><circle cx="10.12" cy="6.76" r="0.59" opacity="0.58"/><circle cx="36.78" cy="46.47" r="0.68" opacity="0.74"/><circle cx="19.71" cy="24.6" r="0.45" opacity="0.86"/><circle cx="18.8" cy="18.08" r="0.47" opacity="0.72"/><circle cx="33.05" cy="22.11" r="0.71" opacity="0.84"/><circle cx="13.69" cy="29.74" r="0.72" opacity="0.76"/><circle cx="34.14" cy="3.55" r="0.6" opacity="0.73"/><circle cx="22.74" cy="23.8" r="0.63" opacity="0.77"/><circle cx="27.78" cy="9.38" r="0.58" opacity="0.98"/><circle cx="23.54" cy="2" r="0.45" opacity="0.77"/><circle cx="2.87" cy="5.25" r="0.48" opacity="0.73"/><circle cx="56.29" cy="27.45" r="0.59" opacity="0.72"/><circle cx="28.41" cy="25.31" r="0.67" opacity="0.95"/><circle cx="39.57" cy="23.96" r="0.64" opacity="0.95"/><circle cx="8.71" cy="13.43" r="0.64" opacity="0.84"/><circle cx="36.44" cy="33.31" r="0.7" opacity="0.74"/><circle cx="45.79" cy="54.47" r="0.58" opacity="0.93"/><circle cx="40.72" cy="50.3" r="0.46" opacity="0.96"/><circle cx="43.48" cy="54.47" r="0.74" opacity="0.64"/><circle cx="37.99" cy="8" r="0.63" opacity="0.96"/><circle cx="10.88" cy="19.8" r="0.47" opacity="0.6"/><circle cx="11.78" cy="5.43" r="0.75" opacity="0.94"/><circle cx="26.3" cy="42.09" r="0.66" opacity="0.76"/><circle cx="24.01" cy="37.59" r="0.62" opacity="0.63"/><circle cx="20.66" cy="35.5" r="0.64" opacity="0.6"/><circle cx="34.57" cy="49.52" r="0.71" opacity="0.83"/><circle cx="3.98" cy="23.97" r="0.48" opacity="0.53"/><circle cx="14.44" cy="25.86" r="0.68" opacity="0.81"/><circle cx="16.02" cy="39.34" r="0.6" opacity="0.75"/><circle cx="14.95" cy="25" r="0.55" opacity="0.86"/><circle cx="27.36" cy="25.29" r="0.59" opacity="0.74"/><circle cx="39.1" cy="40.74" r="0.69" opacity="0.7"/><circle cx="44.99" cy="54.6" r="0.75" opacity="0.86"/><circle cx="3.71" cy="47.96" r="0.7" opacity="0.51"/><circle cx="18.58" cy="18.23" r="0.67" opacity="0.81"/><circle cx="16.01" cy="10.55" r="0.5" opacity="0.55"/><circle cx="44.83" cy="52.96" r="0.52" opacity="0.87"/><circle cx="53.93" cy="10.85" r="0.62" opacity="0.72"/><circle cx="55.27" cy="49.22" r="0.45" opacity="0.6"/><circle cx="48.08" cy="32.5" r="0.61" opacity="0.9"/></g>
<path d="M15.59 -1.28L8.58 6.6L-1.05 14.49L-1.05 39.89L8.58 31.13L17.34 24.12L26.1 17.11L34.86 10.98L43.62 5.73L52.38 -1.28Z M57.63 17.55L48.87 25L40.99 32.88L33.11 40.76L26.1 48.65L20.85 57.41L40.99 57.41L48.87 49.52L57.63 43.39Z" fill="#0a0c6a" stroke="#0a0c6a" stroke-width="0.8" filter="url(#bb)" opacity="0.8"/>
<path d="M15.59 -1.28L8.58 6.6L-1.05 14.49L-1.05 39.89L8.58 31.13L17.34 24.12L26.1 17.11L34.86 10.98L43.62 5.73L52.38 -1.28Z M57.63 17.55L48.87 25L40.99 32.88L33.11 40.76L26.1 48.65L20.85 57.41L40.99 57.41L48.87 49.52L57.63 43.39Z" fill="#fff" stroke="#fff" stroke-width="1.3" stroke-linejoin="round" filter="url(#sp2)"/>
<g fill="#30e09a" filter="url(#gb)"><circle cx="30.04" cy="25.87" r="0.72" opacity="0.95"/><circle cx="40.12" cy="13.17" r="0.72" opacity="0.95"/><circle cx="30.48" cy="20.18" r="0.72" opacity="0.95"/><circle cx="24.35" cy="8.79" r="0.72" opacity="0.95"/><circle cx="32.23" cy="10.55" r="0.72" opacity="0.95"/><circle cx="37.05" cy="16.24" r="0.72" opacity="0.95"/><circle cx="26.1" cy="31.13" r="0.72" opacity="0.95"/><circle cx="15.15" cy="32" r="0.72" opacity="0.95"/><circle cx="18.66" cy="37.26" r="0.72" opacity="0.95"/><circle cx="10.34" cy="39.89" r="0.72" opacity="0.95"/><circle cx="17.34" cy="42.95" r="0.72" opacity="0.95"/><circle cx="6.39" cy="46.02" r="0.72" opacity="0.95"/><circle cx="3.77" cy="41.2" r="0.72" opacity="0.95"/><circle cx="41.87" cy="51.27" r="0.72" opacity="0.95"/><circle cx="44.5" cy="54.34" r="0.72" opacity="0.95"/><circle cx="22.16" cy="53.9" r="0.72" opacity="0.95"/><circle cx="8.58" cy="28.06" r="0.72" opacity="0.95"/><circle cx="2.01" cy="11.42" r="0.72" opacity="0.95"/><circle cx="43.18" cy="7.92" r="0.72" opacity="0.95"/><circle cx="50.63" cy="6.6" r="0.72" opacity="0.95"/><circle cx="56.32" cy="13.17" r="0.72" opacity="0.95"/><circle cx="52.38" cy="28.06" r="0.72" opacity="0.95"/><circle cx="41.87" cy="29.38" r="0.72" opacity="0.95"/><circle cx="35.3" cy="35.07" r="0.72" opacity="0.95"/><circle cx="21.15" cy="24.94" r="0.66" opacity="0.73"/><circle cx="6.18" cy="38.31" r="0.54" opacity="0.79"/><circle cx="20.49" cy="22.44" r="0.44" opacity="0.36"/><circle cx="47.5" cy="25.56" r="0.58" opacity="0.62"/><circle cx="33.65" cy="1.65" r="0.61" opacity="0.42"/><circle cx="7.65" cy="31.63" r="0.41" opacity="0.68"/><circle cx="12.13" cy="12.39" r="0.64" opacity="0.46"/><circle cx="8.84" cy="50.17" r="0.39" opacity="0.73"/><circle cx="8.68" cy="7.65" r="0.46" opacity="0.39"/><circle cx="37.18" cy="1.9" r="0.39" opacity="0.69"/><circle cx="13.83" cy="18.34" r="0.44" opacity="0.33"/><circle cx="41.63" cy="29.5" r="0.6" opacity="0.54"/><circle cx="43.63" cy="28.79" r="0.42" opacity="0.55"/><circle cx="52.87" cy="2.87" r="0.61" opacity="0.73"/><circle cx="29.47" cy="25.75" r="0.66" opacity="0.33"/><circle cx="27.13" cy="22.63" r="0.58" opacity="0.55"/><circle cx="50.9" cy="4.53" r="0.41" opacity="0.6"/><circle cx="4.33" cy="15.65" r="0.57" opacity="0.57"/><circle cx="18.64" cy="55.36" r="0.54" opacity="0.53"/><circle cx="34.11" cy="5.95" r="0.59" opacity="0.73"/><circle cx="36.62" cy="42.91" r="0.59" opacity="0.41"/><circle cx="25.62" cy="13.08" r="0.48" opacity="0.53"/><circle cx="23.66" cy="5.72" r="0.51" opacity="0.63"/><circle cx="21.35" cy="8.9" r="0.65" opacity="0.33"/><circle cx="46.6" cy="5.62" r="0.41" opacity="0.67"/><circle cx="45.49" cy="31.17" r="0.55" opacity="0.58"/><circle cx="18.89" cy="7.22" r="0.49" opacity="0.63"/><circle cx="42.1" cy="48.38" r="0.59" opacity="0.78"/><circle cx="33.83" cy="19.88" r="0.55" opacity="0.41"/><circle cx="36.94" cy="12.85" r="0.42" opacity="0.72"/><circle cx="20.98" cy="42.55" r="0.55" opacity="0.7"/><circle cx="47.34" cy="54.25" r="0.62" opacity="0.61"/><circle cx="36.17" cy="1.92" r="0.65" opacity="0.71"/><circle cx="15.46" cy="10.43" r="0.59" opacity="0.45"/><circle cx="19.45" cy="0.81" r="0.64" opacity="0.58"/><circle cx="22.82" cy="8.3" r="0.57" opacity="0.32"/><circle cx="41.87" cy="12.34" r="0.51" opacity="0.47"/><circle cx="21.12" cy="40.29" r="0.61" opacity="0.58"/><circle cx="5.39" cy="3.38" r="0.43" opacity="0.61"/><circle cx="37.89" cy="15.49" r="0.58" opacity="0.54"/></g>
</g>
<g transform="translate(187.87 718.4)" clip-path="url(#c10)">
<rect x="0" y="0" width="56.7" height="56.6" fill="#030a03"/>
<g fill="#30dd30" filter="url(#gb)"><circle cx="30.04" cy="25.87" r="0.72" opacity="0.95"/><circle cx="40.12" cy="13.17" r="0.72" opacity="0.95"/><circle cx="30.48" cy="20.18" r="0.72" opacity="0.95"/><circle cx="24.35" cy="8.79" r="0.72" opacity="0.95"/><circle cx="32.23" cy="10.55" r="0.72" opacity="0.95"/><circle cx="37.05" cy="16.24" r="0.72" opacity="0.95"/><circle cx="26.1" cy="31.13" r="0.72" opacity="0.95"/><circle cx="15.15" cy="32" r="0.72" opacity="0.95"/><circle cx="18.66" cy="37.26" r="0.72" opacity="0.95"/><circle cx="10.34" cy="39.89" r="0.72" opacity="0.95"/><circle cx="17.34" cy="42.95" r="0.72" opacity="0.95"/><circle cx="6.39" cy="46.02" r="0.72" opacity="0.95"/><circle cx="3.77" cy="41.2" r="0.72" opacity="0.95"/><circle cx="41.87" cy="51.27" r="0.72" opacity="0.95"/><circle cx="44.5" cy="54.34" r="0.72" opacity="0.95"/><circle cx="22.16" cy="53.9" r="0.72" opacity="0.95"/><circle cx="8.58" cy="28.06" r="0.72" opacity="0.95"/><circle cx="2.01" cy="11.42" r="0.72" opacity="0.95"/><circle cx="43.18" cy="7.92" r="0.72" opacity="0.95"/><circle cx="50.63" cy="6.6" r="0.72" opacity="0.95"/><circle cx="56.32" cy="13.17" r="0.72" opacity="0.95"/><circle cx="52.38" cy="28.06" r="0.72" opacity="0.95"/><circle cx="41.87" cy="29.38" r="0.72" opacity="0.95"/><circle cx="35.3" cy="35.07" r="0.72" opacity="0.95"/><circle cx="21.15" cy="24.94" r="0.66" opacity="0.73"/><circle cx="6.18" cy="38.31" r="0.54" opacity="0.79"/><circle cx="20.49" cy="22.44" r="0.44" opacity="0.36"/><circle cx="47.5" cy="25.56" r="0.58" opacity="0.62"/><circle cx="33.65" cy="1.65" r="0.61" opacity="0.42"/><circle cx="7.65" cy="31.63" r="0.41" opacity="0.68"/><circle cx="12.13" cy="12.39" r="0.64" opacity="0.46"/><circle cx="8.84" cy="50.17" r="0.39" opacity="0.73"/><circle cx="8.68" cy="7.65" r="0.46" opacity="0.39"/><circle cx="37.18" cy="1.9" r="0.39" opacity="0.69"/><circle cx="13.83" cy="18.34" r="0.44" opacity="0.33"/><circle cx="41.63" cy="29.5" r="0.6" opacity="0.54"/><circle cx="43.63" cy="28.79" r="0.42" opacity="0.55"/><circle cx="52.87" cy="2.87" r="0.61" opacity="0.73"/><circle cx="29.47" cy="25.75" r="0.66" opacity="0.33"/><circle cx="27.13" cy="22.63" r="0.58" opacity="0.55"/><circle cx="50.9" cy="4.53" r="0.41" opacity="0.6"/><circle cx="4.33" cy="15.65" r="0.57" opacity="0.57"/><circle cx="18.64" cy="55.36" r="0.54" opacity="0.53"/><circle cx="34.11" cy="5.95" r="0.59" opacity="0.73"/><circle cx="36.62" cy="42.91" r="0.59" opacity="0.41"/><circle cx="25.62" cy="13.08" r="0.48" opacity="0.53"/><circle cx="23.66" cy="5.72" r="0.51" opacity="0.63"/><circle cx="21.35" cy="8.9" r="0.65" opacity="0.33"/><circle cx="46.6" cy="5.62" r="0.41" opacity="0.67"/><circle cx="45.49" cy="31.17" r="0.55" opacity="0.58"/><circle cx="18.89" cy="7.22" r="0.49" opacity="0.63"/><circle cx="42.1" cy="48.38" r="0.59" opacity="0.78"/><circle cx="33.83" cy="19.88" r="0.55" opacity="0.41"/><circle cx="36.94" cy="12.85" r="0.42" opacity="0.72"/><circle cx="20.98" cy="42.55" r="0.55" opacity="0.7"/><circle cx="47.34" cy="54.25" r="0.62" opacity="0.61"/><circle cx="36.17" cy="1.92" r="0.65" opacity="0.71"/><circle cx="15.46" cy="10.43" r="0.59" opacity="0.45"/><circle cx="19.45" cy="0.81" r="0.64" opacity="0.58"/><circle cx="22.82" cy="8.3" r="0.57" opacity="0.32"/><circle cx="41.87" cy="12.34" r="0.51" opacity="0.47"/><circle cx="21.12" cy="40.29" r="0.61" opacity="0.58"/><circle cx="5.39" cy="3.38" r="0.43" opacity="0.61"/><circle cx="37.89" cy="15.49" r="0.58" opacity="0.54"/></g>
</g>
<g transform="translate(246.43 718.4)" clip-path="url(#c11)">
<rect x="0" y="0" width="56.7" height="56.6" fill="#010108"/>
<g fill="#2028d8"><circle cx="25.65" cy="31.68" r="0.73" opacity="0.73"/><circle cx="28.79" cy="33.25" r="0.51" opacity="0.76"/><circle cx="35.71" cy="44.88" r="0.48" opacity="0.65"/><circle cx="5.14" cy="45.83" r="0.66" opacity="0.52"/><circle cx="55.69" cy="54.61" r="0.65" opacity="0.81"/><circle cx="8.93" cy="0.85" r="0.61" opacity="0.53"/><circle cx="10.78" cy="13.69" r="0.46" opacity="0.73"/><circle cx="24.98" cy="47.68" r="0.61" opacity="0.82"/><circle cx="28.34" cy="37.49" r="0.59" opacity="0.64"/><circle cx="56.57" cy="56.36" r="0.7" opacity="0.85"/><circle cx="17.88" cy="13" r="0.54" opacity="0.54"/><circle cx="43.45" cy="22.66" r="0.7" opacity="0.69"/><circle cx="54.32" cy="47.96" r="0.45" opacity="0.6"/><circle cx="51.61" cy="26.6" r="0.74" opacity="0.7"/><circle cx="4.14" cy="35.63" r="0.68" opacity="0.63"/><circle cx="4.94" cy="18.82" r="0.74" opacity="0.88"/><circle cx="6.69" cy="13.95" r="0.48" opacity="0.53"/><circle cx="45.19" cy="10.06" r="0.62" opacity="0.72"/><circle cx="10.81" cy="41.43" r="0.49" opacity="0.82"/><circle cx="6.61" cy="23.81" r="0.51" opacity="0.63"/><circle cx="55.05" cy="45.47" r="0.54" opacity="0.94"/><circle cx="11.95" cy="22.32" r="0.71" opacity="0.82"/><circle cx="5.69" cy="55.99" r="0.51" opacity="0.63"/><circle cx="43.81" cy="18.62" r="0.54" opacity="0.54"/><circle cx="5.11" cy="32.98" r="0.52" opacity="0.8"/><circle cx="21.08" cy="25.65" r="0.74" opacity="0.74"/><circle cx="32.58" cy="49.05" r="0.5" opacity="0.58"/><circle cx="51.51" cy="46.29" r="0.52" opacity="0.59"/><circle cx="41.93" cy="53.23" r="0.51" opacity="0.98"/><circle cx="50.02" cy="34.16" r="0.58" opacity="0.55"/><circle cx="2.19" cy="54.49" r="0.52" opacity="0.85"/><circle cx="14.57" cy="46.62" r="0.63" opacity="0.65"/><circle cx="9.95" cy="40.77" r="0.47" opacity="0.61"/><circle cx="31.72" cy="48.25" r="0.63" opacity="0.64"/><circle cx="52.01" cy="11.55" r="0.45" opacity="0.63"/><circle cx="25.27" cy="3.42" r="0.5" opacity="0.68"/><circle cx="32.44" cy="7.45" r="0.56" opacity="0.95"/><circle cx="55.59" cy="37.18" r="0.66" opacity="0.79"/><circle cx="7.96" cy="1.99" r="0.46" opacity="0.96"/><circle cx="39.75" cy="54.49" r="0.46" opacity="0.82"/><circle cx="27.34" cy="41.35" r="0.55" opacity="1"/><circle cx="4.27" cy="30.91" r="0.67" opacity="0.95"/><circle cx="41.79" cy="39.83" r="0.69" opacity="0.96"/><circle cx="19.95" cy="38.78" r="0.72" opacity="0.94"/><circle cx="23.65" cy="44.74" r="0.71" opacity="0.79"/><circle cx="35.44" cy="21.64" r="0.62" opacity="0.8"/><circle cx="4.55" cy="36.19" r="0.75" opacity="0.94"/><circle cx="41.29" cy="21.99" r="0.67" opacity="0.79"/><circle cx="24.98" cy="47.45" r="0.48" opacity="0.88"/><circle cx="1.69" cy="34.03" r="0.59" opacity="0.62"/><circle cx="39.6" cy="28.14" r="0.63" opacity="0.96"/><circle cx="14.51" cy="0.64" r="0.54" opacity="0.84"/><circle cx="11.49" cy="9.6" r="0.72" opacity="0.83"/><circle cx="25.06" cy="50.47" r="0.55" opacity="0.83"/><circle cx="11.26" cy="24.39" r="0.69" opacity="0.96"/><circle cx="49.91" cy="21.76" r="0.62" opacity="0.66"/><circle cx="7.72" cy="28.1" r="0.7" opacity="0.92"/><circle cx="40.33" cy="53.77" r="0.53" opacity="0.58"/><circle cx="25.55" cy="15.57" r="0.51" opacity="0.71"/><circle cx="35.48" cy="27.95" r="0.54" opacity="0.92"/><circle cx="55.68" cy="25.61" r="0.47" opacity="0.52"/><circle cx="49.49" cy="2.35" r="0.66" opacity="0.79"/><circle cx="17.52" cy="44.8" r="0.46" opacity="0.57"/><circle cx="25.79" cy="1.4" r="0.7" opacity="0.62"/><circle cx="7.99" cy="2.66" r="0.64" opacity="0.72"/><circle cx="35.72" cy="37.08" r="0.69" opacity="0.98"/><circle cx="38.81" cy="11.28" r="0.59" opacity="0.59"/><circle cx="0.61" cy="26.73" r="0.66" opacity="0.59"/><circle cx="15.44" cy="19.57" r="0.66" opacity="0.76"/><circle cx="34.84" cy="42.8" r="0.57" opacity="0.9"/><circle cx="51.38" cy="4.94" r="0.73" opacity="0.86"/><circle cx="7.37" cy="25.67" r="0.64" opacity="0.95"/></g>
<path d="M7.45 -1.28L3.07 9.23L-1.31 18.87L-1.31 49.96L2.19 43.39L5.69 36.38L10.07 26.75L15.33 17.11L20.58 8.36L24.96 -1.28Z M37.23 -1.28L35.47 10.11L32.85 20.62L29.34 30.25L24.96 39.89L20.58 48.65L17.08 57.41L38.98 57.41L41.6 43.39L45.11 32.88L48.61 22.37L51.24 10.98L52.99 -1.28Z" fill="#0a0c6a" stroke="#0a0c6a" stroke-width="0.8" filter="url(#bb)" opacity="0.8"/>
<path d="M7.45 -1.28L3.07 9.23L-1.31 18.87L-1.31 49.96L2.19 43.39L5.69 36.38L10.07 26.75L15.33 17.11L20.58 8.36L24.96 -1.28Z M37.23 -1.28L35.47 10.11L32.85 20.62L29.34 30.25L24.96 39.89L20.58 48.65L17.08 57.41L38.98 57.41L41.6 43.39L45.11 32.88L48.61 22.37L51.24 10.98L52.99 -1.28Z" fill="#fff" stroke="#fff" stroke-width="1.3" stroke-linejoin="round" filter="url(#sp3)"/>
<g fill="#30e09a" filter="url(#gb)"><circle cx="37.23" cy="5.73" r="0.72" opacity="0.95"/><circle cx="35.04" cy="10.55" r="0.72" opacity="0.95"/><circle cx="35.04" cy="15.8" r="0.72" opacity="0.95"/><circle cx="33.72" cy="21.49" r="0.72" opacity="0.95"/><circle cx="32.41" cy="25.44" r="0.72" opacity="0.95"/><circle cx="28.9" cy="32.88" r="0.72" opacity="0.95"/><circle cx="25.84" cy="40.76" r="0.72" opacity="0.95"/><circle cx="22.34" cy="49.52" r="0.72" opacity="0.95"/><circle cx="19.27" cy="53.9" r="0.72" opacity="0.95"/><circle cx="29.34" cy="47.33" r="0.72" opacity="0.95"/><circle cx="35.91" cy="29.82" r="0.72" opacity="0.95"/><circle cx="15.77" cy="14.05" r="0.72" opacity="0.95"/><circle cx="7.88" cy="29.38" r="0.72" opacity="0.95"/><circle cx="3.07" cy="39.89" r="0.72" opacity="0.95"/><circle cx="30.78" cy="25.85" r="0.53" opacity="0.57"/><circle cx="34.2" cy="16.07" r="0.74" opacity="0.42"/><circle cx="32.18" cy="22.19" r="0.6" opacity="0.48"/><circle cx="35.62" cy="6.98" r="0.48" opacity="0.7"/><circle cx="35.41" cy="9.81" r="0.67" opacity="0.73"/><circle cx="21.25" cy="46.71" r="0.5" opacity="0.41"/><circle cx="19.35" cy="52.93" r="0.7" opacity="0.68"/><circle cx="31.1" cy="23.52" r="0.61" opacity="0.72"/><circle cx="8.89" cy="30.77" r="0.52" opacity="0.55"/><circle cx="18.92" cy="11.34" r="0.63" opacity="0.39"/><circle cx="15.76" cy="15.65" r="0.68" opacity="0.33"/><circle cx="11.71" cy="24.47" r="0.76" opacity="0.55"/></g>
</g>
<g transform="translate(304.13 718.4)" clip-path="url(#c11)">
<rect x="0" y="0" width="56.7" height="56.6" fill="#030a03"/>
<g fill="#30dd30" filter="url(#gb)"><circle cx="37.23" cy="5.73" r="0.72" opacity="0.95"/><circle cx="35.04" cy="10.55" r="0.72" opacity="0.95"/><circle cx="35.04" cy="15.8" r="0.72" opacity="0.95"/><circle cx="33.72" cy="21.49" r="0.72" opacity="0.95"/><circle cx="32.41" cy="25.44" r="0.72" opacity="0.95"/><circle cx="28.9" cy="32.88" r="0.72" opacity="0.95"/><circle cx="25.84" cy="40.76" r="0.72" opacity="0.95"/><circle cx="22.34" cy="49.52" r="0.72" opacity="0.95"/><circle cx="19.27" cy="53.9" r="0.72" opacity="0.95"/><circle cx="29.34" cy="47.33" r="0.72" opacity="0.95"/><circle cx="35.91" cy="29.82" r="0.72" opacity="0.95"/><circle cx="15.77" cy="14.05" r="0.72" opacity="0.95"/><circle cx="7.88" cy="29.38" r="0.72" opacity="0.95"/><circle cx="3.07" cy="39.89" r="0.72" opacity="0.95"/><circle cx="30.78" cy="25.85" r="0.53" opacity="0.57"/><circle cx="34.2" cy="16.07" r="0.74" opacity="0.42"/><circle cx="32.18" cy="22.19" r="0.6" opacity="0.48"/><circle cx="35.62" cy="6.98" r="0.48" opacity="0.7"/><circle cx="35.41" cy="9.81" r="0.67" opacity="0.73"/><circle cx="21.25" cy="46.71" r="0.5" opacity="0.41"/><circle cx="19.35" cy="52.93" r="0.7" opacity="0.68"/><circle cx="31.1" cy="23.52" r="0.61" opacity="0.72"/><circle cx="8.89" cy="30.77" r="0.52" opacity="0.55"/><circle cx="18.92" cy="11.34" r="0.63" opacity="0.39"/><circle cx="15.76" cy="15.65" r="0.68" opacity="0.33"/><circle cx="11.71" cy="24.47" r="0.76" opacity="0.55"/></g>
</g>
<g transform="translate(362.7 718.4)" clip-path="url(#c12)">
<rect x="0" y="0" width="56.7" height="56.6" fill="#010108"/>
<g fill="#2028d8"><circle cx="26.91" cy="37.21" r="0.65" opacity="0.57"/><circle cx="0.62" cy="21.21" r="0.53" opacity="0.91"/><circle cx="39.16" cy="34.04" r="0.62" opacity="0.83"/><circle cx="8.24" cy="24.91" r="0.5" opacity="0.95"/><circle cx="3.34" cy="46.35" r="0.47" opacity="0.84"/><circle cx="19.11" cy="22.9" r="0.7" opacity="0.51"/><circle cx="3.45" cy="51.79" r="0.6" opacity="0.55"/><circle cx="55.97" cy="53.58" r="0.48" opacity="0.71"/><circle cx="7.66" cy="17.69" r="0.64" opacity="0.58"/><circle cx="39.51" cy="2.91" r="0.5" opacity="0.91"/><circle cx="22.71" cy="23.71" r="0.63" opacity="0.74"/><circle cx="21.81" cy="1.73" r="0.67" opacity="0.98"/><circle cx="55.36" cy="37.56" r="0.56" opacity="0.68"/><circle cx="39.13" cy="38.14" r="0.48" opacity="0.62"/><circle cx="20.6" cy="28.94" r="0.69" opacity="0.75"/><circle cx="1.6" cy="46.56" r="0.58" opacity="0.76"/><circle cx="12.6" cy="24.18" r="0.57" opacity="0.89"/><circle cx="5.82" cy="31.13" r="0.5" opacity="0.85"/><circle cx="2.09" cy="15.65" r="0.55" opacity="0.82"/><circle cx="2.95" cy="25.99" r="0.51" opacity="0.64"/><circle cx="27" cy="54.27" r="0.59" opacity="0.98"/><circle cx="9.5" cy="52.31" r="0.56" opacity="0.59"/><circle cx="42.44" cy="51.62" r="0.45" opacity="0.63"/><circle cx="43.7" cy="19.35" r="0.52" opacity="0.5"/><circle cx="2.27" cy="35.04" r="0.75" opacity="1"/><circle cx="28.55" cy="1.35" r="0.55" opacity="0.89"/><circle cx="47.17" cy="36.19" r="0.52" opacity="0.76"/><circle cx="27.07" cy="35.49" r="0.53" opacity="0.97"/><circle cx="50.71" cy="9.18" r="0.54" opacity="0.94"/><circle cx="15.78" cy="53.42" r="0.6" opacity="0.85"/><circle cx="39.96" cy="12.12" r="0.54" opacity="0.63"/><circle cx="38.74" cy="39.29" r="0.49" opacity="0.94"/><circle cx="23.83" cy="13.65" r="0.58" opacity="0.99"/><circle cx="31.75" cy="35.36" r="0.73" opacity="0.98"/><circle cx="43.12" cy="23.64" r="0.63" opacity="0.95"/><circle cx="44.75" cy="32.84" r="0.55" opacity="0.68"/><circle cx="41.72" cy="31.88" r="0.46" opacity="0.86"/><circle cx="51.25" cy="45.15" r="0.72" opacity="0.96"/><circle cx="30.33" cy="44.66" r="0.56" opacity="0.55"/><circle cx="20.02" cy="17.67" r="0.73" opacity="0.84"/><circle cx="30.71" cy="35.21" r="0.49" opacity="0.77"/><circle cx="39.73" cy="22.31" r="0.52" opacity="0.7"/><circle cx="18.35" cy="38.79" r="0.49" opacity="0.55"/><circle cx="17.72" cy="39.38" r="0.68" opacity="0.83"/><circle cx="53" cy="20.69" r="0.46" opacity="0.74"/><circle cx="25.16" cy="10.15" r="0.65" opacity="0.67"/><circle cx="13.51" cy="18.53" r="0.73" opacity="0.5"/><circle cx="20.43" cy="15.83" r="0.51" opacity="0.72"/><circle cx="12.5" cy="52.01" r="0.6" opacity="0.85"/><circle cx="9.21" cy="26.3" r="0.63" opacity="0.92"/><circle cx="14.17" cy="26.02" r="0.71" opacity="0.92"/><circle cx="12.9" cy="30.45" r="0.68" opacity="0.7"/><circle cx="38.18" cy="37.54" r="0.74" opacity="0.78"/><circle cx="38.6" cy="19.82" r="0.67" opacity="0.66"/><circle cx="28.34" cy="20.42" r="0.54" opacity="0.57"/><circle cx="12.8" cy="30.81" r="0.53" opacity="0.52"/><circle cx="45.56" cy="16.17" r="0.73" opacity="0.8"/><circle cx="22.06" cy="49.42" r="0.72" opacity="0.66"/><circle cx="7.14" cy="36.28" r="0.7" opacity="0.8"/><circle cx="44.47" cy="23.34" r="0.64" opacity="0.63"/><circle cx="23.07" cy="21.49" r="0.57" opacity="0.7"/><circle cx="45.77" cy="9.61" r="0.51" opacity="0.63"/><circle cx="55.06" cy="29.59" r="0.47" opacity="0.92"/><circle cx="49.53" cy="46.48" r="0.56" opacity="0.87"/></g>
<g filter="url(#gn0)"><rect x="-8" y="-8" width="72.7" height="72.6" fill="#fff" opacity="0.1"/><circle cx="9.81" cy="18.87" r="17.52" fill="#fff" opacity="0.15"/><circle cx="36.09" cy="34.63" r="16.64" fill="#fff" opacity="0.12"/><circle cx="51.85" cy="45.14" r="7.88" fill="#fff" opacity="0.3"/></g>
<path d="M23.82 -1.28L21.2 10.11L16.82 20.62L11.56 30.25L5.43 38.14L-1.58 45.58L-1.58 57.41L6.31 57.41L11.56 51.27L16.82 44.27L22.07 36.38L27.33 28.5L32.58 18.87L36.09 9.23L37.84 -1.28Z M57.11 14.49L53.6 25L50.1 36.38L45.72 46.89L41.34 57.41L57.11 57.41Z" fill="#0a0c6a" stroke="#0a0c6a" stroke-width="0.8" filter="url(#bb)" opacity="0.8"/>
<path d="M23.82 -1.28L21.2 10.11L16.82 20.62L11.56 30.25L5.43 38.14L-1.58 45.58L-1.58 57.41L6.31 57.41L11.56 51.27L16.82 44.27L22.07 36.38L27.33 28.5L32.58 18.87L36.09 9.23L37.84 -1.28Z M57.11 14.49L53.6 25L50.1 36.38L45.72 46.89L41.34 57.41L57.11 57.41Z" fill="#fff" stroke="#fff" stroke-width="1.3" stroke-linejoin="round" filter="url(#sp0)"/>
<g opacity="0.4"><g filter="url(#gn0)"><rect x="-8" y="-8" width="72.7" height="72.6" fill="#fff" opacity="0.1"/><circle cx="9.81" cy="18.87" r="17.52" fill="#fff" opacity="0.15"/><circle cx="36.09" cy="34.63" r="16.64" fill="#fff" opacity="0.12"/><circle cx="51.85" cy="45.14" r="7.88" fill="#fff" opacity="0.3"/></g></g>
<g stroke="#38e048" stroke-linecap="round" filter="url(#gb)"><line x1="37.74" y1="-1.51" x2="37.93" y2="0.41" stroke-width="0.85" opacity="0.27"/><line x1="37.93" y1="0.41" x2="37.29" y2="2.28" stroke-width="0.86" opacity="0.39"/><line x1="37.29" y1="2.28" x2="36.79" y2="4.13" stroke-width="0.63" opacity="0.37"/><line x1="36.79" y1="4.13" x2="37.11" y2="5.26" stroke-width="0.89" opacity="0.51"/><line x1="36.45" y1="7.22" x2="36.26" y2="9.37" stroke-width="0.88" opacity="0.17"/><line x1="35" y1="10.41" x2="34.95" y2="12.84" stroke-width="1.06" opacity="0.21"/><line x1="34.95" y1="12.84" x2="34.66" y2="14.41" stroke-width="1.1" opacity="0.25"/><line x1="34.66" y1="14.41" x2="33.35" y2="15.49" stroke-width="0.64" opacity="0.21"/><line x1="33.35" y1="15.49" x2="33.25" y2="17.11" stroke-width="1.1" opacity="0.41"/><line x1="33.25" y1="17.11" x2="32.29" y2="19.33" stroke-width="0.95" opacity="0.36"/><line x1="32.29" y1="19.33" x2="31.86" y2="20.36" stroke-width="1.12" opacity="0.33"/><line x1="31.86" y1="20.36" x2="30.8" y2="22.3" stroke-width="0.68" opacity="0.35"/><line x1="30.8" y1="22.3" x2="30.24" y2="23.99" stroke-width="0.78" opacity="0.26"/><line x1="28.9" y1="25.8" x2="28.49" y2="26.64" stroke-width="0.55" opacity="0.29"/><line x1="26.97" y1="28.42" x2="26.01" y2="30.49" stroke-width="1.01" opacity="0.41"/><line x1="24.69" y1="32" x2="23.8" y2="33.57" stroke-width="0.71" opacity="0.49"/><line x1="23.8" y1="33.57" x2="23.05" y2="34.4" stroke-width="1.03" opacity="0.37"/><line x1="23.05" y1="34.4" x2="22.61" y2="36.3" stroke-width="0.91" opacity="0.36"/><line x1="22.61" y1="36.3" x2="21.55" y2="37.77" stroke-width="0.67" opacity="0.18"/><line x1="21.55" y1="37.77" x2="19.68" y2="39.6" stroke-width="0.64" opacity="0.42"/><line x1="19.68" y1="39.6" x2="18.58" y2="41.2" stroke-width="0.64" opacity="0.48"/><line x1="18.58" y1="41.2" x2="18.1" y2="42.85" stroke-width="0.77" opacity="0.43"/><line x1="18.1" y1="42.85" x2="16.27" y2="44.45" stroke-width="0.95" opacity="0.43"/><line x1="16.27" y1="44.45" x2="15.51" y2="45.62" stroke-width="0.9" opacity="0.24"/><line x1="15.51" y1="45.62" x2="15.11" y2="47.47" stroke-width="0.96" opacity="0.34"/><line x1="15.11" y1="47.47" x2="13.26" y2="48.02" stroke-width="1.17" opacity="0.5"/><line x1="13.26" y1="48.02" x2="12.89" y2="49.8" stroke-width="0.85" opacity="0.4"/><line x1="11.05" y1="52.9" x2="10" y2="54.17" stroke-width="0.93" opacity="0.51"/><line x1="10" y1="54.17" x2="8.48" y2="54.85" stroke-width="0.95" opacity="0.19"/><line x1="8.48" y1="54.85" x2="6.99" y2="56.55" stroke-width="0.57" opacity="0.23"/><line x1="6.99" y1="56.55" x2="6.31" y2="57.41" stroke-width="1.04" opacity="0.18"/><line x1="55.11" y1="1.34" x2="54.77" y2="2.86" stroke-width="0.91" opacity="0.31"/><line x1="54.77" y1="2.86" x2="54.64" y2="4.19" stroke-width="1.05" opacity="0.39"/><line x1="54.64" y1="4.19" x2="54.74" y2="6" stroke-width="0.95" opacity="0.24"/><line x1="54.65" y1="8.37" x2="54.22" y2="9.93" stroke-width="1.19" opacity="0.22"/><line x1="54.22" y1="9.93" x2="54.2" y2="11.81" stroke-width="1.15" opacity="0.54"/><line x1="54.74" y1="15.1" x2="53.76" y2="16.45" stroke-width="1.02" opacity="0.21"/><line x1="53.76" y1="16.45" x2="54.33" y2="18.71" stroke-width="1.13" opacity="0.36"/><line x1="54.33" y1="18.71" x2="53.62" y2="19.66" stroke-width="0.87" opacity="0.52"/><line x1="53.62" y1="19.66" x2="54.16" y2="22.13" stroke-width="0.88" opacity="0.33"/><line x1="54.16" y1="22.13" x2="53.28" y2="22.86" stroke-width="1.22" opacity="0.21"/><line x1="53.28" y1="22.86" x2="53.88" y2="24.8" stroke-width="1.18" opacity="0.46"/><line x1="53.88" y1="24.8" x2="52.98" y2="27.04" stroke-width="0.86" opacity="0.54"/><line x1="52.87" y1="28.43" x2="52.51" y2="30.13" stroke-width="0.87" opacity="0.39"/><line x1="52.51" y1="30.13" x2="51.94" y2="31.66" stroke-width="1.08" opacity="0.42"/><line x1="51.94" y1="31.66" x2="51.2" y2="32.65" stroke-width="1.05" opacity="0.55"/><line x1="51.2" y1="32.65" x2="51.05" y2="35.21" stroke-width="1.01" opacity="0.2"/><line x1="51.05" y1="35.21" x2="49.94" y2="36.52" stroke-width="0.76" opacity="0.27"/><line x1="48.94" y1="37.89" x2="48.99" y2="39.16" stroke-width="0.86" opacity="0.44"/><line x1="48.99" y1="39.16" x2="48.13" y2="41.26" stroke-width="1.26" opacity="0.51"/><line x1="48.13" y1="41.26" x2="47.21" y2="42.34" stroke-width="0.87" opacity="0.2"/><line x1="47.21" y1="42.34" x2="46.52" y2="43.76" stroke-width="1.3" opacity="0.37"/><line x1="46.52" y1="43.76" x2="46.77" y2="45.52" stroke-width="1" opacity="0.34"/><line x1="46.77" y1="45.52" x2="45.2" y2="47.29" stroke-width="0.64" opacity="0.33"/><line x1="45.2" y1="47.29" x2="45.27" y2="48.42" stroke-width="0.66" opacity="0.4"/><line x1="45.27" y1="48.42" x2="44.24" y2="49.68" stroke-width="0.75" opacity="0.34"/><line x1="44.24" y1="49.68" x2="43.5" y2="51.53" stroke-width="1.07" opacity="0.42"/><line x1="43.5" y1="51.53" x2="42.72" y2="53.39" stroke-width="0.89" opacity="0.42"/><line x1="42.16" y1="54.54" x2="42.05" y2="55.75" stroke-width="1.07" opacity="0.43"/><line x1="42.05" y1="55.75" x2="41.34" y2="57.41" stroke-width="1.29" opacity="0.47"/></g>
<g fill="#30e09a" filter="url(#gb)"><circle cx="13.86" cy="47.23" r="0.58" opacity="0.82"/><circle cx="16.67" cy="44.3" r="0.85" opacity="0.77"/><circle cx="17.05" cy="44.37" r="0.93" opacity="0.8"/><circle cx="21.34" cy="38.25" r="0.78" opacity="0.62"/><circle cx="37" cy="3" r="0.61" opacity="0.58"/><circle cx="25.7" cy="30.47" r="0.51" opacity="0.92"/><circle cx="37.5" cy="4.34" r="0.78" opacity="0.78"/><circle cx="27.68" cy="28.41" r="0.91" opacity="0.75"/><circle cx="14.65" cy="47.19" r="0.71" opacity="0.62"/><circle cx="36.59" cy="3.41" r="0.65" opacity="0.87"/><circle cx="25.62" cy="30.03" r="0.69" opacity="0.75"/><circle cx="24.91" cy="31.23" r="0.62" opacity="0.73"/><circle cx="31.77" cy="21.02" r="0.79" opacity="0.58"/><circle cx="37.04" cy="4.73" r="0.83" opacity="0.85"/><circle cx="10.95" cy="52.36" r="0.76" opacity="0.61"/><circle cx="31.92" cy="21.57" r="0.67" opacity="0.82"/><circle cx="8.77" cy="54.05" r="0.86" opacity="0.92"/><circle cx="20.32" cy="40.04" r="0.81" opacity="0.79"/><circle cx="20.66" cy="38.15" r="0.66" opacity="0.63"/><circle cx="35.4" cy="12.82" r="0.59" opacity="0.61"/><circle cx="37.46" cy="3.31" r="0.85" opacity="0.93"/><circle cx="10.78" cy="51.2" r="0.85" opacity="0.61"/><circle cx="29.92" cy="23.35" r="0.85" opacity="0.91"/><circle cx="35.81" cy="9.62" r="0.81" opacity="0.66"/><circle cx="27.9" cy="27.25" r="0.7" opacity="0.79"/><circle cx="33" cy="18.85" r="0.88" opacity="0.72"/><circle cx="9.31" cy="54.64" r="0.62" opacity="0.72"/><circle cx="25.87" cy="32.11" r="0.87" opacity="0.61"/><circle cx="34.14" cy="15.64" r="0.75" opacity="0.6"/><circle cx="13.47" cy="49.09" r="0.85" opacity="0.67"/><circle cx="9.98" cy="52.45" r="0.94" opacity="0.65"/><circle cx="27.77" cy="26.65" r="0.51" opacity="0.78"/><circle cx="34.97" cy="14.04" r="0.5" opacity="0.97"/><circle cx="13.46" cy="49.44" r="0.55" opacity="0.68"/><circle cx="45.44" cy="47.72" r="0.82" opacity="0.75"/><circle cx="54.74" cy="1.31" r="0.88" opacity="0.8"/><circle cx="47.51" cy="42.16" r="0.62" opacity="0.69"/><circle cx="55.04" cy="4.54" r="0.7" opacity="0.6"/><circle cx="43.61" cy="51.61" r="0.73" opacity="0.66"/><circle cx="54.64" cy="9.87" r="0.6" opacity="0.74"/><circle cx="48.3" cy="39.98" r="0.51" opacity="0.79"/><circle cx="52.55" cy="30.73" r="0.67" opacity="0.76"/><circle cx="50.2" cy="37.42" r="0.49" opacity="0.9"/><circle cx="54.19" cy="21.61" r="0.85" opacity="0.88"/><circle cx="53.28" cy="20.78" r="0.87" opacity="0.63"/><circle cx="46.25" cy="45.77" r="0.79" opacity="0.92"/><circle cx="55.47" cy="4.96" r="0.62" opacity="0.57"/><circle cx="53.85" cy="13.57" r="0.73" opacity="1"/><circle cx="50.91" cy="33" r="0.57" opacity="0.71"/><circle cx="46.78" cy="45.36" r="0.54" opacity="0.72"/><circle cx="44.17" cy="52" r="0.67" opacity="0.99"/><circle cx="52.05" cy="30.62" r="0.73" opacity="0.91"/><circle cx="46.88" cy="42.84" r="0.88" opacity="0.8"/><circle cx="53.38" cy="20.28" r="0.63" opacity="0.82"/><circle cx="53.53" cy="25.91" r="0.5" opacity="0.94"/><circle cx="54.53" cy="21.57" r="0.95" opacity="0.98"/><circle cx="55.23" cy="5.53" r="0.87" opacity="0.86"/><circle cx="41.9" cy="55.01" r="0.86" opacity="0.57"/><circle cx="3.89" cy="43.43" r="0.59" opacity="0.31"/><circle cx="31.48" cy="33.86" r="0.68" opacity="0.48"/><circle cx="20.7" cy="42.58" r="0.65" opacity="0.36"/><circle cx="22.14" cy="36.32" r="0.55" opacity="0.23"/><circle cx="40.77" cy="28.01" r="0.59" opacity="0.37"/><circle cx="14.62" cy="14.84" r="0.61" opacity="0.5"/><circle cx="15.93" cy="51.05" r="0.62" opacity="0.24"/><circle cx="47.23" cy="25.42" r="0.74" opacity="0.33"/><circle cx="5.02" cy="38.1" r="0.73" opacity="0.3"/><circle cx="19.35" cy="4.06" r="0.64" opacity="0.47"/><circle cx="47.15" cy="39.75" r="0.75" opacity="0.39"/><circle cx="43.97" cy="28.55" r="0.52" opacity="0.26"/><circle cx="7.84" cy="44.09" r="0.49" opacity="0.37"/><circle cx="20.53" cy="44.82" r="0.64" opacity="0.38"/><circle cx="4.93" cy="17.54" r="0.77" opacity="0.42"/><circle cx="29.18" cy="42.92" r="0.72" opacity="0.22"/><circle cx="53.83" cy="35.92" r="0.61" opacity="0.4"/><circle cx="19.19" cy="48.92" r="0.71" opacity="0.39"/><circle cx="10.22" cy="53.79" r="0.61" opacity="0.47"/><circle cx="3.23" cy="7.32" r="0.53" opacity="0.25"/><circle cx="17.98" cy="39.61" r="0.58" opacity="0.48"/><circle cx="49.56" cy="47.15" r="0.55" opacity="0.39"/></g>
</g>
<g transform="translate(420.4 718.4)" clip-path="url(#c12)">
<rect x="0" y="0" width="56.7" height="56.6" fill="#030a03"/>
<g filter="url(#gn0)"><rect x="-8" y="-8" width="72.7" height="72.6" fill="#fff" opacity="0.1"/><circle cx="9.81" cy="18.87" r="17.52" fill="#fff" opacity="0.15"/><circle cx="36.09" cy="34.63" r="16.64" fill="#fff" opacity="0.12"/><circle cx="51.85" cy="45.14" r="7.88" fill="#fff" opacity="0.3"/></g>
<g stroke="#38e048" stroke-linecap="round" filter="url(#gb)"><line x1="37.74" y1="-1.51" x2="37.93" y2="0.41" stroke-width="0.85" opacity="0.27"/><line x1="37.93" y1="0.41" x2="37.29" y2="2.28" stroke-width="0.86" opacity="0.39"/><line x1="37.29" y1="2.28" x2="36.79" y2="4.13" stroke-width="0.63" opacity="0.37"/><line x1="36.79" y1="4.13" x2="37.11" y2="5.26" stroke-width="0.89" opacity="0.51"/><line x1="36.45" y1="7.22" x2="36.26" y2="9.37" stroke-width="0.88" opacity="0.17"/><line x1="35" y1="10.41" x2="34.95" y2="12.84" stroke-width="1.06" opacity="0.21"/><line x1="34.95" y1="12.84" x2="34.66" y2="14.41" stroke-width="1.1" opacity="0.25"/><line x1="34.66" y1="14.41" x2="33.35" y2="15.49" stroke-width="0.64" opacity="0.21"/><line x1="33.35" y1="15.49" x2="33.25" y2="17.11" stroke-width="1.1" opacity="0.41"/><line x1="33.25" y1="17.11" x2="32.29" y2="19.33" stroke-width="0.95" opacity="0.36"/><line x1="32.29" y1="19.33" x2="31.86" y2="20.36" stroke-width="1.12" opacity="0.33"/><line x1="31.86" y1="20.36" x2="30.8" y2="22.3" stroke-width="0.68" opacity="0.35"/><line x1="30.8" y1="22.3" x2="30.24" y2="23.99" stroke-width="0.78" opacity="0.26"/><line x1="28.9" y1="25.8" x2="28.49" y2="26.64" stroke-width="0.55" opacity="0.29"/><line x1="26.97" y1="28.42" x2="26.01" y2="30.49" stroke-width="1.01" opacity="0.41"/><line x1="24.69" y1="32" x2="23.8" y2="33.57" stroke-width="0.71" opacity="0.49"/><line x1="23.8" y1="33.57" x2="23.05" y2="34.4" stroke-width="1.03" opacity="0.37"/><line x1="23.05" y1="34.4" x2="22.61" y2="36.3" stroke-width="0.91" opacity="0.36"/><line x1="22.61" y1="36.3" x2="21.55" y2="37.77" stroke-width="0.67" opacity="0.18"/><line x1="21.55" y1="37.77" x2="19.68" y2="39.6" stroke-width="0.64" opacity="0.42"/><line x1="19.68" y1="39.6" x2="18.58" y2="41.2" stroke-width="0.64" opacity="0.48"/><line x1="18.58" y1="41.2" x2="18.1" y2="42.85" stroke-width="0.77" opacity="0.43"/><line x1="18.1" y1="42.85" x2="16.27" y2="44.45" stroke-width="0.95" opacity="0.43"/><line x1="16.27" y1="44.45" x2="15.51" y2="45.62" stroke-width="0.9" opacity="0.24"/><line x1="15.51" y1="45.62" x2="15.11" y2="47.47" stroke-width="0.96" opacity="0.34"/><line x1="15.11" y1="47.47" x2="13.26" y2="48.02" stroke-width="1.17" opacity="0.5"/><line x1="13.26" y1="48.02" x2="12.89" y2="49.8" stroke-width="0.85" opacity="0.4"/><line x1="11.05" y1="52.9" x2="10" y2="54.17" stroke-width="0.93" opacity="0.51"/><line x1="10" y1="54.17" x2="8.48" y2="54.85" stroke-width="0.95" opacity="0.19"/><line x1="8.48" y1="54.85" x2="6.99" y2="56.55" stroke-width="0.57" opacity="0.23"/><line x1="6.99" y1="56.55" x2="6.31" y2="57.41" stroke-width="1.04" opacity="0.18"/><line x1="55.11" y1="1.34" x2="54.77" y2="2.86" stroke-width="0.91" opacity="0.31"/><line x1="54.77" y1="2.86" x2="54.64" y2="4.19" stroke-width="1.05" opacity="0.39"/><line x1="54.64" y1="4.19" x2="54.74" y2="6" stroke-width="0.95" opacity="0.24"/><line x1="54.65" y1="8.37" x2="54.22" y2="9.93" stroke-width="1.19" opacity="0.22"/><line x1="54.22" y1="9.93" x2="54.2" y2="11.81" stroke-width="1.15" opacity="0.54"/><line x1="54.74" y1="15.1" x2="53.76" y2="16.45" stroke-width="1.02" opacity="0.21"/><line x1="53.76" y1="16.45" x2="54.33" y2="18.71" stroke-width="1.13" opacity="0.36"/><line x1="54.33" y1="18.71" x2="53.62" y2="19.66" stroke-width="0.87" opacity="0.52"/><line x1="53.62" y1="19.66" x2="54.16" y2="22.13" stroke-width="0.88" opacity="0.33"/><line x1="54.16" y1="22.13" x2="53.28" y2="22.86" stroke-width="1.22" opacity="0.21"/><line x1="53.28" y1="22.86" x2="53.88" y2="24.8" stroke-width="1.18" opacity="0.46"/><line x1="53.88" y1="24.8" x2="52.98" y2="27.04" stroke-width="0.86" opacity="0.54"/><line x1="52.87" y1="28.43" x2="52.51" y2="30.13" stroke-width="0.87" opacity="0.39"/><line x1="52.51" y1="30.13" x2="51.94" y2="31.66" stroke-width="1.08" opacity="0.42"/><line x1="51.94" y1="31.66" x2="51.2" y2="32.65" stroke-width="1.05" opacity="0.55"/><line x1="51.2" y1="32.65" x2="51.05" y2="35.21" stroke-width="1.01" opacity="0.2"/><line x1="51.05" y1="35.21" x2="49.94" y2="36.52" stroke-width="0.76" opacity="0.27"/><line x1="48.94" y1="37.89" x2="48.99" y2="39.16" stroke-width="0.86" opacity="0.44"/><line x1="48.99" y1="39.16" x2="48.13" y2="41.26" stroke-width="1.26" opacity="0.51"/><line x1="48.13" y1="41.26" x2="47.21" y2="42.34" stroke-width="0.87" opacity="0.2"/><line x1="47.21" y1="42.34" x2="46.52" y2="43.76" stroke-width="1.3" opacity="0.37"/><line x1="46.52" y1="43.76" x2="46.77" y2="45.52" stroke-width="1" opacity="0.34"/><line x1="46.77" y1="45.52" x2="45.2" y2="47.29" stroke-width="0.64" opacity="0.33"/><line x1="45.2" y1="47.29" x2="45.27" y2="48.42" stroke-width="0.66" opacity="0.4"/><line x1="45.27" y1="48.42" x2="44.24" y2="49.68" stroke-width="0.75" opacity="0.34"/><line x1="44.24" y1="49.68" x2="43.5" y2="51.53" stroke-width="1.07" opacity="0.42"/><line x1="43.5" y1="51.53" x2="42.72" y2="53.39" stroke-width="0.89" opacity="0.42"/><line x1="42.16" y1="54.54" x2="42.05" y2="55.75" stroke-width="1.07" opacity="0.43"/><line x1="42.05" y1="55.75" x2="41.34" y2="57.41" stroke-width="1.29" opacity="0.47"/></g>
<g fill="#30dd30" filter="url(#gb)"><circle cx="13.86" cy="47.23" r="0.58" opacity="0.82"/><circle cx="16.67" cy="44.3" r="0.85" opacity="0.77"/><circle cx="17.05" cy="44.37" r="0.93" opacity="0.8"/><circle cx="21.34" cy="38.25" r="0.78" opacity="0.62"/><circle cx="37" cy="3" r="0.61" opacity="0.58"/><circle cx="25.7" cy="30.47" r="0.51" opacity="0.92"/><circle cx="37.5" cy="4.34" r="0.78" opacity="0.78"/><circle cx="27.68" cy="28.41" r="0.91" opacity="0.75"/><circle cx="14.65" cy="47.19" r="0.71" opacity="0.62"/><circle cx="36.59" cy="3.41" r="0.65" opacity="0.87"/><circle cx="25.62" cy="30.03" r="0.69" opacity="0.75"/><circle cx="24.91" cy="31.23" r="0.62" opacity="0.73"/><circle cx="31.77" cy="21.02" r="0.79" opacity="0.58"/><circle cx="37.04" cy="4.73" r="0.83" opacity="0.85"/><circle cx="10.95" cy="52.36" r="0.76" opacity="0.61"/><circle cx="31.92" cy="21.57" r="0.67" opacity="0.82"/><circle cx="8.77" cy="54.05" r="0.86" opacity="0.92"/><circle cx="20.32" cy="40.04" r="0.81" opacity="0.79"/><circle cx="20.66" cy="38.15" r="0.66" opacity="0.63"/><circle cx="35.4" cy="12.82" r="0.59" opacity="0.61"/><circle cx="37.46" cy="3.31" r="0.85" opacity="0.93"/><circle cx="10.78" cy="51.2" r="0.85" opacity="0.61"/><circle cx="29.92" cy="23.35" r="0.85" opacity="0.91"/><circle cx="35.81" cy="9.62" r="0.81" opacity="0.66"/><circle cx="27.9" cy="27.25" r="0.7" opacity="0.79"/><circle cx="33" cy="18.85" r="0.88" opacity="0.72"/><circle cx="9.31" cy="54.64" r="0.62" opacity="0.72"/><circle cx="25.87" cy="32.11" r="0.87" opacity="0.61"/><circle cx="34.14" cy="15.64" r="0.75" opacity="0.6"/><circle cx="13.47" cy="49.09" r="0.85" opacity="0.67"/><circle cx="9.98" cy="52.45" r="0.94" opacity="0.65"/><circle cx="27.77" cy="26.65" r="0.51" opacity="0.78"/><circle cx="34.97" cy="14.04" r="0.5" opacity="0.97"/><circle cx="13.46" cy="49.44" r="0.55" opacity="0.68"/><circle cx="45.44" cy="47.72" r="0.82" opacity="0.75"/><circle cx="54.74" cy="1.31" r="0.88" opacity="0.8"/><circle cx="47.51" cy="42.16" r="0.62" opacity="0.69"/><circle cx="55.04" cy="4.54" r="0.7" opacity="0.6"/><circle cx="43.61" cy="51.61" r="0.73" opacity="0.66"/><circle cx="54.64" cy="9.87" r="0.6" opacity="0.74"/><circle cx="48.3" cy="39.98" r="0.51" opacity="0.79"/><circle cx="52.55" cy="30.73" r="0.67" opacity="0.76"/><circle cx="50.2" cy="37.42" r="0.49" opacity="0.9"/><circle cx="54.19" cy="21.61" r="0.85" opacity="0.88"/><circle cx="53.28" cy="20.78" r="0.87" opacity="0.63"/><circle cx="46.25" cy="45.77" r="0.79" opacity="0.92"/><circle cx="55.47" cy="4.96" r="0.62" opacity="0.57"/><circle cx="53.85" cy="13.57" r="0.73" opacity="1"/><circle cx="50.91" cy="33" r="0.57" opacity="0.71"/><circle cx="46.78" cy="45.36" r="0.54" opacity="0.72"/><circle cx="44.17" cy="52" r="0.67" opacity="0.99"/><circle cx="52.05" cy="30.62" r="0.73" opacity="0.91"/><circle cx="46.88" cy="42.84" r="0.88" opacity="0.8"/><circle cx="53.38" cy="20.28" r="0.63" opacity="0.82"/><circle cx="53.53" cy="25.91" r="0.5" opacity="0.94"/><circle cx="54.53" cy="21.57" r="0.95" opacity="0.98"/><circle cx="55.23" cy="5.53" r="0.87" opacity="0.86"/><circle cx="41.9" cy="55.01" r="0.86" opacity="0.57"/><circle cx="3.89" cy="43.43" r="0.59" opacity="0.31"/><circle cx="31.48" cy="33.86" r="0.68" opacity="0.48"/><circle cx="20.7" cy="42.58" r="0.65" opacity="0.36"/><circle cx="22.14" cy="36.32" r="0.55" opacity="0.23"/><circle cx="40.77" cy="28.01" r="0.59" opacity="0.37"/><circle cx="14.62" cy="14.84" r="0.61" opacity="0.5"/><circle cx="15.93" cy="51.05" r="0.62" opacity="0.24"/><circle cx="47.23" cy="25.42" r="0.74" opacity="0.33"/><circle cx="5.02" cy="38.1" r="0.73" opacity="0.3"/><circle cx="19.35" cy="4.06" r="0.64" opacity="0.47"/><circle cx="47.15" cy="39.75" r="0.75" opacity="0.39"/><circle cx="43.97" cy="28.55" r="0.52" opacity="0.26"/><circle cx="7.84" cy="44.09" r="0.49" opacity="0.37"/><circle cx="20.53" cy="44.82" r="0.64" opacity="0.38"/><circle cx="4.93" cy="17.54" r="0.77" opacity="0.42"/><circle cx="29.18" cy="42.92" r="0.72" opacity="0.22"/><circle cx="53.83" cy="35.92" r="0.61" opacity="0.4"/><circle cx="19.19" cy="48.92" r="0.71" opacity="0.39"/><circle cx="10.22" cy="53.79" r="0.61" opacity="0.47"/><circle cx="3.23" cy="7.32" r="0.53" opacity="0.25"/><circle cx="17.98" cy="39.61" r="0.58" opacity="0.48"/><circle cx="49.56" cy="47.15" r="0.55" opacity="0.39"/></g>
</g>
<g transform="translate(13.9 777.3)" clip-path="url(#c13)">
<rect x="0" y="0" width="56.7" height="56.6" fill="#010108"/>
<g fill="#2028d8"><circle cx="14.69" cy="38.79" r="0.66" opacity="0.92"/><circle cx="10.53" cy="13.05" r="0.49" opacity="0.61"/><circle cx="41.62" cy="7.37" r="0.61" opacity="0.61"/><circle cx="16.71" cy="24.43" r="0.7" opacity="0.8"/><circle cx="0.82" cy="15.61" r="0.49" opacity="0.94"/><circle cx="45.91" cy="45.62" r="0.7" opacity="0.87"/><circle cx="53.83" cy="44.93" r="0.53" opacity="0.92"/><circle cx="27.6" cy="42.73" r="0.62" opacity="0.71"/><circle cx="20.65" cy="24.33" r="0.54" opacity="0.56"/><circle cx="46.47" cy="45.18" r="0.75" opacity="0.85"/><circle cx="31.42" cy="42.36" r="0.49" opacity="0.84"/><circle cx="25.14" cy="10" r="0.51" opacity="0.76"/><circle cx="14.36" cy="26.01" r="0.63" opacity="0.7"/><circle cx="7.42" cy="27.78" r="0.52" opacity="0.62"/><circle cx="11.03" cy="20.74" r="0.47" opacity="0.83"/><circle cx="54.07" cy="22.06" r="0.67" opacity="0.97"/><circle cx="2.45" cy="8.02" r="0.69" opacity="0.92"/><circle cx="36.23" cy="9.04" r="0.57" opacity="0.93"/><circle cx="50.25" cy="45.46" r="0.51" opacity="0.93"/><circle cx="21.25" cy="40.55" r="0.49" opacity="0.99"/><circle cx="34.22" cy="40.91" r="0.51" opacity="0.81"/><circle cx="32.94" cy="33.46" r="0.56" opacity="0.86"/><circle cx="19.35" cy="16.72" r="0.5" opacity="0.84"/><circle cx="6.37" cy="12.77" r="0.47" opacity="0.82"/><circle cx="31.53" cy="30.75" r="0.46" opacity="0.72"/><circle cx="19.45" cy="5.24" r="0.45" opacity="1"/><circle cx="6.89" cy="17.07" r="0.53" opacity="0.8"/><circle cx="4.39" cy="26.6" r="0.56" opacity="0.92"/><circle cx="0.32" cy="18.95" r="0.6" opacity="0.98"/><circle cx="29.3" cy="26.84" r="0.65" opacity="0.65"/><circle cx="1.8" cy="28.38" r="0.72" opacity="0.87"/><circle cx="14.65" cy="38.72" r="0.7" opacity="0.63"/><circle cx="33.34" cy="20.12" r="0.52" opacity="0.64"/><circle cx="11.56" cy="19.86" r="0.46" opacity="0.7"/><circle cx="4.92" cy="42.91" r="0.63" opacity="0.5"/><circle cx="43.88" cy="10.78" r="0.59" opacity="0.78"/><circle cx="18.87" cy="16.38" r="0.58" opacity="0.57"/><circle cx="48.96" cy="6.34" r="0.7" opacity="0.61"/><circle cx="17.2" cy="21.98" r="0.46" opacity="0.56"/><circle cx="20.47" cy="25.01" r="0.71" opacity="0.99"/><circle cx="2.47" cy="30.28" r="0.49" opacity="0.9"/></g>
<path d="M30.74 -1.17L27.24 8.46L21.98 16.34L14.98 23.35L7.09 29.48L-0.79 34.3L-0.79 47L8.85 40.87L18.48 33.86L27.24 25.98L35.12 17.22L41.25 8.46L45.63 -1.17Z M57.9 14.15L52.64 24.23L47.39 32.99L41.25 41.74L36 50.5L32.5 57.51L52.64 57.51L57.9 48.75Z" fill="#0a0c6a" stroke="#0a0c6a" stroke-width="0.8" filter="url(#bb)" opacity="0.7"/>
<path d="M30.74 -1.17L27.24 8.46L21.98 16.34L14.98 23.35L7.09 29.48L-0.79 34.3L-0.79 47L8.85 40.87L18.48 33.86L27.24 25.98L35.12 17.22L41.25 8.46L45.63 -1.17Z M57.9 14.15L52.64 24.23L47.39 32.99L41.25 41.74L36 50.5L32.5 57.51L52.64 57.51L57.9 48.75Z" fill="#fff" stroke="#fff" stroke-width="1.3" stroke-linejoin="round" filter="url(#sp1)"/>
<g fill="#30e09a" filter="url(#gb)"><circle cx="56.58" cy="5.83" r="1.06" opacity="1"/><circle cx="56.14" cy="11.09" r="0.96" opacity="1"/><circle cx="51.76" cy="15.47" r="0.96" opacity="0.9"/><circle cx="43.88" cy="20.29" r="1.16" opacity="1"/><circle cx="39.5" cy="11.53" r="0.87" opacity="0.9"/><circle cx="38.63" cy="43.5" r="0.87" opacity="0.8"/><circle cx="32.93" cy="51.82" r="0.96" opacity="0.9"/><circle cx="46.51" cy="31.23" r="0.58" opacity="0.5"/></g>
</g>
<g transform="translate(71.6 777.3)" clip-path="url(#c13)">
<rect x="0" y="0" width="56.7" height="56.6" fill="#030a03"/>
<g fill="#30dd30" filter="url(#gb)"><circle cx="56.58" cy="5.83" r="1.06" opacity="1"/><circle cx="56.14" cy="11.09" r="0.96" opacity="1"/><circle cx="51.76" cy="15.47" r="0.96" opacity="0.9"/><circle cx="43.88" cy="20.29" r="1.16" opacity="1"/><circle cx="39.5" cy="11.53" r="0.87" opacity="0.9"/><circle cx="38.63" cy="43.5" r="0.87" opacity="0.8"/><circle cx="32.93" cy="51.82" r="0.96" opacity="0.9"/><circle cx="46.51" cy="31.23" r="0.58" opacity="0.5"/></g>
</g>
<g transform="translate(130.17 777.3)" clip-path="url(#c14)">
<rect x="0" y="0" width="56.7" height="56.6" fill="#010108"/>
<g fill="#2028d8"><circle cx="6.06" cy="39.77" r="0.65" opacity="0.97"/><circle cx="15.37" cy="14.48" r="0.67" opacity="0.83"/><circle cx="17.18" cy="38.73" r="0.57" opacity="0.89"/><circle cx="6.71" cy="12.64" r="0.72" opacity="0.68"/><circle cx="14.76" cy="45.52" r="0.64" opacity="0.57"/><circle cx="31.26" cy="37.58" r="0.5" opacity="0.83"/><circle cx="6.98" cy="19.08" r="0.47" opacity="0.6"/><circle cx="55.45" cy="22.85" r="0.75" opacity="0.72"/><circle cx="34.45" cy="49.39" r="0.66" opacity="0.56"/><circle cx="33.4" cy="35.87" r="0.5" opacity="0.55"/><circle cx="49.6" cy="29.08" r="0.51" opacity="0.73"/><circle cx="12.37" cy="45.18" r="0.6" opacity="0.55"/><circle cx="46.39" cy="5.07" r="0.53" opacity="0.51"/><circle cx="41.98" cy="6.45" r="0.61" opacity="0.55"/><circle cx="27.24" cy="38.79" r="0.61" opacity="0.73"/><circle cx="27.49" cy="24.74" r="0.63" opacity="0.55"/><circle cx="26.91" cy="13.37" r="0.71" opacity="0.97"/><circle cx="3.77" cy="8.11" r="0.66" opacity="0.79"/><circle cx="1.08" cy="39.9" r="0.73" opacity="0.71"/><circle cx="19.7" cy="32.23" r="0.73" opacity="0.63"/><circle cx="17.14" cy="10.68" r="0.64" opacity="0.73"/><circle cx="14.52" cy="21.95" r="0.46" opacity="0.66"/><circle cx="55.73" cy="33.17" r="0.53" opacity="0.97"/><circle cx="20.31" cy="14.24" r="0.46" opacity="0.57"/><circle cx="11.29" cy="13.02" r="0.71" opacity="0.63"/><circle cx="14.1" cy="34.18" r="0.73" opacity="0.65"/><circle cx="43.18" cy="20.87" r="0.62" opacity="0.8"/><circle cx="53.43" cy="42.86" r="0.6" opacity="0.92"/><circle cx="20.78" cy="21.74" r="0.74" opacity="0.77"/><circle cx="43.85" cy="17.8" r="0.72" opacity="0.81"/><circle cx="14.02" cy="52.84" r="0.59" opacity="0.67"/><circle cx="14.9" cy="5.84" r="0.51" opacity="0.85"/><circle cx="7.97" cy="14.64" r="0.58" opacity="0.77"/><circle cx="21.57" cy="44.44" r="0.53" opacity="0.68"/><circle cx="24.1" cy="7.29" r="0.52" opacity="0.57"/><circle cx="41.13" cy="8.3" r="0.65" opacity="0.61"/><circle cx="36.68" cy="37.16" r="0.56" opacity="0.97"/><circle cx="37.24" cy="31.54" r="0.46" opacity="0.7"/><circle cx="15.09" cy="26.59" r="0.73" opacity="0.93"/><circle cx="3.51" cy="38.5" r="0.73" opacity="0.77"/></g>
<path d="M22.6 -1.17L18.22 10.21L12.96 19.85L6.83 28.61L-1.05 36.49L-1.05 52.26L5.96 45.25L12.96 37.37L19.97 28.61L26.98 18.97L33.11 9.34L37.49 -1.17Z M52.38 -1.17L51.5 11.09L48 22.48L42.74 32.99L36.61 43.5L30.48 53.13L27.85 57.51L48.87 57.51L53.25 40.87L57.63 28.61L57.63 -1.17Z" fill="#0a0c6a" stroke="#0a0c6a" stroke-width="0.8" filter="url(#bb)" opacity="0.8"/>
<path d="M22.6 -1.17L18.22 10.21L12.96 19.85L6.83 28.61L-1.05 36.49L-1.05 52.26L5.96 45.25L12.96 37.37L19.97 28.61L26.98 18.97L33.11 9.34L37.49 -1.17Z M52.38 -1.17L51.5 11.09L48 22.48L42.74 32.99L36.61 43.5L30.48 53.13L27.85 57.51L48.87 57.51L53.25 40.87L57.63 28.61L57.63 -1.17Z" fill="#fff" stroke="#fff" stroke-width="1.3" stroke-linejoin="round" filter="url(#sp2)"/>
<g fill="#30e09a" filter="url(#gb)"><circle cx="12.09" cy="6.01" r="0.72" opacity="0.95"/><circle cx="8.15" cy="18.97" r="0.72" opacity="0.95"/><circle cx="3.33" cy="22.48" r="0.72" opacity="0.95"/><circle cx="0.7" cy="3.21" r="0.72" opacity="0.95"/><circle cx="29.6" cy="13.72" r="0.72" opacity="0.95"/><circle cx="34.86" cy="8.9" r="0.72" opacity="0.95"/><circle cx="38.8" cy="3.21" r="0.72" opacity="0.95"/><circle cx="50.19" cy="3.64" r="0.72" opacity="0.95"/><circle cx="40.55" cy="17.66" r="0.72" opacity="0.95"/><circle cx="35.3" cy="20.72" r="0.72" opacity="0.95"/><circle cx="46.25" cy="15.47" r="0.72" opacity="0.95"/><circle cx="28.29" cy="25.1" r="0.72" opacity="0.95"/><circle cx="22.6" cy="25.54" r="0.72" opacity="0.95"/><circle cx="28.73" cy="29.48" r="0.72" opacity="0.95"/><circle cx="26.1" cy="32.11" r="0.72" opacity="0.95"/><circle cx="41.43" cy="26.42" r="0.72" opacity="0.95"/><circle cx="46.25" cy="25.54" r="0.72" opacity="0.95"/><circle cx="16.9" cy="34.74" r="0.72" opacity="0.95"/><circle cx="17.78" cy="37.37" r="0.72" opacity="0.95"/><circle cx="26.1" cy="36.05" r="0.72" opacity="0.95"/><circle cx="40.99" cy="36.05" r="0.72" opacity="0.95"/><circle cx="37.93" cy="37.8" r="0.72" opacity="0.95"/><circle cx="10.34" cy="44.81" r="0.72" opacity="0.95"/><circle cx="21.28" cy="47.44" r="0.72" opacity="0.95"/><circle cx="27.85" cy="50.07" r="0.72" opacity="0.95"/><circle cx="34.86" cy="48.31" r="0.72" opacity="0.95"/><circle cx="0.7" cy="52.26" r="0.72" opacity="0.95"/><circle cx="9.46" cy="52.69" r="0.72" opacity="0.95"/><circle cx="10.77" cy="55.32" r="0.72" opacity="0.95"/><circle cx="16.03" cy="54.45" r="0.72" opacity="0.95"/><circle cx="3.33" cy="56.2" r="0.72" opacity="0.95"/><circle cx="47.12" cy="54.01" r="0.72" opacity="0.95"/><circle cx="54.57" cy="39.56" r="0.72" opacity="0.95"/><circle cx="51.06" cy="10.21" r="0.72" opacity="0.95"/><circle cx="31.1" cy="7.49" r="0.47" opacity="0.57"/><circle cx="28.43" cy="9.88" r="0.66" opacity="0.38"/><circle cx="37.05" cy="40.34" r="0.56" opacity="0.72"/><circle cx="31.8" cy="46.12" r="0.39" opacity="0.32"/><circle cx="36.1" cy="32.4" r="0.57" opacity="0.68"/><circle cx="23.69" cy="35.84" r="0.53" opacity="0.61"/><circle cx="16.69" cy="53.37" r="0.52" opacity="0.7"/><circle cx="38.5" cy="16.99" r="0.41" opacity="0.33"/><circle cx="24.96" cy="27.3" r="0.44" opacity="0.6"/><circle cx="17.95" cy="40.22" r="0.6" opacity="0.73"/><circle cx="54.52" cy="7.79" r="0.49" opacity="0.58"/><circle cx="18.31" cy="26.32" r="0.46" opacity="0.42"/><circle cx="6.04" cy="16.59" r="0.5" opacity="0.61"/><circle cx="14.4" cy="48.33" r="0.43" opacity="0.46"/><circle cx="32.58" cy="17.83" r="0.61" opacity="0.55"/><circle cx="29.1" cy="28.1" r="0.47" opacity="0.31"/><circle cx="52.86" cy="28.47" r="0.66" opacity="0.41"/><circle cx="20.17" cy="3.37" r="0.53" opacity="0.74"/><circle cx="36.8" cy="26.55" r="0.54" opacity="0.72"/><circle cx="24.48" cy="49.27" r="0.6" opacity="0.68"/><circle cx="20.89" cy="22.68" r="0.55" opacity="0.4"/><circle cx="31.23" cy="4.64" r="0.53" opacity="0.68"/><circle cx="16.14" cy="55.16" r="0.58" opacity="0.36"/><circle cx="54.51" cy="22.31" r="0.62" opacity="0.47"/><circle cx="52.51" cy="42.24" r="0.44" opacity="0.55"/><circle cx="28.3" cy="3.08" r="0.42" opacity="0.47"/><circle cx="26.84" cy="25.8" r="0.56" opacity="0.56"/><circle cx="18.8" cy="34.41" r="0.43" opacity="0.8"/><circle cx="41.5" cy="17.09" r="0.48" opacity="0.71"/><circle cx="30.08" cy="39.69" r="0.47" opacity="0.71"/><circle cx="21.03" cy="37.76" r="0.67" opacity="0.59"/><circle cx="44.67" cy="40.6" r="0.58" opacity="0.31"/><circle cx="26.89" cy="53.94" r="0.61" opacity="0.69"/><circle cx="32.58" cy="40.39" r="0.55" opacity="0.39"/><circle cx="35.41" cy="34.78" r="0.63" opacity="0.37"/><circle cx="38.26" cy="2.32" r="0.66" opacity="0.35"/></g>
</g>
<g transform="translate(187.87 777.3)" clip-path="url(#c14)">
<rect x="0" y="0" width="56.7" height="56.6" fill="#030a03"/>
<g fill="#30dd30" filter="url(#gb)"><circle cx="12.09" cy="6.01" r="0.72" opacity="0.95"/><circle cx="8.15" cy="18.97" r="0.72" opacity="0.95"/><circle cx="3.33" cy="22.48" r="0.72" opacity="0.95"/><circle cx="0.7" cy="3.21" r="0.72" opacity="0.95"/><circle cx="29.6" cy="13.72" r="0.72" opacity="0.95"/><circle cx="34.86" cy="8.9" r="0.72" opacity="0.95"/><circle cx="38.8" cy="3.21" r="0.72" opacity="0.95"/><circle cx="50.19" cy="3.64" r="0.72" opacity="0.95"/><circle cx="40.55" cy="17.66" r="0.72" opacity="0.95"/><circle cx="35.3" cy="20.72" r="0.72" opacity="0.95"/><circle cx="46.25" cy="15.47" r="0.72" opacity="0.95"/><circle cx="28.29" cy="25.1" r="0.72" opacity="0.95"/><circle cx="22.6" cy="25.54" r="0.72" opacity="0.95"/><circle cx="28.73" cy="29.48" r="0.72" opacity="0.95"/><circle cx="26.1" cy="32.11" r="0.72" opacity="0.95"/><circle cx="41.43" cy="26.42" r="0.72" opacity="0.95"/><circle cx="46.25" cy="25.54" r="0.72" opacity="0.95"/><circle cx="16.9" cy="34.74" r="0.72" opacity="0.95"/><circle cx="17.78" cy="37.37" r="0.72" opacity="0.95"/><circle cx="26.1" cy="36.05" r="0.72" opacity="0.95"/><circle cx="40.99" cy="36.05" r="0.72" opacity="0.95"/><circle cx="37.93" cy="37.8" r="0.72" opacity="0.95"/><circle cx="10.34" cy="44.81" r="0.72" opacity="0.95"/><circle cx="21.28" cy="47.44" r="0.72" opacity="0.95"/><circle cx="27.85" cy="50.07" r="0.72" opacity="0.95"/><circle cx="34.86" cy="48.31" r="0.72" opacity="0.95"/><circle cx="0.7" cy="52.26" r="0.72" opacity="0.95"/><circle cx="9.46" cy="52.69" r="0.72" opacity="0.95"/><circle cx="10.77" cy="55.32" r="0.72" opacity="0.95"/><circle cx="16.03" cy="54.45" r="0.72" opacity="0.95"/><circle cx="3.33" cy="56.2" r="0.72" opacity="0.95"/><circle cx="47.12" cy="54.01" r="0.72" opacity="0.95"/><circle cx="54.57" cy="39.56" r="0.72" opacity="0.95"/><circle cx="51.06" cy="10.21" r="0.72" opacity="0.95"/><circle cx="31.1" cy="7.49" r="0.47" opacity="0.57"/><circle cx="28.43" cy="9.88" r="0.66" opacity="0.38"/><circle cx="37.05" cy="40.34" r="0.56" opacity="0.72"/><circle cx="31.8" cy="46.12" r="0.39" opacity="0.32"/><circle cx="36.1" cy="32.4" r="0.57" opacity="0.68"/><circle cx="23.69" cy="35.84" r="0.53" opacity="0.61"/><circle cx="16.69" cy="53.37" r="0.52" opacity="0.7"/><circle cx="38.5" cy="16.99" r="0.41" opacity="0.33"/><circle cx="24.96" cy="27.3" r="0.44" opacity="0.6"/><circle cx="17.95" cy="40.22" r="0.6" opacity="0.73"/><circle cx="54.52" cy="7.79" r="0.49" opacity="0.58"/><circle cx="18.31" cy="26.32" r="0.46" opacity="0.42"/><circle cx="6.04" cy="16.59" r="0.5" opacity="0.61"/><circle cx="14.4" cy="48.33" r="0.43" opacity="0.46"/><circle cx="32.58" cy="17.83" r="0.61" opacity="0.55"/><circle cx="29.1" cy="28.1" r="0.47" opacity="0.31"/><circle cx="52.86" cy="28.47" r="0.66" opacity="0.41"/><circle cx="20.17" cy="3.37" r="0.53" opacity="0.74"/><circle cx="36.8" cy="26.55" r="0.54" opacity="0.72"/><circle cx="24.48" cy="49.27" r="0.6" opacity="0.68"/><circle cx="20.89" cy="22.68" r="0.55" opacity="0.4"/><circle cx="31.23" cy="4.64" r="0.53" opacity="0.68"/><circle cx="16.14" cy="55.16" r="0.58" opacity="0.36"/><circle cx="54.51" cy="22.31" r="0.62" opacity="0.47"/><circle cx="52.51" cy="42.24" r="0.44" opacity="0.55"/><circle cx="28.3" cy="3.08" r="0.42" opacity="0.47"/><circle cx="26.84" cy="25.8" r="0.56" opacity="0.56"/><circle cx="18.8" cy="34.41" r="0.43" opacity="0.8"/><circle cx="41.5" cy="17.09" r="0.48" opacity="0.71"/><circle cx="30.08" cy="39.69" r="0.47" opacity="0.71"/><circle cx="21.03" cy="37.76" r="0.67" opacity="0.59"/><circle cx="44.67" cy="40.6" r="0.58" opacity="0.31"/><circle cx="26.89" cy="53.94" r="0.61" opacity="0.69"/><circle cx="32.58" cy="40.39" r="0.55" opacity="0.39"/><circle cx="35.41" cy="34.78" r="0.63" opacity="0.37"/><circle cx="38.26" cy="2.32" r="0.66" opacity="0.35"/></g>
</g>
<g transform="translate(246.43 777.3)" clip-path="url(#c15)">
<rect x="0" y="0" width="56.7" height="56.6" fill="#010108"/>
<g fill="#2028d8"><circle cx="54.73" cy="0.66" r="0.67" opacity="0.58"/><circle cx="55.93" cy="0.96" r="0.71" opacity="0.84"/><circle cx="48.61" cy="56.59" r="0.52" opacity="0.67"/><circle cx="40.15" cy="15.88" r="0.53" opacity="0.61"/><circle cx="48.64" cy="49.5" r="0.69" opacity="0.61"/><circle cx="52.44" cy="28.94" r="0.52" opacity="0.73"/><circle cx="23.81" cy="4.47" r="0.62" opacity="0.68"/><circle cx="32.3" cy="52.65" r="0.64" opacity="0.7"/><circle cx="48.96" cy="56.33" r="0.6" opacity="0.97"/><circle cx="1.06" cy="7.94" r="0.5" opacity="0.97"/><circle cx="39.15" cy="40.7" r="0.54" opacity="0.75"/><circle cx="50.3" cy="5.65" r="0.48" opacity="0.52"/><circle cx="26.57" cy="47.57" r="0.62" opacity="0.7"/><circle cx="28.47" cy="10.14" r="0.73" opacity="0.68"/><circle cx="13.34" cy="17.62" r="0.7" opacity="0.66"/><circle cx="51.3" cy="19.03" r="0.58" opacity="0.54"/><circle cx="51.45" cy="45.06" r="0.59" opacity="0.56"/><circle cx="27.92" cy="21.29" r="0.7" opacity="0.96"/><circle cx="42.02" cy="16.26" r="0.46" opacity="0.95"/><circle cx="53.55" cy="8.96" r="0.6" opacity="0.74"/><circle cx="55.36" cy="2.44" r="0.47" opacity="0.92"/><circle cx="32.3" cy="26.17" r="0.68" opacity="0.8"/><circle cx="39.26" cy="14.47" r="0.48" opacity="0.5"/><circle cx="18.89" cy="36.71" r="0.56" opacity="0.67"/><circle cx="35.07" cy="39.91" r="0.63" opacity="0.66"/><circle cx="46.59" cy="45.32" r="0.72" opacity="0.95"/><circle cx="0.85" cy="37.87" r="0.55" opacity="0.69"/><circle cx="29.38" cy="8.14" r="0.52" opacity="0.99"/><circle cx="18.77" cy="51.68" r="0.66" opacity="0.66"/><circle cx="18.07" cy="34.24" r="0.66" opacity="0.67"/><circle cx="3.35" cy="9.75" r="0.71" opacity="0.86"/><circle cx="6.14" cy="47.27" r="0.62" opacity="0.67"/><circle cx="50.69" cy="7.29" r="0.48" opacity="0.67"/><circle cx="41.83" cy="31" r="0.6" opacity="0.95"/><circle cx="22.34" cy="44.61" r="0.45" opacity="0.89"/><circle cx="8.82" cy="37.11" r="0.7" opacity="0.83"/><circle cx="32.82" cy="31.13" r="0.68" opacity="0.68"/><circle cx="13.24" cy="31.53" r="0.61" opacity="0.56"/><circle cx="30.06" cy="26.43" r="0.5" opacity="0.85"/><circle cx="44.14" cy="19.17" r="0.71" opacity="0.99"/><circle cx="37.55" cy="23.08" r="0.53" opacity="0.56"/><circle cx="15.48" cy="56.53" r="0.47" opacity="0.96"/><circle cx="39.53" cy="44.37" r="0.48" opacity="0.82"/><circle cx="11.63" cy="38.32" r="0.69" opacity="0.86"/><circle cx="30.35" cy="50.07" r="0.52" opacity="0.58"/><circle cx="49.07" cy="3.15" r="0.58" opacity="0.71"/><circle cx="49.74" cy="21.07" r="0.62" opacity="0.75"/><circle cx="27.15" cy="26.79" r="0.59" opacity="0.8"/><circle cx="24.52" cy="23.95" r="0.73" opacity="0.99"/><circle cx="14.01" cy="53.61" r="0.46" opacity="0.67"/><circle cx="50.98" cy="9.57" r="0.65" opacity="1"/><circle cx="34.7" cy="26.01" r="0.46" opacity="0.73"/><circle cx="26.3" cy="44.65" r="0.57" opacity="0.9"/><circle cx="22.98" cy="35.96" r="0.68" opacity="0.58"/><circle cx="54.06" cy="25.48" r="0.59" opacity="0.99"/><circle cx="32.38" cy="29.42" r="0.51" opacity="0.61"/><circle cx="43.12" cy="28.64" r="0.65" opacity="0.85"/><circle cx="38.69" cy="18.3" r="0.71" opacity="0.72"/><circle cx="9.98" cy="49.08" r="0.72" opacity="0.56"/><circle cx="50.19" cy="38.96" r="0.53" opacity="0.79"/><circle cx="52.28" cy="8.6" r="0.65" opacity="0.62"/><circle cx="8.47" cy="53.79" r="0.75" opacity="0.83"/><circle cx="44.93" cy="22.36" r="0.58" opacity="0.81"/><circle cx="46.15" cy="39.67" r="0.59" opacity="0.81"/></g>
<path d="M24.09 -1.17L17.08 8.46L9.2 15.47L-1.31 21.6L-1.31 33.86L10.07 27.73L18.83 21.6L26.71 14.59L33.72 7.59L38.98 -1.17Z M-1.31 56.63L10.95 51.38L19.71 46.12L28.47 39.12L36.35 31.23L43.36 21.6L48.61 11.09L50.36 -1.17L57.37 -1.17L57.37 21.6L52.12 32.99L45.98 42.62L38.98 51.38L32.85 57.51L-1.31 57.51Z" fill="#0a0c6a" stroke="#0a0c6a" stroke-width="0.8" filter="url(#bb)" opacity="0.8"/>
<path d="M24.09 -1.17L17.08 8.46L9.2 15.47L-1.31 21.6L-1.31 33.86L10.07 27.73L18.83 21.6L26.71 14.59L33.72 7.59L38.98 -1.17Z M-1.31 56.63L10.95 51.38L19.71 46.12L28.47 39.12L36.35 31.23L43.36 21.6L48.61 11.09L50.36 -1.17L57.37 -1.17L57.37 21.6L52.12 32.99L45.98 42.62L38.98 51.38L32.85 57.51L-1.31 57.51Z" fill="#fff" stroke="#fff" stroke-width="1.3" stroke-linejoin="round" filter="url(#sp3)"/>
<g fill="#30e09a" filter="url(#gb)"><circle cx="37.66" cy="4.08" r="0.72" opacity="0.95"/><circle cx="31.97" cy="8.46" r="0.72" opacity="0.95"/><circle cx="27.59" cy="13.72" r="0.72" opacity="0.95"/><circle cx="23.21" cy="18.53" r="0.72" opacity="0.95"/><circle cx="18.83" cy="21.16" r="0.72" opacity="0.95"/><circle cx="11.39" cy="25.54" r="0.72" opacity="0.95"/><circle cx="8.76" cy="29.92" r="0.72" opacity="0.95"/><circle cx="6.13" cy="30.8" r="0.72" opacity="0.95"/><circle cx="51.24" cy="3.64" r="0.72" opacity="0.95"/><circle cx="47.74" cy="15.47" r="0.72" opacity="0.95"/><circle cx="42.92" cy="20.72" r="0.72" opacity="0.95"/><circle cx="35.04" cy="32.11" r="0.72" opacity="0.95"/><circle cx="33.28" cy="34.3" r="0.72" opacity="0.95"/><circle cx="26.71" cy="40.43" r="0.72" opacity="0.95"/><circle cx="25.84" cy="42.62" r="0.72" opacity="0.95"/><circle cx="21.02" cy="44.37" r="0.72" opacity="0.95"/><circle cx="12.7" cy="50.07" r="0.72" opacity="0.95"/><circle cx="10.07" cy="51.38" r="0.72" opacity="0.95"/><circle cx="3.94" cy="54.88" r="0.72" opacity="0.95"/><circle cx="38.22" cy="-0.72" r="0.75" opacity="0.56"/><circle cx="9.96" cy="28.53" r="0.77" opacity="0.42"/><circle cx="34.76" cy="5.04" r="0.74" opacity="0.61"/><circle cx="28.5" cy="12.91" r="0.61" opacity="0.54"/><circle cx="9.86" cy="28.17" r="0.75" opacity="0.64"/><circle cx="33.25" cy="7.82" r="0.57" opacity="0.79"/><circle cx="29.26" cy="11.43" r="0.75" opacity="0.53"/><circle cx="28.08" cy="14.12" r="0.59" opacity="0.45"/><circle cx="21.87" cy="44.87" r="0.8" opacity="0.78"/><circle cx="12.99" cy="49.74" r="0.76" opacity="0.54"/><circle cx="35.9" cy="31.36" r="0.56" opacity="0.62"/><circle cx="3.97" cy="54.03" r="0.72" opacity="0.63"/><circle cx="45.47" cy="17.82" r="0.73" opacity="0.42"/><circle cx="37.89" cy="28.99" r="0.78" opacity="0.4"/><circle cx="30.47" cy="37.53" r="0.84" opacity="0.75"/><circle cx="33.8" cy="33.99" r="0.61" opacity="0.66"/><circle cx="5.12" cy="53.75" r="0.69" opacity="0.69"/><circle cx="3.96" cy="54.19" r="0.82" opacity="0.47"/><circle cx="5.35" cy="53.91" r="0.67" opacity="0.77"/><circle cx="2.06" cy="55.87" r="0.49" opacity="0.63"/></g>
</g>
<g transform="translate(304.13 777.3)" clip-path="url(#c15)">
<rect x="0" y="0" width="56.7" height="56.6" fill="#030a03"/>
<g fill="#30dd30" filter="url(#gb)"><circle cx="37.66" cy="4.08" r="0.72" opacity="0.95"/><circle cx="31.97" cy="8.46" r="0.72" opacity="0.95"/><circle cx="27.59" cy="13.72" r="0.72" opacity="0.95"/><circle cx="23.21" cy="18.53" r="0.72" opacity="0.95"/><circle cx="18.83" cy="21.16" r="0.72" opacity="0.95"/><circle cx="11.39" cy="25.54" r="0.72" opacity="0.95"/><circle cx="8.76" cy="29.92" r="0.72" opacity="0.95"/><circle cx="6.13" cy="30.8" r="0.72" opacity="0.95"/><circle cx="51.24" cy="3.64" r="0.72" opacity="0.95"/><circle cx="47.74" cy="15.47" r="0.72" opacity="0.95"/><circle cx="42.92" cy="20.72" r="0.72" opacity="0.95"/><circle cx="35.04" cy="32.11" r="0.72" opacity="0.95"/><circle cx="33.28" cy="34.3" r="0.72" opacity="0.95"/><circle cx="26.71" cy="40.43" r="0.72" opacity="0.95"/><circle cx="25.84" cy="42.62" r="0.72" opacity="0.95"/><circle cx="21.02" cy="44.37" r="0.72" opacity="0.95"/><circle cx="12.7" cy="50.07" r="0.72" opacity="0.95"/><circle cx="10.07" cy="51.38" r="0.72" opacity="0.95"/><circle cx="3.94" cy="54.88" r="0.72" opacity="0.95"/><circle cx="38.22" cy="-0.72" r="0.75" opacity="0.56"/><circle cx="9.96" cy="28.53" r="0.77" opacity="0.42"/><circle cx="34.76" cy="5.04" r="0.74" opacity="0.61"/><circle cx="28.5" cy="12.91" r="0.61" opacity="0.54"/><circle cx="9.86" cy="28.17" r="0.75" opacity="0.64"/><circle cx="33.25" cy="7.82" r="0.57" opacity="0.79"/><circle cx="29.26" cy="11.43" r="0.75" opacity="0.53"/><circle cx="28.08" cy="14.12" r="0.59" opacity="0.45"/><circle cx="21.87" cy="44.87" r="0.8" opacity="0.78"/><circle cx="12.99" cy="49.74" r="0.76" opacity="0.54"/><circle cx="35.9" cy="31.36" r="0.56" opacity="0.62"/><circle cx="3.97" cy="54.03" r="0.72" opacity="0.63"/><circle cx="45.47" cy="17.82" r="0.73" opacity="0.42"/><circle cx="37.89" cy="28.99" r="0.78" opacity="0.4"/><circle cx="30.47" cy="37.53" r="0.84" opacity="0.75"/><circle cx="33.8" cy="33.99" r="0.61" opacity="0.66"/><circle cx="5.12" cy="53.75" r="0.69" opacity="0.69"/><circle cx="3.96" cy="54.19" r="0.82" opacity="0.47"/><circle cx="5.35" cy="53.91" r="0.67" opacity="0.77"/><circle cx="2.06" cy="55.87" r="0.49" opacity="0.63"/></g>
</g>
<g transform="translate(362.7 777.3)" clip-path="url(#c16)">
<rect x="0" y="0" width="56.7" height="56.6" fill="#010108"/>
<g fill="#2028d8"><circle cx="20.5" cy="27.2" r="0.58" opacity="0.72"/><circle cx="23.22" cy="37.23" r="0.53" opacity="0.82"/><circle cx="0.57" cy="17.1" r="0.55" opacity="0.57"/><circle cx="42.15" cy="17.55" r="0.69" opacity="0.98"/><circle cx="14.37" cy="50.57" r="0.69" opacity="0.83"/><circle cx="1.55" cy="25.85" r="0.64" opacity="0.65"/><circle cx="12.72" cy="17.53" r="0.53" opacity="0.89"/><circle cx="19.72" cy="23.95" r="0.64" opacity="0.97"/><circle cx="16.61" cy="2.49" r="0.74" opacity="0.92"/><circle cx="44.81" cy="29.62" r="0.52" opacity="0.58"/><circle cx="17.25" cy="26.09" r="0.47" opacity="0.85"/><circle cx="41.27" cy="0.74" r="0.7" opacity="0.75"/><circle cx="52.09" cy="26.89" r="0.69" opacity="0.73"/><circle cx="34.76" cy="28.26" r="0.46" opacity="0.57"/><circle cx="13.17" cy="22.99" r="0.56" opacity="0.77"/><circle cx="37.39" cy="22.64" r="0.55" opacity="0.76"/><circle cx="54.02" cy="44.31" r="0.65" opacity="0.91"/><circle cx="12.92" cy="5.71" r="0.48" opacity="0.56"/><circle cx="0.52" cy="35.41" r="0.73" opacity="0.56"/><circle cx="38.94" cy="53.24" r="0.68" opacity="0.58"/><circle cx="36.19" cy="14.46" r="0.5" opacity="0.51"/><circle cx="29.79" cy="52.01" r="0.48" opacity="0.57"/><circle cx="22.02" cy="2.18" r="0.59" opacity="0.87"/><circle cx="26.12" cy="2.21" r="0.46" opacity="0.6"/><circle cx="37.83" cy="52.35" r="0.6" opacity="0.55"/><circle cx="12.24" cy="23.54" r="0.48" opacity="0.56"/><circle cx="24.61" cy="47.57" r="0.52" opacity="0.94"/><circle cx="49.67" cy="24.5" r="0.52" opacity="0.59"/><circle cx="37.84" cy="46.73" r="0.71" opacity="0.6"/><circle cx="24.19" cy="1.24" r="0.54" opacity="0.65"/><circle cx="7.02" cy="4.31" r="0.75" opacity="0.65"/><circle cx="28.29" cy="30.25" r="0.59" opacity="0.79"/><circle cx="28.49" cy="27.75" r="0.47" opacity="0.82"/><circle cx="37.92" cy="40.98" r="0.54" opacity="0.73"/><circle cx="45.72" cy="41.2" r="0.47" opacity="0.67"/><circle cx="9.72" cy="40.24" r="0.57" opacity="0.7"/><circle cx="12.64" cy="25.7" r="0.67" opacity="0.82"/><circle cx="12.57" cy="22.37" r="0.64" opacity="0.53"/><circle cx="51.16" cy="1.3" r="0.64" opacity="0.57"/><circle cx="54.22" cy="39.16" r="0.52" opacity="0.75"/></g>
<g filter="url(#gn0)"><rect x="-8" y="-8" width="72.7" height="72.6" fill="#fff" opacity="0.12"/><circle cx="8.93" cy="47" r="14.89" fill="#fff" opacity="0.33"/><circle cx="28.2" cy="25.98" r="10.51" fill="#fff" opacity="0.2"/><circle cx="48.35" cy="48.75" r="12.26" fill="#fff" opacity="0.12"/><circle cx="4.55" cy="32.99" r="7.01" fill="#fff" opacity="0.35"/></g>
<path d="M16.82 -1.17L8.06 8.46L-1.58 17.66L-1.58 40.43L8.06 32.99L15.94 25.98L22.95 19.85L30.83 13.72L39.59 7.59L48.35 -1.17Z M57.11 -0.3L48.35 9.34L40.47 18.1L32.58 27.73L25.58 36.49L18.57 45.25L10.69 57.51L40.47 57.51L44.85 50.5L50.98 41.74L57.11 32.99Z" fill="#0a0c6a" stroke="#0a0c6a" stroke-width="0.8" filter="url(#bb)" opacity="0.8"/>
<path d="M16.82 -1.17L8.06 8.46L-1.58 17.66L-1.58 40.43L8.06 32.99L15.94 25.98L22.95 19.85L30.83 13.72L39.59 7.59L48.35 -1.17Z M57.11 -0.3L48.35 9.34L40.47 18.1L32.58 27.73L25.58 36.49L18.57 45.25L10.69 57.51L40.47 57.51L44.85 50.5L50.98 41.74L57.11 32.99Z" fill="#fff" stroke="#fff" stroke-width="1.3" stroke-linejoin="round" filter="url(#sp0)"/>
<g opacity="0.4"><g filter="url(#gn0)"><rect x="-8" y="-8" width="72.7" height="72.6" fill="#fff" opacity="0.12"/><circle cx="8.93" cy="47" r="14.89" fill="#fff" opacity="0.33"/><circle cx="28.2" cy="25.98" r="10.51" fill="#fff" opacity="0.2"/><circle cx="48.35" cy="48.75" r="12.26" fill="#fff" opacity="0.12"/><circle cx="4.55" cy="32.99" r="7.01" fill="#fff" opacity="0.35"/></g></g>
<g opacity="0.7"><line x1="42.54" y1="5.08" x2="38.8" y2="1.23" stroke="#2fd02f" stroke-width="0.4" opacity="0.18"/><line x1="9.86" y1="31.77" x2="5.96" y2="21" stroke="#2fd02f" stroke-width="0.4" opacity="0.27"/><line x1="15.46" y1="27.19" x2="5.08" y2="15.61" stroke="#2fd02f" stroke-width="0.4" opacity="0.27"/><line x1="41.3" y1="6.1" x2="29.02" y2="-1.78" stroke="#2fd02f" stroke-width="0.4" opacity="0.22"/><line x1="33.05" y1="12.84" x2="28.65" y2="6.99" stroke="#2fd02f" stroke-width="0.4" opacity="0.26"/><line x1="12.98" y1="29.22" x2="7.38" y2="18.61" stroke="#2fd02f" stroke-width="0.4" opacity="0.18"/><line x1="39.94" y1="7.21" x2="32.87" y2="-6.42" stroke="#2fd02f" stroke-width="0.4" opacity="0.24"/><line x1="9.54" y1="32.03" x2="-2.24" y2="24.33" stroke="#2fd02f" stroke-width="0.4" opacity="0.29"/><line x1="2.37" y1="37.88" x2="-10.19" y2="28.9" stroke="#2fd02f" stroke-width="0.4" opacity="0.34"/><line x1="32.07" y1="13.64" x2="28.66" y2="3.42" stroke="#2fd02f" stroke-width="0.4" opacity="0.24"/><line x1="9.79" y1="31.82" x2="-1.63" y2="18.64" stroke="#2fd02f" stroke-width="0.4" opacity="0.34"/><line x1="34.68" y1="11.51" x2="29.21" y2="0.31" stroke="#2fd02f" stroke-width="0.4" opacity="0.24"/><line x1="14.34" y1="28.11" x2="10.35" y2="22" stroke="#2fd02f" stroke-width="0.4" opacity="0.18"/><line x1="35.98" y1="10.44" x2="31.38" y2="6.62" stroke="#2fd02f" stroke-width="0.4" opacity="0.24"/><line x1="32.78" y1="13.05" x2="27.24" y2="5.68" stroke="#2fd02f" stroke-width="0.4" opacity="0.33"/><line x1="32.43" y1="13.34" x2="20.74" y2="2.75" stroke="#2fd02f" stroke-width="0.4" opacity="0.4"/><line x1="15.69" y1="27.01" x2="1.76" y2="17.15" stroke="#2fd02f" stroke-width="0.4" opacity="0.35"/><line x1="5.41" y1="35.4" x2="0.31" y2="20.35" stroke="#2fd02f" stroke-width="0.4" opacity="0.18"/><line x1="7.67" y1="33.55" x2="-2.8" y2="24.29" stroke="#2fd02f" stroke-width="0.4" opacity="0.36"/><line x1="12.16" y1="29.88" x2="6.3" y2="20.28" stroke="#2fd02f" stroke-width="0.4" opacity="0.29"/><line x1="33.31" y1="12.62" x2="26.1" y2="4.59" stroke="#2fd02f" stroke-width="0.4" opacity="0.31"/><line x1="7.07" y1="34.04" x2="-2.39" y2="27.37" stroke="#2fd02f" stroke-width="0.4" opacity="0.22"/><line x1="15.88" y1="50.83" x2="30.92" y2="61.8" stroke="#2fd02f" stroke-width="0.4" opacity="0.23"/><line x1="53.5" y1="4.21" x2="63.13" y2="16.68" stroke="#2fd02f" stroke-width="0.4" opacity="0.33"/><line x1="35.13" y1="26.97" x2="42.39" y2="35.02" stroke="#2fd02f" stroke-width="0.4" opacity="0.17"/><line x1="32.07" y1="30.76" x2="42.27" y2="36.66" stroke="#2fd02f" stroke-width="0.4" opacity="0.2"/><line x1="42.78" y1="17.49" x2="48.92" y2="26.09" stroke="#2fd02f" stroke-width="0.4" opacity="0.29"/><line x1="30.79" y1="32.35" x2="38.86" y2="39.3" stroke="#2fd02f" stroke-width="0.4" opacity="0.32"/><line x1="51.65" y1="6.5" x2="66.51" y2="13.52" stroke="#2fd02f" stroke-width="0.4" opacity="0.26"/><line x1="48.6" y1="10.28" x2="55.32" y2="20.14" stroke="#2fd02f" stroke-width="0.4" opacity="0.15"/><line x1="15" y1="51.91" x2="28.23" y2="59.36" stroke="#2fd02f" stroke-width="0.4" opacity="0.18"/><line x1="27.42" y1="36.53" x2="43.7" y2="45.07" stroke="#2fd02f" stroke-width="0.4" opacity="0.22"/><line x1="27.23" y1="36.76" x2="36.64" y2="42.49" stroke="#2fd02f" stroke-width="0.4" opacity="0.38"/><line x1="46.94" y1="12.35" x2="55.02" y2="18.48" stroke="#2fd02f" stroke-width="0.4" opacity="0.32"/><line x1="44.17" y1="15.77" x2="54.54" y2="27.12" stroke="#2fd02f" stroke-width="0.4" opacity="0.15"/><line x1="34.39" y1="27.89" x2="42.53" y2="31.96" stroke="#2fd02f" stroke-width="0.4" opacity="0.32"/><line x1="53.23" y1="4.55" x2="64.25" y2="17.31" stroke="#2fd02f" stroke-width="0.4" opacity="0.4"/><line x1="36.59" y1="25.17" x2="42.9" y2="28.33" stroke="#2fd02f" stroke-width="0.4" opacity="0.25"/><line x1="24.16" y1="40.57" x2="33.42" y2="44.96" stroke="#2fd02f" stroke-width="0.4" opacity="0.37"/><line x1="48.08" y1="10.93" x2="57.88" y2="23.61" stroke="#2fd02f" stroke-width="0.4" opacity="0.18"/><line x1="13.6" y1="53.65" x2="25.27" y2="59.61" stroke="#2fd02f" stroke-width="0.4" opacity="0.15"/><line x1="27.41" y1="36.53" x2="39.56" y2="46.35" stroke="#2fd02f" stroke-width="0.4" opacity="0.31"/><line x1="47.51" y1="11.64" x2="59.48" y2="20.93" stroke="#2fd02f" stroke-width="0.4" opacity="0.36"/><line x1="50.11" y1="8.41" x2="64.59" y2="15.26" stroke="#2fd02f" stroke-width="0.4" opacity="0.3"/><line x1="38.13" y1="23.25" x2="43.27" y2="32.14" stroke="#2fd02f" stroke-width="0.4" opacity="0.18"/><line x1="42.45" y1="17.91" x2="54.62" y2="23.5" stroke="#2fd02f" stroke-width="0.4" opacity="0.3"/><line x1="29.12" y1="34.42" x2="38.37" y2="46.48" stroke="#2fd02f" stroke-width="0.4" opacity="0.36"/><line x1="27.08" y1="36.95" x2="37.88" y2="44.07" stroke="#2fd02f" stroke-width="0.4" opacity="0.28"/></g>
<g stroke="#38e048" stroke-linecap="round" filter="url(#gb)"><line x1="48.14" y1="-1.09" x2="46.84" y2="0.42" stroke-width="1.16" opacity="0.76"/><line x1="46.84" y1="0.42" x2="45.81" y2="1.14" stroke-width="0.86" opacity="0.32"/><line x1="45.81" y1="1.14" x2="45.03" y2="2.9" stroke-width="1.03" opacity="0.59"/><line x1="45.03" y1="2.9" x2="43.74" y2="4.01" stroke-width="1.3" opacity="0.63"/><line x1="41.75" y1="4.96" x2="40.55" y2="6.66" stroke-width="1.2" opacity="0.84"/><line x1="39.05" y1="7.9" x2="37.76" y2="8.39" stroke-width="1.07" opacity="0.49"/><line x1="37.76" y1="8.39" x2="36.81" y2="9.82" stroke-width="0.92" opacity="0.43"/><line x1="36.81" y1="9.82" x2="35.22" y2="10.71" stroke-width="1.21" opacity="0.39"/><line x1="35.22" y1="10.71" x2="33.85" y2="11.78" stroke-width="0.91" opacity="0.77"/><line x1="31.86" y1="12.48" x2="30.3" y2="13.79" stroke-width="1.08" opacity="0.41"/><line x1="30.3" y1="13.79" x2="29.29" y2="14.45" stroke-width="1.27" opacity="0.61"/><line x1="26.02" y1="17.48" x2="24.62" y2="18.49" stroke-width="1.25" opacity="0.34"/><line x1="24.62" y1="18.49" x2="23.11" y2="19.43" stroke-width="1.14" opacity="0.81"/><line x1="23.11" y1="19.43" x2="21.35" y2="21.07" stroke-width="0.84" opacity="0.64"/><line x1="21.35" y1="21.07" x2="20.01" y2="22.66" stroke-width="1.04" opacity="0.53"/><line x1="20.01" y1="22.66" x2="18.91" y2="23.01" stroke-width="0.7" opacity="0.39"/><line x1="18.91" y1="23.01" x2="17.41" y2="24.3" stroke-width="1.31" opacity="0.56"/><line x1="17.41" y1="24.3" x2="15.58" y2="25.86" stroke-width="1.01" opacity="0.65"/><line x1="15.58" y1="25.86" x2="14.42" y2="27.21" stroke-width="0.73" opacity="0.66"/><line x1="14.42" y1="27.21" x2="13.84" y2="28.62" stroke-width="1.25" opacity="0.56"/><line x1="10.32" y1="30.89" x2="9.89" y2="32.3" stroke-width="1.24" opacity="0.77"/><line x1="5.84" y1="34.71" x2="4.32" y2="35.87" stroke-width="1.17" opacity="0.34"/><line x1="4.32" y1="35.87" x2="2.61" y2="37.29" stroke-width="1.2" opacity="0.8"/><line x1="0.68" y1="38.28" x2="-0.73" y2="39.85" stroke-width="1.05" opacity="0.73"/><line x1="57.1" y1="-0.24" x2="56.35" y2="0.71" stroke-width="0.86" opacity="0.64"/><line x1="54.72" y1="2.32" x2="53.81" y2="3.16" stroke-width="0.95" opacity="0.61"/><line x1="53.81" y1="3.16" x2="52.62" y2="4.33" stroke-width="1.26" opacity="0.83"/><line x1="52.62" y1="4.33" x2="51.27" y2="5.87" stroke-width="1.21" opacity="0.35"/><line x1="49.59" y1="7.95" x2="48.28" y2="8.95" stroke-width="1.05" opacity="0.93"/><line x1="45.87" y1="12.37" x2="44.79" y2="13.62" stroke-width="1.28" opacity="0.34"/><line x1="44.79" y1="13.62" x2="43.97" y2="14.63" stroke-width="1.14" opacity="0.86"/><line x1="43.97" y1="14.63" x2="42.86" y2="15.24" stroke-width="1.51" opacity="0.66"/><line x1="42.86" y1="15.24" x2="41.83" y2="16.58" stroke-width="1.16" opacity="0.5"/><line x1="40.36" y1="17.69" x2="38.85" y2="19.33" stroke-width="1.32" opacity="0.72"/><line x1="38.85" y1="19.33" x2="37.68" y2="20.72" stroke-width="1.3" opacity="0.51"/><line x1="37.68" y1="20.72" x2="37.47" y2="22.77" stroke-width="1.56" opacity="0.42"/><line x1="37.47" y1="22.77" x2="35.88" y2="23.17" stroke-width="1.11" opacity="0.38"/><line x1="35.88" y1="23.17" x2="34.67" y2="24.5" stroke-width="1.43" opacity="0.63"/><line x1="34.67" y1="24.5" x2="33.4" y2="26.49" stroke-width="1.42" opacity="0.37"/><line x1="33.4" y1="26.49" x2="32.71" y2="27.22" stroke-width="1.07" opacity="0.71"/><line x1="32.71" y1="27.22" x2="31.57" y2="28.9" stroke-width="1" opacity="0.44"/><line x1="31.57" y1="28.9" x2="30.47" y2="29.83" stroke-width="1.15" opacity="0.49"/><line x1="30.47" y1="29.83" x2="29.46" y2="31.05" stroke-width="1.42" opacity="0.36"/><line x1="29.46" y1="31.05" x2="28.78" y2="32.9" stroke-width="0.88" opacity="0.82"/><line x1="27.72" y1="33.89" x2="27.08" y2="35.09" stroke-width="1.24" opacity="0.65"/><line x1="27.08" y1="35.09" x2="25.25" y2="36.35" stroke-width="0.99" opacity="0.61"/><line x1="25.03" y1="37.36" x2="23.86" y2="39.47" stroke-width="1.27" opacity="0.71"/><line x1="23.86" y1="39.47" x2="22.96" y2="40.21" stroke-width="1.29" opacity="0.83"/><line x1="22.96" y1="40.21" x2="21.52" y2="41.9" stroke-width="0.75" opacity="0.64"/><line x1="20.8" y1="43.08" x2="19.22" y2="44.12" stroke-width="1.26" opacity="0.6"/><line x1="19.22" y1="44.12" x2="18.83" y2="44.96" stroke-width="1.2" opacity="0.44"/><line x1="18.83" y1="44.96" x2="17.37" y2="46.99" stroke-width="0.8" opacity="0.32"/><line x1="17.37" y1="46.99" x2="16.89" y2="47.87" stroke-width="0.87" opacity="0.55"/><line x1="16.89" y1="47.87" x2="15.93" y2="49.07" stroke-width="1.09" opacity="0.95"/><line x1="15.93" y1="49.07" x2="14.79" y2="50.27" stroke-width="1.57" opacity="0.96"/><line x1="14.79" y1="50.27" x2="14.08" y2="51.67" stroke-width="1.46" opacity="0.35"/><line x1="14.08" y1="51.67" x2="13.75" y2="53.92" stroke-width="1.14" opacity="0.53"/><line x1="13.75" y1="53.92" x2="12.54" y2="54.34" stroke-width="1.1" opacity="0.36"/><line x1="11.67" y1="55.77" x2="10.69" y2="57.51" stroke-width="0.91" opacity="0.73"/></g>
<g fill="#30e09a" filter="url(#gb)"><circle cx="44" cy="3.5" r="1.05" opacity="0.86"/><circle cx="24.21" cy="19.72" r="0.8" opacity="0.76"/><circle cx="42.75" cy="3.96" r="0.7" opacity="0.76"/><circle cx="12.13" cy="29.77" r="0.94" opacity="0.75"/><circle cx="6.32" cy="35.11" r="0.83" opacity="0.73"/><circle cx="14.66" cy="26.33" r="0.73" opacity="0.77"/><circle cx="35.51" cy="10.53" r="1.04" opacity="0.79"/><circle cx="11.84" cy="29.28" r="0.91" opacity="0.72"/><circle cx="42.67" cy="4.15" r="0.82" opacity="0.97"/><circle cx="13.15" cy="27.79" r="1.02" opacity="0.79"/><circle cx="17.38" cy="23.97" r="0.65" opacity="0.92"/><circle cx="18.05" cy="24.1" r="0.8" opacity="0.86"/><circle cx="14.96" cy="26.24" r="0.94" opacity="0.96"/><circle cx="44.51" cy="2.84" r="0.62" opacity="0.87"/><circle cx="45.56" cy="1.68" r="0.85" opacity="0.74"/><circle cx="32.26" cy="12.26" r="0.68" opacity="0.87"/><circle cx="44.18" cy="3.39" r="0.8" opacity="0.85"/><circle cx="25.03" cy="17.76" r="0.97" opacity="0.92"/><circle cx="29.09" cy="15.67" r="0.86" opacity="0.71"/><circle cx="30.83" cy="13.95" r="1.03" opacity="0.72"/><circle cx="1.26" cy="37.68" r="0.95" opacity="0.93"/><circle cx="-0.28" cy="39.47" r="1.06" opacity="0.81"/><circle cx="5.64" cy="35.09" r="0.91" opacity="0.9"/><circle cx="21.6" cy="21.01" r="0.66" opacity="0.86"/><circle cx="22.2" cy="20.4" r="0.58" opacity="0.71"/><circle cx="34.04" cy="11.67" r="0.83" opacity="0.95"/><circle cx="36.35" cy="9.45" r="1.03" opacity="0.92"/><circle cx="43.53" cy="3.92" r="0.95" opacity="0.97"/><circle cx="47.27" cy="-0.94" r="0.59" opacity="0.88"/><circle cx="12.84" cy="28.54" r="0.77" opacity="0.77"/><circle cx="38.6" cy="8.05" r="0.82" opacity="0.79"/><circle cx="8.2" cy="32.88" r="0.87" opacity="0.9"/><circle cx="32.39" cy="12.02" r="0.9" opacity="0.77"/><circle cx="33.17" cy="12.25" r="1" opacity="0.97"/><circle cx="17.07" cy="24.9" r="1.05" opacity="0.98"/><circle cx="15.3" cy="26.64" r="0.78" opacity="0.74"/><circle cx="30.02" cy="14.56" r="0.99" opacity="0.79"/><circle cx="13.56" cy="28.94" r="0.85" opacity="0.99"/><circle cx="20.08" cy="21.65" r="0.68" opacity="0.89"/><circle cx="2.86" cy="36.84" r="0.93" opacity="0.76"/><circle cx="35.63" cy="10.63" r="1" opacity="0.76"/><circle cx="10.83" cy="30.84" r="0.81" opacity="0.96"/><circle cx="32.54" cy="12.32" r="1.03" opacity="0.99"/><circle cx="43.56" cy="4.2" r="0.69" opacity="0.88"/><circle cx="39.34" cy="8.18" r="0.95" opacity="0.81"/><circle cx="21.52" cy="20.66" r="0.83" opacity="0.85"/><circle cx="52.77" cy="5.08" r="0.98" opacity="0.97"/><circle cx="38.63" cy="20.28" r="0.68" opacity="0.74"/><circle cx="44.64" cy="14.15" r="0.78" opacity="0.75"/><circle cx="40.52" cy="18.28" r="0.82" opacity="0.9"/><circle cx="23.79" cy="38.75" r="1.04" opacity="0.89"/><circle cx="32.7" cy="27.46" r="0.66" opacity="0.92"/><circle cx="33.72" cy="27.02" r="0.89" opacity="0.72"/><circle cx="55.84" cy="2.11" r="0.9" opacity="0.93"/><circle cx="37.2" cy="22.27" r="0.92" opacity="0.7"/><circle cx="32.24" cy="28.11" r="0.9" opacity="0.88"/><circle cx="33.43" cy="26.07" r="0.84" opacity="0.7"/><circle cx="31.02" cy="29.93" r="0.59" opacity="0.94"/><circle cx="24.96" cy="38.23" r="0.63" opacity="0.73"/><circle cx="49.29" cy="7.92" r="0.97" opacity="0.78"/><circle cx="37.35" cy="21.6" r="0.85" opacity="1"/><circle cx="46.06" cy="12.55" r="0.89" opacity="0.96"/><circle cx="20.12" cy="42.54" r="0.84" opacity="0.72"/><circle cx="56.23" cy="0.22" r="0.79" opacity="0.94"/><circle cx="30.04" cy="30.96" r="0.83" opacity="0.71"/><circle cx="47.01" cy="11.8" r="0.81" opacity="0.71"/><circle cx="53.92" cy="4.28" r="0.85" opacity="0.71"/><circle cx="13.32" cy="53.63" r="0.86" opacity="0.93"/><circle cx="22.67" cy="39.45" r="0.66" opacity="0.77"/><circle cx="17.19" cy="47.67" r="0.74" opacity="0.93"/><circle cx="50.72" cy="7.67" r="0.82" opacity="0.99"/><circle cx="54.35" cy="3.07" r="0.74" opacity="0.93"/><circle cx="12.37" cy="55.03" r="0.59" opacity="0.78"/><circle cx="10.97" cy="56.87" r="1.03" opacity="0.83"/><circle cx="24.52" cy="37.55" r="0.88" opacity="0.94"/><circle cx="22.26" cy="39.57" r="0.92" opacity="0.89"/><circle cx="21.32" cy="41.05" r="0.58" opacity="0.79"/><circle cx="38.97" cy="19.13" r="0.67" opacity="0.83"/><circle cx="30.01" cy="30.23" r="0.75" opacity="0.73"/><circle cx="27.89" cy="33.18" r="0.72" opacity="0.82"/><circle cx="53.37" cy="4.85" r="1.05" opacity="0.87"/><circle cx="48.49" cy="8.58" r="0.72" opacity="0.85"/><circle cx="53.87" cy="3.08" r="0.81" opacity="0.72"/><circle cx="44.24" cy="13.71" r="0.86" opacity="0.76"/><circle cx="51.52" cy="6.13" r="0.74" opacity="0.89"/><circle cx="18.34" cy="45.07" r="0.97" opacity="0.96"/><circle cx="11.27" cy="55.68" r="1.03" opacity="0.76"/><circle cx="42.02" cy="17.58" r="0.72" opacity="0.91"/><circle cx="33.18" cy="26.8" r="0.76" opacity="0.94"/><circle cx="37.22" cy="21.56" r="0.86" opacity="0.86"/><circle cx="24.29" cy="38.73" r="0.8" opacity="0.91"/><circle cx="35.3" cy="24.34" r="0.97" opacity="0.94"/><circle cx="36.93" cy="22.58" r="0.69" opacity="0.9"/><circle cx="23.03" cy="39.6" r="1.06" opacity="0.84"/><circle cx="37.33" cy="22.45" r="0.91" opacity="0.86"/><circle cx="19" cy="44.98" r="0.84" opacity="0.89"/><circle cx="53.19" cy="4.57" r="0.75" opacity="0.89"/><circle cx="55.49" cy="2.35" r="0.77" opacity="0.93"/><circle cx="54.04" cy="39.56" r="1.06" opacity="1"/><circle cx="40.47" cy="42.62" r="1.06" opacity="1"/><circle cx="8.06" cy="32.11" r="1.06" opacity="1"/><circle cx="1.93" cy="31.23" r="1.06" opacity="1"/><circle cx="0.18" cy="39.12" r="1.06" opacity="1"/><circle cx="4.55" cy="36.49" r="1.06" opacity="1"/><circle cx="24.71" cy="38.8" r="0.48" opacity="0.4"/><circle cx="13.15" cy="41.43" r="0.65" opacity="0.53"/><circle cx="11.5" cy="37.63" r="0.7" opacity="0.54"/><circle cx="12.89" cy="36.25" r="0.49" opacity="0.34"/><circle cx="10.74" cy="54.62" r="0.52" opacity="0.68"/><circle cx="3.77" cy="35.27" r="0.61" opacity="0.38"/><circle cx="12.44" cy="40.16" r="0.61" opacity="0.58"/><circle cx="8.28" cy="34.92" r="0.72" opacity="0.35"/><circle cx="21.74" cy="45.28" r="0.68" opacity="0.37"/><circle cx="25.17" cy="33.24" r="0.53" opacity="0.36"/><circle cx="14.4" cy="54.52" r="0.55" opacity="0.46"/><circle cx="4.86" cy="45.05" r="0.61" opacity="0.31"/><circle cx="15.77" cy="31.86" r="0.65" opacity="0.46"/><circle cx="18.08" cy="32.11" r="0.7" opacity="0.62"/><circle cx="1.76" cy="29.01" r="0.73" opacity="0.37"/><circle cx="8.46" cy="39.6" r="0.56" opacity="0.65"/><circle cx="13.58" cy="45.01" r="0.65" opacity="0.54"/><circle cx="15.09" cy="36.34" r="0.73" opacity="0.55"/><circle cx="20.84" cy="47" r="0.57" opacity="0.55"/><circle cx="2.33" cy="29.97" r="0.52" opacity="0.42"/><circle cx="4.82" cy="46.63" r="0.63" opacity="0.47"/><circle cx="3.68" cy="37.41" r="0.54" opacity="0.55"/><circle cx="17.79" cy="45.19" r="0.77" opacity="0.52"/><circle cx="12.61" cy="30.16" r="0.57" opacity="0.48"/></g>
</g>
<g transform="translate(420.4 777.3)" clip-path="url(#c16)">
<rect x="0" y="0" width="56.7" height="56.6" fill="#030a03"/>
<g filter="url(#gn0)"><rect x="-8" y="-8" width="72.7" height="72.6" fill="#fff" opacity="0.12"/><circle cx="8.93" cy="47" r="14.89" fill="#fff" opacity="0.33"/><circle cx="28.2" cy="25.98" r="10.51" fill="#fff" opacity="0.2"/><circle cx="48.35" cy="48.75" r="12.26" fill="#fff" opacity="0.12"/><circle cx="4.55" cy="32.99" r="7.01" fill="#fff" opacity="0.35"/></g>
<line x1="42.54" y1="5.08" x2="38.8" y2="1.23" stroke="#2fd02f" stroke-width="0.4" opacity="0.18"/><line x1="9.86" y1="31.77" x2="5.96" y2="21" stroke="#2fd02f" stroke-width="0.4" opacity="0.27"/><line x1="15.46" y1="27.19" x2="5.08" y2="15.61" stroke="#2fd02f" stroke-width="0.4" opacity="0.27"/><line x1="41.3" y1="6.1" x2="29.02" y2="-1.78" stroke="#2fd02f" stroke-width="0.4" opacity="0.22"/><line x1="33.05" y1="12.84" x2="28.65" y2="6.99" stroke="#2fd02f" stroke-width="0.4" opacity="0.26"/><line x1="12.98" y1="29.22" x2="7.38" y2="18.61" stroke="#2fd02f" stroke-width="0.4" opacity="0.18"/><line x1="39.94" y1="7.21" x2="32.87" y2="-6.42" stroke="#2fd02f" stroke-width="0.4" opacity="0.24"/><line x1="9.54" y1="32.03" x2="-2.24" y2="24.33" stroke="#2fd02f" stroke-width="0.4" opacity="0.29"/><line x1="2.37" y1="37.88" x2="-10.19" y2="28.9" stroke="#2fd02f" stroke-width="0.4" opacity="0.34"/><line x1="32.07" y1="13.64" x2="28.66" y2="3.42" stroke="#2fd02f" stroke-width="0.4" opacity="0.24"/><line x1="9.79" y1="31.82" x2="-1.63" y2="18.64" stroke="#2fd02f" stroke-width="0.4" opacity="0.34"/><line x1="34.68" y1="11.51" x2="29.21" y2="0.31" stroke="#2fd02f" stroke-width="0.4" opacity="0.24"/><line x1="14.34" y1="28.11" x2="10.35" y2="22" stroke="#2fd02f" stroke-width="0.4" opacity="0.18"/><line x1="35.98" y1="10.44" x2="31.38" y2="6.62" stroke="#2fd02f" stroke-width="0.4" opacity="0.24"/><line x1="32.78" y1="13.05" x2="27.24" y2="5.68" stroke="#2fd02f" stroke-width="0.4" opacity="0.33"/><line x1="32.43" y1="13.34" x2="20.74" y2="2.75" stroke="#2fd02f" stroke-width="0.4" opacity="0.4"/><line x1="15.69" y1="27.01" x2="1.76" y2="17.15" stroke="#2fd02f" stroke-width="0.4" opacity="0.35"/><line x1="5.41" y1="35.4" x2="0.31" y2="20.35" stroke="#2fd02f" stroke-width="0.4" opacity="0.18"/><line x1="7.67" y1="33.55" x2="-2.8" y2="24.29" stroke="#2fd02f" stroke-width="0.4" opacity="0.36"/><line x1="12.16" y1="29.88" x2="6.3" y2="20.28" stroke="#2fd02f" stroke-width="0.4" opacity="0.29"/><line x1="33.31" y1="12.62" x2="26.1" y2="4.59" stroke="#2fd02f" stroke-width="0.4" opacity="0.31"/><line x1="7.07" y1="34.04" x2="-2.39" y2="27.37" stroke="#2fd02f" stroke-width="0.4" opacity="0.22"/><line x1="15.88" y1="50.83" x2="30.92" y2="61.8" stroke="#2fd02f" stroke-width="0.4" opacity="0.23"/><line x1="53.5" y1="4.21" x2="63.13" y2="16.68" stroke="#2fd02f" stroke-width="0.4" opacity="0.33"/><line x1="35.13" y1="26.97" x2="42.39" y2="35.02" stroke="#2fd02f" stroke-width="0.4" opacity="0.17"/><line x1="32.07" y1="30.76" x2="42.27" y2="36.66" stroke="#2fd02f" stroke-width="0.4" opacity="0.2"/><line x1="42.78" y1="17.49" x2="48.92" y2="26.09" stroke="#2fd02f" stroke-width="0.4" opacity="0.29"/><line x1="30.79" y1="32.35" x2="38.86" y2="39.3" stroke="#2fd02f" stroke-width="0.4" opacity="0.32"/><line x1="51.65" y1="6.5" x2="66.51" y2="13.52" stroke="#2fd02f" stroke-width="0.4" opacity="0.26"/><line x1="48.6" y1="10.28" x2="55.32" y2="20.14" stroke="#2fd02f" stroke-width="0.4" opacity="0.15"/><line x1="15" y1="51.91" x2="28.23" y2="59.36" stroke="#2fd02f" stroke-width="0.4" opacity="0.18"/><line x1="27.42" y1="36.53" x2="43.7" y2="45.07" stroke="#2fd02f" stroke-width="0.4" opacity="0.22"/><line x1="27.23" y1="36.76" x2="36.64" y2="42.49" stroke="#2fd02f" stroke-width="0.4" opacity="0.38"/><line x1="46.94" y1="12.35" x2="55.02" y2="18.48" stroke="#2fd02f" stroke-width="0.4" opacity="0.32"/><line x1="44.17" y1="15.77" x2="54.54" y2="27.12" stroke="#2fd02f" stroke-width="0.4" opacity="0.15"/><line x1="34.39" y1="27.89" x2="42.53" y2="31.96" stroke="#2fd02f" stroke-width="0.4" opacity="0.32"/><line x1="53.23" y1="4.55" x2="64.25" y2="17.31" stroke="#2fd02f" stroke-width="0.4" opacity="0.4"/><line x1="36.59" y1="25.17" x2="42.9" y2="28.33" stroke="#2fd02f" stroke-width="0.4" opacity="0.25"/><line x1="24.16" y1="40.57" x2="33.42" y2="44.96" stroke="#2fd02f" stroke-width="0.4" opacity="0.37"/><line x1="48.08" y1="10.93" x2="57.88" y2="23.61" stroke="#2fd02f" stroke-width="0.4" opacity="0.18"/><line x1="13.6" y1="53.65" x2="25.27" y2="59.61" stroke="#2fd02f" stroke-width="0.4" opacity="0.15"/><line x1="27.41" y1="36.53" x2="39.56" y2="46.35" stroke="#2fd02f" stroke-width="0.4" opacity="0.31"/><line x1="47.51" y1="11.64" x2="59.48" y2="20.93" stroke="#2fd02f" stroke-width="0.4" opacity="0.36"/><line x1="50.11" y1="8.41" x2="64.59" y2="15.26" stroke="#2fd02f" stroke-width="0.4" opacity="0.3"/><line x1="38.13" y1="23.25" x2="43.27" y2="32.14" stroke="#2fd02f" stroke-width="0.4" opacity="0.18"/><line x1="42.45" y1="17.91" x2="54.62" y2="23.5" stroke="#2fd02f" stroke-width="0.4" opacity="0.3"/><line x1="29.12" y1="34.42" x2="38.37" y2="46.48" stroke="#2fd02f" stroke-width="0.4" opacity="0.36"/><line x1="27.08" y1="36.95" x2="37.88" y2="44.07" stroke="#2fd02f" stroke-width="0.4" opacity="0.28"/>
<g stroke="#38e048" stroke-linecap="round" filter="url(#gb)"><line x1="48.14" y1="-1.09" x2="46.84" y2="0.42" stroke-width="1.16" opacity="0.76"/><line x1="46.84" y1="0.42" x2="45.81" y2="1.14" stroke-width="0.86" opacity="0.32"/><line x1="45.81" y1="1.14" x2="45.03" y2="2.9" stroke-width="1.03" opacity="0.59"/><line x1="45.03" y1="2.9" x2="43.74" y2="4.01" stroke-width="1.3" opacity="0.63"/><line x1="41.75" y1="4.96" x2="40.55" y2="6.66" stroke-width="1.2" opacity="0.84"/><line x1="39.05" y1="7.9" x2="37.76" y2="8.39" stroke-width="1.07" opacity="0.49"/><line x1="37.76" y1="8.39" x2="36.81" y2="9.82" stroke-width="0.92" opacity="0.43"/><line x1="36.81" y1="9.82" x2="35.22" y2="10.71" stroke-width="1.21" opacity="0.39"/><line x1="35.22" y1="10.71" x2="33.85" y2="11.78" stroke-width="0.91" opacity="0.77"/><line x1="31.86" y1="12.48" x2="30.3" y2="13.79" stroke-width="1.08" opacity="0.41"/><line x1="30.3" y1="13.79" x2="29.29" y2="14.45" stroke-width="1.27" opacity="0.61"/><line x1="26.02" y1="17.48" x2="24.62" y2="18.49" stroke-width="1.25" opacity="0.34"/><line x1="24.62" y1="18.49" x2="23.11" y2="19.43" stroke-width="1.14" opacity="0.81"/><line x1="23.11" y1="19.43" x2="21.35" y2="21.07" stroke-width="0.84" opacity="0.64"/><line x1="21.35" y1="21.07" x2="20.01" y2="22.66" stroke-width="1.04" opacity="0.53"/><line x1="20.01" y1="22.66" x2="18.91" y2="23.01" stroke-width="0.7" opacity="0.39"/><line x1="18.91" y1="23.01" x2="17.41" y2="24.3" stroke-width="1.31" opacity="0.56"/><line x1="17.41" y1="24.3" x2="15.58" y2="25.86" stroke-width="1.01" opacity="0.65"/><line x1="15.58" y1="25.86" x2="14.42" y2="27.21" stroke-width="0.73" opacity="0.66"/><line x1="14.42" y1="27.21" x2="13.84" y2="28.62" stroke-width="1.25" opacity="0.56"/><line x1="10.32" y1="30.89" x2="9.89" y2="32.3" stroke-width="1.24" opacity="0.77"/><line x1="5.84" y1="34.71" x2="4.32" y2="35.87" stroke-width="1.17" opacity="0.34"/><line x1="4.32" y1="35.87" x2="2.61" y2="37.29" stroke-width="1.2" opacity="0.8"/><line x1="0.68" y1="38.28" x2="-0.73" y2="39.85" stroke-width="1.05" opacity="0.73"/><line x1="57.1" y1="-0.24" x2="56.35" y2="0.71" stroke-width="0.86" opacity="0.64"/><line x1="54.72" y1="2.32" x2="53.81" y2="3.16" stroke-width="0.95" opacity="0.61"/><line x1="53.81" y1="3.16" x2="52.62" y2="4.33" stroke-width="1.26" opacity="0.83"/><line x1="52.62" y1="4.33" x2="51.27" y2="5.87" stroke-width="1.21" opacity="0.35"/><line x1="49.59" y1="7.95" x2="48.28" y2="8.95" stroke-width="1.05" opacity="0.93"/><line x1="45.87" y1="12.37" x2="44.79" y2="13.62" stroke-width="1.28" opacity="0.34"/><line x1="44.79" y1="13.62" x2="43.97" y2="14.63" stroke-width="1.14" opacity="0.86"/><line x1="43.97" y1="14.63" x2="42.86" y2="15.24" stroke-width="1.51" opacity="0.66"/><line x1="42.86" y1="15.24" x2="41.83" y2="16.58" stroke-width="1.16" opacity="0.5"/><line x1="40.36" y1="17.69" x2="38.85" y2="19.33" stroke-width="1.32" opacity="0.72"/><line x1="38.85" y1="19.33" x2="37.68" y2="20.72" stroke-width="1.3" opacity="0.51"/><line x1="37.68" y1="20.72" x2="37.47" y2="22.77" stroke-width="1.56" opacity="0.42"/><line x1="37.47" y1="22.77" x2="35.88" y2="23.17" stroke-width="1.11" opacity="0.38"/><line x1="35.88" y1="23.17" x2="34.67" y2="24.5" stroke-width="1.43" opacity="0.63"/><line x1="34.67" y1="24.5" x2="33.4" y2="26.49" stroke-width="1.42" opacity="0.37"/><line x1="33.4" y1="26.49" x2="32.71" y2="27.22" stroke-width="1.07" opacity="0.71"/><line x1="32.71" y1="27.22" x2="31.57" y2="28.9" stroke-width="1" opacity="0.44"/><line x1="31.57" y1="28.9" x2="30.47" y2="29.83" stroke-width="1.15" opacity="0.49"/><line x1="30.47" y1="29.83" x2="29.46" y2="31.05" stroke-width="1.42" opacity="0.36"/><line x1="29.46" y1="31.05" x2="28.78" y2="32.9" stroke-width="0.88" opacity="0.82"/><line x1="27.72" y1="33.89" x2="27.08" y2="35.09" stroke-width="1.24" opacity="0.65"/><line x1="27.08" y1="35.09" x2="25.25" y2="36.35" stroke-width="0.99" opacity="0.61"/><line x1="25.03" y1="37.36" x2="23.86" y2="39.47" stroke-width="1.27" opacity="0.71"/><line x1="23.86" y1="39.47" x2="22.96" y2="40.21" stroke-width="1.29" opacity="0.83"/><line x1="22.96" y1="40.21" x2="21.52" y2="41.9" stroke-width="0.75" opacity="0.64"/><line x1="20.8" y1="43.08" x2="19.22" y2="44.12" stroke-width="1.26" opacity="0.6"/><line x1="19.22" y1="44.12" x2="18.83" y2="44.96" stroke-width="1.2" opacity="0.44"/><line x1="18.83" y1="44.96" x2="17.37" y2="46.99" stroke-width="0.8" opacity="0.32"/><line x1="17.37" y1="46.99" x2="16.89" y2="47.87" stroke-width="0.87" opacity="0.55"/><line x1="16.89" y1="47.87" x2="15.93" y2="49.07" stroke-width="1.09" opacity="0.95"/><line x1="15.93" y1="49.07" x2="14.79" y2="50.27" stroke-width="1.57" opacity="0.96"/><line x1="14.79" y1="50.27" x2="14.08" y2="51.67" stroke-width="1.46" opacity="0.35"/><line x1="14.08" y1="51.67" x2="13.75" y2="53.92" stroke-width="1.14" opacity="0.53"/><line x1="13.75" y1="53.92" x2="12.54" y2="54.34" stroke-width="1.1" opacity="0.36"/><line x1="11.67" y1="55.77" x2="10.69" y2="57.51" stroke-width="0.91" opacity="0.73"/></g>
<g fill="#30dd30" filter="url(#gb)"><circle cx="44" cy="3.5" r="1.05" opacity="0.86"/><circle cx="24.21" cy="19.72" r="0.8" opacity="0.76"/><circle cx="42.75" cy="3.96" r="0.7" opacity="0.76"/><circle cx="12.13" cy="29.77" r="0.94" opacity="0.75"/><circle cx="6.32" cy="35.11" r="0.83" opacity="0.73"/><circle cx="14.66" cy="26.33" r="0.73" opacity="0.77"/><circle cx="35.51" cy="10.53" r="1.04" opacity="0.79"/><circle cx="11.84" cy="29.28" r="0.91" opacity="0.72"/><circle cx="42.67" cy="4.15" r="0.82" opacity="0.97"/><circle cx="13.15" cy="27.79" r="1.02" opacity="0.79"/><circle cx="17.38" cy="23.97" r="0.65" opacity="0.92"/><circle cx="18.05" cy="24.1" r="0.8" opacity="0.86"/><circle cx="14.96" cy="26.24" r="0.94" opacity="0.96"/><circle cx="44.51" cy="2.84" r="0.62" opacity="0.87"/><circle cx="45.56" cy="1.68" r="0.85" opacity="0.74"/><circle cx="32.26" cy="12.26" r="0.68" opacity="0.87"/><circle cx="44.18" cy="3.39" r="0.8" opacity="0.85"/><circle cx="25.03" cy="17.76" r="0.97" opacity="0.92"/><circle cx="29.09" cy="15.67" r="0.86" opacity="0.71"/><circle cx="30.83" cy="13.95" r="1.03" opacity="0.72"/><circle cx="1.26" cy="37.68" r="0.95" opacity="0.93"/><circle cx="-0.28" cy="39.47" r="1.06" opacity="0.81"/><circle cx="5.64" cy="35.09" r="0.91" opacity="0.9"/><circle cx="21.6" cy="21.01" r="0.66" opacity="0.86"/><circle cx="22.2" cy="20.4" r="0.58" opacity="0.71"/><circle cx="34.04" cy="11.67" r="0.83" opacity="0.95"/><circle cx="36.35" cy="9.45" r="1.03" opacity="0.92"/><circle cx="43.53" cy="3.92" r="0.95" opacity="0.97"/><circle cx="47.27" cy="-0.94" r="0.59" opacity="0.88"/><circle cx="12.84" cy="28.54" r="0.77" opacity="0.77"/><circle cx="38.6" cy="8.05" r="0.82" opacity="0.79"/><circle cx="8.2" cy="32.88" r="0.87" opacity="0.9"/><circle cx="32.39" cy="12.02" r="0.9" opacity="0.77"/><circle cx="33.17" cy="12.25" r="1" opacity="0.97"/><circle cx="17.07" cy="24.9" r="1.05" opacity="0.98"/><circle cx="15.3" cy="26.64" r="0.78" opacity="0.74"/><circle cx="30.02" cy="14.56" r="0.99" opacity="0.79"/><circle cx="13.56" cy="28.94" r="0.85" opacity="0.99"/><circle cx="20.08" cy="21.65" r="0.68" opacity="0.89"/><circle cx="2.86" cy="36.84" r="0.93" opacity="0.76"/><circle cx="35.63" cy="10.63" r="1" opacity="0.76"/><circle cx="10.83" cy="30.84" r="0.81" opacity="0.96"/><circle cx="32.54" cy="12.32" r="1.03" opacity="0.99"/><circle cx="43.56" cy="4.2" r="0.69" opacity="0.88"/><circle cx="39.34" cy="8.18" r="0.95" opacity="0.81"/><circle cx="21.52" cy="20.66" r="0.83" opacity="0.85"/><circle cx="52.77" cy="5.08" r="0.98" opacity="0.97"/><circle cx="38.63" cy="20.28" r="0.68" opacity="0.74"/><circle cx="44.64" cy="14.15" r="0.78" opacity="0.75"/><circle cx="40.52" cy="18.28" r="0.82" opacity="0.9"/><circle cx="23.79" cy="38.75" r="1.04" opacity="0.89"/><circle cx="32.7" cy="27.46" r="0.66" opacity="0.92"/><circle cx="33.72" cy="27.02" r="0.89" opacity="0.72"/><circle cx="55.84" cy="2.11" r="0.9" opacity="0.93"/><circle cx="37.2" cy="22.27" r="0.92" opacity="0.7"/><circle cx="32.24" cy="28.11" r="0.9" opacity="0.88"/><circle cx="33.43" cy="26.07" r="0.84" opacity="0.7"/><circle cx="31.02" cy="29.93" r="0.59" opacity="0.94"/><circle cx="24.96" cy="38.23" r="0.63" opacity="0.73"/><circle cx="49.29" cy="7.92" r="0.97" opacity="0.78"/><circle cx="37.35" cy="21.6" r="0.85" opacity="1"/><circle cx="46.06" cy="12.55" r="0.89" opacity="0.96"/><circle cx="20.12" cy="42.54" r="0.84" opacity="0.72"/><circle cx="56.23" cy="0.22" r="0.79" opacity="0.94"/><circle cx="30.04" cy="30.96" r="0.83" opacity="0.71"/><circle cx="47.01" cy="11.8" r="0.81" opacity="0.71"/><circle cx="53.92" cy="4.28" r="0.85" opacity="0.71"/><circle cx="13.32" cy="53.63" r="0.86" opacity="0.93"/><circle cx="22.67" cy="39.45" r="0.66" opacity="0.77"/><circle cx="17.19" cy="47.67" r="0.74" opacity="0.93"/><circle cx="50.72" cy="7.67" r="0.82" opacity="0.99"/><circle cx="54.35" cy="3.07" r="0.74" opacity="0.93"/><circle cx="12.37" cy="55.03" r="0.59" opacity="0.78"/><circle cx="10.97" cy="56.87" r="1.03" opacity="0.83"/><circle cx="24.52" cy="37.55" r="0.88" opacity="0.94"/><circle cx="22.26" cy="39.57" r="0.92" opacity="0.89"/><circle cx="21.32" cy="41.05" r="0.58" opacity="0.79"/><circle cx="38.97" cy="19.13" r="0.67" opacity="0.83"/><circle cx="30.01" cy="30.23" r="0.75" opacity="0.73"/><circle cx="27.89" cy="33.18" r="0.72" opacity="0.82"/><circle cx="53.37" cy="4.85" r="1.05" opacity="0.87"/><circle cx="48.49" cy="8.58" r="0.72" opacity="0.85"/><circle cx="53.87" cy="3.08" r="0.81" opacity="0.72"/><circle cx="44.24" cy="13.71" r="0.86" opacity="0.76"/><circle cx="51.52" cy="6.13" r="0.74" opacity="0.89"/><circle cx="18.34" cy="45.07" r="0.97" opacity="0.96"/><circle cx="11.27" cy="55.68" r="1.03" opacity="0.76"/><circle cx="42.02" cy="17.58" r="0.72" opacity="0.91"/><circle cx="33.18" cy="26.8" r="0.76" opacity="0.94"/><circle cx="37.22" cy="21.56" r="0.86" opacity="0.86"/><circle cx="24.29" cy="38.73" r="0.8" opacity="0.91"/><circle cx="35.3" cy="24.34" r="0.97" opacity="0.94"/><circle cx="36.93" cy="22.58" r="0.69" opacity="0.9"/><circle cx="23.03" cy="39.6" r="1.06" opacity="0.84"/><circle cx="37.33" cy="22.45" r="0.91" opacity="0.86"/><circle cx="19" cy="44.98" r="0.84" opacity="0.89"/><circle cx="53.19" cy="4.57" r="0.75" opacity="0.89"/><circle cx="55.49" cy="2.35" r="0.77" opacity="0.93"/><circle cx="54.04" cy="39.56" r="1.06" opacity="1"/><circle cx="40.47" cy="42.62" r="1.06" opacity="1"/><circle cx="8.06" cy="32.11" r="1.06" opacity="1"/><circle cx="1.93" cy="31.23" r="1.06" opacity="1"/><circle cx="0.18" cy="39.12" r="1.06" opacity="1"/><circle cx="4.55" cy="36.49" r="1.06" opacity="1"/><circle cx="24.71" cy="38.8" r="0.48" opacity="0.4"/><circle cx="13.15" cy="41.43" r="0.65" opacity="0.53"/><circle cx="11.5" cy="37.63" r="0.7" opacity="0.54"/><circle cx="12.89" cy="36.25" r="0.49" opacity="0.34"/><circle cx="10.74" cy="54.62" r="0.52" opacity="0.68"/><circle cx="3.77" cy="35.27" r="0.61" opacity="0.38"/><circle cx="12.44" cy="40.16" r="0.61" opacity="0.58"/><circle cx="8.28" cy="34.92" r="0.72" opacity="0.35"/><circle cx="21.74" cy="45.28" r="0.68" opacity="0.37"/><circle cx="25.17" cy="33.24" r="0.53" opacity="0.36"/><circle cx="14.4" cy="54.52" r="0.55" opacity="0.46"/><circle cx="4.86" cy="45.05" r="0.61" opacity="0.31"/><circle cx="15.77" cy="31.86" r="0.65" opacity="0.46"/><circle cx="18.08" cy="32.11" r="0.7" opacity="0.62"/><circle cx="1.76" cy="29.01" r="0.73" opacity="0.37"/><circle cx="8.46" cy="39.6" r="0.56" opacity="0.65"/><circle cx="13.58" cy="45.01" r="0.65" opacity="0.54"/><circle cx="15.09" cy="36.34" r="0.73" opacity="0.55"/><circle cx="20.84" cy="47" r="0.57" opacity="0.55"/><circle cx="2.33" cy="29.97" r="0.52" opacity="0.42"/><circle cx="4.82" cy="46.63" r="0.63" opacity="0.47"/><circle cx="3.68" cy="37.41" r="0.54" opacity="0.55"/><circle cx="17.79" cy="45.19" r="0.77" opacity="0.52"/><circle cx="12.61" cy="30.16" r="0.57" opacity="0.48"/></g>
</g>
<line x1="470.2" y1="832.2" x2="476.4" y2="832.2" stroke="#e8e8e8" stroke-width="1.1"/>
<text x="12.3" y="628.5" font-size="11" text-anchor="middle" transform="rotate(-90 12.3 628.5)" fill="#111" stroke="#111" stroke-width="0.18">WT</text>
<text x="12.3" y="687.7" font-size="11" text-anchor="middle" transform="rotate(-90 12.3 687.7)" fill="#111" stroke="#111" stroke-width="0.18">iKO</text>
<text x="12.3" y="746.7" font-size="11" text-anchor="middle" transform="rotate(-90 12.3 746.7)" fill="#111">Nrf2<tspan font-size="6.5" dy="-4">-/-</tspan></text>
<text x="12.3" y="805.6" font-size="11" text-anchor="middle" transform="rotate(-90 12.3 805.6)" fill="#111" stroke="#111" stroke-width="0.18">DKO</text>
<text x="476.6" y="571.7" font-size="12.6" text-anchor="start" font-weight="bold" fill="#111">N</text>
<rect x="533.7" y="611.81" width="9" height="65.49" fill="#A9A9A9" stroke="#222" stroke-width="0.7"/>
<rect x="545.6" y="644.88" width="9" height="32.42" fill="#4DAF3B" stroke="#222" stroke-width="0.7"/>
<rect x="557.4" y="640.84" width="9" height="36.46" fill="#F1B642" stroke="#222" stroke-width="0.7"/>
<rect x="569.3" y="607.23" width="9" height="70.07" fill="#3F9AE6" stroke="#222" stroke-width="0.7"/>
<line x1="528.3" y1="567.75" x2="528.3" y2="677.7" stroke="#111" stroke-width="0.9"/>
<line x1="528.3" y1="677.3" x2="583" y2="677.3" stroke="#111" stroke-width="0.9"/>
<line x1="525.3" y1="677.3" x2="528.3" y2="677.3" stroke="#111" stroke-width="0.9"/>
<text x="524.7" y="680.8" font-size="10" text-anchor="end" fill="#111" stroke="#111" stroke-width="0.18">0</text>
<line x1="525.3" y1="655.47" x2="528.3" y2="655.47" stroke="#111" stroke-width="0.9"/>
<text x="524.7" y="658.97" font-size="10" text-anchor="end" fill="#111" stroke="#111" stroke-width="0.18">20</text>
<line x1="525.3" y1="633.64" x2="528.3" y2="633.64" stroke="#111" stroke-width="0.9"/>
<text x="524.7" y="637.14" font-size="10" text-anchor="end" fill="#111" stroke="#111" stroke-width="0.18">40</text>
<line x1="525.3" y1="611.81" x2="528.3" y2="611.81" stroke="#111" stroke-width="0.9"/>
<text x="524.7" y="615.31" font-size="10" text-anchor="end" fill="#111" stroke="#111" stroke-width="0.18">60</text>
<line x1="525.3" y1="589.98" x2="528.3" y2="589.98" stroke="#111" stroke-width="0.9"/>
<text x="524.7" y="593.48" font-size="10" text-anchor="end" fill="#111" stroke="#111" stroke-width="0.18">80</text>
<line x1="525.3" y1="568.15" x2="528.3" y2="568.15" stroke="#111" stroke-width="0.9"/>
<text x="524.7" y="571.65" font-size="10" text-anchor="end" fill="#111" stroke="#111" stroke-width="0.18">100</text>
<line x1="538.2" y1="677.3" x2="538.2" y2="681.3" stroke="#111" stroke-width="0.9"/>
<line x1="538.2" y1="618.69" x2="538.2" y2="604.93" stroke="#111" stroke-width="0.85"/>
<line x1="535.6" y1="618.69" x2="540.8" y2="618.69" stroke="#111" stroke-width="0.85"/>
<line x1="535.6" y1="604.93" x2="540.8" y2="604.93" stroke="#111" stroke-width="0.85"/>
<line x1="550.1" y1="677.3" x2="550.1" y2="681.3" stroke="#111" stroke-width="0.9"/>
<line x1="550.1" y1="650.99" x2="550.1" y2="638.77" stroke="#111" stroke-width="0.85"/>
<line x1="547.5" y1="650.99" x2="552.7" y2="650.99" stroke="#111" stroke-width="0.85"/>
<line x1="547.5" y1="638.77" x2="552.7" y2="638.77" stroke="#111" stroke-width="0.85"/>
<line x1="561.9" y1="677.3" x2="561.9" y2="681.3" stroke="#111" stroke-width="0.9"/>
<line x1="561.9" y1="646.08" x2="561.9" y2="635.6" stroke="#111" stroke-width="0.85"/>
<line x1="559.3" y1="646.08" x2="564.5" y2="646.08" stroke="#111" stroke-width="0.85"/>
<line x1="559.3" y1="635.6" x2="564.5" y2="635.6" stroke="#111" stroke-width="0.85"/>
<line x1="573.8" y1="677.3" x2="573.8" y2="681.3" stroke="#111" stroke-width="0.9"/>
<line x1="573.8" y1="614.76" x2="573.8" y2="599.69" stroke="#111" stroke-width="0.85"/>
<line x1="571.2" y1="614.76" x2="576.4" y2="614.76" stroke="#111" stroke-width="0.85"/>
<line x1="571.2" y1="599.69" x2="576.4" y2="599.69" stroke="#111" stroke-width="0.85"/>
<circle cx="538.5" cy="579.17" r="1.95" fill="#fff" stroke="#111" stroke-width="0.7"/>
<circle cx="538.5" cy="606.68" r="1.95" fill="#fff" stroke="#111" stroke-width="0.7"/>
<circle cx="536.8" cy="615.41" r="1.95" fill="#fff" stroke="#111" stroke-width="0.7"/>
<circle cx="540.2" cy="615.41" r="1.95" fill="#fff" stroke="#111" stroke-width="0.7"/>
<circle cx="538.5" cy="621.63" r="1.95" fill="#fff" stroke="#111" stroke-width="0.7"/>
<circle cx="538.5" cy="626.87" r="1.95" fill="#fff" stroke="#111" stroke-width="0.7"/>
<rect x="548.45" y="622.3" width="3.9" height="3.9" fill="#fff" stroke="#111" stroke-width="0.7"/>
<rect x="548.45" y="625.8" width="3.9" height="3.9" fill="#fff" stroke="#111" stroke-width="0.7"/>
<rect x="546.65" y="650.25" width="3.9" height="3.9" fill="#fff" stroke="#111" stroke-width="0.7"/>
<rect x="550.35" y="653.85" width="3.9" height="3.9" fill="#fff" stroke="#111" stroke-width="0.7"/>
<rect x="548.45" y="659.09" width="3.9" height="3.9" fill="#fff" stroke="#111" stroke-width="0.7"/>
<path d="M558.9 628.12 L561.14 632.16 L556.66 632.16 Z" fill="#fff" stroke="#111" stroke-width="0.7"/>
<path d="M561.9 627.58 L564.14 631.61 L559.66 631.61 Z" fill="#fff" stroke="#111" stroke-width="0.7"/>
<path d="M565 628.12 L567.24 632.16 L562.76 632.16 Z" fill="#fff" stroke="#111" stroke-width="0.7"/>
<path d="M562.3 642.09 L564.54 646.13 L560.06 646.13 Z" fill="#fff" stroke="#111" stroke-width="0.7"/>
<path d="M562.3 649.95 L564.54 653.99 L560.06 653.99 Z" fill="#fff" stroke="#111" stroke-width="0.7"/>
<path d="M562.3 653.55 L564.54 657.59 L560.06 657.59 Z" fill="#fff" stroke="#111" stroke-width="0.7"/>
<path d="M574.2 593.75 L576.44 589.71 L571.96 589.71 Z" fill="#fff" stroke="#111" stroke-width="0.7"/>
<path d="M574.2 603.68 L576.44 599.65 L571.96 599.65 Z" fill="#fff" stroke="#111" stroke-width="0.7"/>
<path d="M572.4 612.96 L574.64 608.92 L570.16 608.92 Z" fill="#fff" stroke="#111" stroke-width="0.7"/>
<path d="M576.1 612.96 L578.34 608.92 L573.86 608.92 Z" fill="#fff" stroke="#111" stroke-width="0.7"/>
<path d="M574.2 624.2 L576.44 620.17 L571.96 620.17 Z" fill="#fff" stroke="#111" stroke-width="0.7"/>
<text x="506" y="614.6" font-size="10" text-anchor="middle" transform="rotate(-90 506 614.6)" fill="#111">Ki67<tspan font-size="6" dy="-3.6">+</tspan><tspan dy="3.6"> cells / DG (mm</tspan><tspan font-size="6" dy="-3.6">2</tspan><tspan dy="3.6">)</tspan></text>
<line x1="536.2" y1="561.1" x2="560.6" y2="561.1" stroke="#2a2a2a" stroke-width="1"/>
<text x="547.6" y="561.8" font-size="10.2" text-anchor="middle" fill="#222" stroke="#222" stroke-width="0.18">*</text>
<line x1="536.2" y1="572.5" x2="548.8" y2="572.5" stroke="#2a2a2a" stroke-width="1"/>
<text x="541.7" y="573.2" font-size="10.2" text-anchor="middle" fill="#222" stroke="#222" stroke-width="0.18">**</text>
<line x1="549.7" y1="585.3" x2="573.4" y2="585.3" stroke="#2a2a2a" stroke-width="1"/>
<text x="560.75" y="586" font-size="10.2" text-anchor="middle" fill="#222" stroke="#222" stroke-width="0.18">**</text>
<text x="542.7" y="689.5" font-size="10" text-anchor="end" transform="rotate(-45 542.7 689.5)" fill="#111" stroke="#111" stroke-width="0.18">WT</text>
<text x="554.3" y="689.5" font-size="10" text-anchor="end" transform="rotate(-45 554.3 689.5)" fill="#111" stroke="#111" stroke-width="0.18">iKO</text>
<text x="572.5" y="688.7" font-size="10" text-anchor="end" transform="rotate(-45 572.5 688.7)" fill="#111">Nrf2<tspan font-size="6" dy="-3.5" fill="#555">-/-</tspan></text>
<text x="583.6" y="688.7" font-size="10" text-anchor="end" transform="rotate(-45 583.6 688.7)" fill="#111" stroke="#111" stroke-width="0.18">DKO</text>
<rect x="633.35" y="614.5" width="9.1" height="62.7" fill="#A9A9A9" stroke="#222" stroke-width="0.7"/>
<rect x="645.25" y="649.53" width="9.1" height="27.67" fill="#4DAF3B" stroke="#222" stroke-width="0.7"/>
<rect x="657.05" y="636.45" width="9.1" height="40.75" fill="#F1B642" stroke="#222" stroke-width="0.7"/>
<rect x="668.95" y="623.63" width="9.1" height="53.57" fill="#3F9AE6" stroke="#222" stroke-width="0.7"/>
<line x1="628.1" y1="567.76" x2="628.1" y2="677.6" stroke="#111" stroke-width="0.9"/>
<line x1="628.1" y1="677.2" x2="682.5" y2="677.2" stroke="#111" stroke-width="0.9"/>
<line x1="625.1" y1="677.2" x2="628.1" y2="677.2" stroke="#111" stroke-width="0.9"/>
<text x="624.5" y="680.7" font-size="10" text-anchor="end" fill="#111" stroke="#111" stroke-width="0.18">0</text>
<line x1="625.1" y1="649.94" x2="628.1" y2="649.94" stroke="#111" stroke-width="0.9"/>
<text x="624.5" y="653.44" font-size="10" text-anchor="end" fill="#111" stroke="#111" stroke-width="0.18">200</text>
<line x1="625.1" y1="622.68" x2="628.1" y2="622.68" stroke="#111" stroke-width="0.9"/>
<text x="624.5" y="626.18" font-size="10" text-anchor="end" fill="#111" stroke="#111" stroke-width="0.18">400</text>
<line x1="625.1" y1="595.42" x2="628.1" y2="595.42" stroke="#111" stroke-width="0.9"/>
<text x="624.5" y="598.92" font-size="10" text-anchor="end" fill="#111" stroke="#111" stroke-width="0.18">600</text>
<line x1="625.1" y1="568.16" x2="628.1" y2="568.16" stroke="#111" stroke-width="0.9"/>
<text x="624.5" y="571.66" font-size="10" text-anchor="end" fill="#111" stroke="#111" stroke-width="0.18">800</text>
<line x1="637.9" y1="677.2" x2="637.9" y2="681.2" stroke="#111" stroke-width="0.9"/>
<line x1="637.9" y1="620.77" x2="637.9" y2="607.55" stroke="#111" stroke-width="0.85"/>
<line x1="635.3" y1="620.77" x2="640.5" y2="620.77" stroke="#111" stroke-width="0.85"/>
<line x1="635.3" y1="607.55" x2="640.5" y2="607.55" stroke="#111" stroke-width="0.85"/>
<line x1="649.8" y1="677.2" x2="649.8" y2="681.2" stroke="#111" stroke-width="0.9"/>
<line x1="649.8" y1="651.58" x2="649.8" y2="647.49" stroke="#111" stroke-width="0.85"/>
<line x1="647.2" y1="651.58" x2="652.4" y2="651.58" stroke="#111" stroke-width="0.85"/>
<line x1="647.2" y1="647.49" x2="652.4" y2="647.49" stroke="#111" stroke-width="0.85"/>
<line x1="661.6" y1="677.2" x2="661.6" y2="681.2" stroke="#111" stroke-width="0.9"/>
<line x1="661.6" y1="641.35" x2="661.6" y2="631.54" stroke="#111" stroke-width="0.85"/>
<line x1="659" y1="641.35" x2="664.2" y2="641.35" stroke="#111" stroke-width="0.85"/>
<line x1="659" y1="631.54" x2="664.2" y2="631.54" stroke="#111" stroke-width="0.85"/>
<line x1="673.5" y1="677.2" x2="673.5" y2="681.2" stroke="#111" stroke-width="0.9"/>
<line x1="673.5" y1="625.81" x2="673.5" y2="621.18" stroke="#111" stroke-width="0.85"/>
<line x1="670.9" y1="625.81" x2="676.1" y2="625.81" stroke="#111" stroke-width="0.85"/>
<line x1="670.9" y1="621.18" x2="676.1" y2="621.18" stroke="#111" stroke-width="0.85"/>
<circle cx="638.2" cy="592.69" r="1.95" fill="#fff" stroke="#111" stroke-width="0.7"/>
<circle cx="638.2" cy="598.83" r="1.95" fill="#fff" stroke="#111" stroke-width="0.7"/>
<circle cx="635.9" cy="615.46" r="1.95" fill="#fff" stroke="#111" stroke-width="0.7"/>
<circle cx="640.2" cy="615.18" r="1.95" fill="#fff" stroke="#111" stroke-width="0.7"/>
<circle cx="635.9" cy="630.59" r="1.95" fill="#fff" stroke="#111" stroke-width="0.7"/>
<circle cx="640.2" cy="630.31" r="1.95" fill="#fff" stroke="#111" stroke-width="0.7"/>
<rect x="650.15" y="640.08" width="3.9" height="3.9" fill="#fff" stroke="#111" stroke-width="0.7"/>
<rect x="646.35" y="643.22" width="3.9" height="3.9" fill="#fff" stroke="#111" stroke-width="0.7"/>
<rect x="650.15" y="646.76" width="3.9" height="3.9" fill="#fff" stroke="#111" stroke-width="0.7"/>
<rect x="645.85" y="649.76" width="3.9" height="3.9" fill="#fff" stroke="#111" stroke-width="0.7"/>
<rect x="650.35" y="649.35" width="3.9" height="3.9" fill="#fff" stroke="#111" stroke-width="0.7"/>
<rect x="646.35" y="652.9" width="3.9" height="3.9" fill="#fff" stroke="#111" stroke-width="0.7"/>
<path d="M661.6 617.17 L663.84 621.2 L659.36 621.2 Z" fill="#fff" stroke="#111" stroke-width="0.7"/>
<path d="M661.6 623.71 L663.84 627.75 L659.36 627.75 Z" fill="#fff" stroke="#111" stroke-width="0.7"/>
<path d="M659.6 635.02 L661.84 639.06 L657.36 639.06 Z" fill="#fff" stroke="#111" stroke-width="0.7"/>
<path d="M663.9 634.75 L666.14 638.79 L661.66 638.79 Z" fill="#fff" stroke="#111" stroke-width="0.7"/>
<path d="M660.6 638.57 L662.84 642.6 L658.36 642.6 Z" fill="#fff" stroke="#111" stroke-width="0.7"/>
<path d="M664.1 638.57 L666.34 642.6 L661.86 642.6 Z" fill="#fff" stroke="#111" stroke-width="0.7"/>
<path d="M661.6 648.24 L663.84 652.28 L659.36 652.28 Z" fill="#fff" stroke="#111" stroke-width="0.7"/>
<path d="M672 621.24 L674.24 617.21 L669.76 617.21 Z" fill="#fff" stroke="#111" stroke-width="0.7"/>
<path d="M676.3 621.24 L678.54 617.21 L674.06 617.21 Z" fill="#fff" stroke="#111" stroke-width="0.7"/>
<path d="M670.3 624.65 L672.54 620.61 L668.06 620.61 Z" fill="#fff" stroke="#111" stroke-width="0.7"/>
<path d="M673.8 624.38 L676.04 620.34 L671.56 620.34 Z" fill="#fff" stroke="#111" stroke-width="0.7"/>
<path d="M676.7 624.92 L678.94 620.89 L674.46 620.89 Z" fill="#fff" stroke="#111" stroke-width="0.7"/>
<path d="M672.5 627.38 L674.74 623.34 L670.26 623.34 Z" fill="#fff" stroke="#111" stroke-width="0.7"/>
<path d="M675.5 627.1 L677.74 623.07 L673.26 623.07 Z" fill="#fff" stroke="#111" stroke-width="0.7"/>
<text x="600.6" y="614.9" font-size="10" text-anchor="middle" transform="rotate(-90 600.6 614.9)" fill="#111">Sox2<tspan font-size="6" dy="-3.6">+</tspan><tspan dy="3.6"> cells / DG (mm</tspan><tspan font-size="6" dy="-3.6">2</tspan><tspan dy="3.6">)</tspan></text>
<line x1="638.3" y1="580.4" x2="651.8" y2="580.4" stroke="#2a2a2a" stroke-width="1"/>
<text x="644.25" y="581.1" font-size="10.2" text-anchor="middle" fill="#222" stroke="#222" stroke-width="0.18">***</text>
<line x1="650" y1="569.4" x2="676.6" y2="569.4" stroke="#2a2a2a" stroke-width="1"/>
<text x="662.5" y="570.1" font-size="10.2" text-anchor="middle" fill="#222" stroke="#222" stroke-width="0.18">**</text>
<text x="642.4" y="689.5" font-size="10" text-anchor="end" transform="rotate(-45 642.4 689.5)" fill="#111" stroke="#111" stroke-width="0.18">WT</text>
<text x="654" y="689.5" font-size="10" text-anchor="end" transform="rotate(-45 654 689.5)" fill="#111" stroke="#111" stroke-width="0.18">iKO</text>
<text x="672.2" y="688.7" font-size="10" text-anchor="end" transform="rotate(-45 672.2 688.7)" fill="#111">Nrf2<tspan font-size="6" dy="-3.5" fill="#555">-/-</tspan></text>
<text x="683.3" y="688.7" font-size="10" text-anchor="end" transform="rotate(-45 683.3 688.7)" fill="#111" stroke="#111" stroke-width="0.18">DKO</text>
<rect x="533.65" y="780.59" width="9.1" height="51.51" fill="#A9A9A9" stroke="#222" stroke-width="0.7"/>
<rect x="545.55" y="806.81" width="9.1" height="25.29" fill="#4DAF3B" stroke="#222" stroke-width="0.7"/>
<rect x="557.65" y="788.52" width="9.1" height="43.58" fill="#F1B642" stroke="#222" stroke-width="0.7"/>
<rect x="570.15" y="780.59" width="9.1" height="51.51" fill="#3F9AE6" stroke="#222" stroke-width="0.7"/>
<line x1="528.3" y1="724.1" x2="528.3" y2="832.5" stroke="#111" stroke-width="0.9"/>
<line x1="528.3" y1="832.1" x2="582.5" y2="832.1" stroke="#111" stroke-width="0.9"/>
<line x1="525.3" y1="832.1" x2="528.3" y2="832.1" stroke="#111" stroke-width="0.9"/>
<text x="524.7" y="835.6" font-size="10" text-anchor="end" fill="#111" stroke="#111" stroke-width="0.18">0</text>
<line x1="525.3" y1="805.2" x2="528.3" y2="805.2" stroke="#111" stroke-width="0.9"/>
<text x="524.7" y="808.7" font-size="10" text-anchor="end" fill="#111" stroke="#111" stroke-width="0.18">200</text>
<line x1="525.3" y1="778.3" x2="528.3" y2="778.3" stroke="#111" stroke-width="0.9"/>
<text x="524.7" y="781.8" font-size="10" text-anchor="end" fill="#111" stroke="#111" stroke-width="0.18">400</text>
<line x1="525.3" y1="751.4" x2="528.3" y2="751.4" stroke="#111" stroke-width="0.9"/>
<text x="524.7" y="754.9" font-size="10" text-anchor="end" fill="#111" stroke="#111" stroke-width="0.18">600</text>
<line x1="525.3" y1="724.5" x2="528.3" y2="724.5" stroke="#111" stroke-width="0.9"/>
<text x="524.7" y="728" font-size="10" text-anchor="end" fill="#111" stroke="#111" stroke-width="0.18">800</text>
<line x1="538.2" y1="832.1" x2="538.2" y2="836.1" stroke="#111" stroke-width="0.9"/>
<line x1="538.2" y1="787.98" x2="538.2" y2="772.65" stroke="#111" stroke-width="0.85"/>
<line x1="535.6" y1="787.98" x2="540.8" y2="787.98" stroke="#111" stroke-width="0.85"/>
<line x1="535.6" y1="772.65" x2="540.8" y2="772.65" stroke="#111" stroke-width="0.85"/>
<line x1="550.1" y1="832.1" x2="550.1" y2="836.1" stroke="#111" stroke-width="0.9"/>
<line x1="550.1" y1="808.16" x2="550.1" y2="805.47" stroke="#111" stroke-width="0.85"/>
<line x1="547.5" y1="808.16" x2="552.7" y2="808.16" stroke="#111" stroke-width="0.85"/>
<line x1="547.5" y1="805.47" x2="552.7" y2="805.47" stroke="#111" stroke-width="0.85"/>
<line x1="562.2" y1="832.1" x2="562.2" y2="836.1" stroke="#111" stroke-width="0.9"/>
<line x1="562.2" y1="792.83" x2="562.2" y2="784.08" stroke="#111" stroke-width="0.85"/>
<line x1="559.6" y1="792.83" x2="564.8" y2="792.83" stroke="#111" stroke-width="0.85"/>
<line x1="559.6" y1="784.08" x2="564.8" y2="784.08" stroke="#111" stroke-width="0.85"/>
<line x1="574.7" y1="832.1" x2="574.7" y2="836.1" stroke="#111" stroke-width="0.9"/>
<line x1="574.7" y1="789.33" x2="574.7" y2="772.65" stroke="#111" stroke-width="0.85"/>
<line x1="572.1" y1="789.33" x2="577.3" y2="789.33" stroke="#111" stroke-width="0.85"/>
<line x1="572.1" y1="772.65" x2="577.3" y2="772.65" stroke="#111" stroke-width="0.85"/>
<circle cx="537.8" cy="750.32" r="1.95" fill="#fff" stroke="#111" stroke-width="0.7"/>
<circle cx="537.8" cy="764.31" r="1.95" fill="#fff" stroke="#111" stroke-width="0.7"/>
<circle cx="537.8" cy="780.59" r="1.95" fill="#fff" stroke="#111" stroke-width="0.7"/>
<circle cx="537.8" cy="789.33" r="1.95" fill="#fff" stroke="#111" stroke-width="0.7"/>
<circle cx="537.8" cy="794.04" r="1.95" fill="#fff" stroke="#111" stroke-width="0.7"/>
<circle cx="537.8" cy="799.82" r="1.95" fill="#fff" stroke="#111" stroke-width="0.7"/>
<rect x="545.95" y="803.25" width="3.9" height="3.9" fill="#fff" stroke="#111" stroke-width="0.7"/>
<rect x="548.65" y="801.1" width="3.9" height="3.9" fill="#fff" stroke="#111" stroke-width="0.7"/>
<rect x="550.75" y="802.31" width="3.9" height="3.9" fill="#fff" stroke="#111" stroke-width="0.7"/>
<rect x="546.85" y="805.94" width="3.9" height="3.9" fill="#fff" stroke="#111" stroke-width="0.7"/>
<rect x="548.95" y="806.61" width="3.9" height="3.9" fill="#fff" stroke="#111" stroke-width="0.7"/>
<rect x="551.75" y="804.19" width="3.9" height="3.9" fill="#fff" stroke="#111" stroke-width="0.7"/>
<path d="M562.3 770.95 L564.54 774.98 L560.06 774.98 Z" fill="#fff" stroke="#111" stroke-width="0.7"/>
<path d="M559.3 777 L561.54 781.04 L557.06 781.04 Z" fill="#fff" stroke="#111" stroke-width="0.7"/>
<path d="M562.3 780.5 L564.54 784.53 L560.06 784.53 Z" fill="#fff" stroke="#111" stroke-width="0.7"/>
<path d="M562.3 789.78 L564.54 793.81 L560.06 793.81 Z" fill="#fff" stroke="#111" stroke-width="0.7"/>
<path d="M559.3 795.29 L561.54 799.33 L557.06 799.33 Z" fill="#fff" stroke="#111" stroke-width="0.7"/>
<path d="M562.3 795.29 L564.54 799.33 L560.06 799.33 Z" fill="#fff" stroke="#111" stroke-width="0.7"/>
<path d="M565.4 795.29 L567.64 799.33 L563.16 799.33 Z" fill="#fff" stroke="#111" stroke-width="0.7"/>
<path d="M573.7 759.16 L575.94 755.12 L571.46 755.12 Z" fill="#fff" stroke="#111" stroke-width="0.7"/>
<path d="M576.9 759.16 L579.14 755.12 L574.66 755.12 Z" fill="#fff" stroke="#111" stroke-width="0.7"/>
<path d="M571.6 790.76 L573.84 786.73 L569.36 786.73 Z" fill="#fff" stroke="#111" stroke-width="0.7"/>
<path d="M574.8 790.76 L577.04 786.73 L572.56 786.73 Z" fill="#fff" stroke="#111" stroke-width="0.7"/>
<path d="M577.7 790.76 L579.94 786.73 L575.46 786.73 Z" fill="#fff" stroke="#111" stroke-width="0.7"/>
<path d="M574.8 793.32 L577.04 789.28 L572.56 789.28 Z" fill="#fff" stroke="#111" stroke-width="0.7"/>
<path d="M571.6 795.47 L573.84 791.44 L569.36 791.44 Z" fill="#fff" stroke="#111" stroke-width="0.7"/>
<path d="M577.7 795.47 L579.94 791.44 L575.46 791.44 Z" fill="#fff" stroke="#111" stroke-width="0.7"/>
<text x="506" y="774.4" font-size="10" text-anchor="middle" transform="rotate(-90 506 774.4)" fill="#111">Neurod1<tspan font-size="6" dy="-3.6">+</tspan><tspan dy="3.6"> cells / DG (mm</tspan><tspan font-size="6" dy="-3.6">2</tspan><tspan dy="3.6">)</tspan></text>
<line x1="537.4" y1="739.4" x2="550.2" y2="739.4" stroke="#2a2a2a" stroke-width="1"/>
<text x="543" y="740.1" font-size="10.2" text-anchor="middle" fill="#222" stroke="#222" stroke-width="0.18">*</text>
<line x1="550.2" y1="729.4" x2="574.2" y2="729.4" stroke="#2a2a2a" stroke-width="1"/>
<text x="561.4" y="730.1" font-size="10.2" text-anchor="middle" fill="#222" stroke="#222" stroke-width="0.18">*</text>
<text x="542.7" y="842" font-size="10" text-anchor="end" transform="rotate(-45 542.7 842)" fill="#111" stroke="#111" stroke-width="0.18">WT</text>
<text x="554.3" y="842" font-size="10" text-anchor="end" transform="rotate(-45 554.3 842)" fill="#111" stroke="#111" stroke-width="0.18">iKO</text>
<text x="572.8" y="841.2" font-size="10" text-anchor="end" transform="rotate(-45 572.8 841.2)" fill="#111">Nrf2<tspan font-size="6" dy="-3.5" fill="#555">-/-</tspan></text>
<text x="584.5" y="841.2" font-size="10" text-anchor="end" transform="rotate(-45 584.5 841.2)" fill="#111" stroke="#111" stroke-width="0.18">DKO</text>
<rect x="634.25" y="759.98" width="9.1" height="72.12" fill="#A9A9A9" stroke="#222" stroke-width="0.7"/>
<rect x="646.15" y="806.35" width="9.1" height="25.75" fill="#4DAF3B" stroke="#222" stroke-width="0.7"/>
<rect x="657.85" y="775.22" width="9.1" height="56.88" fill="#F1B642" stroke="#222" stroke-width="0.7"/>
<rect x="669.65" y="759.98" width="9.1" height="72.12" fill="#3F9AE6" stroke="#222" stroke-width="0.7"/>
<line x1="629" y1="722.84" x2="629" y2="832.5" stroke="#111" stroke-width="0.9"/>
<line x1="629" y1="832.1" x2="683.3" y2="832.1" stroke="#111" stroke-width="0.9"/>
<line x1="626" y1="832.1" x2="629" y2="832.1" stroke="#111" stroke-width="0.9"/>
<text x="625.4" y="835.6" font-size="10" text-anchor="end" fill="#111" stroke="#111" stroke-width="0.18">0</text>
<line x1="626" y1="804.88" x2="629" y2="804.88" stroke="#111" stroke-width="0.9"/>
<text x="625.4" y="808.38" font-size="10" text-anchor="end" fill="#111" stroke="#111" stroke-width="0.18">500</text>
<line x1="626" y1="777.67" x2="629" y2="777.67" stroke="#111" stroke-width="0.9"/>
<text x="625.4" y="781.17" font-size="10" text-anchor="end" fill="#111" stroke="#111" stroke-width="0.18">1000</text>
<line x1="626" y1="750.46" x2="629" y2="750.46" stroke="#111" stroke-width="0.9"/>
<text x="625.4" y="753.96" font-size="10" text-anchor="end" fill="#111" stroke="#111" stroke-width="0.18">1500</text>
<line x1="626" y1="723.24" x2="629" y2="723.24" stroke="#111" stroke-width="0.9"/>
<text x="625.4" y="726.74" font-size="10" text-anchor="end" fill="#111" stroke="#111" stroke-width="0.18">2000</text>
<line x1="638.8" y1="832.1" x2="638.8" y2="836.1" stroke="#111" stroke-width="0.9"/>
<line x1="638.8" y1="766.46" x2="638.8" y2="753.34" stroke="#111" stroke-width="0.85"/>
<line x1="636.2" y1="766.46" x2="641.4" y2="766.46" stroke="#111" stroke-width="0.85"/>
<line x1="636.2" y1="753.34" x2="641.4" y2="753.34" stroke="#111" stroke-width="0.85"/>
<line x1="650.7" y1="832.1" x2="650.7" y2="836.1" stroke="#111" stroke-width="0.9"/>
<line x1="650.7" y1="810.44" x2="650.7" y2="800.59" stroke="#111" stroke-width="0.85"/>
<line x1="648.1" y1="810.44" x2="653.3" y2="810.44" stroke="#111" stroke-width="0.85"/>
<line x1="648.1" y1="800.59" x2="653.3" y2="800.59" stroke="#111" stroke-width="0.85"/>
<line x1="662.4" y1="832.1" x2="662.4" y2="836.1" stroke="#111" stroke-width="0.9"/>
<line x1="662.4" y1="782.24" x2="662.4" y2="767.33" stroke="#111" stroke-width="0.85"/>
<line x1="659.8" y1="782.24" x2="665" y2="782.24" stroke="#111" stroke-width="0.85"/>
<line x1="659.8" y1="767.33" x2="665" y2="767.33" stroke="#111" stroke-width="0.85"/>
<line x1="674.2" y1="832.1" x2="674.2" y2="836.1" stroke="#111" stroke-width="0.9"/>
<line x1="674.2" y1="767.33" x2="674.2" y2="753.88" stroke="#111" stroke-width="0.85"/>
<line x1="671.6" y1="767.33" x2="676.8" y2="767.33" stroke="#111" stroke-width="0.85"/>
<line x1="671.6" y1="753.88" x2="676.8" y2="753.88" stroke="#111" stroke-width="0.85"/>
<circle cx="638.8" cy="739.02" r="1.95" fill="#fff" stroke="#111" stroke-width="0.7"/>
<circle cx="638.8" cy="744.25" r="1.95" fill="#fff" stroke="#111" stroke-width="0.7"/>
<circle cx="638.8" cy="754.59" r="1.95" fill="#fff" stroke="#111" stroke-width="0.7"/>
<circle cx="636.9" cy="768.2" r="1.95" fill="#fff" stroke="#111" stroke-width="0.7"/>
<circle cx="640.4" cy="772.61" r="1.95" fill="#fff" stroke="#111" stroke-width="0.7"/>
<circle cx="638.8" cy="777.51" r="1.95" fill="#fff" stroke="#111" stroke-width="0.7"/>
<rect x="649.85" y="791.99" width="3.9" height="3.9" fill="#fff" stroke="#111" stroke-width="0.7"/>
<rect x="646.85" y="795.15" width="3.9" height="3.9" fill="#fff" stroke="#111" stroke-width="0.7"/>
<rect x="648.55" y="802.17" width="3.9" height="3.9" fill="#fff" stroke="#111" stroke-width="0.7"/>
<rect x="650.35" y="817.03" width="3.9" height="3.9" fill="#fff" stroke="#111" stroke-width="0.7"/>
<rect x="646.85" y="819.1" width="3.9" height="3.9" fill="#fff" stroke="#111" stroke-width="0.7"/>
<path d="M662.4 743.59 L664.64 747.62 L660.16 747.62 Z" fill="#fff" stroke="#111" stroke-width="0.7"/>
<path d="M662.4 759.86 L664.64 763.9 L660.16 763.9 Z" fill="#fff" stroke="#111" stroke-width="0.7"/>
<path d="M662.4 765.96 L664.64 769.99 L660.16 769.99 Z" fill="#fff" stroke="#111" stroke-width="0.7"/>
<path d="M660.2 784.35 L662.44 788.39 L657.96 788.39 Z" fill="#fff" stroke="#111" stroke-width="0.7"/>
<path d="M664.4 786.1 L666.64 790.13 L662.16 790.13 Z" fill="#fff" stroke="#111" stroke-width="0.7"/>
<path d="M662.4 793.99 L664.64 798.02 L660.16 798.02 Z" fill="#fff" stroke="#111" stroke-width="0.7"/>
<path d="M674.2 740.72 L676.44 736.69 L671.96 736.69 Z" fill="#fff" stroke="#111" stroke-width="0.7"/>
<path d="M671.9 750.52 L674.14 746.48 L669.66 746.48 Z" fill="#fff" stroke="#111" stroke-width="0.7"/>
<path d="M674.5 751.61 L676.74 747.57 L672.26 747.57 Z" fill="#fff" stroke="#111" stroke-width="0.7"/>
<path d="M676.3 750.25 L678.54 746.21 L674.06 746.21 Z" fill="#fff" stroke="#111" stroke-width="0.7"/>
<path d="M674.2 756.51 L676.44 752.47 L671.96 752.47 Z" fill="#fff" stroke="#111" stroke-width="0.7"/>
<path d="M674.2 775.34 L676.44 771.3 L671.96 771.3 Z" fill="#fff" stroke="#111" stroke-width="0.7"/>
<path d="M674.2 795.48 L676.44 791.44 L671.96 791.44 Z" fill="#fff" stroke="#111" stroke-width="0.7"/>
<text x="600.6" y="777.4" font-size="10" text-anchor="middle" transform="rotate(-90 600.6 777.4)" fill="#111">Dcx<tspan font-size="6" dy="-3.6">+</tspan><tspan dy="3.6"> cells / DG (mm</tspan><tspan font-size="6" dy="-3.6">2</tspan><tspan dy="3.6">)</tspan></text>
<line x1="636" y1="729.75" x2="649.1" y2="729.75" stroke="#2a2a2a" stroke-width="1"/>
<text x="641.75" y="730.45" font-size="10.2" text-anchor="middle" fill="#222" stroke="#222" stroke-width="0.18">**</text>
<line x1="650" y1="729.75" x2="671.9" y2="729.75" stroke="#2a2a2a" stroke-width="1"/>
<text x="660.15" y="730.45" font-size="10.2" text-anchor="middle" fill="#222" stroke="#222" stroke-width="0.18">**</text>
<text x="643.3" y="842" font-size="10" text-anchor="end" transform="rotate(-45 643.3 842)" fill="#111" stroke="#111" stroke-width="0.18">WT</text>
<text x="654.9" y="842" font-size="10" text-anchor="end" transform="rotate(-45 654.9 842)" fill="#111" stroke="#111" stroke-width="0.18">iKO</text>
<text x="673" y="841.2" font-size="10" text-anchor="end" transform="rotate(-45 673 841.2)" fill="#111">Nrf2<tspan font-size="6" dy="-3.5" fill="#555">-/-</tspan></text>
<text x="684" y="841.2" font-size="10" text-anchor="end" transform="rotate(-45 684 841.2)" fill="#111" stroke="#111" stroke-width="0.18">DKO</text>
</svg>
</body></html>
